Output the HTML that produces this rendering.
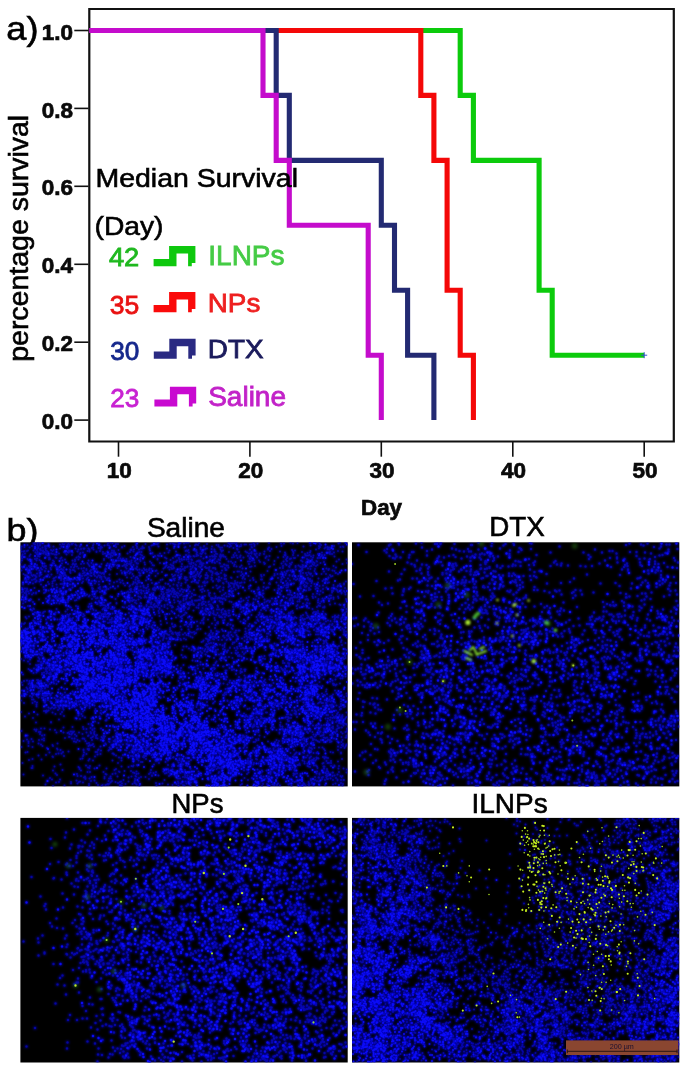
<!DOCTYPE html>
<html><head><meta charset="utf-8"><title>fig</title>
<style>
html,body{margin:0;padding:0;background:#fff;}
body{width:685px;height:1069px;overflow:hidden;}
svg{display:block;will-change:transform;}
text{font-family:"Liberation Sans",sans-serif;}
.b{font-weight:bold;font-size:22.5px;fill:#0a0a0a;stroke:#0a0a0a;stroke-width:.7px;}
.r{font-size:26.5px;stroke-width:.8px;}
.k{stroke:#000;stroke-width:.6px;}
</style></head><body>
<svg width="685" height="1069" viewBox="0 0 685 1069">
<rect width="685" height="1069" fill="#fff"/>

<g fill="none" stroke="#111" stroke-width="2.2" stroke-linecap="square">
<path d="M89.3 9V441.5H673.8V9Z"/>
</g>
<g stroke="#111" stroke-width="1.6">
<path d="M74.3 420.1H88.5"/>
<path d="M74.3 342.2H88.5"/>
<path d="M74.3 264.3H88.5"/>
<path d="M74.3 186.3H88.5"/>
<path d="M74.3 108.4H88.5"/>
<path d="M74.3 30.5H88.5"/>
<path d="M118.5 442V456.7"/>
<path d="M249.9 442V456.7"/>
<path d="M381.3 442V456.7"/>
<path d="M512.8 442V456.7"/>
<path d="M644.2 442V456.7"/>
</g>
<text class="b" x="73" y="429.2" text-anchor="end">0.0</text>
<text class="b" x="73" y="351.3" text-anchor="end">0.2</text>
<text class="b" x="73" y="273.4" text-anchor="end">0.4</text>
<text class="b" x="73" y="195.4" text-anchor="end">0.6</text>
<text class="b" x="73" y="117.5" text-anchor="end">0.8</text>
<text class="b" x="73" y="39.6" text-anchor="end">1.0</text>
<text class="b" x="119.2" y="478.2" text-anchor="middle">10</text>
<text class="b" x="250.7" y="478.2" text-anchor="middle">20</text>
<text class="b" x="382.1" y="478.2" text-anchor="middle">30</text>
<text class="b" x="513.6" y="478.2" text-anchor="middle">40</text>
<text class="b" x="645.0" y="478.2" text-anchor="middle">50</text>
<text class="b" x="361" y="515" textLength="41" lengthAdjust="spacingAndGlyphs">Day</text>
<text class="r k" fill="#000" transform="translate(27.6 361.8) rotate(-90)" textLength="247" lengthAdjust="spacingAndGlyphs" style="font-size:27px">percentage survival</text>
<text class="k" x="6.3" y="39.7" style="font-size:33px" fill="#000" textLength="32.2" lengthAdjust="spacingAndGlyphs">a)</text>
<text class="k" x="6.6" y="541" style="font-size:32px" fill="#000" textLength="31.9" lengthAdjust="spacingAndGlyphs">b)</text>
<g fill="none" stroke-width="5.1" stroke-linejoin="miter" stroke-linecap="butt">
<path stroke="#0ccb0c" d="M89.3 30.5H460.2V95.4H473.4V160.4H539.1V290.2H552.2V355.2H644.2"/>
<path stroke="#3355cc" stroke-width="1" d="M641.2 355.2h6m-3 -3v6"/>
<path stroke="#f40808" d="M89.3 30.5H420.8V95.4H433.9V160.4H447.1V290.2H460.2V355.2H473.4V420.1"/>
<path stroke="#232a72" d="M89.3 30.5H276.2V95.4H289.3V160.4H381.3V225.3H394.5V290.2H407.6V355.2H433.9V420.1"/>
<path stroke="#c40ccc" d="M89.3 30.5H263.0V95.4H276.2V160.4H289.3V225.3H368.2V355.2H381.3V420.1"/>
</g>
<text class="r k" x="95.5" y="187.2" fill="#000" textLength="202.5" lengthAdjust="spacingAndGlyphs">Median Survival</text>
<text class="r k" x="94.5" y="234.9" fill="#000" textLength="69" lengthAdjust="spacingAndGlyphs">(Day)</text>
<text class="r" x="108.9" y="265.7" fill="#1fb81f" stroke="#1fb81f" textLength="30.4" lengthAdjust="spacingAndGlyphs">42</text>
<path fill="#0ec80e" d="M153.6 266.2V259.0H169.1V246.1H195.4V263.0H191.8V266.2H188.1V253.6H176.5V266.2Z"/>
<text class="r" x="208.3" y="265.3" fill="#45cb45" stroke="#45cb45" style="font-size:28.3px" textLength="76.2" lengthAdjust="spacingAndGlyphs">ILNPs</text>
<text class="r" x="109.8" y="313.6" fill="#e91212" stroke="#e91212" textLength="29.5" lengthAdjust="spacingAndGlyphs">35</text>
<path fill="#fa0a0a" d="M153.6 312.2V305.0H169.1V292.1H195.4V309.0H191.8V312.2H188.1V299.6H176.5V312.2Z"/>
<text class="r" x="207.8" y="312.2" fill="#ee2020" stroke="#ee2020" style="font-size:26.5px" textLength="52.5" lengthAdjust="spacingAndGlyphs">NPs</text>
<text class="r" x="110.2" y="360.2" fill="#16288c" stroke="#16288c" textLength="29.1" lengthAdjust="spacingAndGlyphs">30</text>
<path fill="#2a2a82" d="M153.8 358.7V351.5H169.3V338.8H195.6V355.5H192.0V358.7H188.3V346.3H176.7V358.7Z"/>
<text class="r" x="207.8" y="358.2" fill="#1b1b5c" stroke="#1b1b5c" style="font-size:26.5px" textLength="55.7" lengthAdjust="spacingAndGlyphs">DTX</text>
<text class="r" x="110.2" y="406.8" fill="#c822d2" stroke="#c822d2" textLength="29.1" lengthAdjust="spacingAndGlyphs">23</text>
<path fill="#c80ad0" d="M154.4 406.6V399.4H169.9V386.7H196.2V403.4H192.6V406.6H188.9V394.2H177.3V406.6Z"/>
<text class="r" x="208.2" y="405.9" fill="#c222c8" stroke="#c222c8" style="font-size:26.8px" textLength="77.8" lengthAdjust="spacingAndGlyphs">Saline</text>
<text x="185.9" y="537.0" class="k" text-anchor="middle" fill="#000" style="font-size:27px" textLength="78" lengthAdjust="spacingAndGlyphs">Saline</text>
<text x="517.0" y="536.4" class="k" text-anchor="middle" fill="#000" style="font-size:27px" textLength="55.5" lengthAdjust="spacingAndGlyphs">DTX</text>
<text x="197.5" y="812.6" class="k" text-anchor="middle" fill="#000" style="font-size:27px" textLength="52" lengthAdjust="spacingAndGlyphs">NPs</text>
<text x="509.6" y="812.7" class="k" text-anchor="middle" fill="#000" style="font-size:27px" textLength="76" lengthAdjust="spacingAndGlyphs">ILNPs</text>
<defs>
<filter id="bl" x="0" y="0" width="100%" height="100%" filterUnits="userSpaceOnUse" color-interpolation-filters="sRGB"><feGaussianBlur stdDeviation="0.9"/></filter><filter id="bl2" x="0" y="0" width="100%" height="100%" filterUnits="userSpaceOnUse" color-interpolation-filters="sRGB"><feGaussianBlur stdDeviation="1.8"/></filter>
<clipPath id="c_saline"><rect x="20.4" y="542.3" width="327.3" height="244.1"/></clipPath>
<clipPath id="c_dtx"><rect x="352" y="542.3" width="327.3" height="244.1"/></clipPath>
<clipPath id="c_nps"><rect x="20.4" y="817.9" width="327.3" height="244.6"/></clipPath>
<clipPath id="c_ilnps"><rect x="352" y="817.9" width="327.3" height="244.6"/></clipPath>
</defs>
<rect x="20.4" y="542.3" width="327.3" height="244.1" fill="#000"/>
<g clip-path="url(#c_saline)">
<defs><path id="pa_saline" d="M85 1086h0m109 1h0m80 0h0m34 0h0m50-2h0m262 0h0m8 1h0m3 1h0m60-2h0m-642 5h0m21 4h0m27-3h0m30 3h0m7-1h0m28-4h0m12 2h0m24-1h0m30 2h0m121 1h0m8 1h0m117-2h0m177-3h0m13 3h0m30-3h0m-624 8h0m43 2h0m17 3h0m2 0h0m12 0h0m75-6h0m170 2h0m17 2h0m103 0h0m154-4h0m3 2h0m-586 10h0m17-1h0m16-3h0m56 7h0m1-1h0m46-5h0m16 4h0m7-1h0m32 3h0m1-2h0m2-2h0m27 0h0m53 3h0m69-6h0m215 7h0m1-3h0m15-2h0m-606 8h0m12 5h0m10-7h0m20 4h0m78-2h0m45-2h0m56 4h0m6 2h0m11-1h0m21-3h0m16-2h0m45 2h0m8 0h0m37 0h0m93 3h0m99-2h0m41 1h0m1-1h0m4 1h0m-590 6h0m2 5h0m22 0h0m34-5h0m13 3h0m33-2h0m20-2h0m38-1h0m9 1h0m12 1h0m4-1h0m3 2h0m77 4h0m5-2h0m81 0h0m11-4h0m57 0h0m133 3h0m6-2h0m-573 11h0m0 1h0m15-6h0m6 5h0m1-5h0m33 3h0m8 0h0m8 3h0m2-3h0m63 3h0m3-1h0m5-4h0m7 4h0m14-2h0m6 1h0m7-3h0m12 3h0m26 2h0m348-2h0m38-3h0m-598 10h0m7 2h0m4-3h0m13-2h0m21 7h0m17-4h0m19 0h0m55-2h0m2 6h0m21 0h0m7-7h0m43 2h0m1 0h0m4 1h0m39 3h0m50-3h0m37-1h0m12 1h0m88-2h0m60 3h0m34 3h0m13-1h0m47-4h0m37 3h0m8-1h0m-634 6h0m24-1h0m41-1h0m2 2h0m1 1h0m34 3h0m16-3h0m19-2h0m56 1h0m37 0h0m0-1h0m11 6h0m33 0h0m51-7h0m0 4h0m110-1h0m73 2h0m68-1h0m47-3h0m-629 11h0m5-2h0m25 5h0m13-6h0m24 2h0m12 1h0m7-1h0m2 3h0m3 0h0m7-2h0m6-1h0m3 1h0m1 3h0m138-1h0m62-3h0m184 3h0m2-1h0m45-5h0m12 1h0m5 3h0m3 2h0m42 0h0m-606 7h0m6-1h0m8 1h0m26-5h0m43 7h0m6 0h0m11 0h0m10 0h0m22-7h0m4 7h0m7-6h0m17 2h0m13-2h0m36 5h0m29 0h0m28 1h0m29-7h0m2 1h0m47-1h0m176 6h0m36 0h0m1-2h0m47 2h0m20-4h0m-578 9h0m35 4h0m8-3h0m15 0h0m61 1h0m15 0h0m89 1h0m171 1h0m15-4h0m61 3h0m20-5h0m52 0h0m47 3h0m1 1h0m-637 6h0m17 1h0m16 2h0m14-2h0m11-1h0m2 2h0m3-3h0m5 3h0m9 1h0m19-2h0m15 2h0m7-3h0m22 4h0m20-1h0m68-4h0m52 0h0m48 4h0m86 0h0m49 1h0m66-2h0m22-4h0m0 2h0m12 1h0m27 2h0m21-4h0m12-1h0m12 5h0m14 0h0m-595 9h0m5-7h0m6 1h0m4-1h0m10 3h0m2 1h0m6-4h0m13 7h0m5-1h0m13-4h0m6 1h0m20 1h0m20-3h0m28 3h0m8-1h0m4-1h0m8 5h0m13 0h0m3-7h0m21 2h0m6 4h0m6 0h0m32 1h0m36 0h0m103-4h0m42-2h0m1 4h0m35-3h0m34 0h0m12 2h0m-558 11h0m2-5h0m6 1h0m0 3h0m46-5h0m14-1h0m14 7h0m1-3h0m11-3h0m0 4h0m1-3h0m4 4h0m17-4h0m6-2h0m37 4h0m2 3h0m20-5h0m25-1h0m6 1h0m3 1h0m42 0h0m5 2h0m7-1h0m26 3h0m67-4h0m62-3h0m84 5h0m6-3h0m10-1h0m37 2h0m1-3h0m48 2h0m-595 7h0m1 0h0m27 5h0m9-3h0m1-2h0m11 0h0m1 5h0m8-5h0m6 1h0m3-2h0m1 4h0m1-4h0m4 5h0m60 0h0m11 1h0m8-6h0m35 2h0m5 2h0m7-3h0m39 2h0m23 2h0m21 0h0m90-1h0m43 3h0m5-4h0m38 0h0m47-2h0m1-1h0m7 5h0m5 2h0m10 0h0m61-6h0m11 1h0m36 1h0m-650 11h0m16-2h0m9-4h0m34 0h0m29 3h0m5 1h0m46 0h0m33-2h0m9 4h0m40-1h0m14-1h0m89 0h0m8-4h0m98 2h0m2 0h0m11 5h0m6-5h0m13 1h0m3 3h0m4-1h0m11-5h0m4 7h0m7-4h0m14-3h0m5 0h0m16 7h0m7-4h0m27 3h0m10-2h0m74-2h0m-639 6h0m12 3h0m38 3h0m4 1h0m41-3h0m11 3h0m1-6h0m21 6h0m33-2h0m3 0h0m17 1h0m2 0h0m5 1h0m21-5h0m4 1h0m9-1h0m2 1h0m9 2h0m2 0h0m3 1h0m2-4h0m5 2h0m2-2h0m66 0h0m0 5h0m53-5h0m8-1h0m43 6h0m27 0h0m1-6h0m4 5h0m7-2h0m5-4h0m1 3h0m1-3h0m31 3h0m4 3h0m6-4h0m18 1h0m115 1h0m-620 8h0m9-4h0m2 1h0m1 5h0m1 1h0m23-3h0m1-4h0m5 4h0m9-4h0m1 1h0m29 3h0m2 0h0m7-3h0m4 0h0m1 5h0m13-6h0m11 4h0m5 2h0m1-1h0m2-1h0m3-2h0m20 1h0m4 1h0m11-2h0m10 0h0m0 5h0m3-4h0m7 2h0m16-5h0m3 2h0m0 5h0m15-4h0m1 1h0m4 0h0m5-4h0m3 2h0m2 5h0m8-6h0m18-1h0m8 4h0m15-1h0m53-3h0m4 5h0m13 1h0m48-1h0m22-2h0m2 2h0m1-4h0m61-1h0m6 4h0m4-4h0m15 7h0m53-2h0m13-1h0m42 2h0m-616 6h0m5-3h0m1 5h0m11-6h0m9 3h0m5-2h0m8 6h0m16-2h0m1-4h0m1 3h0m4-4h0m7 7h0m15-6h0m4 3h0m1-4h0m11 6h0m22-4h0m9 3h0m7-4h0m25 5h0m3-4h0m5 2h0m1 2h0m7-1h0m14-5h0m3 5h0m2 1h0m2-4h0m1 0h0m3-2h0m10 3h0m5 2h0m44 1h0m11-1h0m36-4h0m99 0h0m19 2h0m26-2h0m5 2h0m23-3h0m9 3h0m8-1h0m3 0h0m7-1h0m4 6h0m1-4h0m40-2h0m3 0h0m11-1h0m1 7h0m1-6h0m5 2h0m3 0h0m4 2h0m40 2h0m1-4h0m-632 12h0m3-1h0m7 0h0m3 1h0m8-4h0m12 4h0m9-7h0m21 5h0m1 1h0m1-5h0m8 5h0m2-2h0m2-2h0m3-1h0m3 5h0m4-1h0m3 2h0m0-1h0m7-6h0m9 3h0m4-3h0m1 6h0m0 1h0m5-7h0m9 3h0m1-1h0m4 3h0m1-1h0m1-2h0m5 3h0m2 1h0m8-3h0m22 0h0m2 0h0m0 3h0m1 0h0m3-4h0m17 4h0m6-3h0m9 1h0m0-3h0m13 5h0m0 1h0m1-4h0m4 3h0m1-1h0m0-1h0m1-3h0m5 3h0m5 0h0m1 3h0m2-5h0m1-1h0m62 1h0m9 2h0m10 1h0m6 0h0m59 1h0m15-6h0m25 6h0m37 0h0m12-6h0m7 4h0m6 1h0m12-1h0m2 0h0m18-3h0m3 4h0m17-5h0m16 6h0m10-6h0m47 3h0m9 0h0m-642 7h0m1 3h0m18-3h0m0 4h0m5-1h0m12-5h0m4 6h0m5 0h0m11-3h0m3 2h0m4 0h0m13-3h0m0 5h0m2-7h0m10 3h0m1 1h0m0 2h0m6-5h0m5 5h0m4 0h0m3-2h0m2-3h0m2 0h0m10 5h0m3 0h0m3-2h0m0-1h0m1 1h0m1 0h0m2-1h0m2 2h0m2 2h0m8-4h0m4 2h0m1 1h0m10-2h0m6 1h0m1-3h0m2 1h0m1 2h0m15-1h0m5 1h0m5 1h0m1-1h0m3-3h0m2 2h0m1-3h0m3 2h0m2 1h0m1 2h0m3-5h0m16 6h0m3-1h0m0-6h0m5 7h0m10-5h0m26 1h0m194 0h0m0 2h0m16 0h0m8-4h0m6 4h0m5 1h0m2-3h0m17-2h0m1 6h0m5-4h0m1-3h0m2 2h0m2-2h0m5 5h0m3 2h0m5-2h0m0-2h0m1 0h0m7-1h0m14 2h0m4-4h0m9 1h0m3-1h0m2 1h0m0 4h0m8-5h0m12 4h0m9 3h0m2 0h0m3-2h0m2 1h0m16 0h0m1-5h0m14-1h0m2 7h0m-643 6h0m2 0h0m15 2h0m1-6h0m2 5h0m9 1h0m9-7h0m8 7h0m4-7h0m3 1h0m4 5h0m10-4h0m5 0h0m1 0h0m1-1h0m1 4h0m0-1h0m4-3h0m3 5h0m5-3h0m1 2h0m3-3h0m5 0h0m1-2h0m1 5h0m4 1h0m3-5h0m7 4h0m2 1h0m4-6h0m6 6h0m2-1h0m1 2h0m8-7h0m1 7h0m5-4h0m0 2h0m8-1h0m1 2h0m0-3h0m6-3h0m7 1h0m1 0h0m6 0h0m0 5h0m3-6h0m1 6h0m0-1h0m5 1h0m2-3h0m3 1h0m9 0h0m7 0h0m13-2h0m0-2h0m6 6h0m6-3h0m1 1h0m1-3h0m11 2h0m1 4h0m19 0h0m2-4h0m4 2h0m18 2h0m121-1h0m63-2h0m4 1h0m10-1h0m8-2h0m4 5h0m16-6h0m1 5h0m7-5h0m14 2h0m3 4h0m12-1h0m2-3h0m4 3h0m6-5h0m2 2h0m0 3h0m29-4h0m7 4h0m1-3h0m13-1h0m12 1h0m1-3h0m8 0h0m-636 15h0m2-6h0m1 5h0m5-6h0m1 2h0m1 0h0m0 3h0m1-5h0m1 1h0m1 2h0m1-3h0m1 1h0m0 1h0m3-1h0m6 0h0m1 4h0m2-5h0m0 4h0m6-4h0m4 5h0m1-3h0m5 3h0m4-5h0m16 6h0m1-6h0m3 4h0m24-3h0m8 5h0m9-1h0m1-5h0m0 6h0m2 0h0m9-6h0m3 7h0m4-7h0m8 7h0m0-6h0m3 0h0m5 6h0m3-2h0m1 2h0m4-3h0m0 2h0m7-2h0m4-1h0m0-1h0m2 0h0m12-2h0m2 4h0m5 1h0m6-5h0m3 3h0m11 2h0m1-1h0m4 3h0m1-7h0m4 4h0m5-1h0m9-3h0m39 1h0m4 5h0m7-3h0m3 1h0m3-4h0m52 3h0m56 1h0m66-3h0m5 6h0m0-5h0m4 4h0m6-1h0m2-2h0m37-1h0m5 5h0m5-7h0m3 2h0m1 5h0m1-1h0m4 1h0m14 0h0m13-7h0m2 2h0m0 4h0m4 1h0m1-5h0m11 4h0m25-5h0m2 0h0m3 6h0m3-7h0m7 1h0m1 1h0m11 3h0m22 2h0m-647 3h0m1 1h0m2 1h0m6 0h0m1-3h0m0 2h0m1 2h0m1 1h0m2-2h0m3 1h0m1-5h0m8 5h0m15 2h0m1-7h0m0 1h0m19 3h0m4-3h0m6-1h0m8 6h0m5-2h0m0 2h0m9-3h0m3-2h0m4 1h0m1 5h0m1-1h0m0-1h0m2 1h0m1-2h0m8 2h0m1-6h0m1 6h0m9-2h0m5-2h0m4-2h0m2 6h0m1-3h0m2 0h0m0 4h0m3-6h0m3 4h0m12-4h0m6 3h0m1 2h0m13-2h0m2-3h0m3 4h0m1-3h0m3 5h0m1 0h0m9-1h0m2 1h0m1-3h0m9 0h0m0-3h0m2 2h0m6 1h0m3 2h0m16-1h0m4 2h0m2-7h0m18 5h0m5-5h0m10 3h0m23 3h0m6 0h0m9 1h0m66-4h0m16-1h0m24 5h0m15-1h0m36 0h0m8-2h0m3-2h0m40-2h0m14 2h0m3 4h0m5-3h0m1 2h0m4 1h0m16-5h0m3 1h0m32 5h0m13-5h0m3-1h0m0 3h0m23-1h0m-639 6h0m1 2h0m5 4h0m1-6h0m4 0h0m3 2h0m2 3h0m2-2h0m2-4h0m1 1h0m2 2h0m6-2h0m6 3h0m6-3h0m3 0h0m1 0h0m4-1h0m5 4h0m13-2h0m16 0h0m0 5h0m11-7h0m4 7h0m4-4h0m2 2h0m5-5h0m1 2h0m4-2h0m0 2h0m1 2h0m8 0h0m9 0h0m2 0h0m1-3h0m0 2h0m0 4h0m5-4h0m2 2h0m1-2h0m0 2h0m1-2h0m0 2h0m6 2h0m3 0h0m3 0h0m1-7h0m4 4h0m1-4h0m4 5h0m1 0h0m1 1h0m0 1h0m1-5h0m0 2h0m1-4h0m2 1h0m2 5h0m1-1h0m4 2h0m0-5h0m5 0h0m0 1h0m1-2h0m0 6h0m7-6h0m0 1h0m8 5h0m6-5h0m7-1h0m0 1h0m6 1h0m6 2h0m1-2h0m1 0h0m2 2h0m7-3h0m2 1h0m0-3h0m4 2h0m1-1h0m1 4h0m4-3h0m10 2h0m3-2h0m9 2h0m4 0h0m2 2h0m162 1h0m15-2h0m2-1h0m16 0h0m12-1h0m4-1h0m7 0h0m28 3h0m3 0h0m10-3h0m6-1h0m3 5h0m2-2h0m9-3h0m19 3h0m19-4h0m2 5h0m-586 9h0m1-3h0m1 4h0m3-3h0m1 3h0m0-7h0m5 3h0m6 0h0m9 1h0m10 2h0m4-2h0m0 2h0m2 1h0m0-6h0m1 1h0m1-2h0m4 3h0m2 1h0m2 2h0m8-3h0m12 4h0m4-2h0m4-1h0m7-3h0m0 2h0m1 2h0m2-3h0m0 4h0m1-3h0m0-1h0m2 3h0m7 0h0m4-1h0m1-3h0m2-1h0m1 4h0m7-1h0m2 4h0m9-1h0m4-4h0m1-2h0m9 5h0m7-5h0m9 3h0m2 1h0m6-3h0m14 6h0m1-1h0m3-6h0m1 1h0m4 4h0m1 2h0m3-3h0m4-2h0m3 0h0m0 4h0m1-5h0m2 6h0m8-6h0m6 6h0m1-7h0m2 2h0m5-1h0m8-1h0m26 5h0m1 0h0m17 0h0m1-5h0m4 4h0m7-4h0m0 7h0m50-1h0m39 1h0m6-7h0m51 0h0m9 5h0m17 1h0m9-5h0m1 3h0m3-1h0m2-1h0m7 4h0m12-3h0m1 3h0m12-4h0m9 4h0m30-4h0m19 4h0m10-2h0m7 1h0m10-1h0m13-1h0m2 3h0m6-2h0m4-3h0m1 0h0m3 3h0m-628 11h0m4-7h0m1 1h0m5 5h0m1-3h0m8 4h0m0-4h0m5 3h0m8 1h0m5-4h0m4-1h0m12 5h0m0-2h0m2-4h0m0 1h0m1 2h0m5 2h0m1 1h0m1-4h0m9 3h0m7 0h0m24 0h0m0-4h0m5-1h0m2 2h0m0 3h0m2-4h0m1-2h0m13 2h0m7 5h0m7-4h0m14 4h0m2-1h0m2-1h0m0 1h0m1-3h0m19 2h0m2 2h0m7-6h0m8 4h0m6-3h0m2 1h0m1 1h0m5 2h0m1-2h0m4-1h0m21 4h0m0-4h0m5 1h0m0 1h0m3-4h0m0 4h0m1 0h0m6-2h0m8 1h0m2 3h0m5-2h0m0 2h0m1-3h0m7-4h0m9 2h0m1-2h0m64 1h0m12-1h0m20 5h0m4 2h0m67-7h0m3 6h0m8 1h0m1-1h0m4 0h0m2-4h0m33-2h0m4 1h0m12 3h0m1 2h0m0-1h0m10-3h0m0 2h0m5 0h0m1 3h0m0-2h0m2 2h0m12-3h0m7 1h0m3-1h0m6-3h0m8 3h0m11 3h0m6-4h0m10 0h0m2 4h0m6-1h0m1-3h0m4-2h0m2 5h0m1-1h0m1-5h0m6 2h0m2 5h0m21-5h0m-639 7h0m5 1h0m2 5h0m2-1h0m8-6h0m1 7h0m4-2h0m4 0h0m10-3h0m17 3h0m11-3h0m6 5h0m9 0h0m6-5h0m0 1h0m6 4h0m2-7h0m2 2h0m1 1h0m6-3h0m3 6h0m4 1h0m1-1h0m6-5h0m1 4h0m1-5h0m3 5h0m2-1h0m1 3h0m0-2h0m1-3h0m2 1h0m0 2h0m4-4h0m3 1h0m1 4h0m1-1h0m1-2h0m0 3h0m0-6h0m17 4h0m12 1h0m6-4h0m0-1h0m1 7h0m1-7h0m0 2h0m0 2h0m2 3h0m2-1h0m1-4h0m2 4h0m7-3h0m3 2h0m1-1h0m5 3h0m0-7h0m1 3h0m1 4h0m22-7h0m8 0h0m3 0h0m1 4h0m2 1h0m3 1h0m2-1h0m7-3h0m0 3h0m0 2h0m0-6h0m1 0h0m1 0h0m0-1h0m2 7h0m2-6h0m10 2h0m5-2h0m1 6h0m4-6h0m2 2h0m7-1h0m0 5h0m6-7h0m6 5h0m1-4h0m45 6h0m8-6h0m6 6h0m30-2h0m15-1h0m1-4h0m55 2h0m1 0h0m38 3h0m4-1h0m5 3h0m10-5h0m2 4h0m1-6h0m10 0h0m3 1h0m3 2h0m4-2h0m6 0h0m4 2h0m1 0h0m5 2h0m7 1h0m2-5h0m0 4h0m8-1h0m26-2h0m4 2h0m15-4h0m3 3h0m4 3h0m8-4h0m10 2h0m7-1h0m-643 5h0m7 1h0m4 2h0m24 2h0m19 0h0m1-3h0m1 2h0m7-4h0m2 2h0m4 3h0m18 0h0m3-5h0m4 5h0m1 2h0m0-6h0m2 3h0m0 2h0m3-4h0m1 4h0m0-5h0m2 1h0m8 0h0m4 5h0m2-4h0m1 3h0m0-4h0m4 0h0m2 1h0m1 1h0m3 0h0m3 0h0m4 3h0m0-4h0m7 0h0m0 3h0m7-6h0m1 2h0m7 0h0m1 3h0m2 2h0m3-6h0m8 2h0m6 0h0m1 3h0m2-3h0m0 3h0m3-1h0m1 1h0m5 0h0m2 1h0m10-6h0m3 4h0m15-1h0m8-2h0m1-2h0m0 3h0m1 1h0m1-4h0m3 6h0m6-6h0m2 0h0m1 3h0m5-3h0m3 1h0m1 4h0m1 1h0m11-5h0m2 3h0m1 3h0m1-1h0m6 1h0m1-5h0m7 0h0m1 0h0m18 2h0m37-2h0m6-2h0m22 0h0m3 1h0m24 3h0m45 0h0m14 3h0m17-5h0m23 4h0m15-5h0m15 1h0m2-2h0m0 4h0m9 2h0m1-3h0m9-2h0m8-1h0m0 5h0m4-4h0m5 1h0m3 3h0m3-2h0m6-2h0m2 2h0m6-3h0m1 4h0m1-4h0m2 3h0m6 4h0m2-2h0m0-5h0m3 6h0m1-3h0m3 3h0m10-6h0m2 2h0m3 0h0m1 5h0m4-7h0m4 6h0m5-4h0m4 3h0m-594 6h0m7 3h0m2-6h0m10 4h0m4 0h0m9 1h0m3-3h0m4-2h0m4 2h0m2 3h0m1-3h0m3 3h0m0 2h0m5-3h0m3 3h0m4-5h0m0-1h0m2-1h0m1 1h0m0 3h0m9 2h0m0-6h0m1 4h0m6 1h0m1 1h0m0-3h0m8 4h0m8-6h0m1-1h0m1 7h0m1-5h0m1 5h0m2-4h0m4 4h0m1-2h0m4 1h0m1-1h0m1 1h0m1-3h0m1-2h0m0 3h0m3 0h0m2-1h0m6-3h0m0 4h0m3 2h0m2-4h0m2-1h0m6 1h0m1 1h0m2-3h0m3 0h0m0 4h0m2 3h0m6-3h0m1 2h0m4-6h0m5 0h0m4 6h0m1-3h0m0 3h0m1-1h0m1-5h0m12 5h0m1 2h0m5 0h0m5-3h0m1 2h0m8 1h0m13-6h0m13 1h0m0 3h0m10 1h0m0-6h0m0 3h0m2 4h0m0-6h0m1 2h0m7-3h0m2 7h0m3-1h0m2-5h0m51 1h0m19-1h0m38 0h0m16 3h0m6-1h0m3-3h0m7 1h0m18-1h0m8 5h0m9-4h0m2-1h0m19 4h0m2-4h0m37 0h0m10 4h0m1 0h0m4-2h0m20 4h0m1-6h0m4 0h0m7 4h0m2 1h0m4-3h0m1 0h0m2 0h0m0 5h0m3-5h0m3 1h0m19 4h0m1-3h0m13-3h0m7 1h0m1 3h0m1 2h0m1-1h0m0 1h0m-607 7h0m6-3h0m16 0h0m0-3h0m7 2h0m1 5h0m5-4h0m2 0h0m5 3h0m1-3h0m2 4h0m1-1h0m8-4h0m2 0h0m8-2h0m1 0h0m4 5h0m5-3h0m3 5h0m1-3h0m0 1h0m4-5h0m0 3h0m2 1h0m1-1h0m1 0h0m2 3h0m4-6h0m0 7h0m4-7h0m3 1h0m0-1h0m9 0h0m1 2h0m1 4h0m2-5h0m6 2h0m1 1h0m5 2h0m0 1h0m3-2h0m1 2h0m11-6h0m1 3h0m2-3h0m6-1h0m7 1h0m3 5h0m17-2h0m7 2h0m2-2h0m10-1h0m4 4h0m1-1h0m0-1h0m4 2h0m3-6h0m1 0h0m1 5h0m1 1h0m1-6h0m1 5h0m3-6h0m8 3h0m3-2h0m4 5h0m4-1h0m9-4h0m2 4h0m4-5h0m2 0h0m3 3h0m1 2h0m3-4h0m1 3h0m2 2h0m1 0h0m0-2h0m3 3h0m0-6h0m2 4h0m5 1h0m34-1h0m1 2h0m3 0h0m20-6h0m7-1h0m3 3h0m20 0h0m18-1h0m10 3h0m13-2h0m48-1h0m8 3h0m2-4h0m1 5h0m1-1h0m6-1h0m7 2h0m1 0h0m4-2h0m17 0h0m1 1h0m11 2h0m12-5h0m0 5h0m3-2h0m0 2h0m3-3h0m2 1h0m2 1h0m2-5h0m0 3h0m0 2h0m2 1h0m1 0h0m14 0h0m2-4h0m1 1h0m0 2h0m1-5h0m3 5h0m2-2h0m0-2h0m3 0h0m2 2h0m2-1h0m3-3h0m0 3h0m3 1h0m5-2h0m6 3h0m0 2h0m13-6h0m2 2h0m5 0h0m1 3h0m10-1h0m1 2h0m-627 7h0m10-3h0m1 2h0m3-2h0m5-2h0m22 2h0m10 0h0m1-1h0m2 0h0m1 2h0m1 2h0m16-4h0m2 1h0m3 2h0m4-3h0m4 0h0m5 1h0m1-3h0m3 6h0m0-5h0m1 4h0m3 1h0m2 1h0m0-7h0m1 1h0m3 4h0m6-3h0m0 5h0m1-3h0m1-2h0m4 3h0m2-5h0m0 3h0m2-1h0m0-1h0m1 1h0m3 4h0m1-2h0m10-2h0m5 4h0m0-3h0m8-3h0m3 1h0m17 5h0m2-6h0m7 2h0m2-1h0m0 5h0m1-2h0m1-1h0m4 1h0m1-1h0m5-2h0m0 4h0m2-2h0m1 3h0m2-3h0m4 1h0m1 0h0m1 1h0m4 1h0m2-4h0m4 3h0m1-4h0m8 6h0m6-7h0m6 5h0m7 0h0m3-2h0m7 1h0m0-4h0m3 0h0m4 3h0m4-3h0m1 6h0m4-2h0m3 2h0m5 1h0m4-7h0m12 2h0m3 5h0m29-4h0m37-1h0m51 3h0m61-3h0m8 4h0m1-1h0m8-5h0m1 0h0m1 6h0m4 0h0m23 1h0m5-7h0m2 5h0m12 2h0m0-5h0m1 4h0m0-1h0m0-5h0m6 2h0m1 4h0m9-4h0m5 1h0m1 3h0m4-5h0m4 3h0m4 0h0m1 1h0m1-4h0m1 4h0m2-1h0m6 0h0m0 1h0m2-2h0m0-3h0m2 6h0m9-5h0m3-1h0m1 6h0m2-6h0m4 0h0m8 3h0m6-2h0m4 6h0m5-7h0m-648 9h0m45 6h0m24-2h0m0 1h0m1-3h0m1 2h0m5-5h0m15 4h0m5 2h0m10-5h0m10 5h0m1 1h0m4-7h0m5 1h0m1 0h0m3 0h0m1 3h0m1-1h0m9-2h0m1 1h0m2 4h0m2-4h0m7 4h0m13-6h0m5 0h0m1 1h0m1 6h0m1-1h0m2-1h0m6-5h0m3 5h0m1-3h0m5 4h0m2 1h0m1-7h0m1 7h0m3-7h0m1 1h0m2 6h0m2-1h0m8-6h0m8 2h0m8-2h0m1 4h0m5-4h0m10 1h0m6 6h0m1 0h0m1-4h0m9 2h0m3-2h0m2 4h0m16-6h0m13 1h0m2 0h0m2-2h0m5 6h0m9-5h0m13 2h0m23 0h0m9-3h0m11 2h0m5 1h0m2 3h0m4-4h0m0 3h0m2 1h0m11 1h0m9-3h0m7-3h0m1 2h0m63-3h0m13 3h0m22 3h0m20-1h0m0-4h0m27 5h0m3-5h0m1 2h0m8-3h0m5 7h0m9 0h0m11-7h0m0 2h0m1-1h0m0 4h0m2-3h0m13 3h0m10-5h0m1 3h0m15 4h0m2-4h0m0 3h0m2-2h0m4 3h0m7-3h0m-605 7h0m2-2h0m1 1h0m7 3h0m2 1h0m0-4h0m9 5h0m0-7h0m1 4h0m1-1h0m4-1h0m10 3h0m4 1h0m5-6h0m1 5h0m13-1h0m6 3h0m8-1h0m4 1h0m0-5h0m2 1h0m0 2h0m1-5h0m1 2h0m0 4h0m2-1h0m0-4h0m2 0h0m2 5h0m2-3h0m1 3h0m14-1h0m2 1h0m1 1h0m1-7h0m2 2h0m1 1h0m0 2h0m4-4h0m3 5h0m2-3h0m4 4h0m1-1h0m1-1h0m1-5h0m2 7h0m1 0h0m1-6h0m2 3h0m0 3h0m0-6h0m8 4h0m2-4h0m1 1h0m7 0h0m1 1h0m2-2h0m0 2h0m5-2h0m0 3h0m8-1h0m2 4h0m2-3h0m1 2h0m3-4h0m8-1h0m0 5h0m3-6h0m3 5h0m0-1h0m1 0h0m10-4h0m6 0h0m0 1h0m9-1h0m60 2h0m8-1h0m8 3h0m15-1h0m7 1h0m6 3h0m8-7h0m1 5h0m9-1h0m23-3h0m1 5h0m50-5h0m7-1h0m5 2h0m1 2h0m12-1h0m18-2h0m11 0h0m2 6h0m7-4h0m25 0h0m6 1h0m11-1h0m3 3h0m0-1h0m1-2h0m5-2h0m0 4h0m4-3h0m7-1h0m2 0h0m4 1h0m8-2h0m1 4h0m23 2h0m-597 8h0m2-5h0m11 5h0m6 1h0m12-7h0m8 5h0m14-2h0m18-2h0m10 6h0m3-5h0m7 2h0m0-4h0m12 1h0m8 6h0m1-2h0m6-3h0m1 1h0m1 1h0m0 3h0m1-7h0m1 0h0m1 7h0m1-5h0m3 1h0m1 1h0m9-2h0m1 0h0m1 5h0m3-2h0m1 2h0m0-6h0m1 1h0m2 0h0m0 4h0m2 0h0m2 1h0m1-2h0m3 2h0m1-7h0m0 4h0m7 2h0m1-2h0m1-4h0m0 4h0m2 0h0m1 2h0m1-2h0m2 1h0m1-1h0m3 3h0m0-7h0m4 3h0m6 4h0m2-6h0m1 6h0m0-3h0m4-2h0m2 2h0m3-4h0m0 2h0m1 3h0m1-3h0m3-2h0m3 5h0m2-4h0m1 0h0m2 0h0m29 6h0m1-7h0m2 5h0m11 1h0m4-2h0m1-3h0m2 2h0m3 4h0m13-1h0m38-1h0m19-1h0m1-2h0m8 3h0m1-2h0m2 1h0m13 1h0m11-3h0m5 4h0m1-6h0m26 6h0m9 0h0m1-5h0m3-1h0m13 2h0m4 3h0m4 0h0m2-5h0m13 5h0m7-3h0m2 1h0m23-3h0m15 2h0m0-1h0m2 4h0m4 2h0m15-5h0m17-1h0m1 0h0m2 0h0m0 2h0m7-2h0m7 1h0m6 4h0m3-1h0m1-2h0m5-2h0m1 0h0m24 4h0m39-1h0m-629 6h0m0-1h0m0 5h0m14-6h0m1 4h0m3 1h0m1-2h0m3 1h0m5-2h0m31 5h0m20-6h0m2-1h0m8 1h0m8-1h0m7 0h0m2 4h0m2-1h0m0 2h0m4-3h0m2-2h0m1 2h0m1-2h0m2 5h0m1-3h0m1 0h0m2 3h0m0-3h0m2 5h0m6-3h0m4-4h0m7 7h0m0-1h0m2 1h0m0-1h0m2-2h0m4 0h0m4 1h0m1 1h0m0-6h0m1 7h0m1-5h0m1 5h0m0-6h0m3 1h0m5 1h0m2-2h0m0 3h0m10-2h0m0 1h0m1 0h0m1-3h0m2 2h0m4-2h0m2 2h0m8-2h0m11 4h0m1 0h0m8-3h0m0-1h0m2 4h0m8-3h0m4 4h0m4 2h0m5-7h0m1 1h0m4-1h0m3 2h0m4-1h0m1 5h0m16-5h0m5 5h0m23-3h0m10-3h0m2 3h0m7 1h0m2 1h0m7-5h0m2 6h0m3-6h0m2 4h0m6 0h0m0 1h0m2-4h0m4 0h0m3 0h0m1 6h0m6-4h0m2 1h0m10 3h0m5-3h0m3 3h0m2-6h0m26 4h0m2-2h0m4 2h0m7-4h0m0 1h0m1 1h0m10 0h0m3 1h0m0 3h0m9-1h0m7-2h0m9-1h0m13-1h0m10 0h0m15-2h0m2 5h0m2 0h0m4 1h0m2-6h0m7 1h0m1 5h0m11-1h0m18 2h0m3-7h0m7 7h0m11-1h0m1-3h0m5 3h0m3 0h0m58 1h0m-641 7h0m13-1h0m1-1h0m5 0h0m30 3h0m7-6h0m30 1h0m28 5h0m1-3h0m3 0h0m0 2h0m3-6h0m2 0h0m2 2h0m1 2h0m4 3h0m1-7h0m4 1h0m8-1h0m6 7h0m0-7h0m0 1h0m4 1h0m5-2h0m13 7h0m1-3h0m1-4h0m4 0h0m1 4h0m2-1h0m0 2h0m6 1h0m9-6h0m2 1h0m0-1h0m1 7h0m5-1h0m5-3h0m1 3h0m12-3h0m3-2h0m14 6h0m1-1h0m1-1h0m1 2h0m6-4h0m0 4h0m2-7h0m3 1h0m1 2h0m6-1h0m1-2h0m3 2h0m9 0h0m1 3h0m6 2h0m7-2h0m4-1h0m10-4h0m3 4h0m15 2h0m7-6h0m0 3h0m27 0h0m1 2h0m1-5h0m0 5h0m1-4h0m1 0h0m5 3h0m3-4h0m0 2h0m6 5h0m4-4h0m3-2h0m3 5h0m3-2h0m2-2h0m1 4h0m7 1h0m1-1h0m16-5h0m2 4h0m1-5h0m10 5h0m1-4h0m7 3h0m13 2h0m5 0h0m1-4h0m2 5h0m1-3h0m26-2h0m4 2h0m2 1h0m1-4h0m3 1h0m3 5h0m2-3h0m4 0h0m3-3h0m0 6h0m16-2h0m1-4h0m5 3h0m1-4h0m0 5h0m2-1h0m2 2h0m3 0h0m3-5h0m5 1h0m4 4h0m5 1h0m1-3h0m4 2h0m9-6h0m1 6h0m4-3h0m6-2h0m3 3h0m1-2h0m2 4h0m0-4h0m2 3h0m0 2h0m3-7h0m1 1h0m0 6h0m2-4h0m8-3h0m34 6h0m11-4h0m-638 10h0m14-1h0m9 2h0m4 0h0m9-2h0m4-2h0m0 2h0m4 0h0m4 0h0m15 4h0m3-6h0m5 2h0m15 4h0m5-4h0m8 2h0m2-5h0m5 0h0m4 7h0m2-2h0m1-4h0m7 2h0m0-1h0m13 2h0m1 3h0m0-1h0m2 0h0m2-2h0m0 1h0m6-1h0m5 3h0m1 0h0m5-4h0m1-1h0m1 4h0m3-3h0m1 4h0m4-3h0m2 2h0m1 1h0m5-5h0m3-2h0m1 6h0m2-3h0m5 0h0m15-2h0m9 3h0m2 2h0m6-6h0m1 4h0m0 1h0m2-4h0m1 1h0m3-1h0m1 2h0m3 4h0m0-5h0m1 5h0m0-3h0m3 1h0m4-5h0m1 3h0m1 3h0m1 1h0m2-3h0m1 0h0m1-3h0m10-1h0m0 3h0m0 2h0m1-4h0m7-1h0m0 6h0m8-5h0m8 1h0m21-2h0m18 6h0m39-5h0m2 5h0m3-1h0m6-1h0m3-4h0m4 6h0m4-2h0m4 3h0m1-5h0m26-2h0m4 6h0m12-6h0m17 7h0m6-6h0m12 0h0m1 0h0m3 6h0m1-4h0m15 2h0m1-3h0m20-2h0m4 5h0m3-2h0m4 2h0m1-1h0m14-3h0m9 3h0m18 2h0m2-5h0m6 0h0m1 5h0m1-5h0m1 4h0m3-2h0m1-3h0m2 1h0m1 2h0m5-3h0m0 4h0m4-2h0m0 4h0m47-1h0m6-5h0m-633 8h0m47 4h0m7 0h0m12-3h0m14 1h0m6 1h0m2 2h0m6 1h0m9-4h0m1 2h0m3 0h0m2-1h0m5-1h0m2 2h0m1 0h0m4-2h0m2 1h0m0 3h0m2 0h0m1-1h0m1 2h0m0-7h0m2 2h0m8-2h0m1 3h0m2-2h0m2 3h0m9 1h0m5-5h0m1 4h0m2-4h0m3 1h0m0 2h0m2 3h0m0-5h0m1 0h0m4 4h0m0-1h0m1 2h0m13-2h0m2-1h0m6-2h0m5 2h0m0 3h0m19 1h0m5-7h0m1 7h0m0-6h0m4 5h0m2-1h0m1-4h0m4 2h0m0-2h0m2 6h0m4-7h0m2 7h0m1-2h0m3-2h0m1-1h0m1 0h0m0 3h0m1 2h0m3-7h0m4 4h0m3 0h0m0-4h0m12 2h0m18 3h0m10-3h0m7 4h0m14 0h0m6-2h0m2-1h0m23 1h0m4 1h0m1-4h0m4 4h0m3-1h0m0-1h0m4 2h0m6-3h0m4-1h0m2 5h0m21-2h0m25-2h0m4 0h0m7 4h0m11-3h0m7 2h0m4-2h0m15 1h0m9 1h0m1-5h0m1 0h0m6 7h0m6-3h0m2-3h0m20 6h0m2-6h0m13 3h0m20-3h0m6 5h0m2-1h0m4-1h0m0 3h0m0-1h0m5 1h0m18-5h0m1-1h0m5 5h0m5-5h0m8 4h0m10-1h0m4 3h0m14-7h0m-595 8h0m17 7h0m11-3h0m6-1h0m2-2h0m9 2h0m7 3h0m5-2h0m17-2h0m5 4h0m7-2h0m2-2h0m4 5h0m5-5h0m6-1h0m2 2h0m3-1h0m4 0h0m10-2h0m3 6h0m11-6h0m0 1h0m2 1h0m3 2h0m3 2h0m1-6h0m1 6h0m4-3h0m1-3h0m0 3h0m8 0h0m7-2h0m1 5h0m8-5h0m2-1h0m1 7h0m0-3h0m3-3h0m4 2h0m2 1h0m0-1h0m2-2h0m2 3h0m5 3h0m0-3h0m1 3h0m2-1h0m8-6h0m1 1h0m1 1h0m2 4h0m1-3h0m0-1h0m7-2h0m1 3h0m0 4h0m2 0h0m1-3h0m1-2h0m2 1h0m1 1h0m22-3h0m4-1h0m9 2h0m11 3h0m1-2h0m3 3h0m9-3h0m4 1h0m2 3h0m4-2h0m12 2h0m2-4h0m4 4h0m40-4h0m7-2h0m15 2h0m5 3h0m1 0h0m5-6h0m6 3h0m4-2h0m16-1h0m6 2h0m3-1h0m6-1h0m4 6h0m0-5h0m20 4h0m1 1h0m4 1h0m8-6h0m1 0h0m1 2h0m1-1h0m9 4h0m1-6h0m9 4h0m9 1h0m6-1h0m5-3h0m19 4h0m3 1h0m7-6h0m30 0h0m14 3h0m20-3h0m4 4h0m-603 9h0m5-3h0m15 0h0m13 1h0m7 0h0m4 1h0m14-1h0m2 0h0m4-3h0m18 7h0m15-6h0m0 1h0m14 3h0m6-1h0m3 2h0m5 1h0m0-3h0m3 0h0m5 0h0m6-4h0m6 6h0m4-4h0m0 4h0m2-1h0m1-3h0m2 5h0m4 0h0m1-5h0m4-2h0m3 1h0m0-1h0m0 5h0m4-3h0m4 4h0m4-5h0m0 1h0m3 2h0m2-3h0m2 2h0m7-3h0m0 4h0m0 2h0m1-4h0m0 4h0m5-4h0m2 4h0m2 1h0m1-2h0m3 1h0m0 1h0m3-1h0m2-6h0m2 3h0m0-1h0m3 1h0m2-3h0m1 2h0m3 0h0m1 2h0m11 0h0m4 3h0m19-2h0m3 2h0m6-7h0m3 4h0m1 1h0m2-3h0m3-2h0m3 2h0m1 2h0m1-3h0m3 1h0m0 3h0m4 1h0m1-3h0m3 4h0m2-4h0m2-3h0m3 3h0m20-2h0m0 6h0m3-5h0m31-2h0m6 7h0m2-2h0m10-3h0m6 5h0m2 0h0m6-4h0m4 4h0m14-4h0m26-2h0m1 2h0m3-1h0m10 3h0m5-1h0m8-1h0m11 1h0m18 3h0m8-1h0m2-4h0m7 5h0m6-3h0m9 2h0m12-5h0m0 4h0m1 0h0m1-3h0m3 3h0m2-1h0m2 2h0m1-6h0m4 6h0m3 1h0m3 0h0m18-4h0m13 2h0m19-3h0m-547 7h0m14 3h0m3 3h0m8-5h0m30 4h0m16 1h0m11-5h0m8 1h0m1 3h0m1-3h0m3-1h0m0-1h0m9 3h0m4-4h0m1 7h0m3 0h0m5-7h0m2 1h0m2 2h0m0 2h0m0-1h0m2-3h0m0-1h0m1 5h0m5 2h0m1-2h0m12 2h0m1-2h0m1-4h0m1 4h0m0-1h0m0-3h0m2 4h0m4-4h0m3 5h0m1 1h0m1 0h0m1-7h0m0 6h0m1-5h0m1 3h0m2-2h0m4 1h0m1 0h0m8 4h0m3-4h0m2 3h0m7-4h0m0 2h0m2 0h0m18-4h0m2 3h0m13 2h0m2-5h0m2 4h0m13 0h0m3-3h0m0 2h0m2-2h0m0 3h0m2 1h0m2 2h0m28-1h0m5-5h0m3 0h0m9 5h0m10 0h0m3-3h0m10-3h0m11 2h0m4 0h0m9 5h0m30-4h0m4-2h0m11 3h0m19-1h0m7 2h0m22-2h0m3 3h0m29-5h0m3 1h0m0 3h0m13-3h0m5 0h0m1 3h0m1 1h0m0-3h0m4 3h0m5-6h0m1 7h0m1 0h0m0-5h0m5-1h0m6 3h0m2-1h0m2-3h0m6 2h0m6 5h0m4-1h0m-600 2h0m89 2h0m34 0h0m16-1h0m8 4h0m7 1h0m2-1h0m1-5h0m4 7h0m1-6h0m2 6h0m4-6h0m0 2h0m7 3h0m1-5h0m2 5h0m3-1h0m0-2h0m3 3h0m1-5h0m4 3h0m3 0h0m1-4h0m3 3h0m3 3h0m2 1h0m3-5h0m0 3h0m1-2h0m1 1h0m1-3h0m0 2h0m8 0h0m3 1h0m0-1h0m3 1h0m2-2h0m3-2h0m1 6h0m1-5h0m2-1h0m3 3h0m2 3h0m3 1h0m5-2h0m5 1h0m6-6h0m2 7h0m3-6h0m0 4h0m0 2h0m18-5h0m6 1h0m10 1h0m2 2h0m2 1h0m1-3h0m3-3h0m8-1h0m1 7h0m7-5h0m5-2h0m11 4h0m4-2h0m32 4h0m10-3h0m0 2h0m4 0h0m23 1h0m33-3h0m8-3h0m3 3h0m5 1h0m18 1h0m5 2h0m1-2h0m29-5h0m23 4h0m6-4h0m4 2h0m2 2h0m2-2h0m9 0h0m12-1h0m11 0h0m0 4h0m4-3h0m2-1h0m9-1h0m4 0h0m-511 13h0m33-2h0m1 2h0m5-3h0m8 3h0m18-1h0m12 2h0m0-6h0m2 5h0m4 2h0m2-2h0m12-2h0m10 0h0m3-3h0m6 6h0m1-3h0m2 2h0m2-3h0m2 2h0m4-4h0m0 2h0m1-2h0m0 4h0m1-4h0m3 5h0m0-1h0m5 1h0m2-5h0m2 3h0m0 3h0m1-5h0m1 0h0m0 4h0m1 1h0m1-1h0m1 0h0m2 0h0m0-1h0m4-1h0m3 1h0m6 0h0m2 1h0m4-5h0m0 6h0m1-2h0m1-1h0m4-1h0m1 4h0m2-4h0m1 2h0m0 3h0m0-1h0m3-4h0m4-2h0m2 5h0m4 0h0m4 0h0m1-5h0m4 3h0m2 4h0m18-2h0m11-4h0m0 5h0m3-2h0m1 3h0m1-2h0m0-5h0m3 2h0m2 0h0m1 0h0m1 3h0m3 2h0m2-6h0m13 4h0m14 2h0m3-4h0m20 2h0m4 0h0m25 2h0m6-7h0m15 7h0m2-7h0m32 7h0m5-3h0m20 1h0m5-1h0m43 1h0m7-5h0m2 5h0m1-4h0m6-1h0m8 0h0m4 3h0m7-2h0m34 2h0m-490 9h0m53-2h0m4 1h0m2-1h0m8 4h0m1-4h0m3 5h0m4-6h0m3 3h0m1-3h0m6 1h0m0 5h0m4-7h0m4 4h0m2-2h0m1 3h0m4-5h0m4 4h0m3-1h0m3 2h0m1-2h0m1 3h0m3 1h0m1-5h0m1-2h0m1 2h0m1 5h0m1-4h0m2 2h0m5-3h0m0 5h0m1-6h0m0 5h0m2 1h0m3-6h0m2 5h0m0 1h0m4-6h0m4 3h0m1 3h0m4-7h0m0 1h0m1 4h0m6 0h0m2 0h0m3 2h0m8-3h0m5 2h0m12-3h0m3 2h0m7-3h0m3-2h0m2 7h0m2-7h0m2 0h0m0 4h0m2-3h0m4 4h0m1-5h0m0 7h0m1-6h0m0-1h0m1 3h0m10-1h0m0 3h0m5-2h0m29-3h0m5 3h0m7 1h0m16-1h0m4 2h0m4-1h0m10-4h0m7 0h0m1 5h0m2-1h0m15 2h0m3-6h0m10 6h0m2-4h0m9 2h0m2-4h0m4 4h0m2-2h0m4 0h0m36 4h0m4-1h0m18-4h0m7-1h0m2 2h0m3 2h0m1 3h0m16 0h0m4-6h0m24 5h0m14-5h0m7 3h0m1-3h0m-502 10h0m28 1h0m7 0h0m9 2h0m8-1h0m9 1h0m3-5h0m2 1h0m1 2h0m1-2h0m4 1h0m2 0h0m0 3h0m2-3h0m1 2h0m7-4h0m1 4h0m3-1h0m8-1h0m1-3h0m1 0h0m1 2h0m1 4h0m4-1h0m1-4h0m0 4h0m1 0h0m1-5h0m2 2h0m2 4h0m1-4h0m20-1h0m2-1h0m1 1h0m1 2h0m1 4h0m0-5h0m1 3h0m0 1h0m2-2h0m5 3h0m1-2h0m4-2h0m2 3h0m5-6h0m1 3h0m1 0h0m0 3h0m2-1h0m3-2h0m0 4h0m14-7h0m1 7h0m3-3h0m2-2h0m2-2h0m2 5h0m1 1h0m2-3h0m4-2h0m4 3h0m0 3h0m3 0h0m8-4h0m1 1h0m1 2h0m4-6h0m4 6h0m1-2h0m2-2h0m4 1h0m2-1h0m2 5h0m27-5h0m2 4h0m6 0h0m10-2h0m14-2h0m0-2h0m14 4h0m3-3h0m8 3h0m0-2h0m14-2h0m8 4h0m1 0h0m23-3h0m31 1h0m3 5h0m8-2h0m5 2h0m3-4h0m0 4h0m4-2h0m17-2h0m36-1h0m6 0h0m-537 12h0m84-2h0m13 0h0m17-2h0m20-2h0m8 3h0m6 0h0m10-2h0m3 2h0m0 2h0m10 2h0m0-7h0m2 4h0m0-1h0m1 3h0m6-2h0m2-3h0m8 3h0m4-2h0m3-2h0m1 5h0m3-2h0m2-3h0m0 5h0m5-4h0m1 4h0m1-5h0m2 0h0m1 6h0m3-3h0m6-2h0m1 2h0m3 3h0m9 1h0m2-3h0m1-2h0m1 3h0m1-5h0m4 2h0m4 5h0m8-3h0m2 3h0m3-7h0m8 2h0m13-2h0m6 0h0m1 6h0m3-6h0m2 5h0m2 2h0m6-5h0m5 1h0m8 2h0m15-2h0m5 3h0m4-2h0m2 3h0m3-2h0m10-5h0m4 1h0m15-1h0m3 7h0m9-1h0m10-2h0m28-1h0m15 0h0m9 4h0m2-4h0m7 4h0m2-2h0m11-4h0m0 5h0m3-3h0m2 0h0m14-1h0m7 0h0m2-1h0m11 0h0m8 0h0m16 0h0m2 5h0m3-3h0m3 3h0m-610 9h0m156-4h0m6-1h0m23 3h0m1 0h0m2 0h0m6-4h0m2 6h0m3-1h0m4-1h0m7 2h0m18-1h0m7-2h0m3 1h0m2-2h0m6-2h0m7 5h0m15 1h0m6-7h0m4 1h0m1-1h0m2 4h0m7 1h0m0 2h0m5 0h0m4 0h0m4-7h0m2 2h0m0 4h0m3 0h0m0 1h0m0-4h0m1 2h0m0 2h0m0-6h0m2 3h0m0 2h0m0-6h0m10 0h0m2 7h0m1-1h0m6-5h0m2 6h0m1-5h0m4 0h0m1 3h0m0-2h0m1 2h0m0 2h0m1 0h0m2-2h0m3 1h0m1-4h0m2-1h0m1 4h0m4-1h0m1-4h0m1 1h0m1 6h0m2-7h0m1 7h0m0-7h0m2 1h0m2 0h0m0 4h0m1-5h0m1 0h0m2 0h0m0 5h0m0 1h0m3 1h0m3-5h0m2-2h0m1 0h0m2 7h0m0-7h0m0 2h0m1-2h0m3 0h0m2 3h0m1 2h0m4-1h0m12 3h0m2-3h0m1-1h0m6 3h0m11-1h0m8 2h0m1 0h0m30-2h0m22-5h0m3 3h0m33 2h0m1-2h0m9-2h0m7 1h0m6 4h0m2-4h0m8-1h0m0 3h0m6-1h0m28-2h0m16-1h0m14 2h0m10 3h0m-457 9h0m16-5h0m1 3h0m20-2h0m9-2h0m2 1h0m2 1h0m2 3h0m1-1h0m0 3h0m16-2h0m0 1h0m5-6h0m4 1h0m5 5h0m0 1h0m10-4h0m2 1h0m2 2h0m1-4h0m1 3h0m0-4h0m1 0h0m2-1h0m2 4h0m1-1h0m2 3h0m1-3h0m2 0h0m1 4h0m1-7h0m0 4h0m3 1h0m0-5h0m1 6h0m3-1h0m0 2h0m4-1h0m5-5h0m1 2h0m1-2h0m1 0h0m4 0h0m2 3h0m1-4h0m1 1h0m12 3h0m10 1h0m0 2h0m2-7h0m2 4h0m1 3h0m1-2h0m0-4h0m6 2h0m1-2h0m2-1h0m0 1h0m2 1h0m2 4h0m2-4h0m1 2h0m0 3h0m1-6h0m6 6h0m13-7h0m6 7h0m12-4h0m5 2h0m3-4h0m10 5h0m2-1h0m6-2h0m1-2h0m3 6h0m8-5h0m3 4h0m15-3h0m2 0h0m4 1h0m65 1h0m11 2h0m12-1h0m4 1h0m9-5h0m11 5h0m50-3h0m10 2h0m2-6h0m-469 9h0m1 0h0m29 2h0m4-2h0m2 1h0m11-2h0m8 2h0m10 1h0m6 0h0m2 2h0m7-5h0m1 2h0m6 3h0m1-3h0m2 5h0m15-6h0m8 6h0m3-5h0m0 4h0m2-6h0m4 6h0m1-1h0m5 0h0m1-4h0m1-1h0m4 2h0m1-1h0m0 4h0m2-1h0m2 3h0m1-5h0m2 1h0m2-1h0m2 5h0m4 0h0m8 0h0m4-5h0m1 5h0m11-4h0m7 2h0m1 2h0m5-1h0m2-6h0m5 1h0m1 5h0m1 1h0m1-2h0m2-4h0m5 5h0m3 0h0m4-3h0m0 2h0m0 2h0m1-2h0m2-1h0m0 1h0m4-2h0m8-1h0m1 2h0m1-1h0m5 4h0m4-5h0m3 0h0m2 1h0m1 2h0m10-3h0m1 1h0m3 2h0m4 2h0m3 0h0m0-4h0m3 2h0m4-5h0m2 1h0m0 1h0m2-2h0m6 4h0m6-4h0m1 7h0m4-6h0m26 5h0m19 1h0m26-3h0m6 0h0m4-3h0m5 1h0m1 4h0m4-2h0m4-1h0m3 0h0m4-3h0m13 3h0m9 4h0m24-7h0m5 4h0m26 1h0m-469 6h0m18-1h0m0 4h0m6-6h0m10 6h0m12 1h0m4-4h0m9 1h0m5-1h0m1-1h0m2-2h0m4 3h0m3 3h0m4-5h0m8 2h0m8-3h0m8 6h0m12-4h0m2 1h0m2 4h0m2-5h0m4 0h0m1 3h0m11 1h0m2-3h0m2 1h0m8-4h0m1 4h0m8-3h0m5-1h0m1 5h0m10 1h0m0 1h0m0-7h0m1 7h0m2-4h0m2-2h0m1 3h0m2-3h0m4 3h0m1-4h0m13 1h0m0 6h0m0-7h0m5 4h0m7-2h0m0 2h0m2 0h0m2 0h0m1 0h0m5 2h0m4-4h0m3 0h0m6 4h0m5 1h0m0-6h0m0 4h0m5 0h0m4-2h0m4 0h0m2 2h0m1-3h0m56 4h0m6-6h0m3 6h0m0-1h0m17-3h0m2-2h0m1 2h0m7 1h0m27 3h0m13-5h0m9 3h0m0-3h0m24 1h0m-532 8h0m61 0h0m80 2h0m4 0h0m13-4h0m17 3h0m8 0h0m4-3h0m2 4h0m0 3h0m10 0h0m7-1h0m1-6h0m3 4h0m13-2h0m2 4h0m2-2h0m4 1h0m4-1h0m2-4h0m2 1h0m0 4h0m10-1h0m2-4h0m3 6h0m3-5h0m11 1h0m15 2h0m3 2h0m3-2h0m2 2h0m1 1h0m0-7h0m3 4h0m7 0h0m5 1h0m8-1h0m3-2h0m1 0h0m0 4h0m3-2h0m0-1h0m4 3h0m5-5h0m1 5h0m2-4h0m4 0h0m2-2h0m0 4h0m2 1h0m3 2h0m9-5h0m4 5h0m5-5h0m9-2h0m1 1h0m0 6h0m2-2h0m8-4h0m2 5h0m9 0h0m2 0h0m1 0h0m19 0h0m5-1h0m1-2h0m11-1h0m1 2h0m3 0h0m8 3h0m15 0h0m1-2h0m4 2h0m0-5h0m4 5h0m7-5h0m3 4h0m34 0h0m8 0h0m-367 7h0m6 2h0m9-7h0m7 6h0m18-3h0m4 0h0m4-1h0m1 1h0m9 3h0m2-2h0m1-3h0m2 5h0m6-3h0m8 2h0m2-5h0m1 2h0m6 4h0m0-4h0m4-1h0m14 6h0m1-3h0m8 2h0m15-5h0m6 2h0m2 2h0m1-5h0m11 6h0m4 0h0m0-6h0m1 3h0m2-1h0m7 0h0m7 4h0m2-3h0m4-1h0m2 0h0m5 1h0m13 2h0m3 2h0m0-7h0m4 7h0m2-3h0m6-1h0m0 3h0m1 0h0m8 0h0m0-6h0m2 7h0m3-4h0m15-3h0m11 4h0m2-2h0m1 0h0m10 0h0m18-2h0m6 0h0m2 1h0m5 0h0m3 6h0m8-4h0m4 4h0m4-4h0m4 3h0m4 0h0m28-2h0m20-3h0m18 2h0m14 0h0m-394 8h0m9 3h0m12-6h0m32 2h0m3 5h0m3 0h0m6-7h0m0 7h0m11-2h0m6-1h0m13 2h0m13 0h0m2-5h0m9 3h0m2 0h0m9-1h0m8 0h0m1 1h0m4-2h0m17 5h0m0-5h0m2 4h0m0-6h0m2 3h0m0 4h0m4-2h0m1-2h0m0-1h0m6 2h0m4 0h0m3-3h0m1 6h0m1-3h0m9-2h0m9 4h0m0-6h0m1 7h0m1-5h0m1 5h0m6-6h0m12 5h0m21-6h0m12 0h0m13 2h0m14-2h0m2 2h0m2 4h0m4-6h0m0 5h0m4-4h0m4 3h0m1 3h0m1-1h0m5 1h0m17-2h0m5 2h0m8-4h0m1 0h0m13-1h0m-340 9h0m33-1h0m68 0h0m5 5h0m22-7h0m2 5h0m6-2h0m1-3h0m1 1h0m1 0h0m0 3h0m5-3h0m2 1h0m4 0h0m5 4h0m1-4h0m6-1h0m1 0h0m6 4h0m3 2h0m2-5h0m0 4h0m2-3h0m0 4h0m0-6h0m1 1h0m0 3h0m3-2h0m6-3h0m2 7h0m2-3h0m0-4h0m3 7h0m1-2h0m1-1h0m4-1h0m5-2h0m1 2h0m5-2h0m4 0h0m0 3h0m1-2h0m1 5h0m1-4h0m2 0h0m5-2h0m0 5h0m10-3h0m1 2h0m0 1h0m11 1h0m11-5h0m3 3h0m6-4h0m2 0h0m2 4h0m2-5h0m3 2h0m7 4h0m14-1h0m10-5h0m5 3h0m1 1h0m6 2h0m1-4h0m5-1h0m5-1h0m22 4h0m8 2h0m1 1h0m-350 3h0m11 4h0m17-1h0m42-3h0m1 2h0m13-3h0m0 4h0m16-5h0m3 6h0m10 0h0m14-4h0m16 1h0m2-3h0m4 3h0m1-1h0m1-1h0m1 2h0m11-2h0m7 4h0m1 1h0m1-1h0m0-1h0m5-1h0m2 3h0m1-2h0m1 0h0m0-2h0m7 0h0m1 2h0m1 2h0m3-6h0m3 7h0m2-6h0m1 1h0m2 1h0m8-3h0m2 7h0m9-1h0m3-1h0m21-1h0m1 0h0m0-4h0m15 0h0m4 0h0m7 7h0m3-5h0m2 0h0m6 5h0m1-5h0m8 1h0m11 0h0m10 0h0m2 2h0m28-5h0m47 7h0m-472 1h0m135 4h0m4-1h0m9 2h0m3 2h0m10-1h0m6-4h0m2 1h0m1 4h0m20 0h0m4 0h0m6-6h0m20 0h0m6 4h0m6 0h0m19 0h0m17-5h0m4 6h0m1-4h0m1 0h0m3 0h0m3 2h0m2 1h0m7-3h0m14 1h0m9-1h0m3 2h0m28 0h0m6-2h0m15 3h0m6 2h0m3-7h0m12 3h0m1-3h0m13 5h0m32-1h0m19 1h0m-496 8h0m100 2h0m63-1h0m32-2h0m6 1h0m0-3h0m2 0h0m2 0h0m1-2h0m17 0h0m2 2h0m2-2h0m3 0h0m6 5h0m6 2h0m8-3h0m4-1h0m9 1h0m3-4h0m2 4h0m28 0h0m1 2h0m0-3h0m1-1h0m0 2h0m1 1h0m3 2h0m7-5h0m4 1h0m5 3h0m4-5h0m0 3h0m2 0h0m1-3h0m5 2h0m5 2h0m27-2h0m7-1h0m2 1h0m1-3h0m17 2h0m13 0h0m2 5h0m6-1h0m6-1h0m2-3h0m39 1h0m5-1h0m4 1h0m16-3h0m16 1h0m14 4h0m-471 5h0m164 1h0m4-3h0m20 5h0m5 2h0m1-4h0m1 3h0m2 0h0m10-6h0m9 6h0m10-1h0m1-1h0m0 2h0m8-5h0m3 5h0m3-6h0m3 5h0m5-2h0m1 1h0m2 2h0m1 1h0m2-6h0m4 2h0m2 1h0m1-4h0m3 2h0m1 4h0m5 0h0m1-3h0m46 3h0m6-6h0m7 3h0m3 2h0m10-5h0m5 6h0m5-3h0m25-1h0m6 2h0m2-4h0m7 7h0m10-5h0m8-2h0m3 3h0m0 4h0m22-1h0m-531 4h0m180-2h0m75 5h0m15-2h0m12 1h0m1 3h0m12-3h0m0-1h0m3 2h0m32-3h0m0 2h0m5 0h0m1-4h0m2 6h0m9-6h0m5 5h0m1-5h0m1 3h0m10-3h0m12 1h0m12 0h0m28 2h0m3 2h0m2-1h0m0 2h0m1 1h0m8-6h0m3-1h0m9 3h0m4-2h0m2 3h0m6 2h0m3-4h0m0-2h0m20 3h0m5-1h0m6 5h0m13-6h0m4-1h0m4 2h0m37-1h0m11 6h0m-372 1h0m39 0h0m75 3h0m19 0h0m5 1h0m6 0h0m5-3h0m0 3h0m5-1h0m1-2h0m1-1h0m6 4h0m4-1h0m1-2h0m0 1h0m2-1h0m0 1h0m10-2h0m36 3h0m12 0h0m1-2h0m4 2h0m2 1h0m23-1h0m2 1h0m58 0h0m8 0h0m23-4h0m10 1h0m40 1h0"/><path id="pb_saline" d="M67 1085h0m0 2h0m2-1h0m6 0h0m2-1h0m9 1h0m44-1h0m7 2h0m8 0h0m1-1h0m33-1h0m19 2h0m18-1h0m5-1h0m4 1h0m48 1h0m43-1h0m1-1h0m24 2h0m5 0h0m14 0h0m1-1h0m7 1h0m4-2h0m2 0h0m3 0h0m21 1h0m59 0h0m3 0h0m4 1h0m4-1h0m5-1h0m34 1h0m8 1h0m23-1h0m24 1h0m6 0h0m13-2h0m5 2h0m9-1h0m43-1h0m39 2h0m3-2h0m-639 10h0m2-2h0m6 1h0m6-4h0m4 5h0m5-3h0m6-3h0m1 6h0m4-5h0m1 4h0m3-3h0m1 0h0m0-3h0m5 7h0m5-2h0m0-1h0m2 0h0m4 0h0m1-4h0m1 2h0m1 4h0m8-1h0m13-4h0m3 4h0m2-5h0m3 1h0m7 1h0m1 5h0m2-2h0m1-3h0m4-2h0m1 1h0m7 0h0m2 2h0m7 2h0m1-2h0m25 0h0m0 4h0m1-7h0m12 1h0m3 4h0m0 2h0m2 0h0m5-4h0m6-1h0m3 1h0m2 3h0m11-4h0m1-2h0m0 6h0m4-6h0m8 7h0m0-1h0m5-2h0m17 2h0m6-4h0m2 3h0m11 2h0m0-2h0m6-5h0m7 6h0m5-3h0m3-1h0m3-1h0m3-1h0m3 1h0m2 4h0m17-4h0m14-1h0m3 1h0m6 3h0m0-3h0m0 4h0m12 2h0m2-1h0m9-2h0m10-1h0m1-2h0m2 0h0m3 1h0m5 5h0m7-3h0m0 1h0m6-5h0m10 5h0m9-3h0m4 3h0m0-3h0m3 5h0m4 0h0m5-4h0m6 1h0m4 2h0m1-5h0m2 3h0m10-3h0m2 2h0m5 2h0m3-1h0m0-3h0m7 0h0m3 0h0m8 0h0m3 5h0m0-5h0m1 6h0m5-6h0m0 3h0m29 3h0m15-1h0m10-2h0m44 1h0m14-2h0m17 1h0m0 1h0m2 1h0m0-6h0m2 2h0m9 5h0m4-1h0m3 1h0m10-3h0m13 2h0m5-1h0m1 1h0m-645 4h0m1 5h0m4 0h0m2-1h0m5 0h0m2-1h0m11 0h0m7-1h0m1-2h0m2-2h0m3 3h0m1-1h0m1 3h0m4 0h0m0 2h0m5-7h0m0 2h0m1-1h0m0 4h0m2 1h0m8-2h0m3 2h0m2-2h0m13-3h0m13-1h0m2 1h0m3 4h0m2 2h0m2-1h0m1 1h0m8-6h0m4 6h0m2-4h0m5-1h0m5-1h0m1 1h0m1-1h0m6 5h0m2-5h0m1 1h0m1 5h0m0-3h0m5-4h0m3 3h0m6 4h0m4-7h0m3 6h0m1-6h0m0 2h0m14 5h0m9-2h0m4 0h0m0 2h0m9-3h0m24 0h0m1-1h0m1 1h0m4 3h0m1-4h0m6-3h0m4 3h0m4-2h0m3 0h0m2-1h0m1 0h0m11 1h0m0 2h0m1 2h0m34-4h0m5 4h0m9-5h0m4 7h0m19-1h0m2-1h0m2 1h0m2-2h0m10 0h0m1-1h0m2 2h0m3 2h0m0-3h0m8-2h0m2 4h0m1-2h0m1 3h0m5-4h0m2-2h0m2 0h0m9 1h0m6 1h0m0 4h0m2 0h0m10-4h0m2 4h0m0-1h0m3-1h0m21-5h0m7 2h0m1 1h0m16 4h0m9-4h0m9 3h0m2 0h0m18 1h0m7-4h0m0-2h0m4 5h0m3-4h0m17 5h0m24-3h0m2 3h0m4-2h0m31 1h0m11-3h0m6-2h0m11 0h0m6 1h0m1 0h0m3 1h0m4-3h0m13 6h0m9 1h0m-640 6h0m5-2h0m11 2h0m10-4h0m3 3h0m1-4h0m2 5h0m2-3h0m4 1h0m4 0h0m2-3h0m2 4h0m1-2h0m1 3h0m3 2h0m0-7h0m2 6h0m0-1h0m5-2h0m3 1h0m4 1h0m3 0h0m5-2h0m10-3h0m2 1h0m0-1h0m3 5h0m2-5h0m2 1h0m7 5h0m1-5h0m15 3h0m1-2h0m5-1h0m3 5h0m0 1h0m24-7h0m13 4h0m0-4h0m4 3h0m5 2h0m3-1h0m2 0h0m1 1h0m2-4h0m1 1h0m0 5h0m1-6h0m2 1h0m1 3h0m2 1h0m0-5h0m0 2h0m9 4h0m16-4h0m5-3h0m15 4h0m1-3h0m3-1h0m2 5h0m2-5h0m1 7h0m20-4h0m1-1h0m11 5h0m4-4h0m9-1h0m8-1h0m16 6h0m1 0h0m3-1h0m3 1h0m12-1h0m6 1h0m0-6h0m15 3h0m1-3h0m0 4h0m2 2h0m5-4h0m2 1h0m1-1h0m2-3h0m5 3h0m18 3h0m3-3h0m2 1h0m7 1h0m2 2h0m3-1h0m12-6h0m9 6h0m3-4h0m3 5h0m5-7h0m3 7h0m13-6h0m4 2h0m4-1h0m1-2h0m0 2h0m0 1h0m6 1h0m1 1h0m1 2h0m2-4h0m6 3h0m1-3h0m8 1h0m41 2h0m1-5h0m1 6h0m0-3h0m15 2h0m1-4h0m9 5h0m8-7h0m6 4h0m1 3h0m2 0h0m2-5h0m1 5h0m3-1h0m1-5h0m7 6h0m9-3h0m8 2h0m0-5h0m5 5h0m4-5h0m3 0h0m2 1h0m2-2h0m0 4h0m4 0h0m4-3h0m-625 9h0m1-2h0m0 5h0m6-3h0m5 4h0m4-6h0m11 6h0m4-1h0m2-5h0m3 1h0m12 2h0m7 4h0m0-3h0m1-1h0m1 3h0m11-3h0m2 1h0m8 1h0m2-2h0m7 4h0m20 0h0m3-4h0m4-2h0m0 6h0m3-4h0m10-3h0m38 6h0m9-3h0m4 0h0m0-3h0m4 0h0m11 4h0m2-3h0m3 4h0m5 0h0m7 1h0m8-4h0m6 1h0m13 4h0m1-4h0m7-1h0m22-2h0m5 7h0m0-1h0m3-6h0m12 3h0m3 2h0m13-1h0m5-3h0m7 3h0m1 3h0m4-1h0m5 1h0m5 0h0m3-6h0m1 5h0m0-4h0m4-1h0m2 6h0m4-7h0m2 1h0m4-1h0m9 1h0m5 4h0m6-2h0m7-2h0m0 6h0m4-7h0m1 1h0m3 0h0m0 6h0m2-6h0m0 4h0m2-4h0m5 6h0m3-6h0m0-1h0m1 4h0m2-3h0m4 0h0m2 0h0m2 1h0m2 4h0m11-3h0m4-1h0m7 2h0m5-2h0m7 1h0m9-3h0m3 4h0m1 2h0m1-6h0m2 3h0m11 0h0m0-1h0m17 2h0m2-3h0m6-1h0m17 3h0m11-1h0m5 5h0m2-3h0m1-2h0m5 4h0m2-1h0m6-1h0m2 0h0m18-1h0m6 3h0m8-5h0m2 6h0m2-4h0m9 1h0m1 0h0m4 0h0m2-3h0m2-1h0m25 1h0m9 6h0m15 0h0m-652 6h0m3-4h0m13-1h0m6 0h0m0 4h0m10-3h0m6-1h0m3 2h0m0 2h0m2 1h0m5 2h0m16-1h0m1-5h0m2 2h0m0 4h0m16 0h0m1-6h0m20 0h0m1 6h0m4-5h0m18 5h0m7-1h0m2-5h0m6 5h0m25-6h0m7 7h0m10-4h0m1 1h0m0 1h0m1-1h0m0-1h0m0-3h0m2 4h0m3-2h0m4-1h0m2 0h0m4 0h0m2-1h0m9 2h0m1 1h0m0 4h0m5-4h0m2 4h0m2-6h0m0 4h0m7-2h0m1-2h0m2 5h0m1 1h0m2 0h0m5-5h0m8 3h0m11-2h0m3 3h0m17 0h0m12 1h0m9-7h0m6 6h0m1-2h0m4-1h0m0 1h0m2-3h0m6 2h0m4-3h0m13 3h0m2 4h0m4-2h0m1-5h0m3 6h0m6-3h0m2-1h0m2-1h0m1 2h0m2-2h0m1 3h0m2 1h0m3 2h0m1 0h0m7-1h0m4-4h0m3 0h0m3 1h0m0 2h0m5 0h0m1 1h0m4-3h0m5 3h0m1 1h0m0-7h0m17 3h0m5 0h0m3 3h0m6-2h0m25-1h0m4 0h0m4-2h0m4-1h0m1 5h0m9-4h0m2 3h0m8 1h0m2 2h0m7-7h0m12 2h0m14 5h0m4-4h0m7-1h0m6 5h0m4-2h0m18-4h0m3 2h0m7 2h0m3-2h0m2-3h0m1 4h0m1 1h0m1-2h0m0 1h0m1-2h0m0 2h0m1 0h0m2-4h0m2 4h0m3 2h0m4-4h0m1 1h0m7 3h0m7-2h0m25-1h0m21 3h0m-652 7h0m3 2h0m0-1h0m5-4h0m8 2h0m2 3h0m0-3h0m3 1h0m5-1h0m2 3h0m4 0h0m0-5h0m11 2h0m3 2h0m2-2h0m0 1h0m2-1h0m9-2h0m3 0h0m10 4h0m14 1h0m8-7h0m6 6h0m3-5h0m3 6h0m1-6h0m1 3h0m2-4h0m2 5h0m8-5h0m15 1h0m2 3h0m8-3h0m1 3h0m0 3h0m6-6h0m7 5h0m2-6h0m16 1h0m2-1h0m2 6h0m4-2h0m2-3h0m5 2h0m2-1h0m0 2h0m2-2h0m7 2h0m3-1h0m1-2h0m2 5h0m1-4h0m2 1h0m4-3h0m3 0h0m1 3h0m5-1h0m7 3h0m0 1h0m16-5h0m15 1h0m3 1h0m22 4h0m1-2h0m2-2h0m3 4h0m2-1h0m3-5h0m1 6h0m2-4h0m2 0h0m1 3h0m16-1h0m1-5h0m6 6h0m4 0h0m1-1h0m6 0h0m1-5h0m3 7h0m1-3h0m5-3h0m1 1h0m6 3h0m2-5h0m1 7h0m2-7h0m0 4h0m2-1h0m5 3h0m1 0h0m8 0h0m23-1h0m3 0h0m3-4h0m1 0h0m4 2h0m3 0h0m1 4h0m11-3h0m1-3h0m4 4h0m7 1h0m3-3h0m15-3h0m2 6h0m3-1h0m7-1h0m19-4h0m9 6h0m2-1h0m8-4h0m18 3h0m5-4h0m2 2h0m5 3h0m1-1h0m0 2h0m2-6h0m1 1h0m9 3h0m0 2h0m6-3h0m3 2h0m1 1h0m3 0h0m1-4h0m1 5h0m1-4h0m3 3h0m4-6h0m6 5h0m2-1h0m1 0h0m2-4h0m3 2h0m4 2h0m3-2h0m32 2h0m5 3h0m13-7h0m-642 13h0m11-5h0m1 6h0m0-3h0m1 4h0m0-1h0m2-3h0m8-1h0m7 1h0m1-3h0m5 5h0m3-4h0m0-1h0m2 3h0m6 4h0m0-1h0m2-5h0m9-1h0m1 3h0m11-3h0m2 7h0m0-7h0m1 2h0m2 3h0m2-2h0m3-1h0m2 2h0m1-1h0m1 3h0m13-3h0m1 2h0m5-1h0m3 1h0m1 2h0m7-6h0m6 0h0m3 5h0m2-6h0m5 2h0m0 2h0m7 2h0m1 1h0m1-3h0m4-2h0m3 3h0m4-3h0m2 5h0m15-3h0m1-3h0m1 1h0m9 1h0m14-3h0m7 5h0m7 2h0m4-6h0m4 5h0m4-3h0m4-2h0m6 0h0m2 1h0m2 2h0m4-1h0m5 2h0m4-4h0m2 3h0m3-1h0m1 4h0m4-3h0m1-3h0m4 1h0m8 4h0m2-1h0m14-4h0m12 2h0m5-1h0m2-1h0m1 0h0m1-1h0m4 7h0m1 0h0m3-5h0m4 1h0m0-1h0m1 0h0m0 4h0m1 0h0m1-2h0m3-2h0m3 3h0m1-5h0m11 3h0m1-1h0m7 5h0m1-7h0m2 4h0m10 3h0m10-7h0m2 0h0m4 0h0m0 4h0m1 1h0m2 2h0m1 0h0m0-1h0m4-6h0m1 0h0m3 0h0m1 2h0m13 3h0m6-5h0m1 2h0m0 2h0m2 0h0m22 3h0m3 0h0m7-6h0m16 6h0m34-1h0m16-2h0m9-4h0m6 0h0m8 6h0m0 1h0m2-2h0m5 0h0m4-1h0m2 3h0m5-4h0m9 2h0m1 1h0m2-4h0m1 2h0m11-3h0m5 1h0m8 4h0m1-4h0m18 5h0m5-6h0m4 3h0m0-1h0m1-1h0m7 3h0m4 1h0m22-1h0m-644 7h0m3 2h0m2 1h0m2 0h0m5-7h0m1 0h0m2 2h0m1 4h0m4 0h0m2 1h0m2 0h0m3-4h0m6 3h0m0-3h0m3 2h0m13 1h0m7-1h0m12-3h0m5 3h0m2 2h0m6-1h0m0-5h0m1 3h0m1-2h0m1 4h0m9-6h0m1 2h0m18 1h0m7 0h0m2-1h0m1-1h0m0 6h0m3-1h0m5-2h0m4 3h0m1-5h0m1 0h0m5 0h0m0 3h0m8-5h0m1 7h0m3-6h0m3 2h0m2-1h0m3 0h0m0 2h0m11 1h0m15-1h0m10-3h0m0 2h0m7 2h0m0 1h0m3-5h0m5 2h0m2-2h0m4 3h0m13-3h0m1 6h0m1-4h0m1 4h0m19-6h0m3 1h0m13 1h0m8-3h0m9 6h0m1 0h0m10-1h0m6 1h0m6 1h0m1-6h0m5 4h0m1-1h0m16-2h0m4 2h0m1-3h0m1 2h0m1-2h0m1-1h0m1 1h0m4 5h0m3-6h0m0 3h0m3 2h0m2-3h0m11 4h0m2-4h0m1 4h0m10 0h0m1-6h0m0 2h0m6 1h0m1 0h0m2-2h0m0 4h0m2-1h0m1 0h0m5-2h0m7 3h0m0 1h0m3 1h0m16-7h0m14 7h0m1-7h0m2 4h0m3 3h0m4-5h0m30 4h0m6 0h0m21-2h0m0 3h0m6-3h0m6 0h0m2-4h0m1 1h0m1 2h0m1 4h0m3-7h0m2 6h0m1-3h0m7 4h0m0-1h0m5-6h0m2 7h0m2-7h0m0 4h0m13-2h0m0 4h0m5-4h0m6 0h0m2 4h0m3-5h0m2 2h0m2 2h0m1-2h0m9-1h0m12 2h0m9 0h0m8 2h0m11-4h0m1 0h0m4 2h0m-626 11h0m0-1h0m3-6h0m4 6h0m2-3h0m6-3h0m3 7h0m2-1h0m2-4h0m0 1h0m1-1h0m6-2h0m9 4h0m3-3h0m3-1h0m5 2h0m8 3h0m2-1h0m3-2h0m7 2h0m0-3h0m1 1h0m2 1h0m0 2h0m1-5h0m4 0h0m0 6h0m3-1h0m3-4h0m1 4h0m3 1h0m1-1h0m8 2h0m4-1h0m8 1h0m2-7h0m0 7h0m1-3h0m3-4h0m2 5h0m7 2h0m1-2h0m2-2h0m7-3h0m7 0h0m4 2h0m0 1h0m6-3h0m0 3h0m3-1h0m0 4h0m6-5h0m2 3h0m4 1h0m3-1h0m21 3h0m15-4h0m9 1h0m4-4h0m4 7h0m1-4h0m2-1h0m2 3h0m18-3h0m17-2h0m14 7h0m21-6h0m1-1h0m0 6h0m3-1h0m8 2h0m2-3h0m1 1h0m1-4h0m7 4h0m1-3h0m1 4h0m2-3h0m8-2h0m0 2h0m0-1h0m5-1h0m2 4h0m1-5h0m2 2h0m6-2h0m3 3h0m2-3h0m9 4h0m1 1h0m3-2h0m0 1h0m1-4h0m7 3h0m0 4h0m1-3h0m9 2h0m4 1h0m1 0h0m0-5h0m5 2h0m6 2h0m1-5h0m2 5h0m10-3h0m1 1h0m12-2h0m10 3h0m1-3h0m1 0h0m3 4h0m7-6h0m9 4h0m16 3h0m1-6h0m1 6h0m17 0h0m1-1h0m2-3h0m12 1h0m7-2h0m1 4h0m2-6h0m2 3h0m8 2h0m9-5h0m3 6h0m3-4h0m4 4h0m2-6h0m3 6h0m0-1h0m2-4h0m2 4h0m1-4h0m1 4h0m0 1h0m10-2h0m1 3h0m3 0h0m0-1h0m5-6h0m12 5h0m11 2h0m7 0h0m2-3h0m0-1h0m5-2h0m3-1h0m-619 14h0m7-6h0m2 4h0m9-4h0m2 7h0m5-3h0m2-3h0m0 2h0m6 0h0m3-2h0m14 3h0m9-1h0m0 4h0m3-6h0m2 0h0m12-1h0m6 3h0m1 3h0m0-5h0m5-1h0m3 0h0m1 0h0m3 2h0m13-2h0m10 6h0m2-3h0m11 2h0m0-1h0m1 2h0m6-4h0m6 5h0m2-4h0m6 0h0m15-3h0m2 0h0m5 2h0m8 3h0m6-2h0m7 2h0m4-4h0m2 6h0m20 0h0m0-3h0m4 1h0m5-3h0m1 3h0m1-4h0m2 4h0m12-4h0m10-1h0m2 6h0m10 1h0m4-2h0m3-5h0m10 7h0m9-7h0m9 1h0m8 4h0m6 2h0m8-2h0m1-5h0m1 1h0m2-1h0m8 4h0m2-1h0m4 0h0m4 2h0m3 0h0m0 1h0m2-5h0m8 4h0m1 0h0m2-2h0m1 3h0m4-1h0m1-1h0m11-1h0m0-1h0m10 0h0m1 1h0m2-2h0m1 0h0m6 5h0m1 1h0m6-4h0m4 3h0m5 0h0m3 1h0m4 0h0m1-5h0m1 4h0m4-1h0m5 1h0m3-1h0m6 0h0m11-4h0m7-1h0m5 4h0m16 2h0m10 1h0m1-1h0m14-1h0m9-1h0m0-4h0m10 2h0m2 5h0m1-1h0m5-5h0m3 6h0m4 0h0m1 0h0m4-7h0m7 1h0m4 0h0m2 1h0m1 4h0m1-3h0m1 0h0m0-3h0m4 5h0m3 2h0m5-6h0m0 1h0m3 4h0m0-3h0m1-2h0m0 2h0m12 2h0m9-3h0m6 0h0m4 4h0m3-1h0m30 2h0m4-4h0m-646 6h0m11-1h0m25 1h0m5 5h0m11-6h0m7 4h0m8-3h0m1 6h0m7-7h0m3 0h0m4 2h0m6-1h0m6 0h0m5 0h0m0 6h0m4-6h0m1 2h0m31-3h0m0 2h0m3 1h0m14-2h0m2 5h0m7 0h0m3-1h0m1 0h0m8-5h0m2 7h0m15-3h0m0 1h0m14-2h0m9 2h0m1-2h0m5-2h0m7 4h0m2 2h0m0-7h0m1 5h0m6 0h0m6-2h0m0 2h0m1 2h0m8-6h0m0 4h0m13 2h0m1-6h0m11 4h0m0 2h0m6-1h0m9-6h0m1 0h0m3 4h0m7-3h0m7 1h0m1 2h0m7-1h0m14 0h0m0 3h0m3 0h0m19-1h0m1 0h0m5 0h0m6-2h0m16 4h0m7-4h0m5 4h0m2-2h0m7 2h0m10-1h0m1-2h0m0-3h0m2 3h0m8-2h0m0 4h0m5-5h0m2 2h0m1 1h0m1 2h0m4-2h0m17 1h0m19 2h0m10-1h0m7 1h0m3 0h0m3-7h0m17 3h0m9 4h0m3-4h0m4-1h0m0 5h0m3-4h0m0 3h0m1-5h0m5-1h0m18 5h0m1-4h0m0 5h0m7-3h0m1-1h0m1 4h0m3-1h0m0-1h0m9 0h0m7-4h0m2 5h0m3-4h0m5 3h0m7-1h0m7 4h0m14-5h0m0 5h0m8-2h0m1-2h0m4-3h0m8 1h0m-644 7h0m1 2h0m1 5h0m4-6h0m2 6h0m1-2h0m1-2h0m0-2h0m2 6h0m5-2h0m8-5h0m19 3h0m4 4h0m5-2h0m5-2h0m17 4h0m1-5h0m6-2h0m5 6h0m2 0h0m5-3h0m1-1h0m2 0h0m20-2h0m4 3h0m2 4h0m17-7h0m1 2h0m1-1h0m0 6h0m1 0h0m3 0h0m4-1h0m3-6h0m3 2h0m4 4h0m0 1h0m5 0h0m1-2h0m1 0h0m2-5h0m0 3h0m4-1h0m13-1h0m13 6h0m13 0h0m4-4h0m2-1h0m0 4h0m7 0h0m0-3h0m1-3h0m0 2h0m1-2h0m3 0h0m4 5h0m4-1h0m1 1h0m4 1h0m5-6h0m1 5h0m0-5h0m4 7h0m1-4h0m8-2h0m0 2h0m2 1h0m1 0h0m0-1h0m1 2h0m2-4h0m5 0h0m5 2h0m1 4h0m6-7h0m5 4h0m3-1h0m0 2h0m2 2h0m2-2h0m3-4h0m2 0h0m0 4h0m2-2h0m0 2h0m1 1h0m1 1h0m6-6h0m4 5h0m3-4h0m1 1h0m4 1h0m5 0h0m2 0h0m2-2h0m3 5h0m8-3h0m13 0h0m3-1h0m2-1h0m3 4h0m7-1h0m19-4h0m5 6h0m6-3h0m12 2h0m1-1h0m4-4h0m1 6h0m2-1h0m5-3h0m6-3h0m13 5h0m8-4h0m5 5h0m12-3h0m3-1h0m8 3h0m6-4h0m17 3h0m7 1h0m0 1h0m1-5h0m2 1h0m4-2h0m0 6h0m16-1h0m2 1h0m17 0h0m0-1h0m1-5h0m3 1h0m4 6h0m6-2h0m6-5h0m0 4h0m3-1h0m10-1h0m3-2h0m2 1h0m5 5h0m5-4h0m10 0h0m8-2h0m0 5h0m0 2h0m2-1h0m6-4h0m2 2h0m1 2h0m7-2h0m6 2h0m2-6h0m-646 9h0m2 5h0m3-4h0m3 0h0m1 3h0m5-2h0m6 2h0m3-3h0m5 1h0m0-2h0m16 1h0m2-1h0m20 1h0m7 4h0m4-5h0m3 2h0m1 3h0m2-3h0m0-3h0m4 4h0m0-1h0m12 2h0m3 2h0m6-7h0m2 3h0m2 3h0m0 1h0m5-5h0m1 1h0m1-3h0m1 0h0m4 7h0m0-7h0m0 4h0m3 3h0m3-2h0m5 2h0m6-2h0m6-4h0m9-1h0m8 4h0m3-1h0m34 2h0m8-4h0m4 4h0m1-4h0m1 5h0m2-6h0m4 0h0m8 1h0m3 2h0m6-2h0m1 2h0m7 0h0m13 0h0m4-1h0m16 2h0m3 3h0m0-7h0m2 4h0m5-3h0m2 4h0m1-5h0m6 4h0m2-4h0m4 4h0m0-3h0m3 3h0m2-2h0m0 4h0m1-5h0m3 2h0m3 4h0m3-2h0m3-5h0m11 3h0m7 0h0m4 3h0m3 0h0m13-6h0m14 2h0m0 2h0m0 2h0m2-4h0m9 1h0m15 4h0m4-2h0m3-3h0m7 2h0m3 2h0m2-6h0m2 3h0m1 4h0m44-4h0m7-1h0m1 3h0m1-5h0m2 5h0m3 2h0m2-4h0m1 0h0m32 1h0m1-2h0m1 3h0m15 0h0m3 0h0m2-4h0m2 5h0m1 1h0m11-3h0m1 2h0m4-3h0m26 1h0m8-1h0m5 2h0m7-4h0m13 6h0m3 0h0m2-6h0m12-1h0m7 3h0m0-2h0m7 0h0m1 4h0m-644 10h0m6-1h0m0-6h0m8 6h0m1 1h0m16 0h0m14-2h0m7-1h0m0 1h0m7-5h0m3 2h0m3 2h0m2 2h0m1-4h0m3 3h0m2 1h0m3-3h0m2-2h0m0-1h0m14 1h0m6 1h0m1 1h0m9 1h0m3 1h0m20-4h0m6 5h0m4-5h0m2 0h0m2 4h0m3-2h0m0 1h0m7-2h0m1-2h0m1 4h0m1 0h0m16-3h0m10 5h0m5-6h0m15 4h0m4 1h0m4-2h0m0 2h0m5-1h0m13 3h0m0-6h0m3 1h0m2 2h0m7-1h0m1-3h0m1 2h0m2 1h0m5 0h0m0 4h0m3 0h0m0-1h0m3-5h0m4 0h0m3 4h0m0-3h0m7 3h0m1-5h0m5 4h0m1-2h0m2 1h0m0 3h0m1-5h0m4 4h0m3-5h0m1 1h0m2 0h0m8 0h0m4 1h0m5-2h0m1 3h0m11 3h0m0-5h0m3-1h0m2 7h0m0-1h0m1-6h0m0 4h0m7 0h0m3-3h0m16 0h0m4 3h0m2-2h0m1 4h0m0-5h0m1 4h0m3-5h0m9 0h0m3 4h0m1 3h0m2-3h0m1 1h0m3 0h0m2-1h0m0-3h0m4 3h0m0 1h0m3-2h0m2 2h0m2-1h0m3 2h0m1-1h0m2 0h0m3 2h0m2-6h0m5 0h0m6-1h0m18 5h0m11-1h0m5-2h0m9 4h0m4 1h0m2-7h0m5 4h0m8-2h0m3 5h0m15-2h0m29-1h0m7 2h0m2-2h0m3 0h0m3-2h0m2-2h0m0 3h0m4 0h0m1-1h0m4 5h0m0-5h0m2 2h0m4-1h0m6 4h0m2-6h0m1 5h0m2 1h0m9-6h0m1 3h0m5-2h0m6 4h0m8-1h0m5 0h0m7 0h0m2 1h0m3-2h0m5 2h0m0-3h0m9-2h0m1 3h0m15 2h0m-646 9h0m1-6h0m4 3h0m9-4h0m6 4h0m28 0h0m3 2h0m1-6h0m6 1h0m3 0h0m6 5h0m2-5h0m4 6h0m2-4h0m3-2h0m0 3h0m4 0h0m1-3h0m6-1h0m1 0h0m0 4h0m1-3h0m13 0h0m3-1h0m30 7h0m11-1h0m4-4h0m1 3h0m5 0h0m1-4h0m3 4h0m4-4h0m7 6h0m2-1h0m12 0h0m0 1h0m17 0h0m5-7h0m4 4h0m3-3h0m3 1h0m1-2h0m2 0h0m2 5h0m2-4h0m1 6h0m8-1h0m1 1h0m13-2h0m1-3h0m2 3h0m1-4h0m3 5h0m1-1h0m8-4h0m2 2h0m1-3h0m2 5h0m0 2h0m1-5h0m1 5h0m2-6h0m0 2h0m3-2h0m8 0h0m2 0h0m6 3h0m9-4h0m1 5h0m7-3h0m3 2h0m0 3h0m2-3h0m0-1h0m6-2h0m6 4h0m1 0h0m3 0h0m3-1h0m4-3h0m0 2h0m0 2h0m6-4h0m2 0h0m2 0h0m3-1h0m3 0h0m3 7h0m2-3h0m2-1h0m4 1h0m6 0h0m1-1h0m9 2h0m3-3h0m9 0h0m2 2h0m3 0h0m1 1h0m6-5h0m8 3h0m4 1h0m8 3h0m2-1h0m7-2h0m3-1h0m4-2h0m7 5h0m1 0h0m1-5h0m10 6h0m1-2h0m10 2h0m12-2h0m4-2h0m3-2h0m3 3h0m1-2h0m7 5h0m3-5h0m3 2h0m0-1h0m0 4h0m1-6h0m7 5h0m1-3h0m9 2h0m0 2h0m4-1h0m4-6h0m1 1h0m3 4h0m2-5h0m1 2h0m9 1h0m4 0h0m7 4h0m8-1h0m2-6h0m3 7h0m17-6h0m0 4h0m4 2h0m3-4h0m5 1h0m22 3h0m23-7h0m-637 12h0m76-3h0m8 5h0m2 1h0m10-3h0m4 1h0m21 1h0m0-1h0m2-5h0m3 6h0m12-6h0m1 0h0m6 3h0m2-1h0m1-2h0m2 2h0m3 1h0m1 0h0m2 2h0m4-5h0m1 6h0m12 1h0m16-1h0m3 1h0m6 0h0m4-3h0m5-2h0m0 1h0m0 4h0m5-2h0m11 1h0m4-2h0m5 3h0m5-5h0m0 2h0m5 2h0m3-1h0m1-5h0m1 6h0m2 1h0m2-5h0m2 3h0m0-5h0m1 6h0m2-2h0m2 1h0m1 1h0m2-4h0m6 2h0m6-2h0m0 4h0m6-5h0m6 2h0m3 4h0m0-3h0m2 2h0m10-1h0m6-3h0m2 3h0m0 2h0m2-3h0m1-4h0m0 6h0m3-6h0m1 7h0m8-4h0m1-3h0m0 2h0m1-1h0m4 0h0m2-1h0m1 2h0m5 5h0m4-4h0m1-3h0m6 2h0m3-2h0m1 0h0m4 3h0m6-2h0m3 4h0m0-4h0m1 1h0m2 5h0m0-3h0m2 3h0m9-4h0m1 3h0m9-6h0m21 6h0m1-5h0m4 2h0m0 2h0m2-2h0m3 3h0m0-5h0m0 2h0m3-3h0m2 3h0m0 2h0m0-3h0m2 5h0m1-1h0m3 1h0m4-6h0m0 4h0m2-3h0m3-2h0m2 4h0m2-3h0m1 0h0m6 0h0m12 3h0m1-2h0m6 1h0m6 1h0m4 3h0m8-6h0m1 1h0m16 1h0m1 0h0m4 0h0m3 0h0m1 3h0m6-3h0m5-3h0m12 4h0m2-2h0m5 5h0m7-2h0m5-3h0m2 5h0m20-1h0m3-3h0m3 1h0m6 3h0m3-2h0m0 2h0m11-6h0m19 0h0m2 1h0m8 4h0m0-5h0m-640 7h0m15 5h0m3-4h0m1 1h0m22 5h0m23-5h0m18 5h0m4-4h0m15 3h0m23 1h0m8-5h0m4-1h0m2 3h0m5 1h0m13-2h0m1-1h0m2-2h0m1 2h0m1-1h0m1 0h0m5-1h0m1 0h0m5 2h0m3-1h0m0 1h0m3-1h0m11 4h0m24-5h0m3 0h0m1 6h0m3-6h0m3 2h0m4 2h0m1 0h0m2-3h0m1 4h0m0-2h0m6-1h0m2 3h0m0 2h0m6-2h0m1 1h0m2-3h0m9 0h0m10 3h0m2-6h0m0 2h0m5 3h0m11-4h0m8 5h0m10-3h0m2-1h0m3-2h0m0 4h0m1 3h0m0-4h0m1 4h0m1-6h0m2 5h0m5-2h0m0-3h0m8 1h0m1 0h0m1-2h0m9 5h0m10-5h0m5 6h0m2-1h0m0 1h0m1 0h0m0-6h0m6 4h0m0 1h0m1-4h0m1 6h0m4-4h0m7-3h0m3 6h0m7-3h0m4 0h0m5 1h0m0 1h0m3-3h0m4 4h0m1 1h0m6-2h0m2 0h0m8-2h0m14-1h0m6 4h0m0-1h0m6-5h0m4 3h0m1 4h0m2 0h0m10-6h0m12 3h0m3-4h0m4 2h0m1-2h0m2 5h0m9 0h0m3 1h0m11-5h0m2 1h0m2 4h0m1 1h0m3-4h0m8-2h0m14 5h0m9-5h0m24-1h0m7 2h0m11 4h0m10 1h0m37-4h0m2 4h0m8 0h0m0-5h0m-625 11h0m2-4h0m4 2h0m0-1h0m4 3h0m2-4h0m1 6h0m5-5h0m1-2h0m12 0h0m11 5h0m1-4h0m13 6h0m1 0h0m10-2h0m3 1h0m2-2h0m12-2h0m5 2h0m6-2h0m4 2h0m2 3h0m9-7h0m8 4h0m2-1h0m2 4h0m4-2h0m6-4h0m3 6h0m0-3h0m3 0h0m2 1h0m2-3h0m2 3h0m6-3h0m7 1h0m9 3h0m4-4h0m1 1h0m2 0h0m0 2h0m17-3h0m4 5h0m5 0h0m7-5h0m10 0h0m3 1h0m1 1h0m1 2h0m3-4h0m2 2h0m0-3h0m3 5h0m1 0h0m2 1h0m10-2h0m8-3h0m12 3h0m9-1h0m6-4h0m12 7h0m10-1h0m2-1h0m2-4h0m2 1h0m27 0h0m1 1h0m5 0h0m3 0h0m3 2h0m5-3h0m2-2h0m1 0h0m1 1h0m0 1h0m5 1h0m1-1h0m1 3h0m4 1h0m3-4h0m3 5h0m5-6h0m3 4h0m2-1h0m0-1h0m2 2h0m2-2h0m1 3h0m5-4h0m2 5h0m12 0h0m7-2h0m4-5h0m12 3h0m8 3h0m14 0h0m2-2h0m0-3h0m6 3h0m18-2h0m8 4h0m5-3h0m7-1h0m5 2h0m4 3h0m5-4h0m1-2h0m0 2h0m3-1h0m0 1h0m1-3h0m4 2h0m20 4h0m6-5h0m1 2h0m2 4h0m11-5h0m2-2h0m4 3h0m0-3h0m4 2h0m3 2h0m2 3h0m3-2h0m7-1h0m1 1h0m18 2h0m7 0h0m10-3h0m1 1h0m1-1h0m0 2h0m1-1h0m0-3h0m-639 8h0m2 3h0m5-4h0m21 3h0m3 3h0m10 0h0m4-5h0m2 2h0m4-3h0m6 3h0m2 2h0m5 1h0m5 0h0m3-3h0m2 1h0m6-2h0m6-2h0m1 4h0m2 0h0m4 1h0m2-2h0m10 0h0m10-3h0m4 5h0m23-3h0m4 1h0m2-4h0m1 2h0m5 4h0m3-4h0m3-1h0m3 1h0m1 4h0m2-4h0m1-2h0m5 7h0m1-3h0m6-1h0m2 4h0m0-7h0m1 0h0m1 0h0m2 6h0m2-4h0m3 3h0m1 1h0m1-5h0m0 4h0m13 0h0m0 2h0m9-7h0m3 5h0m0-1h0m2-2h0m1-2h0m0 7h0m4-1h0m2-5h0m3 1h0m1-2h0m2 6h0m1-3h0m2 2h0m5 2h0m4-2h0m9-1h0m15-4h0m12 2h0m21 1h0m9-1h0m2-1h0m1 4h0m0-5h0m12 3h0m6 4h0m2-4h0m23 4h0m0-2h0m1-2h0m8 4h0m13-3h0m10-2h0m2 0h0m1-1h0m2 2h0m6-1h0m7-2h0m4 7h0m15-2h0m12 2h0m8-1h0m17-4h0m2 5h0m6-5h0m1 0h0m1 5h0m3-7h0m5 2h0m2 4h0m1-5h0m1 3h0m5-3h0m1 6h0m3-5h0m8 3h0m0 2h0m2 0h0m4-1h0m0-3h0m0-1h0m3-1h0m1 0h0m3 2h0m6 2h0m2 2h0m1-1h0m1-2h0m2 0h0m1 2h0m3-5h0m1 2h0m1 1h0m1 0h0m0 3h0m3-1h0m1-2h0m2-2h0m3 2h0m8-1h0m1-3h0m3 5h0m3 2h0m2-1h0m4-2h0m3-2h0m2 3h0m1 1h0m2-1h0m3-1h0m4-3h0m2 5h0m0-5h0m4 2h0m2 4h0m4-3h0m4 0h0m1-4h0m0 2h0m1 5h0m2-6h0m0 2h0m0 2h0m16-3h0m4-1h0m0 6h0m1-3h0m3-2h0m2 0h0m1 1h0m6 3h0m1-2h0m2-1h0m0-1h0m3 5h0m2-5h0m1 3h0m1-2h0m2 1h0m-651 11h0m7-1h0m17-5h0m1 1h0m2 2h0m6 0h0m18 1h0m27 1h0m3 0h0m1-6h0m4 1h0m2 4h0m4-3h0m2-1h0m1 0h0m0 3h0m1-4h0m5 1h0m2 6h0m7-6h0m15 4h0m1-2h0m1 2h0m0 2h0m3-4h0m17 0h0m0 1h0m3 0h0m2-1h0m0-3h0m15 3h0m6 3h0m3-1h0m1-5h0m1 4h0m2 2h0m1-3h0m0 1h0m5 0h0m6-3h0m4 4h0m1-2h0m3-1h0m9 5h0m0-7h0m5 7h0m8-4h0m0 4h0m3-6h0m2-1h0m1 7h0m8-1h0m1-1h0m0-5h0m1 7h0m1 0h0m0-4h0m1 0h0m2 4h0m2-7h0m1 4h0m6-4h0m1 4h0m12 1h0m2 0h0m12-3h0m13 4h0m10 1h0m17-4h0m11 1h0m2 2h0m10-3h0m10 0h0m7 3h0m3-5h0m3 4h0m0 2h0m17 0h0m6-7h0m4 6h0m2-2h0m0 3h0m10-6h0m1 3h0m2-4h0m7 7h0m9-7h0m16 3h0m6 3h0m3 1h0m1-5h0m19 3h0m2 1h0m3-6h0m2 2h0m10 2h0m4-1h0m3-3h0m2 5h0m5 2h0m3-7h0m2 3h0m5 3h0m3-6h0m3 7h0m0-2h0m3-5h0m2 7h0m12-1h0m1-5h0m7 6h0m2-1h0m1 1h0m7-2h0m9 2h0m0-3h0m2 1h0m3 2h0m1-7h0m3 4h0m0 2h0m12-5h0m2 2h0m7-2h0m2 6h0m1-1h0m0-5h0m0 4h0m3-3h0m2 4h0m2 0h0m7 1h0m4-4h0m4-2h0m5 1h0m8 1h0m4 0h0m2 3h0m12 1h0m5-1h0m-644 2h0m16 5h0m6-2h0m10-2h0m1 1h0m9 5h0m13-7h0m3 5h0m17 0h0m3-4h0m0 2h0m1-3h0m0 1h0m3 6h0m5-2h0m2 2h0m2-2h0m1 2h0m1-1h0m2-1h0m2 0h0m3-2h0m4 1h0m6-1h0m2 2h0m6 0h0m0-3h0m2 3h0m0-1h0m3 0h0m17-2h0m9 1h0m4-3h0m2 3h0m26 0h0m7-2h0m4 1h0m2-1h0m5 1h0m1 1h0m4 4h0m1-1h0m2-5h0m1 2h0m3-3h0m2 6h0m0-1h0m1 0h0m1 0h0m2 0h0m2 0h0m5 0h0m1-2h0m0-1h0m3 2h0m6-4h0m1 1h0m9 6h0m1-4h0m4-3h0m1 5h0m5 0h0m0 2h0m1 0h0m2-5h0m9 5h0m7-6h0m22-1h0m2 5h0m2 1h0m2-4h0m1 2h0m10 1h0m8-3h0m3-1h0m4 4h0m3-4h0m1-1h0m3 2h0m0 4h0m12-2h0m23 2h0m13-4h0m23 0h0m1 0h0m6-1h0m5 3h0m0-1h0m31 1h0m2-4h0m8 4h0m21-3h0m0-1h0m10 5h0m9 1h0m1-2h0m5-3h0m2 6h0m4-7h0m3 4h0m4 1h0m9 2h0m3-5h0m2 2h0m2 1h0m1 2h0m0-3h0m0 2h0m0-3h0m1-2h0m1 4h0m2 0h0m1-5h0m2 0h0m3 0h0m5 4h0m10-3h0m4 2h0m1-1h0m2 4h0m1 1h0m4-6h0m3 1h0m0 2h0m3 2h0m2-2h0m10 3h0m4-5h0m1 2h0m1-2h0m0 4h0m2-6h0m3 0h0m2 7h0m7-4h0m1-2h0m5 1h0m1-2h0m3 5h0m7-1h0m6 2h0m9-5h0m-647 14h0m0-1h0m5 0h0m3-5h0m3 1h0m0 1h0m2-2h0m6 0h0m3 2h0m10 2h0m2 0h0m6-2h0m2 4h0m1-1h0m6-6h0m7 1h0m5 4h0m16 0h0m5-2h0m2 0h0m4 0h0m7 1h0m4-4h0m8 1h0m1 4h0m0-3h0m1-2h0m0 4h0m6-3h0m1 5h0m5-6h0m9 0h0m3 7h0m4 0h0m0-6h0m6 4h0m4-5h0m2 7h0m2-5h0m3 2h0m1 3h0m2-3h0m5 2h0m8-6h0m1 0h0m2 1h0m6 4h0m6-2h0m6 3h0m2-5h0m3 5h0m3-5h0m1 2h0m2 1h0m6 3h0m0-5h0m3-1h0m11 5h0m0-5h0m16 4h0m14-3h0m10-2h0m5 7h0m7-3h0m2-2h0m4 5h0m9-1h0m8 1h0m0-7h0m0 3h0m2 3h0m21-3h0m14 0h0m2 4h0m15-4h0m2-1h0m5 0h0m21 3h0m8-5h0m3 6h0m3 1h0m8-4h0m2 3h0m17-6h0m2 2h0m7 3h0m5 0h0m2 0h0m12-4h0m0 6h0m7-3h0m3-2h0m14-1h0m6 5h0m3-2h0m3-2h0m2 5h0m10-6h0m6 0h0m5 5h0m4-4h0m0 2h0m2-2h0m1-2h0m11 3h0m1-1h0m5-1h0m3 1h0m0 2h0m1 1h0m2 0h0m5 2h0m3-4h0m4 3h0m1-4h0m7-2h0m0 3h0m1-2h0m0 6h0m3-1h0m1-6h0m0 5h0m0 2h0m4-1h0m1-2h0m4 1h0m1-5h0m1 6h0m3 1h0m9-3h0m5 3h0m0-7h0m1 2h0m1-1h0m1 6h0m1-3h0m2 1h0m3 1h0m5-2h0m3-4h0m3 7h0m1-4h0m1 0h0m7 0h0m2 3h0m1-2h0m1 3h0m15-3h0m4-3h0m3 3h0m4 3h0m-650 1h0m1 6h0m1-4h0m2-1h0m5 5h0m18-6h0m1 3h0m3-1h0m9 5h0m2-4h0m1 2h0m0-5h0m11 0h0m8 5h0m27 2h0m0-5h0m3-1h0m4 0h0m8 6h0m7-4h0m1 2h0m28 0h0m4-5h0m2 0h0m12 1h0m3 4h0m5 1h0m11 0h0m2 1h0m9-2h0m15-4h0m5 0h0m15 6h0m13-4h0m8 1h0m1-2h0m18 4h0m1-4h0m16 3h0m0 2h0m1-4h0m3-2h0m2 4h0m1-1h0m0-3h0m1 1h0m3 1h0m2 2h0m3 1h0m6-3h0m1-2h0m1 3h0m5-3h0m2 2h0m0 1h0m2 3h0m1-5h0m2 3h0m1 1h0m0-5h0m7 4h0m4-3h0m3 4h0m4 1h0m3-7h0m4 1h0m4-1h0m1 4h0m3-2h0m19 1h0m6 4h0m2-3h0m1 3h0m2-7h0m3 4h0m1-2h0m9 0h0m3-2h0m9 7h0m7 0h0m2-2h0m1-2h0m0-2h0m4-1h0m2 6h0m6-5h0m2 0h0m2 5h0m17-1h0m3-2h0m5 1h0m2 2h0m2-4h0m3 1h0m3-3h0m5 5h0m7 1h0m2-1h0m12-2h0m3 0h0m4 3h0m23-4h0m1-2h0m2 6h0m1-3h0m2 4h0m2-6h0m7 3h0m4-2h0m1 0h0m14 4h0m1-1h0m6-1h0m2-4h0m1 3h0m13 2h0m11 0h0m4 0h0m5 0h0m5 2h0m1-7h0m0 1h0m2 2h0m1 2h0m2-4h0m1 0h0m14 0h0m2 3h0m18 1h0m1-5h0m1 4h0m5 1h0m-652 10h0m3-7h0m1 0h0m5 1h0m0 6h0m0-1h0m1-2h0m3-2h0m23 1h0m5 3h0m6-5h0m3 4h0m4-3h0m7 5h0m22-2h0m5-1h0m0 2h0m3-3h0m4-2h0m10 3h0m1-2h0m3 5h0m3 0h0m32 0h0m14-2h0m0-1h0m1-3h0m2 6h0m5-1h0m5-4h0m14 0h0m1 2h0m4-2h0m1 1h0m10-1h0m1 1h0m21 3h0m0-1h0m0-1h0m7 3h0m9-1h0m6-1h0m6 2h0m8-5h0m2 3h0m2-4h0m4 0h0m3 6h0m12-7h0m3 5h0m0-1h0m1-4h0m0 2h0m5 3h0m6-2h0m2 0h0m1 4h0m0-5h0m2 2h0m4 2h0m1 0h0m7-3h0m5 3h0m7-1h0m4 2h0m9-6h0m4 2h0m27 2h0m2 1h0m4 1h0m2-4h0m0-3h0m4 1h0m1 0h0m1 5h0m1-5h0m1 6h0m2-5h0m0 1h0m1-3h0m2 4h0m13-4h0m3 3h0m5 4h0m3-7h0m2 4h0m7-3h0m7 6h0m2-6h0m1 1h0m8 3h0m5-3h0m4-2h0m1 7h0m1-4h0m3-1h0m2 3h0m1 2h0m1-2h0m3 2h0m5-2h0m1-3h0m2 3h0m0-5h0m7 6h0m4-5h0m4 6h0m1-1h0m1 1h0m4-6h0m0 4h0m5 2h0m17-3h0m5 2h0m11 1h0m0-6h0m5 6h0m1-7h0m0 3h0m3-2h0m1 5h0m3 1h0m1-3h0m7-4h0m12 1h0m4-1h0m29 5h0m13-5h0m43 3h0m-653 5h0m2 4h0m0 1h0m1 0h0m0-3h0m1 3h0m0 2h0m1-3h0m0 2h0m2-4h0m7 1h0m3 1h0m1 2h0m2-3h0m8 4h0m3-4h0m2 2h0m30-2h0m31-1h0m6 1h0m0 2h0m2 2h0m30-2h0m10-3h0m2 3h0m2-3h0m2 0h0m1 0h0m1-1h0m0 5h0m8-6h0m1 2h0m4 4h0m10 1h0m0-3h0m3-1h0m9-2h0m10 5h0m1-3h0m1 3h0m2 0h0m2-5h0m1 3h0m3 0h0m1-2h0m1 2h0m8 3h0m2-4h0m1 0h0m10 2h0m0 1h0m4 1h0m1-1h0m0-5h0m1 2h0m3 3h0m0-5h0m2 1h0m1 4h0m2-6h0m3 2h0m3-2h0m2 0h0m0 6h0m10-1h0m1-3h0m1 0h0m1 4h0m0 1h0m0-7h0m10 6h0m4 0h0m2-4h0m6-2h0m3 7h0m7 0h0m0-3h0m1-1h0m2 2h0m1-1h0m12-4h0m10 0h0m41 4h0m3-1h0m1-2h0m9-1h0m0 3h0m2 4h0m1-7h0m3 6h0m5 0h0m10-6h0m7 0h0m6 7h0m3-7h0m13 5h0m3 0h0m4-3h0m16 0h0m21-2h0m6 5h0m2-3h0m3 1h0m5 0h0m1-3h0m2 2h0m4 0h0m1-2h0m1 3h0m1 0h0m2-2h0m0 1h0m11 5h0m14-5h0m5 0h0m1 0h0m6 2h0m1-3h0m13 0h0m10 1h0m2 2h0m4-1h0m20 2h0m5-4h0m17 0h0m0 6h0m1-1h0m0-3h0m2-1h0m2-2h0m1 1h0m0 4h0m14-1h0m15 0h0m1-3h0m8 5h0m-649 5h0m1-3h0m9 2h0m0 2h0m1-4h0m0 2h0m5 4h0m6-2h0m4 1h0m36 0h0m7-4h0m6 6h0m1 0h0m1-5h0m7 2h0m8 3h0m3-7h0m8 3h0m3-3h0m1 0h0m6 2h0m1-2h0m16 6h0m2-2h0m4-2h0m18 3h0m6-3h0m0-2h0m11 6h0m10-2h0m1 1h0m0-5h0m7 7h0m3 0h0m4-5h0m0-1h0m6 1h0m1 0h0m2 1h0m7-1h0m1-2h0m8 0h0m9 3h0m2 4h0m7-7h0m4 0h0m2 6h0m18-4h0m0 3h0m6 1h0m2 0h0m3-1h0m4-2h0m5 4h0m1-5h0m5-2h0m0 2h0m1 4h0m5-6h0m3 5h0m10-3h0m17 3h0m6 0h0m12 0h0m12 2h0m14-4h0m2-3h0m1 1h0m0 5h0m2 1h0m0-1h0m6 0h0m5-2h0m3-3h0m0 4h0m4-3h0m6-1h0m5 2h0m4-1h0m0 4h0m11 1h0m5-7h0m9 6h0m5-2h0m4-1h0m18 4h0m9-7h0m6 7h0m7-7h0m6 6h0m11-1h0m0-3h0m2 2h0m4 1h0m7-2h0m1-2h0m1 2h0m18 4h0m2-3h0m8-4h0m6 1h0m0-1h0m7 3h0m1 0h0m0-1h0m4-1h0m5 0h0m0 4h0m23-1h0m5 1h0m1 0h0m12 1h0m1-1h0m7-5h0m1 4h0m4 1h0m1-3h0m1 4h0m4-2h0m6 1h0m3 1h0m3-2h0m6-2h0m-639 8h0m3 4h0m7-2h0m8 0h0m0 1h0m5-4h0m16 1h0m5 2h0m0 2h0m0-3h0m10-3h0m1 1h0m1 0h0m4 6h0m1 0h0m4-1h0m4 0h0m10-5h0m8 6h0m2-3h0m5 2h0m14-1h0m12-5h0m27 3h0m12-3h0m15 5h0m15-2h0m2 1h0m2 1h0m6-4h0m3 0h0m3 2h0m4 0h0m7 0h0m4 2h0m7 2h0m1-7h0m17 6h0m2-1h0m1-2h0m4-2h0m1 3h0m6-3h0m12 2h0m3 2h0m2 0h0m4-2h0m1-1h0m4-1h0m3 6h0m1-2h0m1 2h0m8-1h0m22-2h0m13-3h0m5 3h0m5 2h0m0-5h0m3 2h0m5-1h0m1-2h0m1 0h0m3 7h0m4-6h0m4 4h0m0 1h0m2-4h0m4 5h0m1-5h0m3 2h0m0-3h0m1 3h0m5 2h0m1-4h0m4 5h0m2-3h0m4-1h0m10-1h0m4 2h0m0 1h0m3 2h0m3-2h0m4-5h0m9 0h0m3 5h0m3-4h0m7 0h0m4-1h0m2 1h0m7 0h0m4-1h0m4 2h0m26-2h0m2 4h0m16 0h0m2-1h0m4 2h0m6 0h0m1-1h0m11 1h0m1-4h0m9 1h0m3 3h0m0-1h0m3 2h0m3-5h0m2 6h0m2-5h0m6 4h0m1-3h0m0 1h0m1 3h0m3-2h0m4-1h0m21 0h0m2-2h0m1 3h0m0 2h0m1-2h0m0-1h0m0-3h0m8 0h0m13 6h0m6-3h0m1-3h0m0 1h0m2 5h0m5-3h0m5 3h0m1-6h0m15 1h0m3 2h0m-643 11h0m3-5h0m8 4h0m1 0h0m2 1h0m2-6h0m6-1h0m6 4h0m3 2h0m1-5h0m1 4h0m1 2h0m15-7h0m18 0h0m5 6h0m5-4h0m11 1h0m3 1h0m6 3h0m7 0h0m24-5h0m1 4h0m2-5h0m31 6h0m2-5h0m7-1h0m2 2h0m4 4h0m4-7h0m4 5h0m3 0h0m12 1h0m1-5h0m16 4h0m6-5h0m2 3h0m4 4h0m1-6h0m5 6h0m0-7h0m2 5h0m3-3h0m1 3h0m2-2h0m0-1h0m1 5h0m5-2h0m1-3h0m4 4h0m2 1h0m8 0h0m1-5h0m8 1h0m5-3h0m2 0h0m5 3h0m4 1h0m4 0h0m20 2h0m25 0h0m5-2h0m2 1h0m9-3h0m7 3h0m3-5h0m15 1h0m2 4h0m1-5h0m6 5h0m4-2h0m5 1h0m7-4h0m0 1h0m9 1h0m8 0h0m2 2h0m0-1h0m3-2h0m0 6h0m3-1h0m6-6h0m3 4h0m3-3h0m14 4h0m1-3h0m33 4h0m0 1h0m6-5h0m1 3h0m5-2h0m1-2h0m17-1h0m2 6h0m1-5h0m5 4h0m3 0h0m2-5h0m0 6h0m1-5h0m1 1h0m1 5h0m3-4h0m7 1h0m1 3h0m0-5h0m1 4h0m7-6h0m5 2h0m1 3h0m11-4h0m4 5h0m4-2h0m4-3h0m6-1h0m2 6h0m5-6h0m2 1h0m0-1h0m4 0h0m2 4h0m3-3h0m0 1h0m4-1h0m5 4h0m2-5h0m2 6h0m4-2h0m1-2h0m10 1h0m3-1h0m-646 12h0m9-3h0m4 0h0m2-2h0m2 2h0m1 4h0m17-4h0m2 3h0m8-3h0m0 2h0m3 2h0m10 0h0m4-2h0m7-5h0m2 5h0m1 2h0m4-7h0m14 7h0m1-2h0m2-2h0m1-3h0m2 6h0m1-6h0m9 2h0m6 3h0m4-5h0m1 2h0m1 5h0m5-6h0m1-1h0m4 2h0m5 1h0m7-1h0m4 2h0m1 1h0m11 1h0m11-4h0m2-2h0m10 1h0m5 5h0m3-4h0m2 3h0m0-3h0m7-1h0m4 4h0m3 0h0m0 2h0m6-1h0m21-4h0m4 0h0m3-1h0m3 5h0m4 0h0m8-2h0m2 3h0m2-1h0m4-2h0m3-3h0m6 6h0m2-2h0m4-3h0m1 2h0m1-1h0m3 3h0m4 0h0m4 1h0m1-2h0m2 0h0m1 0h0m10-2h0m2-3h0m3 7h0m3-4h0m14 0h0m4-2h0m2 2h0m27 1h0m4-3h0m25 3h0m12 2h0m3-4h0m0 1h0m5 1h0m1 3h0m2-5h0m7 0h0m7 2h0m11-4h0m3 0h0m4 1h0m4 6h0m7-1h0m11-4h0m13 4h0m1-3h0m4-2h0m3 4h0m3-5h0m1 6h0m12 1h0m1-7h0m10 0h0m20 6h0m1-6h0m0 3h0m1 1h0m1-2h0m1 5h0m2-4h0m1-1h0m3 0h0m1 0h0m4 1h0m4 2h0m3-5h0m2 2h0m4 0h0m4 0h0m10 1h0m4 1h0m2-3h0m2 0h0m2 5h0m10-3h0m0 2h0m19 2h0m0-3h0m1-4h0m0 2h0m3 4h0m3-5h0m3 5h0m2-1h0m9-4h0m9 3h0m2-1h0m2 3h0m2-6h0m1 4h0m-643 5h0m8 2h0m20-1h0m2 0h0m4 2h0m4 3h0m3-6h0m3 5h0m0 1h0m3 0h0m0-3h0m5-3h0m9 6h0m1-2h0m5-3h0m5 2h0m1 0h0m8-2h0m10-2h0m16 4h0m0-1h0m3 4h0m0-7h0m3 7h0m0-7h0m17 0h0m10 5h0m6 2h0m6 0h0m5-1h0m2 0h0m12-6h0m2 5h0m5 1h0m1-6h0m7 3h0m5-1h0m0 4h0m6-4h0m2-2h0m3 6h0m3-6h0m3 4h0m0 2h0m6-1h0m12-2h0m2-3h0m3 5h0m1-2h0m6 0h0m1-2h0m7 4h0m7 1h0m3-5h0m4-1h0m1 4h0m6 2h0m2-3h0m3-1h0m0 1h0m1-3h0m1 7h0m1 0h0m0-7h0m0 1h0m2 0h0m4-1h0m2 6h0m0-1h0m4-3h0m0-2h0m1 6h0m1 1h0m5-6h0m43 0h0m6 1h0m10 2h0m30 2h0m2-3h0m9-2h0m26 5h0m3-1h0m2-2h0m35 0h0m4 1h0m8 2h0m3-3h0m29 3h0m14-4h0m0 4h0m3 0h0m7 0h0m3 1h0m6-6h0m4-1h0m6 2h0m2 2h0m2-2h0m6-2h0m1 4h0m2-4h0m5 7h0m1-3h0m0-1h0m6 0h0m1 0h0m1 3h0m1 1h0m1-4h0m3 3h0m3-6h0m10 1h0m0-1h0m2 5h0m3 2h0m2 0h0m2-5h0m1 4h0m4-2h0m6 1h0m5 1h0m0 1h0m12-7h0m3 7h0m1-2h0m2-4h0m1 6h0m-624 1h0m12 2h0m1 1h0m3-1h0m1 0h0m1 4h0m3-5h0m3-1h0m9 7h0m3-4h0m2 3h0m5-5h0m2 3h0m3 2h0m2-3h0m9 1h0m2 2h0m9-1h0m0-5h0m8 4h0m12 3h0m0-1h0m2-4h0m7 3h0m3-3h0m0 2h0m1-3h0m3 5h0m9-1h0m17-3h0m3-2h0m1 4h0m3 0h0m1-3h0m4 5h0m4-4h0m9 1h0m6 3h0m3-3h0m1-2h0m0 5h0m1 0h0m0-5h0m2 0h0m4 6h0m3-4h0m1 2h0m2 0h0m1 2h0m1-1h0m0-4h0m2 5h0m1-3h0m19 1h0m12-1h0m1-4h0m1 2h0m5 2h0m0-1h0m3 4h0m2-3h0m4 0h0m0-4h0m2 5h0m1-3h0m6 0h0m7 2h0m2-4h0m1 3h0m2-2h0m3-1h0m1 7h0m8-1h0m3 1h0m7-5h0m2 0h0m0 4h0m2 1h0m3-2h0m13-2h0m12-1h0m11 5h0m11-1h0m6-3h0m6-2h0m12 3h0m14-2h0m1 5h0m1-5h0m17 3h0m1 0h0m11-4h0m6 6h0m3-7h0m60 0h0m6 0h0m1 5h0m7 2h0m15 0h0m6 0h0m16-2h0m0-3h0m16 4h0m3-3h0m1 2h0m3-5h0m0 3h0m4 2h0m5 2h0m3-7h0m10 4h0m6 3h0m2 0h0m1-7h0m2 4h0m4 3h0m9-6h0m1 1h0m1 0h0m3 3h0m1-5h0m7 3h0m1 2h0m0 1h0m5 0h0m2-1h0m3 2h0m1 0h0m1-2h0m3 0h0m9-5h0m6 7h0m2-2h0m-636 5h0m3 2h0m3 2h0m5-5h0m8 5h0m0-5h0m1-1h0m0 5h0m3-4h0m3-1h0m4 0h0m4 2h0m1 1h0m0-3h0m0 6h0m2 1h0m1-6h0m4 3h0m1-4h0m1 0h0m4 6h0m2-6h0m0 3h0m1 2h0m3-3h0m2 3h0m2 0h0m4 2h0m3-2h0m3 2h0m3-4h0m3 1h0m0 1h0m2-2h0m17-3h0m7 3h0m3 4h0m3-2h0m1-4h0m0 2h0m1 2h0m3 2h0m2-5h0m5-1h0m2 3h0m2 0h0m15-4h0m0 2h0m1 2h0m2 2h0m22-4h0m2 2h0m9 2h0m1-1h0m1-2h0m5-3h0m3 7h0m0-6h0m1 6h0m7-1h0m1-2h0m1 3h0m2-2h0m2-3h0m6-1h0m11 2h0m2 0h0m6 4h0m6-4h0m2 0h0m5 0h0m1 4h0m1-7h0m16 5h0m3-4h0m2 1h0m3 0h0m5-2h0m4 6h0m3 1h0m3-6h0m1 5h0m3-5h0m1 2h0m1-3h0m2 1h0m7 5h0m13-1h0m1-5h0m28 4h0m1 2h0m5-5h0m11 0h0m17-1h0m1 6h0m4-4h0m1-1h0m21 4h0m2 0h0m6-5h0m5 4h0m4-1h0m13 3h0m1-4h0m7 1h0m1 3h0m1-3h0m21 3h0m1-6h0m29 5h0m8-1h0m5-4h0m4 7h0m5-5h0m2 3h0m0-2h0m4-2h0m0 3h0m4 2h0m10-3h0m18 1h0m7 1h0m1 1h0m4-5h0m7-1h0m3 5h0m5-1h0m3 0h0m7 0h0m8-2h0m4 1h0m0 2h0m6-3h0m1 4h0m1-3h0m1 2h0m6-3h0m4 4h0m3-3h0m1 0h0m2 2h0m1-5h0m14 5h0m3-1h0m-648 9h0m21-3h0m6-1h0m11 1h0m0 3h0m4-4h0m5 2h0m1-1h0m4 1h0m2 2h0m1-4h0m1 3h0m8-2h0m2 2h0m4-3h0m8 0h0m7 3h0m9-3h0m1 3h0m23 2h0m7-1h0m2-5h0m0 5h0m2 0h0m14-1h0m11 1h0m4-3h0m3-2h0m10 4h0m4-2h0m3-2h0m6 3h0m2 2h0m0-1h0m7-3h0m1 3h0m4 1h0m7 2h0m4-2h0m1-1h0m0 1h0m2-2h0m0 2h0m0 2h0m11-3h0m1-2h0m5 2h0m5 2h0m4-6h0m3 4h0m2-1h0m4-3h0m2 5h0m8-4h0m5 0h0m5 2h0m1 3h0m2-4h0m5 0h0m11 2h0m0-1h0m0 4h0m3-5h0m1 3h0m1-1h0m7-3h0m14 2h0m3 0h0m1 2h0m3-3h0m2-2h0m1 3h0m9-1h0m9 3h0m16-3h0m1 3h0m14-2h0m14 4h0m0-3h0m4-2h0m4 2h0m33 0h0m9-2h0m2-2h0m1 0h0m5 7h0m10 0h0m11 0h0m1-3h0m3 1h0m4-3h0m7 0h0m44-2h0m2 4h0m6-3h0m13 2h0m4-1h0m3 0h0m0-1h0m6 0h0m2-1h0m0 4h0m9 0h0m8-4h0m1 6h0m5-5h0m2 4h0m10-1h0m4 2h0m5-6h0m1 1h0m1 3h0m2-2h0m8-1h0m7 5h0m10-2h0m-585 11h0m1 0h0m3-4h0m4-2h0m4-1h0m2 5h0m0-4h0m3 1h0m0-2h0m1 3h0m37 3h0m11 0h0m1 0h0m3 1h0m3 0h0m11 0h0m0-3h0m6 1h0m3-5h0m0 4h0m1-1h0m13 1h0m5-2h0m14 3h0m10-5h0m3 6h0m3-2h0m6-3h0m10 3h0m9 1h0m3-2h0m1-1h0m7-1h0m4 3h0m13 3h0m10-4h0m3 0h0m4 4h0m11-5h0m3 3h0m0 2h0m5-6h0m7 1h0m13 1h0m15 1h0m1-3h0m6 6h0m0-6h0m4 2h0m23 3h0m1-2h0m3-3h0m0 6h0m2-2h0m4 2h0m0-6h0m4 3h0m5-1h0m2 2h0m1 1h0m0-3h0m1-1h0m3 0h0m3 2h0m6 2h0m5-6h0m9 2h0m7 2h0m3 3h0m1-6h0m1 1h0m24 0h0m4 5h0m8-1h0m1-3h0m5 0h0m1-2h0m4 1h0m1-1h0m28 6h0m9 0h0m25-3h0m31-1h0m9-2h0m11-1h0m15 4h0m9-2h0m8 4h0m24 1h0m1-6h0m2-1h0m7 5h0m4 0h0m1-4h0m5 0h0m-648 12h0m5-3h0m6-1h0m5 1h0m0 4h0m5-4h0m10-2h0m0 6h0m2-6h0m0 3h0m1 4h0m2-5h0m2 2h0m1 0h0m0-3h0m1 6h0m6-1h0m7-3h0m11 1h0m1 3h0m4-7h0m18 7h0m3-6h0m16 6h0m2-1h0m3 1h0m4-7h0m11 3h0m0-1h0m1 3h0m1-4h0m10 4h0m9 2h0m2-2h0m4 2h0m1-1h0m0-3h0m1 3h0m5 0h0m2-2h0m6-2h0m1 4h0m1-6h0m5 5h0m15 2h0m1-4h0m1-3h0m5 2h0m1 1h0m4-3h0m11 1h0m3 3h0m9-1h0m1-1h0m3 4h0m6 1h0m2 0h0m25-5h0m12 4h0m3 0h0m18 1h0m19-5h0m3 4h0m10 0h0m3 0h0m17-5h0m2 2h0m5 3h0m1-5h0m0 6h0m3-6h0m3 4h0m0 2h0m7-7h0m2 6h0m19-3h0m2 3h0m1-5h0m1 5h0m4 1h0m7 0h0m12-2h0m1-4h0m6 6h0m1-5h0m2 1h0m0 4h0m5-1h0m5-3h0m0-3h0m1 2h0m2-2h0m6 2h0m2 3h0m14-1h0m5-2h0m9 2h0m7 1h0m3-3h0m3 3h0m16 1h0m20-6h0m24 3h0m9-2h0m4 3h0m19-2h0m16 2h0m16 0h0m5-1h0m5-2h0m1 6h0m14 0h0m-635 3h0m8 5h0m4-7h0m3 7h0m1-4h0m1-3h0m4 4h0m1 0h0m2 3h0m1-4h0m0 1h0m1-1h0m1 1h0m1 1h0m2 1h0m0 1h0m3-6h0m12 5h0m4-1h0m2 1h0m0-3h0m4-3h0m13 0h0m40 4h0m4-2h0m3-2h0m0 2h0m11 5h0m2 0h0m1-5h0m3 2h0m2 2h0m2-2h0m7-2h0m15-1h0m3 4h0m16-3h0m7 0h0m6 2h0m11-2h0m3-1h0m2 2h0m8 2h0m1-3h0m9 4h0m7-2h0m8-4h0m3 2h0m2 1h0m4 1h0m3 3h0m3-4h0m7 1h0m1 0h0m1-3h0m0 3h0m8-2h0m1 4h0m1-2h0m9-3h0m0 4h0m6 0h0m4-5h0m17 7h0m12-6h0m1-1h0m8 5h0m1 0h0m5 1h0m0-2h0m3 3h0m2-2h0m2-3h0m4 0h0m1 0h0m2 3h0m4-1h0m1 3h0m1-4h0m3 0h0m0 2h0m0-5h0m5 0h0m0 2h0m3 0h0m2 4h0m3-3h0m7 2h0m1 0h0m0-1h0m6 3h0m0-3h0m3 2h0m4-2h0m17-3h0m18-1h0m9 3h0m3 0h0m1 3h0m4-5h0m2 4h0m1-4h0m7 1h0m1 0h0m0 2h0m7-3h0m1 5h0m15-3h0m2 2h0m1-5h0m7 7h0m0-5h0m6 2h0m1 0h0m2-1h0m13 1h0m2-4h0m1 6h0m9-4h0m0 4h0m31-6h0m3 5h0m5 2h0m5-4h0m4 0h0m4 1h0m2 0h0m5-1h0m1 2h0m2-3h0m3 3h0m1-4h0m2 3h0m2 1h0m2 0h0m5-1h0m21-4h0m1 2h0m1-2h0m2 2h0m1 1h0m2-2h0m-629 12h0m4 0h0m7-3h0m5-2h0m17 0h0m1 7h0m0-7h0m3 6h0m1-3h0m0-3h0m2 1h0m1 5h0m5-5h0m27 2h0m11-1h0m17 5h0m10-6h0m7 1h0m5 3h0m5 0h0m3-5h0m0 3h0m7-3h0m2 4h0m4 0h0m3-3h0m5 3h0m4 3h0m2-5h0m7 3h0m5-5h0m4 1h0m0 2h0m4-3h0m3 3h0m4 0h0m6 3h0m1-5h0m0 2h0m3-3h0m1 1h0m2 1h0m10 3h0m13 1h0m7 1h0m2-3h0m9-2h0m2 0h0m16-1h0m2 4h0m2-1h0m1 1h0m3-2h0m1 3h0m1-4h0m7-2h0m6 6h0m23-6h0m8 1h0m8 6h0m2-5h0m2 4h0m24-6h0m1 0h0m10 5h0m2 1h0m21 0h0m3-1h0m1-2h0m9 4h0m13-5h0m4-1h0m2 4h0m1 0h0m5 2h0m0-6h0m10 0h0m14 2h0m1-3h0m0 4h0m12 1h0m2 2h0m1-4h0m0-1h0m1 1h0m16 1h0m5 3h0m11-1h0m5-2h0m5 0h0m22-2h0m14 4h0m12-5h0m3-1h0m17 4h0m2 2h0m1 1h0m9 0h0m7-3h0m19 3h0m1-4h0m17 2h0m-629 9h0m6-2h0m1 3h0m5-2h0m2-5h0m11 6h0m2-3h0m5 2h0m2 2h0m1-4h0m1-3h0m1 2h0m1 1h0m6 3h0m8-6h0m1 7h0m7-2h0m0 2h0m2-4h0m2-1h0m19 5h0m1-2h0m5-4h0m3 6h0m5 0h0m9-2h0m2-3h0m17 4h0m5-1h0m1-3h0m4-2h0m1 0h0m7 2h0m1 1h0m0 2h0m0-5h0m6 4h0m2-1h0m0-2h0m1 6h0m6-6h0m6-1h0m3 6h0m0-1h0m0 2h0m1-1h0m9-6h0m6 0h0m4 4h0m8-2h0m6 2h0m7 0h0m18 1h0m7-4h0m3 6h0m0-3h0m9 0h0m3-4h0m0 1h0m11 3h0m5 0h0m1-4h0m1 2h0m3 1h0m3 3h0m29 1h0m7-1h0m14 1h0m3-1h0m10-1h0m6 1h0m4 0h0m12-2h0m0 3h0m4 0h0m1-3h0m3 0h0m3-2h0m4 4h0m5 1h0m11 0h0m6-7h0m10 6h0m2 1h0m1-4h0m1-2h0m2 4h0m1-4h0m30 3h0m6-1h0m13 4h0m2-3h0m6 1h0m1-4h0m13 3h0m8-3h0m3 0h0m37 3h0m37 1h0m1 1h0m7 1h0m2 0h0m2-4h0m4-3h0m4 4h0m6 0h0m3 2h0m6-3h0m4 3h0m2 1h0m4-3h0m12 1h0m7-3h0m3 3h0m2 2h0m1-5h0m5 4h0m9-3h0m-649 5h0m16 0h0m4 7h0m0-5h0m3 5h0m7-7h0m3 3h0m7 0h0m0 1h0m3 0h0m1-4h0m3 0h0m0 6h0m18-2h0m3 3h0m9-4h0m3 2h0m5-1h0m8-1h0m3 3h0m12-6h0m1 4h0m1-2h0m1-2h0m4 2h0m9 2h0m0-1h0m1-3h0m1 7h0m2-3h0m6 0h0m1-3h0m7 0h0m6 0h0m3 1h0m0 2h0m1-4h0m2 4h0m4 3h0m0-3h0m3-1h0m1 1h0m3 0h0m3-4h0m6 2h0m6 4h0m13-5h0m10-1h0m3 1h0m2 2h0m15 1h0m3 0h0m1 2h0m0-1h0m17 2h0m0-2h0m1 2h0m9-1h0m0-1h0m1-4h0m2 3h0m0 3h0m7-6h0m2 3h0m3 3h0m8-3h0m0-1h0m7-1h0m82-2h0m0 2h0m2-1h0m8 5h0m51-3h0m4 2h0m0 2h0m6-2h0m2 0h0m10-4h0m5 6h0m0-5h0m5 4h0m13-4h0m3 3h0m1-1h0m9-4h0m4 0h0m6 3h0m16-3h0m7 3h0m4-2h0m5 1h0m0 5h0m10 0h0m13-5h0m10 5h0m3-1h0m3-5h0m2 5h0m1-1h0m0-3h0m2 1h0m0 2h0m8 0h0m1 2h0m1-6h0m10 4h0m19 1h0m5 1h0m1-6h0m3-1h0m1 1h0m15 0h0m3 5h0m6-4h0m6-2h0m-652 9h0m6 5h0m17 0h0m5-3h0m4 2h0m14-3h0m1 3h0m1-2h0m0 2h0m0-3h0m1 0h0m5-2h0m5 3h0m1 3h0m1-2h0m9 1h0m1-3h0m3-2h0m1 3h0m4-1h0m1 3h0m2-4h0m1 2h0m3-1h0m3 3h0m1-3h0m0 2h0m5-2h0m3 3h0m6 2h0m1-1h0m0 1h0m2 0h0m0-2h0m3-4h0m1 3h0m4-1h0m8-1h0m2 5h0m2 0h0m3-7h0m2 1h0m1 4h0m4 2h0m0-7h0m1 5h0m5-4h0m2 0h0m1 4h0m8-5h0m8 3h0m5 0h0m5-1h0m6 4h0m0-4h0m5 3h0m2-3h0m1 4h0m6-1h0m2 2h0m5-5h0m5 4h0m4-6h0m1 1h0m1 5h0m7 1h0m12-2h0m1-3h0m6 0h0m1 2h0m9 2h0m2-5h0m1 3h0m0 2h0m5-2h0m1-4h0m1 2h0m1-2h0m5 4h0m2-2h0m5 1h0m42 2h0m20-1h0m10-3h0m3 0h0m11 5h0m8 0h0m9-2h0m12 3h0m1-1h0m3-3h0m17-1h0m8 0h0m0-1h0m6 5h0m6-4h0m2 1h0m1-2h0m3 5h0m1-4h0m0 5h0m2-7h0m3 1h0m1-1h0m1 7h0m10-6h0m11 0h0m7 3h0m4-3h0m8 6h0m0-7h0m3 2h0m15 4h0m4-2h0m4 2h0m3-6h0m1 7h0m6 0h0m4-1h0m4 1h0m2-4h0m4 4h0m7 0h0m10-4h0m7 3h0m5-5h0m7 4h0m3-5h0m7 3h0m1 4h0m7 0h0m1-3h0m10 3h0m1-1h0m2-1h0m2-2h0m2 3h0m2 0h0m1 0h0m3-6h0m3 6h0m3-3h0m3-2h0m3 2h0m3-2h0m6 4h0m12-2h0m3-3h0m7 3h0m2 0h0m-621 9h0m0-3h0m0 4h0m16-1h0m2-1h0m6 4h0m7 0h0m6-4h0m1 4h0m4-4h0m2 1h0m1 2h0m3-4h0m4 1h0m0 2h0m1-3h0m5 0h0m2 0h0m3 2h0m2 1h0m1-3h0m5 5h0m1-2h0m4 1h0m1-1h0m4-2h0m5-2h0m2 5h0m5-6h0m1 0h0m2 2h0m3 2h0m1-3h0m1 2h0m5 1h0m1 1h0m9-2h0m12 4h0m4-5h0m7 2h0m9-4h0m1 2h0m0 4h0m0-5h0m7-1h0m1 6h0m19 0h0m2-1h0m2-1h0m1-3h0m1 4h0m2-2h0m4 1h0m1-2h0m3-2h0m1 6h0m5 1h0m2-2h0m18-4h0m11 0h0m0 4h0m1-4h0m4 3h0m1-1h0m4 0h0m14 0h0m23-1h0m7 1h0m1 1h0m17 1h0m8-2h0m1-2h0m10 5h0m1-4h0m7 0h0m0-1h0m2 4h0m4 1h0m4-3h0m4 0h0m28-3h0m20 2h0m11 3h0m3-2h0m4-3h0m7 5h0m19-1h0m9-1h0m2-1h0m4 1h0m4 3h0m5-5h0m9 0h0m1 0h0m4 5h0m1-6h0m0 6h0m2 1h0m2-5h0m5 1h0m1-3h0m1 5h0m0-5h0m0 2h0m2-2h0m3 4h0m2 3h0m15-4h0m28 1h0m4-3h0m2 5h0m1-5h0m6 2h0m6-3h0m2 0h0m2 5h0m16-1h0m4 3h0m1-3h0m2-4h0m3 4h0m4-2h0m2 2h0m1-2h0m0 5h0m1-6h0m1 6h0m0-5h0m8 1h0m6 3h0m3-6h0m0 4h0m6-2h0m0 4h0m2-1h0m-602 9h0m3 0h0m2-1h0m1 2h0m3-2h0m4-4h0m7 0h0m8 3h0m3-3h0m7-1h0m1 3h0m36-2h0m3 6h0m3-3h0m10-4h0m11 6h0m1-4h0m11 3h0m11-1h0m9-3h0m8 5h0m4-2h0m39 0h0m5 2h0m4-2h0m10-1h0m4-3h0m17 4h0m20-3h0m12 4h0m6 1h0m10-1h0m1-5h0m7 6h0m1 0h0m7-1h0m7-3h0m2-2h0m11 4h0m4 0h0m1-4h0m28 3h0m48 3h0m17-4h0m4-1h0m14 3h0m1 1h0m4 2h0m1 0h0m1-4h0m6 0h0m4-2h0m27 1h0m14 2h0m13 1h0m6 0h0m2 2h0m5-3h0m4-2h0m5 3h0m3 1h0m2 0h0m1-1h0m4 0h0m3-1h0m2 0h0m5-4h0m6 5h0m3-1h0m2 0h0m14-4h0m2 6h0m7 1h0m1 0h0m1 0h0m10-2h0m8-2h0m1-1h0m1 0h0m-640 6h0m16 3h0m17 2h0m17-4h0m13 0h0m6 3h0m10 0h0m3-4h0m32 1h0m0 2h0m1 1h0m0 3h0m6-3h0m38-2h0m2 2h0m14 1h0m7-3h0m3-1h0m2 0h0m3 1h0m13 2h0m0 2h0m7-6h0m1 0h0m8 4h0m9-4h0m15 3h0m6-1h0m8 5h0m10-7h0m4 0h0m12 3h0m24-3h0m19 0h0m20 7h0m2-1h0m3-4h0m0 2h0m11-1h0m25 4h0m11-6h0m34 0h0m0 4h0m7 1h0m7-3h0m4 3h0m12-2h0m1-3h0m0 2h0m6 0h0m2 0h0m0-3h0m2 3h0m5-1h0m3-2h0m2 3h0m7-2h0m2 0h0m10-1h0m1 5h0m1-2h0m3-1h0m25 3h0m1-5h0m1 4h0m5 1h0m2 1h0m6-3h0m3 2h0m0-3h0m19-2h0m6 5h0m8-1h0m3 2h0m4-4h0m1-2h0m0 4h0m3-1h0m3 3h0m1-5h0m1 4h0m0-2h0m1 4h0m1-6h0m0 1h0m2-2h0m1 2h0m7 4h0m3 0h0m9 0h0m9-2h0m2-3h0m3 5h0m6 0h0m8-5h0m-643 8h0m16 3h0m52 3h0m10-7h0m23 4h0m9 2h0m5-6h0m5 3h0m13 2h0m16-4h0m2 4h0m12 2h0m0-7h0m20 0h0m2 3h0m8 0h0m14-3h0m13 2h0m0 4h0m5-6h0m7 0h0m4 4h0m4-2h0m0 2h0m26 2h0m6-6h0m1 7h0m4-3h0m1-4h0m8 5h0m32 2h0m22-1h0m0-3h0m28-3h0m5 7h0m16-1h0m44-6h0m4 0h0m3 2h0m0-1h0m2-1h0m3 1h0m4 3h0m1-4h0m1 2h0m0 1h0m3 3h0m1-6h0m2 4h0m6-2h0m1 1h0m8-2h0m0 4h0m1-2h0m3 2h0m3 0h0m1 0h0m3 1h0m5-1h0m6-2h0m3-3h0m1 7h0m19-3h0m4-1h0m1-1h0m3 5h0m1-5h0m2 2h0m4 0h0m12-2h0m20 2h0m14 2h0m2-1h0m4-1h0m1-1h0m5 3h0m2-6h0m9 5h0m5 0h0m5-2h0m4 1h0m3-2h0m1 2h0m3-3h0m0-1h0m1 1h0m0 3h0m1-2h0m2 1h0m0 2h0m2-4h0m4 5h0m0-3h0m1-2h0m1 3h0m1-3h0m2 6h0m3-1h0m2-3h0m1-1h0m-621 11h0m30-1h0m0 1h0m88-2h0m7 3h0m14-5h0m2 0h0m18 1h0m4 1h0m3-2h0m11 3h0m0 2h0m1 1h0m2 0h0m5-5h0m2 1h0m13 0h0m13-2h0m0 4h0m12-4h0m14-1h0m11 6h0m27-6h0m22 5h0m13-4h0m5-1h0m8 0h0m2 0h0m1 7h0m4 0h0m12-2h0m15-2h0m18-3h0m2 1h0m27 1h0m11 3h0m3-3h0m1 4h0m2-6h0m2 4h0m13-1h0m0-3h0m2 3h0m2 0h0m5-1h0m1 2h0m2 0h0m8 1h0m1-4h0m1 3h0m2-3h0m7-1h0m2 7h0m6-5h0m12 3h0m15-3h0m2 0h0m10 5h0m1-3h0m6 3h0m15-7h0m0 4h0m5 2h0m10-3h0m29 3h0m1-4h0m2 5h0m3-7h0m5 3h0m7 1h0m2-3h0m2 1h0m2 4h0m1-4h0m0 4h0m1-6h0m1 7h0m2 0h0m0-6h0m6 6h0m-562 8h0m18-1h0m21 0h0m11-6h0m6 0h0m43 3h0m0 2h0m7 1h0m9-5h0m4 4h0m3-5h0m0 6h0m3-3h0m1 4h0m1-3h0m2-4h0m6 6h0m7-6h0m2 6h0m2-3h0m1 4h0m8-3h0m3-3h0m1 5h0m1-5h0m5 4h0m2 1h0m1-2h0m5-1h0m0-1h0m1 3h0m0-4h0m3 2h0m26-2h0m8 4h0m7-1h0m16-4h0m1 5h0m2-5h0m1 0h0m5 0h0m6 2h0m4 2h0m2 2h0m13 0h0m3-2h0m2-1h0m4-2h0m3 3h0m1 2h0m1-4h0m28 1h0m12 0h0m22-2h0m0 6h0m6 0h0m1-2h0m11 2h0m2-1h0m11-6h0m3 5h0m0 2h0m1-1h0m1-2h0m1 1h0m0-4h0m1 3h0m5 1h0m2 1h0m4-6h0m4 1h0m7 4h0m13-2h0m0 2h0m1-1h0m3 3h0m12-5h0m1 3h0m4 0h0m8-5h0m3 6h0m7-1h0m0 1h0m3-2h0m14 3h0m4-2h0m6 2h0m8-7h0m8 3h0m6 0h0m1 4h0m1-5h0m3 5h0m1-6h0m3 6h0m2-4h0m5-1h0m7 5h0m2-3h0m0-3h0m7 6h0m2-2h0m9-2h0m0 1h0m3 3h0m5 0h0m1 0h0m2-7h0m1 3h0m5-3h0m1 1h0m-652 13h0m2 0h0m26-3h0m3 3h0m1-3h0m9-2h0m7 0h0m11 2h0m10 1h0m31 3h0m3 0h0m4 0h0m19-5h0m6 0h0m8-2h0m4 4h0m0-1h0m4 4h0m0-6h0m13 0h0m9 6h0m19-2h0m19-4h0m0-1h0m3 0h0m20 6h0m17-5h0m7 0h0m9 4h0m2-3h0m1 5h0m16-1h0m2-2h0m5 1h0m1-4h0m7 4h0m1 1h0m3-3h0m4 3h0m0-3h0m11 3h0m1-4h0m4 4h0m0-1h0m3-1h0m8-4h0m3 1h0m0 6h0m5 0h0m1-3h0m9-3h0m2 2h0m1-3h0m3 7h0m2-6h0m0 4h0m1-4h0m4 1h0m6 2h0m5-4h0m1 7h0m6 0h0m12-6h0m6-1h0m7 1h0m1 2h0m0-3h0m1 1h0m41 3h0m20 2h0m2-1h0m1 2h0m17-4h0m11-3h0m11 4h0m11-2h0m1-1h0m1 2h0m1 2h0m4 0h0m4 1h0m0-3h0m5-2h0m1 0h0m1 4h0m5 2h0m13-4h0m1 0h0m2 3h0m0-1h0m0 2h0m7-4h0m2 0h0m8 3h0m1-3h0m16 2h0m4 2h0m7-5h0m0-1h0m1 4h0m0-3h0m1 5h0m2-4h0m3 4h0m1-3h0m0-1h0m3-2h0m0-1h0m7 1h0m0-1h0m7 6h0m0-3h0m1 3h0m1-5h0m3-1h0m16 4h0m0-3h0m0 6h0m-643 8h0m4 0h0m23-7h0m2 4h0m1-4h0m3 7h0m5-1h0m24-5h0m14 0h0m8 1h0m2-1h0m2 3h0m4 1h0m1-2h0m2-2h0m4 4h0m8-4h0m7 3h0m8-3h0m4 6h0m4-7h0m1 3h0m0-1h0m6 0h0m1 3h0m5 1h0m23-5h0m1 0h0m14 2h0m1 2h0m1-4h0m0 2h0m7 4h0m1 0h0m4-4h0m20 3h0m3-5h0m3-1h0m5 7h0m3-5h0m21-2h0m2 6h0m13-6h0m3 1h0m0 2h0m6 3h0m0-6h0m1 2h0m3 0h0m2 4h0m1-1h0m0 2h0m1-7h0m13 1h0m12 5h0m5 1h0m0-7h0m3 4h0m2-4h0m7 6h0m7 0h0m2-1h0m11-1h0m1 1h0m3 1h0m0-1h0m2-5h0m1 0h0m5 4h0m5-3h0m0 2h0m8 0h0m7-1h0m2 2h0m4-3h0m6 4h0m9-5h0m6 7h0m0-6h0m13 0h0m13 5h0m5 1h0m2 0h0m6-6h0m18-1h0m6 0h0m2 7h0m19-7h0m21 1h0m0 2h0m10 1h0m4-2h0m5-2h0m1 4h0m6-2h0m0 2h0m1 1h0m5-4h0m3 0h0m1 2h0m1 4h0m1-6h0m0 6h0m3-1h0m1-6h0m2 5h0m2-3h0m1 2h0m0 2h0m8-6h0m2 2h0m9-2h0m2 5h0m5 0h0m0 2h0m3-3h0m1 0h0m2 0h0m2-4h0m4 7h0m3-2h0m0 1h0m0-5h0m6 0h0m7 5h0m2-1h0m1 2h0m3-2h0m1-5h0m2 0h0m2 2h0m11-2h0m3 3h0m6-3h0m2 7h0m-642 1h0m3 7h0m9-1h0m21 1h0m4-2h0m42-1h0m8-2h0m1 0h0m5 3h0m5 0h0m4-5h0m12 5h0m3 0h0m1 1h0m7-6h0m6 4h0m3-2h0m1-1h0m6-1h0m0 4h0m3 1h0m8-3h0m2 2h0m2-4h0m1 4h0m1-3h0m1 0h0m10 5h0m6-4h0m5 5h0m1-7h0m5 5h0m4-2h0m0-1h0m1 1h0m0 2h0m15-2h0m2 1h0m5-2h0m0 1h0m8 0h0m10 4h0m0-5h0m26 0h0m22 1h0m8 3h0m3-2h0m7 0h0m8-2h0m1 4h0m8-6h0m3 6h0m21 0h0m5-3h0m2 2h0m3-2h0m1 0h0m4-2h0m2 0h0m3 3h0m0 3h0m5-1h0m3-4h0m16 0h0m4-1h0m13 6h0m1-2h0m15-3h0m3 2h0m2 0h0m7 0h0m2-1h0m2 3h0m2-2h0m2-2h0m3 0h0m2 4h0m1 0h0m1-6h0m0 5h0m12-2h0m7 4h0m5-1h0m12-4h0m39-1h0m4-1h0m1 7h0m3 0h0m3-1h0m5-3h0m0 4h0m0-7h0m1 6h0m7 1h0m5-7h0m3 2h0m4 5h0m1-7h0m2 5h0m1 0h0m1 0h0m7 0h0m5-2h0m2-1h0m2 3h0m3 2h0m2-6h0m11-1h0m7 3h0m3 1h0m3-1h0m2 4h0m8-5h0m4 3h0m15-3h0m8 1h0m2 0h0m-646 7h0m10 4h0m0-3h0m9 0h0m11 4h0m1-7h0m10 1h0m27 6h0m33-4h0m4 1h0m3-4h0m4 2h0m12 0h0m3 5h0m4-1h0m6-6h0m18 0h0m4 2h0m5 5h0m7-4h0m1 1h0m8-2h0m3-2h0m0 3h0m1 0h0m1 4h0m2-2h0m1-5h0m6 4h0m1-3h0m2-1h0m5 0h0m5 1h0m1 2h0m7-1h0m2-2h0m6 5h0m5-5h0m2 3h0m3 3h0m8-3h0m5-1h0m1 3h0m1-1h0m3-4h0m11 7h0m17-1h0m5-6h0m0 2h0m1 1h0m1-3h0m13 1h0m3-1h0m5 3h0m3 0h0m4 4h0m5-2h0m9-4h0m3 1h0m7 4h0m2 0h0m4-6h0m1 7h0m8-4h0m2-2h0m12 0h0m1 5h0m1 1h0m1-2h0m3 2h0m3-2h0m10-5h0m4 7h0m6-3h0m4-3h0m6 6h0m5-6h0m6 4h0m11-5h0m0 3h0m5 3h0m2-5h0m3 2h0m3-2h0m1 4h0m8-1h0m10 0h0m3 0h0m3-3h0m4-1h0m19 3h0m13 3h0m1-2h0m3-4h0m3 6h0m2-4h0m7 0h0m1 4h0m4-6h0m21 2h0m10 4h0m1 0h0m6 1h0m1-6h0m14 4h0m0 2h0m3-7h0m1 6h0m5-6h0m3 2h0m1 1h0m3 1h0m3-4h0m6 4h0m6-2h0m4-2h0m2 4h0m0-4h0m3 3h0m12 0h0m8 1h0m2-4h0m-642 14h0m14-2h0m8 2h0m17-5h0m3 3h0m20-2h0m1 2h0m71 0h0m2-2h0m2 1h0m3-1h0m2-2h0m2 5h0m13 0h0m11-4h0m7 6h0m4-5h0m2 4h0m2-6h0m1 5h0m2-4h0m2-1h0m1 2h0m5 0h0m2 1h0m6-2h0m7-1h0m2 1h0m1 4h0m3-3h0m4 0h0m4 5h0m5-4h0m1 4h0m9-1h0m3 1h0m4-2h0m5 2h0m1 0h0m1-2h0m1 0h0m0-4h0m1 2h0m6-2h0m10 0h0m0 4h0m2-2h0m7 1h0m0 1h0m3-1h0m7 1h0m1-1h0m2-3h0m4 0h0m15 5h0m8-4h0m2 2h0m1 2h0m23 0h0m11 0h0m7 0h0m3-1h0m3-5h0m6 5h0m1-4h0m4 2h0m8 4h0m2 0h0m1-1h0m6 1h0m3-2h0m8 0h0m9 2h0m4-1h0m24-3h0m0 2h0m0-5h0m2 2h0m3 5h0m21-4h0m2 4h0m10 0h0m2-2h0m1 0h0m18-3h0m2 3h0m1-1h0m0 1h0m4-3h0m2 0h0m4 2h0m16-3h0m5 0h0m0 5h0m1-6h0m0 3h0m3 2h0m3-4h0m2 3h0m13-2h0m4 4h0m4-3h0m3-3h0m4 7h0m6-5h0m13 5h0m7 0h0m31-2h0m6 2h0m1-5h0m3-2h0m0 4h0m5 1h0m1-2h0m1-2h0m-599 7h0m20 1h0m1 2h0m6 1h0m16 3h0m30-4h0m0 2h0m8-3h0m2 2h0m1-2h0m0 2h0m18 0h0m1-1h0m5 2h0m15 0h0m1-1h0m2-3h0m1 1h0m2 0h0m11-2h0m7 5h0m9-1h0m3 1h0m10 0h0m2 2h0m0-5h0m0 3h0m1-1h0m1-3h0m2 3h0m4 1h0m3-2h0m2 4h0m3-5h0m2 5h0m4 0h0m5-6h0m0 2h0m0-3h0m4 7h0m6-4h0m5 0h0m6-3h0m4 0h0m1 0h0m3 3h0m2 0h0m1-1h0m5 0h0m3 5h0m2-5h0m5 3h0m10-4h0m2 0h0m5 3h0m20 3h0m3 0h0m3-4h0m2-1h0m6 3h0m13-4h0m3 4h0m3 1h0m3-1h0m6-3h0m5-1h0m3 5h0m8 1h0m4-1h0m2 0h0m3-5h0m3 3h0m2 0h0m2-3h0m15-1h0m0 6h0m15-6h0m7 0h0m19 6h0m3-6h0m5 4h0m0 2h0m8-6h0m7 0h0m6 1h0m2 2h0m3-2h0m7 3h0m0-3h0m2 5h0m3-1h0m4 1h0m1-2h0m0-3h0m0 4h0m1-2h0m5 2h0m2-4h0m9 4h0m3-3h0m11 2h0m19-2h0m10 1h0m0 3h0m5 0h0m0-6h0m2 2h0m5-2h0m19 2h0m2 3h0m26-1h0m13-4h0m-638 9h0m4-1h0m22 7h0m15-1h0m7-5h0m13 3h0m5-1h0m6 0h0m3-3h0m41 6h0m1-5h0m5 3h0m18-4h0m3 0h0m1 5h0m6-1h0m24-1h0m2 0h0m1 2h0m4 2h0m14-1h0m4-1h0m9-4h0m8 2h0m2-3h0m7 3h0m2 3h0m3-6h0m7 7h0m4 0h0m3-3h0m8 2h0m3-2h0m5-1h0m4 1h0m8 2h0m2-2h0m3-3h0m9-1h0m3 1h0m1 0h0m0 3h0m2-2h0m15 4h0m15-5h0m2 3h0m2 0h0m2-3h0m0 2h0m6 3h0m5-2h0m4-4h0m21 7h0m3 0h0m8-1h0m2-2h0m2-2h0m8 0h0m2 2h0m7-2h0m2 4h0m9 1h0m2 0h0m3-2h0m4-2h0m6 1h0m3 3h0m0-3h0m2-3h0m12 3h0m8 2h0m3-4h0m8-1h0m2 6h0m1-1h0m4 1h0m0-7h0m3 3h0m23-3h0m1 6h0m0-1h0m7 0h0m5-5h0m2 6h0m0-1h0m7-3h0m1-1h0m4 6h0m0-5h0m12 0h0m8 3h0m2-2h0m2-2h0m6 1h0m7-1h0m2 1h0m7 5h0m4-6h0m3-1h0m5 2h0m6 0h0m2-2h0m26 0h0m5 1h0m16 0h0m0 2h0m-617 11h0m18 1h0m22-6h0m1 1h0m22-2h0m33 6h0m4-1h0m1-5h0m13 6h0m11-5h0m48 2h0m5 1h0m19-4h0m3 0h0m1 5h0m0-4h0m5-1h0m2 2h0m1-2h0m0 6h0m3-3h0m1 0h0m8-1h0m1-2h0m0 2h0m1 1h0m3-3h0m1 0h0m0 6h0m13-3h0m3-1h0m7 3h0m1 2h0m3-1h0m4-5h0m10 5h0m4 1h0m4-7h0m0 5h0m5-2h0m1-1h0m0 1h0m12 2h0m13-1h0m15-4h0m2 4h0m13-2h0m7 2h0m11 0h0m4 2h0m10-5h0m6 4h0m6 2h0m4-7h0m1 1h0m3 4h0m7-2h0m4-2h0m13 1h0m2 0h0m16 3h0m5-1h0m11 2h0m2 1h0m12-3h0m9-1h0m3 0h0m2-3h0m2 1h0m2 4h0m6-3h0m2 0h0m2 2h0m2 1h0m1-3h0m0 4h0m1-1h0m3-1h0m3 1h0m0-4h0m1 3h0m5-1h0m4 2h0m1-5h0m0 2h0m1 1h0m1 0h0m1 3h0m1-2h0m3 3h0m1-1h0m2 1h0m1-6h0m1 0h0m1 2h0m3-1h0m1 5h0m15-5h0m0 2h0m5-1h0m7 1h0m1-1h0m2-2h0m5 6h0m1-2h0m5 1h0m0-3h0m3 1h0m1 1h0m9-3h0m3 3h0m1-3h0m3 1h0m3 1h0m28 2h0m-639 8h0m13-6h0m119 1h0m9 0h0m39 0h0m11 5h0m7-5h0m23 1h0m2-2h0m9 1h0m5 3h0m3 0h0m26-3h0m1 1h0m3-1h0m3 5h0m13-2h0m5-3h0m11 6h0m8-6h0m2 4h0m2-5h0m4 3h0m0 4h0m2-6h0m7 4h0m1 2h0m3-2h0m2-2h0m4-3h0m41 0h0m4 3h0m10-2h0m4 1h0m0-1h0m5 3h0m2 1h0m1-1h0m1 0h0m4 2h0m6 0h0m4 1h0m3 0h0m8-4h0m11 0h0m6 3h0m2-2h0m1 3h0m0-4h0m1-2h0m1 4h0m1 0h0m3-4h0m3-1h0m4 6h0m9 1h0m4-4h0m2-3h0m8 0h0m9 0h0m7 4h0m0 2h0m1-4h0m1-2h0m1 5h0m8-2h0m2 2h0m2 1h0m1-2h0m1-4h0m1 0h0m1 1h0m0-1h0m4 1h0m2-1h0m9 5h0m6 0h0m0-5h0m2 2h0m4-1h0m6 6h0m6-6h0m4 2h0m0 4h0m6 0h0m4-6h0m4 0h0m0 3h0m1-2h0m1 4h0m0-6h0m2 1h0m1 4h0m3-4h0m14 6h0m2-1h0m6-4h0m2 4h0m2 0h0m1 0h0m4-4h0m0 4h0m14-3h0m-611 9h0m44 1h0m12-4h0m36 5h0m15-3h0m4 4h0m4-3h0m19-1h0m44 2h0m14 1h0m6-2h0m3 1h0m1-2h0m7-1h0m1 1h0m33-2h0m28 1h0m8 3h0m1-4h0m1 1h0m2 0h0m8 2h0m2-1h0m5 3h0m0-3h0m3-2h0m6 2h0m3 1h0m36 1h0m3 1h0m3-2h0m2 2h0m1-6h0m1 4h0m7 2h0m3-1h0m2-5h0m3 6h0m7 1h0m1-1h0m3-6h0m3 3h0m4-1h0m1 4h0m1 1h0m3-7h0m1 1h0m1 5h0m1-1h0m10-5h0m4 3h0m2 2h0m0-3h0m1 3h0m4-2h0m4 2h0m2-3h0m9-2h0m3 4h0m1-3h0m5 0h0m22-1h0m11 5h0m1-3h0m2 3h0m0-1h0m2 2h0m3-3h0m1-1h0m4 2h0m0 2h0m6 0h0m2-6h0m0 2h0m5-2h0m0 5h0m2 2h0m5-4h0m1 1h0m3 2h0m5-3h0m3 4h0m3-6h0m7 1h0m2 0h0m3 0h0m15 2h0m2 1h0m3 1h0m8-3h0m4 0h0m2 2h0m13 0h0m2 0h0m13-1h0m7-1h0m0 2h0m9-1h0m-615 4h0m2 0h0m41 5h0m19-1h0m34-4h0m0 2h0m3 3h0m17-5h0m10 1h0m24 0h0m16 3h0m3-2h0m6 5h0m11-1h0m13 0h0m11 1h0m29-3h0m25-2h0m0 5h0m4-5h0m5 0h0m2 3h0m7-2h0m8 4h0m6 0h0m1-2h0m2-3h0m8 2h0m11-3h0m16 6h0m16-4h0m3-1h0m6 2h0m2-3h0m4 2h0m5-1h0m3-2h0m3 0h0m4 1h0m1 5h0m2-6h0m10 0h0m1 4h0m2 1h0m2-4h0m3 0h0m0 3h0m24 1h0m6-2h0m2 1h0m19-1h0m4 4h0m5-2h0m1 2h0m8-2h0m8 2h0m3-4h0m1-3h0m1 1h0m6 0h0m6 2h0m8 2h0m1-4h0m4 4h0m11-2h0m7 2h0m0-2h0m1-3h0m1 5h0m43 2h0m1-7h0m10 6h0m3-5h0m5 6h0m1-3h0m0-2h0m2 5h0m21-6h0m10 0h0m7 2h0m-647 10h0m39 2h0m25-4h0m3 3h0m40-2h0m21-4h0m5 0h0m27 0h0m4 4h0m2 1h0m12-1h0m6-1h0m8-3h0m27 1h0m3 1h0m4 2h0m4-1h0m21 1h0m3-3h0m3 6h0m3-5h0m5-2h0m5 7h0m13-4h0m3-1h0m4-2h0m4 6h0m0-3h0m0 2h0m6-5h0m1 0h0m6 2h0m0 2h0m7-2h0m5-2h0m4 4h0m5 3h0m3-5h0m3-2h0m13 6h0m4-2h0m2-2h0m2 5h0m12-2h0m3-4h0m4 1h0m10 5h0m6-5h0m1-2h0m19 0h0m5 1h0m1 0h0m6 6h0m1-4h0m2-2h0m0 6h0m22-3h0m3-3h0m11 6h0m13-6h0m19 0h0m1 3h0m0-3h0m0 2h0m7-2h0m0-1h0m1 1h0m4 3h0m1 0h0m3-1h0m0 4h0m1-7h0m29 3h0m0 4h0m3-3h0m4-1h0m7 1h0m32-1h0m6 0h0m0 2h0m8-4h0m4 1h0m1 5h0m2-3h0m3-2h0m1 4h0m2 0h0m5-5h0m1 0h0m3 6h0m6-2h0m3-5h0m15 1h0m-593 11h0m4 3h0m16 0h0m35-7h0m7 0h0m6 3h0m2-2h0m1 3h0m0 2h0m8-1h0m4-3h0m26 3h0m0-3h0m9 3h0m1 0h0m2-4h0m1 4h0m13-4h0m22 2h0m6-2h0m7 5h0m1-6h0m1 1h0m6 3h0m4-2h0m9 0h0m7 4h0m6-6h0m34 0h0m13 0h0m2 0h0m3 5h0m4 0h0m6-3h0m4 1h0m0-3h0m4 3h0m4 4h0m2 0h0m0-6h0m0 2h0m1 0h0m2-1h0m5 5h0m2-3h0m3-4h0m3 1h0m21 6h0m5-3h0m1-3h0m1 5h0m4-2h0m2-3h0m7 2h0m4 4h0m0-7h0m10 4h0m3 0h0m2 0h0m0 2h0m8-5h0m4-1h0m21 4h0m15 0h0m9-4h0m1 5h0m8-5h0m5 1h0m2 6h0m1-1h0m5-2h0m3-3h0m2 6h0m4-2h0m1-2h0m9 1h0m12-1h0m14 3h0m24 0h0m12-6h0m6 7h0m0-1h0m8-4h0m7 1h0m1 0h0m6 3h0m0-3h0m2-1h0m7-2h0m0 3h0m1 3h0m1-6h0m1 6h0m5-1h0m4-5h0m7 4h0m3 3h0m6-7h0m2 2h0m2-2h0m-590 10h0m17 3h0m6-1h0m24 3h0m0-3h0m11-3h0m2 6h0m3-3h0m2-1h0m6 2h0m16-3h0m7-1h0m4 5h0m24-4h0m4 3h0m2-2h0m1-1h0m7 2h0m5 2h0m4-2h0m2-1h0m2 4h0m3-7h0m10 3h0m12 1h0m0 2h0m1-5h0m1 6h0m6-4h0m35 3h0m13 1h0m4-7h0m21 5h0m6-2h0m1 3h0m5 1h0m2-2h0m1-1h0m6-1h0m2 4h0m7-1h0m0-1h0m2 0h0m7-5h0m0 4h0m3 3h0m1-5h0m36 1h0m3 3h0m1 1h0m4-6h0m23 1h0m36-2h0m21 4h0m6-2h0m15-2h0m18 7h0m24 0h0m5-5h0m4 2h0m3-1h0m2-2h0m2 0h0m4 5h0m7 0h0m10-2h0m1 3h0m4-6h0m2 4h0m0 2h0m2 0h0m3 0h0m1-7h0m4 2h0m4 1h0m12-3h0m16 0h0m5 7h0m4-6h0m7-1h0m0 6h0m5-6h0m1 0h0m-597 9h0m15 3h0m23-1h0m49 0h0m0-3h0m18 2h0m7 2h0m2-2h0m6 0h0m3-1h0m1-1h0m2 1h0m1-1h0m22 2h0m0 2h0m2-1h0m2 1h0m7-4h0m14 0h0m8 1h0m6 3h0m34-1h0m23-2h0m9 1h0m8-2h0m4 3h0m0 1h0m9-2h0m3 1h0m10-3h0m2 3h0m36 0h0m9-2h0m0 2h0m9 1h0m1-1h0m1 0h0m10-2h0m1 0h0m1 1h0m5 2h0m27-2h0m3-2h0m33 1h0m7 3h0m2-4h0m8 0h0m1 2h0m10-1h0m3 1h0m1 0h0m5 0h0m6 1h0m17-2h0m6 3h0m13-3h0m6 3h0m2-1h0m2-2h0m3-1h0m2 3h0m6-2h0m1 2h0m1-2h0m8 2h0m12-1h0m11 0h0m16-1h0m19 3h0m1-4h0"/></defs>
<g filter="url(#bl)"><use href="#pa_saline" transform="scale(.5)" fill="none" stroke-linecap="round" stroke="#0400fc" stroke-width="6.8" stroke-opacity=".6"/><use href="#pb_saline" transform="scale(.5)" fill="none" stroke-linecap="round" stroke="#0400f0" stroke-width="6.8" stroke-opacity=".45"/></g>
<use href="#pb_saline" transform="scale(.5)" fill="none" stroke-linecap="round" stroke="#0a0af0" stroke-width="4.0" stroke-opacity=".5"/>
<use href="#pa_saline" transform="scale(.5)" fill="none" stroke-linecap="round" stroke="#0c0cff" stroke-width="4.0" stroke-opacity=".9"/>

</g>
<rect x="352" y="542.3" width="327.3" height="244.1" fill="#000"/>
<g clip-path="url(#c_dtx)">
<defs><path id="pa_dtx" d="M1323 1087h0m30 0h0m-476 6h0m-91 8h0m184-4h0m5 8h0m6 2h0m32 0h0m322 0h0m-386 8h0m70 0h0m32 4h0m-179 5h0m2-2h0m25 5h0m77-7h0m271 1h0m51 3h0m-400 6h0m30 5h0m5-3h0m8 0h0m274-1h0m83-2h0m19 6h0m28 0h0m-449 3h0m187 5h0m205 0h0m16-1h0m-404 8h0m57-2h0m25-1h0m276-1h0m-410 10h0m48 0h0m12 2h0m38 0h0m41-5h0m4 1h0m10 4h0m1-2h0m36-2h0m288 5h0m10-5h0m-497 10h0m63-2h0m5 4h0m9-2h0m105 1h0m292 2h0m-441 4h0m4-1h0m4 1h0m21 2h0m88-5h0m12 1h0m273 6h0m21-2h0m-424 4h0m55 5h0m2 1h0m7-4h0m2 0h0m11 4h0m41-6h0m-145 7h0m19 6h0m49-3h0m12-1h0m6 2h0m285 0h0m-384 10h0m85-5h0m1 2h0m8-1h0m181-1h0m-297 10h0m24 4h0m64 0h0m1-5h0m13-1h0m64 4h0m32-5h0m12 5h0m20-5h0m-190 11h0m8 4h0m178-2h0m5 1h0m69-2h0m150 0h0m-416 10h0m51-4h0m66 3h0m32-3h0m9 3h0m7 2h0m294-2h0m51-2h0m-599 11h0m82-6h0m12 7h0m62-3h0m101-3h0m14-1h0m72 1h0m43-1h0m182 4h0m-521 11h0m70-4h0m58 2h0m85-1h0m3-3h0m29 2h0m34 3h0m245-5h0m5 6h0m-298 3h0m12 1h0m23-2h0m147 4h0m36 0h0m-420 7h0m61 0h0m27 2h0m101 1h0m10-3h0m55-2h0m39-1h0m62 0h0m157 2h0m11 2h0m-348 9h0m11 1h0m76-4h0m111 3h0m58-4h0m10 3h0m12-1h0m28 2h0m16 1h0m1-7h0m-537 12h0m43 0h0m199-3h0m21 3h0m16 1h0m36 2h0m99-6h0m135 0h0m18 6h0m-464 2h0m9-1h0m36 1h0m41 4h0m27-3h0m32 1h0m7 3h0m5-4h0m2 0h0m41 3h0m58 2h0m-395 2h0m133 2h0m12-1h0m13 2h0m45-2h0m8 4h0m16-3h0m7-2h0m29 1h0m45 1h0m2 1h0m4-4h0m5 6h0m16-3h0m51 2h0m16 1h0m109 0h0m-336 8h0m5-6h0m3 5h0m13 2h0m5-5h0m14 0h0m10 5h0m36-6h0m11 6h0m38-6h0m75 6h0m81-3h0m10-1h0m-465 10h0m82-4h0m6 5h0m39 0h0m69-2h0m150-1h0m35 3h0m21-1h0m11-5h0m47 3h0m63 2h0m-434 6h0m45 4h0m83-3h0m21 1h0m22-5h0m44 6h0m13-6h0m110 1h0m54 4h0m31 2h0m13-2h0m31 0h0m-476 7h0m11-4h0m71 3h0m33 0h0m7-3h0m33 7h0m29-4h0m18 4h0m132-6h0m171 0h0m-589 9h0m26 0h0m1-1h0m89 5h0m66 1h0m35-1h0m45-2h0m46 3h0m17-4h0m38-3h0m37 3h0m135 2h0m35-4h0m3 2h0m-599 12h0m23-3h0m98-3h0m50 0h0m27-1h0m5 0h0m63 1h0m72 4h0m24-1h0m27-4h0m36 1h0m48 6h0m47-1h0m43-6h0m-562 15h0m5-6h0m2 4h0m128 2h0m9-2h0m8-1h0m2-3h0m14-1h0m12 5h0m46 2h0m10-2h0m14-3h0m7 5h0m55-3h0m33-1h0m41-1h0m19 1h0m72-1h0m62 4h0m-510 6h0m138-1h0m48-2h0m68 2h0m47 4h0m24-7h0m8 2h0m26 5h0m19-2h0m20-1h0m31-2h0m31 0h0m0 2h0m6-4h0m91 6h0m-513 6h0m76-2h0m6-1h0m25 2h0m4 3h0m14 0h0m53 1h0m133-2h0m70 1h0m27-4h0m1 3h0m10 2h0m7-7h0m-466 15h0m30-2h0m53 0h0m21-4h0m48 3h0m158 1h0m28-4h0m66 3h0m-437 6h0m7 0h0m99 1h0m10-3h0m95 1h0m28 4h0m22 2h0m1-6h0m192 5h0m35 1h0m3-4h0m6 3h0m83 0h0m-519 4h0m32 2h0m2-4h0m18 5h0m30-1h0m52-2h0m5 4h0m35-5h0m11 1h0m30 5h0m19-4h0m149 0h0m24-1h0m41 4h0m-390 2h0m2 3h0m1 0h0m3 1h0m32-3h0m74-1h0m20 1h0m8 2h0m0 3h0m14-4h0m142 0h0m48 2h0m8 3h0m12 0h0m1-3h0m92-4h0m-513 8h0m41 3h0m52-3h0m26 3h0m42 0h0m61 3h0m11-3h0m38-2h0m14 0h0m135 0h0m77 0h0m-427 12h0m26-3h0m8-2h0m96 3h0m33 0h0m101 3h0m12-3h0m19 0h0m7 1h0m92 0h0m-406 10h0m52-1h0m8-1h0m3 3h0m2-5h0m41 4h0m17-6h0m30 7h0m30-3h0m3-1h0m57 2h0m75-1h0m96 0h0m-455 10h0m0-2h0m60 1h0m1-4h0m6 1h0m54 2h0m1 1h0m21-1h0m26-1h0m23-3h0m83 4h0m5 2h0m49-3h0m52-2h0m68 5h0m6-3h0m34 4h0m-435 3h0m17-1h0m6 5h0m90-1h0m10-1h0m1-1h0m71 0h0m71-1h0m4-1h0m53 2h0m26-3h0m-358 14h0m18 1h0m38-5h0m7 2h0m68-1h0m80 4h0m22-2h0m231 1h0m14-6h0m12 0h0m-568 8h0m63 4h0m38-4h0m16 1h0m25 6h0m11 0h0m1-3h0m8-1h0m74 1h0m18 2h0m173-5h0m19 6h0m38-3h0m31 1h0m48-4h0m-604 12h0m144-1h0m31 2h0m17-1h0m22-3h0m35 4h0m127-5h0m81 3h0m99-3h0m35 1h0m-398 6h0m9 0h0m6 5h0m1 1h0m86 1h0m42-6h0m5 0h0m46 3h0m66-1h0m53 4h0m69-4h0m-457 10h0m6-1h0m8-3h0m42 2h0m19 2h0m1-3h0m78 5h0m3-7h0m8 1h0m22 4h0m55 1h0m76-2h0m7 2h0m31-3h0m120 2h0m-526 5h0m33 2h0m39-3h0m12 1h0m14 4h0m3 1h0m20-3h0m57 2h0m3 0h0m176-4h0m62 0h0m82 5h0m3-4h0m-434 12h0m112-4h0m42 1h0m45 2h0m51-6h0m208 1h0m-543 11h0m36-1h0m93 4h0m61-3h0m6 3h0m81-2h0m70 0h0m14 2h0m41 0h0m55 0h0m44-2h0m24-3h0m-523 13h0m59-7h0m19 6h0m2-4h0m11-2h0m72 0h0m5 5h0m10 1h0m76-6h0m20 4h0m21 0h0m35-3h0m8 4h0m20-1h0m73 3h0m4-1h0m66-4h0m33-1h0m-547 9h0m50-2h0m12 7h0m19-6h0m7 4h0m12-4h0m21 2h0m54-1h0m176 1h0m20-1h0m38-1h0m4 3h0m70-4h0m35 6h0m-429 5h0m22 1h0m164-3h0m148 0h0m28 5h0m113-2h0m-526 5h0m5 6h0m11-1h0m42 1h0m182 0h0m34-7h0m3 2h0m71 4h0m91-2h0m1 2h0m-423 3h0m103 5h0m15-6h0m3 6h0m129-3h0m93 1h0m58-2h0m5 0h0m37 4h0m16-1h0m-435 7h0m30 1h0m24 2h0m14-2h0m6-4h0m89 6h0m102-5h0m14 2h0m9-4h0m113 0h0m-420 11h0m12-1h0m5 0h0m93-2h0m214 3h0m47 0h0m33 1h0m41-1h0m-400 10h0m61-5h0m73 6h0m25 0h0m62-1h0m9 1h0m60-3h0m26 3h0m26 0h0m51-1h0m-470 6h0m35 3h0m17-3h0m82-2h0m2 2h0m7 2h0m107 0h0m188-2h0m84 0h0m-458 7h0m294 2h0"/><path id="pb_dtx" d="M797 1086h0m35 1h0m11-2h0m31 0h0m8 0h0m75 0h0m27 1h0m43 1h0m33-1h0m3 1h0m196 0h0m36 0h0m-578 3h0m61 1h0m3-2h0m17 0h0m46 6h0m26-7h0m4 0h0m7 0h0m28 0h0m33 2h0m2 0h0m39 2h0m24-1h0m4-3h0m17 2h0m91 3h0m133-3h0m30-1h0m5 2h0m21 3h0m14-1h0m11-4h0m6 0h0m-570 12h0m5-3h0m11 1h0m69 3h0m10-3h0m40-2h0m8 2h0m7 3h0m9 1h0m8-5h0m2 5h0m4 0h0m15-4h0m14-2h0m29 0h0m20 4h0m19-5h0m3 2h0m1 2h0m19-2h0m128 1h0m29 3h0m6 0h0m94-5h0m18 2h0m0 4h0m18-5h0m-622 6h0m40 1h0m18 4h0m15-5h0m13 6h0m5-6h0m3 0h0m27 7h0m53-1h0m44-1h0m9 0h0m4-2h0m5 2h0m10 2h0m0-7h0m4 3h0m36 4h0m0-3h0m18-4h0m36 6h0m28-5h0m66 0h0m10 5h0m27-5h0m29 2h0m27-3h0m13 0h0m17 1h0m12 2h0m17 4h0m6-1h0m6-4h0m-552 6h0m7 4h0m4 1h0m3-4h0m8 2h0m17 0h0m57 2h0m3-4h0m10 2h0m10-3h0m13 2h0m12 3h0m11-4h0m7 2h0m4-3h0m14 3h0m3 4h0m18-6h0m6-1h0m2 4h0m8-3h0m62 5h0m120 0h0m3-4h0m39 2h0m14-1h0m0 2h0m15 1h0m24-6h0m6 6h0m10-1h0m10 2h0m1-1h0m10-4h0m38 2h0m-533 9h0m19-4h0m36 6h0m7-3h0m5 0h0m16 3h0m13 0h0m30-5h0m29 3h0m1-3h0m2 2h0m13-2h0m2-2h0m43 2h0m6 1h0m4 1h0m9-4h0m17 6h0m3-3h0m38 2h0m3-3h0m12 5h0m76 0h0m11-6h0m25 4h0m19 2h0m26-2h0m30-2h0m18 3h0m22-5h0m6 4h0m-652 3h0m119 0h0m6 2h0m1 3h0m14-4h0m9 1h0m5 4h0m27-3h0m19 0h0m1 3h0m1-6h0m1 5h0m6-2h0m48-1h0m10-2h0m8 6h0m15-3h0m0 2h0m11-1h0m12 1h0m8-1h0m1-3h0m5 2h0m10 1h0m17-2h0m10 0h0m33 2h0m13-3h0m8 2h0m14 0h0m25 1h0m10 1h0m13-1h0m38 2h0m26 0h0m2-3h0m0-1h0m5 2h0m26-2h0m3 2h0m24 2h0m2-6h0m7 0h0m18 6h0m-557 9h0m31-4h0m24 3h0m7-2h0m1-3h0m15 0h0m36 3h0m9 3h0m1-2h0m4-2h0m2-1h0m10 5h0m4-4h0m1 1h0m10 2h0m8 1h0m1-4h0m11 4h0m8-5h0m1-1h0m8 1h0m4-1h0m5-1h0m8 6h0m4 1h0m10-7h0m59 3h0m19 3h0m2 0h0m163-3h0m12 0h0m0 2h0m40 0h0m8-2h0m9 1h0m3 1h0m6 1h0m32-6h0m-551 12h0m40-1h0m13 1h0m0-4h0m1 6h0m28-1h0m0-3h0m8 1h0m48 2h0m7 1h0m2-5h0m2 5h0m3-6h0m14 1h0m29 5h0m8 1h0m12-4h0m9 0h0m3 3h0m39-6h0m24 4h0m81 1h0m66 1h0m57-3h0m14-2h0m11 5h0m-522 9h0m25-2h0m9 0h0m17 2h0m8-2h0m4-2h0m13 2h0m15 0h0m15-2h0m23-1h0m34 3h0m3-1h0m7-4h0m2 0h0m9 7h0m16-5h0m18-2h0m6 0h0m10 1h0m4 0h0m9-1h0m13 0h0m8 0h0m4 2h0m1 1h0m75 2h0m127 0h0m4-1h0m2-1h0m41 0h0m13-3h0m13 2h0m-595 8h0m43-1h0m42 4h0m6-3h0m12 0h0m15 1h0m21-3h0m2 4h0m5 3h0m9-7h0m15 7h0m1-2h0m1-5h0m3 5h0m3 0h0m1-4h0m7 3h0m7-1h0m0-2h0m6 2h0m27 4h0m6-7h0m6 4h0m12-4h0m2 4h0m20-2h0m4 2h0m2-4h0m1 5h0m8-5h0m5 5h0m17-5h0m32 7h0m28-1h0m18-2h0m61 3h0m30-1h0m33 1h0m21-2h0m6-4h0m5 5h0m23-4h0m6 5h0m5-4h0m2-3h0m9 6h0m11 0h0m-645 2h0m114 7h0m34-4h0m9 1h0m19 2h0m21 0h0m0 1h0m3-4h0m8-2h0m14 2h0m18 4h0m2-7h0m3 7h0m14-1h0m1-2h0m2 3h0m7-1h0m24-1h0m6 0h0m1-1h0m27-1h0m6-1h0m6 4h0m23 0h0m170-2h0m37 3h0m6-5h0m16 1h0m15 3h0m7-4h0m19 1h0m-568 6h0m12-1h0m24 5h0m0 2h0m1-4h0m0-1h0m10 0h0m18 4h0m16 1h0m5-1h0m35-6h0m0 7h0m3-4h0m2-3h0m11 0h0m8 3h0m15-1h0m49 2h0m18-3h0m17 5h0m6-1h0m16-1h0m3-4h0m0 1h0m28 3h0m7 0h0m14 2h0m21-1h0m3 2h0m6-2h0m32-1h0m10 1h0m101-4h0m35-1h0m39 2h0m1 0h0m4 4h0m10-1h0m-566 6h0m20 3h0m51-5h0m14 2h0m8-3h0m19 6h0m1 0h0m23-3h0m32 0h0m1-3h0m1 7h0m30-4h0m2 4h0m32-7h0m8 5h0m6-4h0m19 6h0m47-6h0m24 4h0m21-3h0m3-2h0m4 7h0m13-2h0m23-4h0m54 1h0m11 2h0m32-1h0m7 0h0m12-2h0m36 5h0m15-1h0m-634 4h0m27-1h0m84 6h0m5-2h0m1 0h0m12-3h0m14 4h0m7-3h0m4 0h0m9 0h0m15 1h0m14 3h0m24 1h0m11-6h0m1 6h0m3-1h0m10 0h0m4 1h0m1-4h0m6 4h0m10-6h0m3 3h0m4-3h0m18 4h0m2 1h0m24-1h0m14 0h0m4-3h0m1 1h0m94 1h0m106-1h0m1 0h0m6-2h0m16-1h0m14 7h0m4-6h0m8 5h0m27-5h0m-570 12h0m18 2h0m29-3h0m38 1h0m24-3h0m4-2h0m13 0h0m13 3h0m34 3h0m15-1h0m7-4h0m29-1h0m26 3h0m11 1h0m11-2h0m15 5h0m82-2h0m79-1h0m20 0h0m18-2h0m4 3h0m35-4h0m70 1h0m-589 8h0m49 2h0m12 3h0m13-7h0m9 4h0m13 2h0m3-6h0m0 4h0m7 3h0m9-3h0m2 3h0m14 0h0m29-5h0m12 5h0m2-5h0m7 5h0m17 0h0m8-5h0m0 2h0m9 2h0m9-2h0m11 3h0m29-7h0m23 6h0m18-1h0m13-5h0m7 7h0m5-3h0m60 2h0m54 0h0m6-6h0m6 2h0m1 1h0m6 0h0m2 1h0m3-2h0m16 2h0m9-2h0m0 5h0m8-2h0m14 0h0m10-4h0m15 5h0m45 1h0m7-4h0m-555 5h0m31 7h0m1-3h0m10-1h0m53 0h0m0-3h0m23 2h0m12 0h0m9 1h0m19 0h0m0 4h0m5-4h0m7 1h0m2 2h0m14-4h0m25-2h0m9 2h0m0 4h0m19-5h0m58 5h0m2-6h0m15 7h0m5-1h0m2-5h0m6 4h0m79 2h0m6 0h0m37-2h0m29 0h0m4-5h0m32 6h0m11-3h0m16 4h0m-585 2h0m27 3h0m29-4h0m27 1h0m7 2h0m29 0h0m3 0h0m6 4h0m18-1h0m25-5h0m35-1h0m2 2h0m3 0h0m4-1h0m3 2h0m14-1h0m0 2h0m1 2h0m12-5h0m14 6h0m5-2h0m2-5h0m13 4h0m0 2h0m4-6h0m44 0h0m16 3h0m19 2h0m69-4h0m31 4h0m4 0h0m12 0h0m4-1h0m11 3h0m16 0h0m1-7h0m29 5h0m20-2h0m36 0h0m-645 10h0m5-1h0m19 1h0m47-1h0m4-4h0m8 5h0m14-3h0m7 4h0m19-3h0m12 2h0m76-1h0m31 1h0m14-2h0m14 4h0m17-6h0m5 2h0m0 1h0m11-1h0m9 2h0m9 0h0m38 0h0m14-4h0m3 5h0m19-3h0m55 2h0m23-2h0m4-2h0m9 5h0m3 0h0m3-2h0m0-1h0m6 4h0m2-6h0m17 6h0m3-6h0m10 1h0m6-1h0m18 1h0m3 3h0m11-1h0m19 2h0m20-2h0m4-2h0m5 1h0m4 4h0m1-4h0m4-3h0m2 2h0m10 1h0m-616 6h0m9 3h0m38 2h0m9-5h0m9 4h0m15 0h0m29-1h0m13-3h0m26 3h0m1-2h0m4-2h0m25 1h0m8 2h0m42 0h0m36 1h0m2 0h0m3-2h0m15 1h0m7-1h0m7-1h0m5 6h0m8 0h0m3-1h0m5-2h0m5 3h0m8-6h0m11 0h0m0 3h0m3 3h0m3-4h0m3 2h0m7-4h0m0 1h0m4 4h0m3-1h0m0-4h0m1 0h0m16 1h0m4 4h0m3 1h0m14-2h0m7-5h0m42 0h0m9 2h0m13-1h0m23 1h0m1 0h0m5 4h0m0-3h0m6-1h0m9 3h0m2-3h0m25-1h0m0-1h0m26 1h0m25-1h0m6 2h0m7 3h0m6 1h0m4-5h0m9 1h0m-648 10h0m7-3h0m12 4h0m13 0h0m2-5h0m13 7h0m24-4h0m20-2h0m2-1h0m11 5h0m0 1h0m2-3h0m2-1h0m1 1h0m11-3h0m5 1h0m3 6h0m0-4h0m5-3h0m3 5h0m35-5h0m16 7h0m17-6h0m1-1h0m5 1h0m2 6h0m28 0h0m10-3h0m11-1h0m6 4h0m15-7h0m2 0h0m3 2h0m12 4h0m58-1h0m3-2h0m13 1h0m34-1h0m8-2h0m23 3h0m12-1h0m15-3h0m4 0h0m5 6h0m0-6h0m23 3h0m15 3h0m35-4h0m15 2h0m19-1h0m0 4h0m17-4h0m10 4h0m2 0h0m20-1h0m-598 7h0m5-5h0m58 4h0m11-3h0m5 0h0m19 1h0m21 2h0m9-2h0m1 3h0m8 1h0m60 1h0m5 0h0m17-7h0m4 6h0m51 0h0m4-2h0m5 2h0m2 1h0m17-3h0m5 0h0m3 2h0m1-3h0m4-2h0m24 6h0m14-3h0m6 3h0m5-6h0m24 5h0m9-4h0m1 4h0m30-1h0m19-1h0m4 1h0m27-1h0m15 2h0m3 1h0m2-4h0m2 0h0m66 3h0m26-5h0m7 1h0m-616 8h0m12 4h0m13-3h0m9-3h0m62 0h0m1 0h0m10 0h0m19 6h0m19-2h0m14 1h0m39-4h0m5-1h0m12 3h0m56 0h0m10 0h0m12 1h0m7-4h0m3 5h0m16-1h0m4-3h0m8 4h0m3-4h0m8-1h0m2 1h0m10 2h0m5 1h0m10-1h0m1 4h0m11-7h0m4 1h0m4 4h0m10-2h0m17-2h0m25 4h0m26-3h0m18 2h0m18-3h0m3 6h0m5-3h0m25 2h0m17-5h0m4 4h0m17-4h0m13 5h0m6 1h0m3-3h0m4-1h0m2 1h0m4-4h0m4 5h0m8-3h0m4 5h0m-547 8h0m3-6h0m3-1h0m9 6h0m32-4h0m6 5h0m29-3h0m1-3h0m3 4h0m38-1h0m45-1h0m24 2h0m9-2h0m3 4h0m2-1h0m9-2h0m12 0h0m0-4h0m11 7h0m13-7h0m9 1h0m2 1h0m2 2h0m5-1h0m4-2h0m43 0h0m9 0h0m19 6h0m0-5h0m8 4h0m5 0h0m41-2h0m9-2h0m32 0h0m5 5h0m32-3h0m12-4h0m6 0h0m4 1h0m37 4h0m-614 8h0m15-5h0m13 4h0m11 0h0m8 2h0m9-5h0m26 5h0m28 1h0m5-4h0m39 0h0m13 4h0m42-1h0m1 0h0m6-2h0m6-3h0m6 2h0m5 1h0m1 3h0m0-1h0m4-5h0m8 5h0m1-5h0m11-1h0m8 3h0m12-2h0m1 2h0m1-1h0m11 0h0m17 0h0m16 3h0m4-1h0m0-1h0m5 0h0m8 1h0m7-2h0m12-1h0m11 3h0m0-2h0m42 4h0m14-5h0m8 0h0m9 2h0m11-3h0m14 1h0m15 2h0m10-3h0m6 1h0m11 3h0m32 3h0m6-2h0m22 1h0m19-2h0m3 1h0m8-3h0m7 1h0m10 4h0m13 0h0m-598 3h0m1 0h0m71 0h0m8 3h0m1 0h0m6-2h0m6 1h0m1 1h0m1-1h0m15-4h0m4 0h0m7 5h0m3-2h0m7 0h0m5 2h0m11-2h0m22-2h0m11 6h0m5-2h0m16-5h0m2 4h0m23-3h0m26 6h0m15-1h0m23-5h0m14-1h0m6 7h0m11-5h0m34 1h0m15 1h0m24-3h0m2 3h0m0 2h0m2-3h0m1-1h0m31 5h0m12-5h0m9 5h0m0-3h0m6-2h0m3 0h0m62 0h0m19 3h0m9-5h0m13 7h0m1-5h0m13 1h0m19 3h0m5 1h0m-643 1h0m13 4h0m60-1h0m22-3h0m7 3h0m29 4h0m9-2h0m35-1h0m5-4h0m9 3h0m14 1h0m11 1h0m1 0h0m10-3h0m41 1h0m6 1h0m0 2h0m9 1h0m12-7h0m8 2h0m3 4h0m0-4h0m15 0h0m8 3h0m12 0h0m13-4h0m26 3h0m5 1h0m2-2h0m3 4h0m14-3h0m8 3h0m14-6h0m15 4h0m20-3h0m18 0h0m13 3h0m4-5h0m6 7h0m2-5h0m7 5h0m59-2h0m1-3h0m2 0h0m10 1h0m5 4h0m24-4h0m26 3h0m9-1h0m-644 9h0m12-4h0m34-2h0m50 6h0m9-4h0m3-2h0m5 4h0m3 2h0m15-1h0m3 1h0m6-3h0m20 4h0m7-5h0m6-2h0m6 7h0m0-6h0m1 1h0m1 1h0m15 0h0m1 2h0m4 0h0m12 1h0m4 1h0m4-5h0m1 0h0m55 1h0m0 1h0m9-2h0m2-2h0m23 0h0m26 3h0m2 3h0m34-3h0m14-1h0m7-1h0m6-1h0m16 2h0m2 4h0m3-5h0m0-1h0m11 7h0m16-4h0m63 0h0m21-3h0m1 1h0m10 6h0m2 0h0m3-4h0m19-1h0m26 3h0m2 0h0m5-1h0m0 2h0m5-5h0m5 6h0m5-6h0m10 6h0m11 0h0m-630 3h0m2 3h0m9 2h0m7-3h0m39-2h0m25 4h0m11-4h0m6 1h0m23 0h0m4 2h0m6-3h0m3 3h0m2-1h0m5 0h0m8-3h0m10 1h0m9-2h0m3 0h0m32 2h0m2 4h0m0-5h0m4 6h0m4-7h0m2 4h0m6 3h0m15-5h0m12 3h0m4 0h0m15 2h0m32-2h0m5-1h0m4 3h0m2 0h0m1-1h0m29-6h0m1 7h0m3-7h0m6 1h0m1 2h0m3-3h0m10 4h0m7 3h0m13 0h0m11-3h0m1-4h0m18 5h0m22 0h0m1 1h0m25-6h0m4 1h0m3 6h0m15-2h0m5-3h0m5 3h0m2-3h0m4 3h0m10-5h0m5 2h0m4 5h0m7-3h0m2 1h0m23 0h0m10-1h0m3-1h0m42 3h0m12-4h0m9-2h0m10 0h0m-597 10h0m0-1h0m16 1h0m1-1h0m7 3h0m6 2h0m48 1h0m5-3h0m7-3h0m6 0h0m4 6h0m25 0h0m17-7h0m2 5h0m1-5h0m1 1h0m35 2h0m1 0h0m0 2h0m32 1h0m10 0h0m21-6h0m2 6h0m6-4h0m34 5h0m3 0h0m19-3h0m29-2h0m1 1h0m18-2h0m3 2h0m0 4h0m2-2h0m16-4h0m23 0h0m9 0h0m3 3h0m12-4h0m2 1h0m5 4h0m4 0h0m11-3h0m1 1h0m36 3h0m10 0h0m20-5h0m7 0h0m4-1h0m13 5h0m1-2h0m34 2h0m9-4h0m1-1h0m3 7h0m-623 2h0m12 2h0m18-3h0m2 6h0m7-1h0m5-3h0m6 0h0m1 5h0m5-4h0m5-3h0m10 0h0m0 3h0m11-2h0m24-1h0m5 6h0m1-2h0m15-1h0m17-3h0m22 5h0m4-2h0m23-2h0m30 4h0m16 0h0m10-2h0m14 0h0m7 1h0m2 3h0m5-5h0m4 3h0m51 0h0m4 2h0m25-3h0m15 0h0m15-3h0m4 2h0m8 1h0m5 1h0m22 2h0m13-1h0m5-6h0m16 4h0m4 3h0m5-1h0m15-5h0m10 4h0m12 2h0m3-2h0m13-4h0m5 5h0m7-2h0m54 2h0m-611 3h0m7 2h0m5-2h0m6 0h0m10 3h0m11 2h0m25-4h0m12 4h0m10-4h0m11 5h0m9-4h0m17-3h0m25 3h0m1 0h0m0 3h0m2-2h0m6-1h0m2-3h0m9 6h0m11 0h0m11 0h0m7 0h0m33 1h0m8-4h0m1 1h0m5-1h0m1-3h0m26 6h0m3 0h0m2-2h0m10 0h0m41-2h0m1-1h0m1 3h0m10-1h0m14 1h0m35-1h0m37 3h0m45-1h0m16-2h0m20-2h0m12-1h0m10 0h0m2 4h0m11-3h0m27 5h0m22-3h0m1 0h0m7 2h0m9 1h0m12-1h0m22 0h0m9-3h0m-648 9h0m16-3h0m3 5h0m2 0h0m4-1h0m20 2h0m1-2h0m4-1h0m2 0h0m6 4h0m3-2h0m2-5h0m23 3h0m37 3h0m17 0h0m4 0h0m7-6h0m2 0h0m6 4h0m2 1h0m12-5h0m3 6h0m10-3h0m1 3h0m11-2h0m29-2h0m1 1h0m11-3h0m1 6h0m18-5h0m19 1h0m8 2h0m0-4h0m12 6h0m29 1h0m10-3h0m3 2h0m7-6h0m14 6h0m4-5h0m1 3h0m2 1h0m28-4h0m12 0h0m24 2h0m4 4h0m14-1h0m9-1h0m11-2h0m1 3h0m7 1h0m7-4h0m1-3h0m4 7h0m2 0h0m22-2h0m6-4h0m2 4h0m3 2h0m1-1h0m1-5h0m15 3h0m4 1h0m0-1h0m0-4h0m45 7h0m3-2h0m12 0h0m15 2h0m23 0h0m1-5h0m2 0h0m-623 11h0m14-2h0m24 0h0m26-3h0m3 7h0m11-7h0m2 1h0m11 2h0m1 0h0m41 0h0m18-1h0m14 1h0m8 4h0m16-4h0m11-3h0m7 7h0m12-6h0m6 2h0m4-3h0m13 6h0m3 0h0m41-6h0m3 3h0m10 1h0m11 1h0m3 1h0m6-6h0m4 1h0m19 3h0m6 2h0m23-4h0m21 0h0m15 3h0m28-4h0m10-1h0m4 4h0m2-1h0m8 2h0m29-3h0m4 4h0m0-1h0m2-1h0m21-1h0m19 1h0m53-3h0m7 3h0m18 3h0m1-3h0m-637 11h0m10-6h0m6 3h0m13 3h0m17-1h0m11-3h0m23 1h0m6-2h0m18 4h0m4-1h0m7-1h0m34 2h0m1-5h0m7 1h0m22 5h0m15-1h0m2 0h0m20-4h0m8 0h0m15-2h0m26 1h0m8 1h0m6 3h0m5-5h0m0 2h0m3-2h0m28 6h0m3-3h0m6 0h0m1 2h0m0-3h0m5-2h0m9 0h0m12 2h0m9 5h0m35-4h0m4 0h0m22 0h0m23 2h0m1-3h0m2 1h0m14 0h0m23 2h0m10-1h0m56-4h0m16 2h0m40 1h0m14 1h0m7-1h0m-616 8h0m9-1h0m5 1h0m0 3h0m4 1h0m5-5h0m0 4h0m10-5h0m6 6h0m5-4h0m21 0h0m1-3h0m11 7h0m15-1h0m21-1h0m4-3h0m5 1h0m23-3h0m7 4h0m2 3h0m4-3h0m16-1h0m6 3h0m0-3h0m6 3h0m2-3h0m10 0h0m19-1h0m15 0h0m7 5h0m10-7h0m6 1h0m4 1h0m1 3h0m11-1h0m11 3h0m1-3h0m4-2h0m6 3h0m20 0h0m31 1h0m17-4h0m22 2h0m49-1h0m6 4h0m10-7h0m18 3h0m7-2h0m8 2h0m4 1h0m11-2h0m2 5h0m9-3h0m46-4h0m62 6h0m4 0h0m20-1h0m-570 10h0m0-1h0m12-3h0m33 1h0m31-2h0m9 5h0m4-2h0m4-4h0m6 5h0m1 1h0m1-6h0m1 5h0m14-1h0m13-5h0m4 5h0m3 0h0m13 2h0m1-2h0m9-1h0m2 2h0m27-2h0m5 2h0m8-3h0m5-1h0m5-1h0m6-1h0m6 5h0m1-4h0m26 0h0m9 1h0m6-1h0m5 0h0m37 5h0m17-2h0m9 0h0m0 2h0m31-2h0m2 1h0m11-5h0m25 6h0m3-2h0m11-4h0m3 3h0m2-3h0m28 7h0m81 0h0m19-2h0m11-2h0m5 4h0m-631 3h0m78 1h0m16-1h0m24 3h0m2 0h0m3-3h0m3 0h0m0 4h0m21-4h0m19 3h0m6 1h0m40-5h0m11 0h0m21-1h0m25 3h0m4-2h0m17 6h0m1 0h0m5 0h0m13-7h0m4 1h0m14 2h0m2 3h0m55 0h0m18-1h0m25 1h0m17-1h0m4-2h0m21 3h0m26-6h0m4 6h0m6 0h0m42-1h0m10-3h0m40 3h0m6-2h0m9 0h0m1-3h0m6 4h0m15-4h0m-637 14h0m29-2h0m9 1h0m20 2h0m19-1h0m4-4h0m23 2h0m24-1h0m26 2h0m8-2h0m1 4h0m8 0h0m5-2h0m3-4h0m37 4h0m14 0h0m9-4h0m16 2h0m7 1h0m0 1h0m8-5h0m7 7h0m2-1h0m3-5h0m7 2h0m1-3h0m2 0h0m3 2h0m19 0h0m1 0h0m12 3h0m6 0h0m13-1h0m7-1h0m33 2h0m11-3h0m7-2h0m16 3h0m29 2h0m10-5h0m27 2h0m4-2h0m5 3h0m28-2h0m53 1h0m51 2h0m-617 7h0m3 1h0m11 3h0m9 0h0m93-3h0m49-1h0m6 3h0m4-1h0m48-2h0m12 0h0m24 1h0m20-3h0m43 3h0m13-4h0m4 0h0m3 0h0m1 3h0m2-3h0m11 2h0m7 5h0m9-2h0m7 2h0m42 0h0m8-6h0m4 0h0m5 0h0m6 3h0m8-4h0m40 4h0m13-4h0m46 2h0m16-2h0m11 6h0m8-3h0m2 4h0m35-3h0m-623 10h0m21-5h0m3 6h0m6-5h0m52 0h0m8 3h0m11-1h0m23 3h0m31-3h0m7 3h0m12-7h0m3 2h0m1 0h0m14 4h0m0-3h0m1-1h0m21 3h0m29-5h0m24 5h0m5 0h0m24-5h0m20 2h0m2 0h0m7 0h0m18 2h0m20 1h0m1 1h0m5-5h0m6 2h0m14 0h0m12-2h0m13 3h0m1-2h0m9 2h0m8 2h0m9 1h0m2 0h0m14-4h0m12-3h0m1 6h0m5-4h0m2 2h0m29-2h0m7 1h0m31 0h0m1 2h0m2-3h0m10 2h0m1 3h0m40-6h0m-567 10h0m5 1h0m32 0h0m42-2h0m45 5h0m14-2h0m21 0h0m0 2h0m20-6h0m15 0h0m24 1h0m6-2h0m10 6h0m29-4h0m25-1h0m6 2h0m12 2h0m3-4h0m3 0h0m35 3h0m7 2h0m33-1h0m13 1h0m8 1h0m0-6h0m21 4h0m10 2h0m38 0h0m5-3h0m4-4h0m1 6h0m2-5h0m18 3h0m15 2h0m4-4h0m29 5h0m10-4h0m4 3h0m26 0h0m-639 7h0m10 2h0m1-5h0m17-1h0m10 2h0m37 3h0m12-1h0m11-2h0m3 0h0m7 1h0m2-4h0m11 6h0m2-3h0m10 0h0m18-1h0m11 3h0m12-5h0m24 7h0m6-6h0m27 3h0m38 2h0m1-5h0m3 0h0m2-1h0m12 6h0m39-6h0m46 6h0m2-6h0m3 3h0m20 2h0m3-2h0m7 4h0m58-3h0m16 0h0m26 3h0m10-4h0m5 2h0m73-3h0m19-1h0m26 1h0m-538 7h0m10 4h0m50 1h0m1-5h0m35 2h0m0 2h0m3-2h0m5-2h0m8 2h0m25-3h0m12 7h0m29-2h0m9-3h0m4-2h0m31 6h0m11 1h0m41-6h0m15 5h0m19-3h0m5 0h0m12-2h0m25 2h0m8 3h0m14-4h0m24-1h0m22 3h0m13-2h0m56 5h0m2-1h0m14-1h0m4-4h0m19 4h0m6 2h0m1-6h0m-641 11h0m6 0h0m13 0h0m16 3h0m8 0h0m86-2h0m12-4h0m12 4h0m15-5h0m47 3h0m1 2h0m3 1h0m4-1h0m1-5h0m9 2h0m4 0h0m16 2h0m37-2h0m3 1h0m30-3h0m47 1h0m28 5h0m6-1h0m5-3h0m5-1h0m14-1h0m34 2h0m7-1h0m3 0h0m17 0h0m26 2h0m8-2h0m17 2h0m0 1h0m5 1h0m5 1h0m24-2h0m16 1h0m14-3h0m6-1h0m9 2h0m1-1h0m9 1h0m1 0h0m1 3h0m4-1h0m1-1h0m7 0h0m7-4h0m-593 14h0m50-3h0m23 0h0m11-3h0m4 7h0m7-2h0m6-3h0m26-1h0m15 3h0m3-4h0m15 5h0m3-4h0m0-1h0m19 4h0m22-4h0m8 6h0m2 0h0m2 1h0m3 0h0m3-4h0m4-3h0m5 0h0m36 4h0m21 0h0m31-1h0m14-1h0m9 1h0m6 3h0m4-4h0m9-2h0m24 6h0m56-3h0m28 0h0m9-2h0m24 5h0m37-5h0m3 5h0m6-4h0m8 0h0m0 5h0m6-2h0m7 2h0m9-3h0m6-1h0m10 2h0m-648 6h0m22 2h0m19-5h0m38 1h0m19 0h0m2-1h0m4 4h0m3-1h0m54 2h0m3-1h0m13 2h0m46-5h0m16 1h0m64-1h0m24 6h0m3-6h0m14 3h0m8 1h0m1-2h0m47 3h0m2-2h0m3-3h0m5 2h0m9-1h0m48 4h0m8-6h0m4 2h0m34 5h0m9-6h0m22 0h0m18 3h0m14-3h0m26 6h0m25 0h0m11-5h0m-611 7h0m3 5h0m16-4h0m6 1h0m2-2h0m54 5h0m13-6h0m15 3h0m7 1h0m2 1h0m12-2h0m3 2h0m7 2h0m1-5h0m3 0h0m4 2h0m30-1h0m10 0h0m2 1h0m4-3h0m0 6h0m5-1h0m0 1h0m8-3h0m15 2h0m5 1h0m10-3h0m15 2h0m12-2h0m4 1h0m20-3h0m0 5h0m21-3h0m45-4h0m0 5h0m8 1h0m15-5h0m2 3h0m22 1h0m20 2h0m4-6h0m0 5h0m24 1h0m3 0h0m2-4h0m15 3h0m1-2h0m24 1h0m6-1h0m36 3h0m0-5h0m10 2h0m2-1h0m7 1h0m8-3h0m6 6h0m7-3h0m14-2h0m2 1h0m-579 7h0m11 4h0m15-5h0m8 5h0m30 0h0m2 1h0m28-5h0m13-2h0m5 4h0m37-3h0m6 4h0m3 2h0m5-4h0m5-1h0m4 5h0m9-4h0m5-1h0m33 4h0m15 0h0m7-2h0m13 0h0m5-3h0m12 6h0m9-1h0m3-1h0m5 0h0m22-5h0m22 1h0m4 1h0m50-1h0m10-1h0m3 7h0m6-7h0m6 4h0m11-2h0m15-2h0m27 6h0m4-6h0m3 5h0m15-4h0m8 2h0m27 1h0m9 1h0m0-5h0m10 2h0m4 1h0m6 0h0m33 1h0m-570 4h0m1 5h0m16 1h0m15-4h0m38 1h0m41-3h0m9 0h0m11 3h0m6 3h0m17-2h0m5 3h0m11-7h0m5 3h0m15 3h0m32 1h0m34-4h0m7-1h0m10 4h0m17-6h0m33 2h0m5 0h0m30 2h0m3-4h0m2 5h0m1 1h0m19-2h0m7 0h0m8-1h0m6 3h0m5-2h0m5 0h0m1-1h0m6 4h0m23-6h0m6 1h0m11-1h0m44 5h0m11-1h0m23 1h0m50-6h0m-610 8h0m65 3h0m12-2h0m11 2h0m3-3h0m9 5h0m4-4h0m4 4h0m15-3h0m11 5h0m7 0h0m7-1h0m1-3h0m18-2h0m76 3h0m2 0h0m1-4h0m23 5h0m15 2h0m3-6h0m40 5h0m26-5h0m28 5h0m0-5h0m30 4h0m3-1h0m2 2h0m1 0h0m15-6h0m4 4h0m7-1h0m31-3h0m20 7h0m17-7h0m20 4h0m19-3h0m10 5h0m1 1h0m24-6h0m4 3h0m12-3h0m-612 14h0m19-5h0m5 1h0m23 4h0m4-4h0m4 2h0m17 0h0m10-5h0m4 5h0m4 2h0m10-1h0m2-1h0m17-3h0m25-2h0m21 1h0m14 2h0m3-1h0m12 2h0m1 3h0m15-3h0m2-1h0m7-2h0m22 3h0m15 3h0m9-6h0m9 0h0m38 1h0m13 0h0m4 2h0m14-4h0m7 3h0m0 3h0m23-6h0m2 0h0m3 7h0m3-1h0m26-2h0m4 3h0m3-7h0m9 4h0m7 3h0m34 0h0m11-6h0m3 0h0m2 0h0m15 0h0m19 2h0m5 1h0m2 2h0m0-6h0m29 7h0m1 0h0m32-6h0m5 0h0m-599 14h0m5-6h0m16 5h0m38-6h0m1 1h0m2 2h0m1 2h0m8 2h0m4-6h0m18 1h0m20 3h0m2 2h0m15-3h0m18-3h0m0 3h0m7-1h0m10 0h0m0 4h0m1-3h0m1 1h0m5 0h0m15-4h0m8 5h0m11-6h0m18 3h0m5-1h0m15 0h0m4 4h0m18 1h0m4-4h0m22 1h0m30 0h0m9 1h0m4 0h0m7 0h0m3-1h0m23-1h0m8-1h0m24-2h0m18 6h0m9-4h0m20 2h0m1-4h0m26 4h0m4 2h0m9 1h0m16-3h0m4 3h0m8-7h0m56 6h0m23-3h0m23-3h0m8 2h0m4 5h0m-620 8h0m53-6h0m5 6h0m33-3h0m7 2h0m25-2h0m21 2h0m30-6h0m7 2h0m18-1h0m2 1h0m25-2h0m3 5h0m8-5h0m4 0h0m10 7h0m12-2h0m71-3h0m1 0h0m4-1h0m2 1h0m36 0h0m7 3h0m5-4h0m3 1h0m46-2h0m11 5h0m34 0h0m63 2h0m1-1h0m19-1h0m1-5h0m17 2h0m15-1h0m0 5h0m1-4h0m10 2h0m6-2h0m11-2h0m-610 14h0m6-5h0m18 4h0m11-4h0m9 3h0m11-4h0m5 6h0m6-1h0m5 0h0m10-1h0m1-2h0m4-1h0m38 2h0m19-1h0m2-1h0m2 3h0m9-2h0m38 4h0m2-6h0m35 7h0m7-7h0m25 1h0m2 2h0m19-2h0m34 0h0m3 4h0m13 0h0m14 0h0m6-5h0m23 4h0m15-3h0m33 5h0m21-3h0m1 1h0m18-3h0m7 3h0m5-2h0m3-2h0m9 7h0m2-5h0m2 0h0m2 5h0m8-1h0m10-4h0m2 3h0m27-4h0m3-1h0m3 4h0m13 3h0m3-6h0m7 3h0m8-3h0m18 6h0m8-4h0m-593 11h0m14-5h0m13 6h0m21-7h0m11 1h0m10 0h0m1 4h0m4 0h0m5-2h0m16 3h0m9-1h0m9 2h0m10-4h0m10 1h0m19-2h0m13-2h0m12 4h0m43-4h0m3 6h0m2-6h0m11 3h0m9-2h0m21-1h0m9 5h0m63 0h0m42-2h0m6-1h0m20 1h0m31-3h0m5 6h0m12-4h0m5 4h0m40-3h0m3 0h0m18 2h0m4 0h0m15 2h0m32 0h0m15-5h0m-634 13h0m25 0h0m3-3h0m22-4h0m23 3h0m3 4h0m19-1h0m7-2h0m24 1h0m11-1h0m13 1h0m6-5h0m0 2h0m24-2h0m8 6h0m2-3h0m17-2h0m2-1h0m4 3h0m5 4h0m0-6h0m5 5h0m3-1h0m3 1h0m0-2h0m6-2h0m16 2h0m0-1h0m49 0h0m3-3h0m14 0h0m4 5h0m3-1h0m11-3h0m18 1h0m26-2h0m2 3h0m23-1h0m6 2h0m5 0h0m4 1h0m11-4h0m24 2h0m0 4h0m12-2h0m37 1h0m2-1h0m12-1h0m7-1h0m0 4h0m2-7h0m6 5h0m13-4h0m10 2h0m9-1h0m11-2h0m5 2h0m13 4h0m6-3h0m3 1h0m15-4h0m18 6h0m8 0h0m-616 8h0m39-5h0m52 1h0m2 1h0m2-1h0m12 1h0m18 4h0m14-5h0m3-1h0m0 3h0m2 2h0m2 1h0m23-7h0m2 6h0m4-3h0m17 4h0m6-2h0m18-1h0m25-3h0m0 2h0m15 3h0m13-3h0m3 4h0m14-6h0m2 3h0m7-4h0m10 2h0m11 2h0m19-2h0m2 1h0m11 4h0m7-7h0m6 5h0m4 1h0m24-1h0m4 2h0m29-1h0m16-5h0m2 0h0m6 2h0m1 3h0m4-5h0m0 3h0m5 3h0m12 0h0m8-7h0m4 6h0m13-1h0m22-4h0m23 5h0m3 1h0m14-7h0m5 0h0m34 6h0m16-1h0m2 2h0m3-5h0m-580 13h0m21-4h0m29-3h0m20 2h0m12 3h0m4 2h0m5 0h0m12-4h0m2 1h0m2 2h0m7 0h0m30-4h0m10 0h0m11 2h0m6-1h0m31 3h0m0-6h0m2 6h0m9-3h0m29 0h0m2 1h0m45 1h0m25-3h0m4-2h0m4 2h0m1 3h0m3-1h0m0-2h0m18 1h0m13 2h0m9 2h0m1-5h0m18 5h0m18-5h0m1 0h0m7 1h0m8-3h0m0 5h0m2-5h0m1 3h0m14-2h0m1 3h0m16-2h0m19-2h0m2 4h0m43-3h0m14 6h0m6-6h0m7 4h0m6 0h0m3 1h0m20 0h0m-575 4h0m37 3h0m40-2h0m23 0h0m4-2h0m16 5h0m47-2h0m0 3h0m7-1h0m10-4h0m28-2h0m12 5h0m0 1h0m5-4h0m3 1h0m5 0h0m20 2h0m7-4h0m5-1h0m21 2h0m24-1h0m11-1h0m7 1h0m3 6h0m3-2h0m18-5h0m23 6h0m5 0h0m5-2h0m13-4h0m7 1h0m11 1h0m3 4h0m2-4h0m3 1h0m6-1h0m4 0h0m21 2h0m4 0h0m15 1h0m24 2h0m30-2h0m10 0h0m38-1h0m5-2h0m-586 6h0m91 0h0m6 2h0m10 2h0m30-1h0m46 1h0m4 0h0m31-3h0m4 2h0m7 0h0m20-1h0m1-2h0m30 2h0m5 1h0m15 1h0m19-1h0m49-3h0m22 4h0m7-3h0m6 3h0m18-1h0m3-2h0m4 1h0m14 0h0m30 1h0m16-1h0m19 1h0m11 0h0m37-1h0"/></defs>
<g filter="url(#bl)"><use href="#pa_dtx" transform="scale(.5)" fill="none" stroke-linecap="round" stroke="#0400fc" stroke-width="8.4" stroke-opacity=".6"/><use href="#pb_dtx" transform="scale(.5)" fill="none" stroke-linecap="round" stroke="#0400f0" stroke-width="8.4" stroke-opacity=".45"/></g>
<use href="#pb_dtx" transform="scale(.5)" fill="none" stroke-linecap="round" stroke="#0a0af0" stroke-width="5.0" stroke-opacity=".5"/>
<use href="#pa_dtx" transform="scale(.5)" fill="none" stroke-linecap="round" stroke="#0c0cff" stroke-width="5.0" stroke-opacity=".9"/>
<g filter="url(#bl2)"><path fill="none" stroke-linecap="round" stroke="#2f8a18" stroke-width="6" stroke-opacity="0.4" d="M375.9 626.1h0M438.2 604.6h0M481.3 543.7h0M574.7 546.1h0M399.9 709.9h0M387.9 726.7h0M409.5 662.0h0M548.4 623.7h0M366.4 772.2h0M466.9 595.0h0M447.8 585.4h0"/></g>
<g filter="url(#bl)"><path fill="none" stroke-linecap="round" stroke="#a4e030" stroke-width="5.2" stroke-opacity="1.0" d="M467.9 622.4h0"/><path fill="none" stroke-linecap="round" stroke="#4cbc30" stroke-width="4.2" stroke-opacity="0.9" d="M476.0 615.3h0M474.5 617.5h0M478.0 613.5h0"/><path fill="none" stroke-linecap="round" stroke="#9ce030" stroke-width="4.6" stroke-opacity="1.0" d="M533.8 661.3h0"/><path fill="none" stroke-linecap="round" stroke="#48c030" stroke-width="3.8" stroke-opacity="0.9" d="M547.3 623.2h0M545.8 622.3h0"/><path fill="none" stroke-linecap="round" stroke="#5cc830" stroke-width="3.6" stroke-opacity="1.0" d="M555.5 630.2h0"/><path fill="none" stroke-linecap="round" stroke="#a8e030" stroke-width="3.2" stroke-opacity="1.0" d="M515.3 604.5h0M513.8 605.3h0"/><path fill="none" stroke-linecap="round" stroke="#84d830" stroke-width="2" d="M464.5 651.0L472.0 655.0M466.0 658.0L471.0 660.0M474.0 648.0L477.0 655.0M478.0 654.0L486.0 651.0M480.0 649.0L484.0 647.0M470.0 650.0L473.0 647.0"/><path fill="none" stroke-linecap="round" stroke="#b0e030" stroke-width="2.6" stroke-opacity="1.0" d="M528.6 600.5h0M517.0 615.0h0M512.3 636.0h0M519.3 645.4h0M497.0 623.2h0M443.4 681.0h0M573.0 665.3h0M497.5 600.0h0"/></g>
<path fill="none" stroke-linecap="round" stroke="#a8dc28" stroke-width="2.0" stroke-opacity="0.9" d="M409.5 662.0h0M572.3 720.5h0M573.3 665.4h0M395.1 563.9h0M443.0 681.2h0M399.9 707.5h0M405.6 710.9h0M577.1 745.8h0"/>
</g>
<rect x="20.4" y="817.9" width="327.3" height="244.6" fill="#000"/>
<g clip-path="url(#c_nps)">
<defs><path id="pa_nps" d="M388 1638h0m41 0h0m30 0h0m79 0h0m46 1h0m19-2h0m-432 9h0m30-3h0m21 3h0m5-3h0m18-2h0m33 2h0m22-1h0m5-1h0m20 1h0m17 4h0m7-6h0m10 3h0m10-3h0m1 5h0m3 1h0m29-6h0m32 6h0m6 0h0m7-5h0m59 0h0m15 1h0m20-1h0m64 0h0m31 6h0m-580 6h0m244 1h0m18-2h0m11-1h0m21-1h0m8-1h0m18 0h0m38 2h0m6-3h0m17 3h0m29-2h0m8 2h0m47-1h0m8 2h0m8 2h0m8-2h0m25-3h0m8 0h0m40 0h0m6 5h0m13-2h0m26 0h0m6 3h0m-441 5h0m3-1h0m127 4h0m47-3h0m11-2h0m47 2h0m1-2h0m39-2h0m54 2h0m20 3h0m3 2h0m24-5h0m1 0h0m24 0h0m11 0h0m15-1h0m12 6h0m23-4h0m-451 10h0m20-2h0m34 3h0m23-5h0m4 6h0m5-5h0m1-1h0m14 1h0m7 4h0m22-1h0m65-5h0m26 3h0m13-1h0m11 3h0m13-1h0m14-2h0m2 4h0m37-2h0m8-1h0m27-1h0m3 5h0m7 0h0m25-7h0m8 1h0m11 2h0m-427 12h0m20-5h0m29 5h0m34-2h0m21-3h0m13 1h0m61-3h0m51 4h0m49 3h0m23-6h0m105 4h0m11-2h0m17-2h0m2 3h0m12-2h0m1 1h0m23 3h0m6-3h0m-631 10h0m176-5h0m16 1h0m71 4h0m45-5h0m32 6h0m15-1h0m59-3h0m33 2h0m12 1h0m48-1h0m74 0h0m10 1h0m18-5h0m-417 8h0m41 0h0m3 6h0m0-3h0m4 0h0m21 0h0m35 4h0m34-5h0m36 0h0m8 4h0m55-5h0m15 6h0m37 0h0m30-7h0m15 2h0m3-1h0m8-1h0m37 0h0m42 5h0m-440 8h0m8-1h0m46-1h0m26-3h0m35 5h0m19-5h0m7 0h0m33 6h0m60-2h0m29 1h0m31-2h0m4-1h0m58-1h0m75-1h0m-444 15h0m56-2h0m18-4h0m36 5h0m34-5h0m12 2h0m24-2h0m14 0h0m56 3h0m26 0h0m14 2h0m87 0h0m2-3h0m41 3h0m14-1h0m-312 9h0m8-1h0m10 1h0m16 1h0m56 0h0m45 0h0m10-3h0m35-1h0m34 1h0m9-2h0m6 2h0m1-4h0m21 6h0m8 0h0m18-2h0m28 2h0m37-6h0m-330 8h0m41 5h0m5-2h0m33 3h0m16-4h0m18 3h0m31-3h0m50 4h0m11-1h0m4 1h0m76 0h0m-368 3h0m62 6h0m28-2h0m2 2h0m11-7h0m6 1h0m6 0h0m8 0h0m11 0h0m66 2h0m6 0h0m30-1h0m9 4h0m46-5h0m28 6h0m7-7h0m13 3h0m1-2h0m-519 9h0m139 2h0m1 0h0m73 0h0m15 2h0m6-6h0m5 5h0m36-5h0m40 5h0m24-2h0m29 4h0m6 0h0m18-7h0m6 2h0m5 0h0m6 2h0m10-4h0m5 3h0m1-3h0m21 5h0m5-5h0m8 6h0m1-2h0m57 3h0m4-7h0m66 1h0m-386 13h0m22-4h0m15 5h0m21 0h0m30-4h0m6 0h0m11 1h0m13 1h0m75-4h0m14 1h0m21 5h0m1-2h0m11 1h0m19-3h0m15 0h0m33-2h0m15 1h0m-455 8h0m162 1h0m2 3h0m6-4h0m50 5h0m67 0h0m34-2h0m59-4h0m12 2h0m2 2h0m19 0h0m25-5h0m2 3h0m38-2h0m-391 7h0m3 3h0m37 4h0m2 0h0m1-5h0m21 0h0m35 2h0m4 1h0m46-4h0m1 3h0m78-2h0m52 4h0m0-1h0m7-5h0m4 4h0m28-4h0m18 5h0m-312 9h0m21-2h0m19 3h0m6-5h0m17-2h0m1 0h0m5 2h0m7 4h0m14-5h0m10 2h0m32 4h0m29-7h0m74 2h0m6 0h0m14 3h0m5-2h0m-327 11h0m86-4h0m76-1h0m23 1h0m101 0h0m-303 6h0m86 0h0m9 6h0m24 0h0m16-3h0m33 4h0m17-6h0m45-1h0m13 4h0m0 3h0m38-3h0m12-3h0m11 4h0m11 2h0m32-4h0m6-2h0m-409 14h0m37-6h0m35 2h0m47-2h0m41-1h0m21 3h0m6-3h0m7 0h0m12 4h0m7-1h0m21-2h0m23 5h0m19-1h0m15-1h0m24-2h0m51 5h0m42-4h0m20-3h0m20 1h0m12 4h0m6-2h0m-547 10h0m123 0h0m19-3h0m26 4h0m43-4h0m45 1h0m23 0h0m74-1h0m4-2h0m9 1h0m14 1h0m56 1h0m2-1h0m17 1h0m1-1h0m50-1h0m13 6h0m3-6h0m-389 10h0m46 1h0m4-3h0m69-1h0m6 3h0m10 0h0m16-3h0m46 2h0m3 1h0m18 1h0m14-4h0m29 5h0m5 1h0m13-1h0m54-4h0m5 0h0m6 0h0m29 1h0m4 5h0m34-7h0m-481 11h0m72-3h0m96 4h0m5 0h0m38 2h0m3 1h0m75 0h0m13-5h0m5 3h0m31 0h0m0 1h0m19-1h0m8-1h0m43-3h0m10 5h0m18-6h0m-313 9h0m17 5h0m48-3h0m64 1h0m43 3h0m31-4h0m0-2h0m13 5h0m6-6h0m1 0h0m42 6h0m9 0h0m8-6h0m33 5h0m26-2h0m5-3h0m14 2h0m31-1h0m-464 11h0m65 0h0m2 0h0m20-1h0m42-2h0m18 0h0m5 2h0m2-1h0m13 4h0m11 0h0m23 0h0m6 1h0m15 0h0m3-5h0m6 1h0m23 2h0m16-3h0m7 5h0m17 0h0m7-3h0m45 2h0m26-3h0m36 3h0m23 1h0m4-6h0m3 6h0m3-7h0m-340 9h0m14 4h0m60 2h0m0-2h0m66 2h0m16-7h0m28 0h0m5 1h0m14 3h0m6-2h0m47-1h0m5 3h0m2 3h0m8-2h0m5 0h0m9 0h0m7-3h0m59 3h0m17 2h0m-370 1h0m0 6h0m70-5h0m14 5h0m5-3h0m11-2h0m2 3h0m20-1h0m37 0h0m2-2h0m45 3h0m4 2h0m15-4h0m47 1h0m4 0h0m0 4h0m6-2h0m7 2h0m4-5h0m5-1h0m58 2h0m3-2h0m5 6h0m27-3h0m-488 5h0m30 3h0m73 0h0m86 0h0m4-4h0m1 4h0m14-3h0m15-1h0m5 2h0m5 2h0m22-1h0m16-3h0m7 1h0m22 2h0m36 3h0m51-5h0m21 2h0m19 0h0m50 0h0m39 4h0m-505 6h0m66-5h0m14 7h0m4-3h0m34 3h0m9-6h0m1 0h0m32 0h0m8 4h0m32-4h0m34 5h0m54-3h0m19 0h0m13 0h0m13-2h0m4-1h0m13 5h0m7-1h0m3-2h0m44 1h0m16 2h0m30-2h0m-422 9h0m25-3h0m13 2h0m10 2h0m34-3h0m5 2h0m47 0h0m23 2h0m10-1h0m7-2h0m2-3h0m22 6h0m13 0h0m33-6h0m29 3h0m33-2h0m6 6h0m27-5h0m15 5h0m13-4h0m2 4h0m2-4h0m23 0h0m0-2h0m47 5h0m35-1h0m-427 10h0m15-6h0m12 4h0m12 2h0m4-5h0m18 5h0m2-1h0m4-4h0m18 4h0m2-1h0m14 0h0m53-2h0m15 4h0m24 0h0m4-1h0m2-3h0m9-2h0m37-1h0m20 1h0m3 3h0m12-4h0m33 5h0m17-4h0m3 2h0m4 2h0m48-3h0m34-2h0m-551 13h0m53 0h0m38 2h0m30-7h0m2 4h0m23-4h0m21 4h0m8-3h0m8 2h0m21 4h0m17-6h0m1 0h0m12 5h0m3-5h0m44 2h0m9 4h0m58-2h0m9-4h0m15 6h0m6-7h0m1 4h0m21 3h0m2-6h0m10 0h0m15 0h0m25 1h0m7 1h0m20-2h0m35 5h0m-531 2h0m95 4h0m3 1h0m27-1h0m25-1h0m29 3h0m26-6h0m13 2h0m8 5h0m3-5h0m29 1h0m14-1h0m25 3h0m8-4h0m4 5h0m67-3h0m10-3h0m3 2h0m17 0h0m26-2h0m17 1h0m10 6h0m14-7h0m9 6h0m59-4h0m16 1h0m12 1h0m1-3h0m-501 13h0m107-2h0m11-3h0m49 2h0m19-1h0m0-2h0m12 5h0m48-5h0m13 3h0m7 3h0m1 1h0m19-2h0m15-4h0m40 4h0m68-2h0m6 2h0m0 2h0m52-2h0m3 2h0m21 0h0m-464 3h0m82 1h0m36 3h0m25 1h0m1 0h0m1 0h0m42 0h0m9-7h0m22 7h0m5-1h0m45-1h0m6-1h0m29 0h0m2-1h0m4-1h0m25 2h0m24 3h0m5-5h0m21 1h0m12 4h0m-362 8h0m9-6h0m52 3h0m95-4h0m12 1h0m45 4h0m30-1h0m6 3h0m102-7h0m6 7h0m-473 1h0m80 6h0m56-4h0m56 2h0m3-1h0m25-2h0m4 0h0m3 1h0m36 2h0m15 0h0m36 3h0m9-5h0m8 0h0m14-2h0m3 5h0m2-1h0m57-1h0m8 0h0m69 3h0m-389 2h0m5 0h0m47 3h0m4-1h0m14 4h0m28-3h0m17 4h0m25-5h0m5 3h0m18-3h0m24-2h0m4 2h0m12 5h0m1-4h0m6-2h0m27 0h0m8 3h0m7-1h0m1 0h0m1-1h0m7-1h0m14 2h0m3 2h0m1 2h0m16-2h0m40 0h0m28-2h0m17 1h0m70-1h0m-477 6h0m30 2h0m12-1h0m24 0h0m5-1h0m1 5h0m16-6h0m6 4h0m13-1h0m3 0h0m19 0h0m22 2h0m1 0h0m20-2h0m72-2h0m35 2h0m3-2h0m1 5h0m5-4h0m1 1h0m27 0h0m33 4h0m54-1h0m1-2h0m20-3h0m38 6h0m1-2h0m11 0h0m7-5h0m10 3h0m-496 5h0m51 0h0m9 7h0m4-1h0m12-1h0m15-3h0m20 2h0m12 2h0m31-1h0m4-2h0m14-3h0m33 2h0m23-1h0m11 3h0m4-2h0m3-1h0m7-1h0m15 3h0m8 4h0m29-7h0m24 7h0m0-7h0m43 5h0m55 0h0m47 0h0m17-5h0m-457 12h0m31-4h0m5 5h0m23 2h0m1 0h0m26 0h0m16-6h0m20 1h0m1-2h0m36 6h0m22-5h0m22 5h0m10-3h0m10 1h0m7-3h0m2 6h0m2-7h0m2 7h0m60-1h0m4 1h0m3-3h0m46-4h0m11 2h0m18 4h0m73 0h0m-452 8h0m36-2h0m6-2h0m1 5h0m16-5h0m80 2h0m11-3h0m83 0h0m15 2h0m33-3h0m5 5h0m3 0h0m0-5h0m7 1h0m81-1h0m38 6h0m4-3h0m34 0h0m-419 10h0m6-3h0m6 3h0m21 1h0m3-3h0m8 3h0m47 0h0m10-4h0m2 4h0m15-2h0m19 3h0m28-5h0m41-2h0m4 1h0m51 6h0m4-4h0m24 3h0m139 0h0m-414 5h0m54 1h0m6 3h0m8-5h0m13 5h0m4-2h0m47-3h0m15 2h0m36 3h0m2-2h0m25-3h0m26 2h0m-229 6h0m78 4h0m7-1h0m34-4h0m13-1h0m55 3h0m9-1h0m15 4h0m32-3h0m8-3h0m23 6h0m-382 8h0m91-5h0m50 5h0m6 0h0m28 0h0m8 1h0m67-4h0m27 0h0m10 2h0m34-4h0m29 3h0m8 3h0m25-3h0m1-3h0m44 1h0m6-2h0m23 1h0m7 4h0m31 0h0m17 2h0m3-3h0m5 3h0m-451 3h0m8-2h0m30 1h0m0 4h0m44 2h0m39-4h0m0 3h0m7-1h0m11 1h0m16 0h0m25-1h0m9-2h0m27 3h0m17-2h0m4-2h0m24 1h0m37-2h0m128 4h0m4 0h0m4 0h0m23 2h0m-421 3h0m29 1h0m15-2h0m8-1h0m5 0h0m38 3h0m21 1h0m6 3h0m29-4h0m2 4h0m21-1h0m3-1h0m17-4h0m19 0h0m0 4h0m46-3h0m13 3h0m40 2h0m21-3h0m82-4h0m-459 13h0m88 0h0m42 0h0m1-4h0m30 5h0m16 1h0m49-5h0m72 3h0m22-4h0m3-1h0m5 0h0m19 1h0m6 0h0m4-1h0m-326 9h0m18 6h0m80 0h0m29-4h0m26-2h0m31-1h0m28 1h0m64 5h0m19 1h0m-287 7h0m9-3h0m22-1h0m47-2h0m48 1h0m27-1h0m6 4h0m12-1h0m16-1h0m39 4h0m14-2h0m56 3h0m66-2h0m-319 10h0m23-2h0m26-5h0m9 1h0m34 2h0m31-1h0m4 3h0m62-4h0m3 6h0m47-4h0m6 4h0m5-4h0m10 0h0m41 2h0m24-5h0m-389 15h0m77-7h0m3 7h0m38 0h0m14-2h0m28-1h0m3 2h0m13-5h0m8 1h0m7 0h0m33 3h0m22-2h0m7-3h0m37 6h0m29-2h0m50-2h0m74-1h0m-464 7h0m38 6h0m18-6h0m2 5h0m1-3h0m6 0h0m19 2h0m3-4h0m48 1h0m11 0h0m6 6h0m92-3h0m10-1h0m11 0h0m55 1h0m49 0h0m3 1h0m50 2h0m29-1h0m18 0h0m-505 2h0m11 4h0m69-2h0m9 0h0m6 4h0m18-2h0m5-2h0m56-1h0m74 3h0m36 2h0m23-5h0m104 3h0m2 1h0m25 2h0m-422 3h0m62-1h0m66 1h0m12-2h0m25 0h0m4 1h0m20 4h0m8-2h0m55 3h0m2-2h0m30-2h0m24 1h0m25 2h0m16-1h0m67-2h0m38-2h0m-387 13h0m49-5h0m9 7h0m16-4h0m1 0h0m21-2h0m26 3h0m2 0h0m7 2h0m4-4h0m13-1h0m70 4h0m50 2h0m11-1h0m18-3h0m1 0h0m12 3h0m4-1h0m19-3h0m28-1h0m37 4h0m26 0h0m-438 3h0m20 2h0m25 1h0m21-3h0m0 6h0m2-6h0m66 6h0m12-5h0m28 0h0m9 0h0m47 5h0m3 0h0m2-3h0m12-1h0m28 5h0m3-6h0m7 2h0m4-3h0m64 3h0m30 3h0m23-5h0m-409 14h0m34-3h0m55-2h0m11 1h0m4 2h0m47 0h0m9 1h0m4 1h0m33-6h0m65 2h0m71-1h0m2 5h0m17 0h0m14-2h0m2 0h0m-333 5h0m18 4h0m42 0h0m34-2h0m73-4h0m73 0h0m6 1h0m2 1h0m50 2h0m12-4h0m7 3h0m65 2h0m-373 5h0m3 2h0m42-2h0m111 1h0m39 0h0m12 0h0m9-1h0m34-1h0m84 0h0"/><path id="pb_nps" d="M134 1636h0m67 3h0m13-1h0m18-2h0m71 2h0m36-1h0m45-1h0m10 2h0m2-1h0m40 2h0m21-1h0m5-1h0m17 2h0m1-2h0m1 2h0m2-2h0m22 0h0m15 2h0m55 0h0m35 0h0m1-1h0m9-1h0m3 2h0m15 0h0m7-3h0m20 1h0m-500 9h0m13 0h0m24-1h0m9 0h0m20 2h0m5-7h0m2 1h0m34 4h0m13-5h0m1 6h0m6 0h0m8 0h0m11-5h0m25 6h0m13-7h0m19 7h0m3-7h0m4 1h0m7 0h0m8 1h0m26 1h0m4-1h0m3 4h0m9-2h0m1 3h0m1-5h0m3-2h0m0 6h0m4-6h0m8 0h0m6 2h0m10 3h0m13-2h0m4 2h0m4 0h0m10-4h0m3 5h0m3-3h0m12 2h0m2 1h0m0 1h0m21-7h0m6 0h0m2 5h0m2-4h0m8 4h0m32-2h0m24 1h0m3 3h0m3-7h0m3 5h0m1-1h0m20-4h0m13 1h0m28 3h0m-486 8h0m29 1h0m12 2h0m1-4h0m13-3h0m13 5h0m13-1h0m11-4h0m30 0h0m19 3h0m3 0h0m9 0h0m4 1h0m0 2h0m11-1h0m19 1h0m11-6h0m39 3h0m18-2h0m13 2h0m9 2h0m1-3h0m22-1h0m18 6h0m10-4h0m3 4h0m3-1h0m19-6h0m1 6h0m2-2h0m3 1h0m1-2h0m0 1h0m18-1h0m5 3h0m21 0h0m16 1h0m1-5h0m13-1h0m16-1h0m1 2h0m42 4h0m-541 5h0m32 2h0m37 1h0m26 0h0m3-2h0m9 2h0m25-2h0m4 2h0m10-6h0m25 7h0m12-1h0m6-2h0m21 3h0m1-2h0m2-3h0m25-2h0m13 0h0m16 1h0m6 4h0m18 2h0m2 0h0m5-1h0m20-6h0m1 2h0m32 5h0m4-7h0m7 0h0m5 2h0m2 2h0m6 2h0m19-3h0m24 0h0m8 3h0m20 1h0m3 0h0m8-7h0m3 5h0m3-5h0m3 7h0m11-6h0m8 6h0m4-4h0m4 1h0m4 3h0m5-2h0m7-5h0m17 6h0m6-5h0m5 6h0m8-1h0m-561 3h0m43 4h0m35 2h0m17-7h0m8 2h0m9 2h0m0 3h0m8-3h0m5 2h0m3-2h0m21-4h0m5 4h0m5 3h0m25 0h0m3-6h0m3 1h0m13 5h0m2-6h0m6 6h0m6-2h0m6 2h0m10-4h0m26-2h0m2-1h0m14 6h0m16-3h0m16 4h0m10 0h0m8-4h0m3 2h0m2-2h0m1 2h0m13 2h0m19-6h0m16 0h0m12-1h0m9 7h0m0-5h0m26 5h0m11-4h0m38-3h0m1 6h0m35-3h0m1 3h0m1-5h0m1 5h0m10 0h0m15-3h0m9-3h0m9 6h0m1-5h0m0 3h0m-589 10h0m29-3h0m64 3h0m37 1h0m0-6h0m34 0h0m5 2h0m14-3h0m12 2h0m7 4h0m12 1h0m20-3h0m9 3h0m2-7h0m1 4h0m6-2h0m2-1h0m1 1h0m4 0h0m1-1h0m2 4h0m3 2h0m32-5h0m30 2h0m14-3h0m26-1h0m4 2h0m30 2h0m2 1h0m3-1h0m39-2h0m18 5h0m10-5h0m1 4h0m12-2h0m20-3h0m17 1h0m11-2h0m6 0h0m25 4h0m15-4h0m6 4h0m3-2h0m-527 7h0m7 4h0m14 0h0m20-3h0m22-1h0m16 6h0m7 0h0m4-6h0m8 4h0m1-4h0m28 0h0m10 3h0m19-3h0m7 0h0m5 0h0m9 0h0m1 1h0m6 1h0m10-2h0m22-1h0m1 1h0m5 0h0m7 0h0m14 2h0m1 0h0m34-2h0m52 6h0m6-3h0m9 2h0m2-2h0m3-4h0m2 6h0m5 1h0m19-5h0m4-1h0m31-1h0m25 0h0m11 4h0m1 2h0m3-2h0m1 1h0m2 1h0m38-5h0m3-1h0m1 7h0m4-3h0m1-4h0m5 0h0m14 5h0m-540 4h0m14 6h0m0-3h0m2 0h0m6 1h0m15-1h0m8-3h0m49 4h0m2-5h0m16 7h0m16-7h0m4 3h0m6 2h0m11-4h0m1 0h0m2 5h0m1-4h0m21 2h0m4-3h0m28 0h0m1 2h0m10 1h0m21 3h0m16-2h0m10-4h0m4 3h0m3 2h0m21-2h0m14 2h0m2-6h0m13 0h0m3 1h0m29 3h0m21 0h0m2 1h0m6-4h0m9 3h0m1-1h0m7-2h0m8 4h0m4-5h0m7 0h0m11 2h0m13 1h0m33-1h0m2-1h0m0 3h0m16 3h0m4-1h0m13-1h0m27-5h0m7 0h0m0 1h0m-584 7h0m37 1h0m22 6h0m13-2h0m4 1h0m9-6h0m31 1h0m1 2h0m18-2h0m2 0h0m10 2h0m25-3h0m2 4h0m3 0h0m18-1h0m6-1h0m28 1h0m20 0h0m15 1h0m8-3h0m35 4h0m18-5h0m10 5h0m1 2h0m13-6h0m4 2h0m4 4h0m5-2h0m7-1h0m12-3h0m1 6h0m5-4h0m13 3h0m7 1h0m2-2h0m2 0h0m5-1h0m0 3h0m1-5h0m1 0h0m17-2h0m2 7h0m11 0h0m10 0h0m75-5h0m33 4h0m7-6h0m12 6h0m-532 4h0m18 5h0m9-1h0m16 0h0m13-4h0m4 4h0m2-4h0m14-1h0m2 0h0m3 4h0m3-5h0m34 2h0m7 0h0m2 4h0m3 1h0m1-2h0m6 2h0m11 0h0m4-1h0m1 0h0m3 0h0m26-5h0m20 6h0m10-4h0m6-2h0m3 6h0m26-2h0m4-1h0m7 1h0m5-3h0m8 4h0m3-5h0m17 5h0m16-4h0m6-1h0m0 3h0m10-1h0m3 2h0m18-3h0m9-1h0m1 6h0m41-7h0m5 4h0m5-2h0m0 4h0m13-4h0m5 3h0m7-5h0m1 2h0m9 3h0m15-1h0m6 2h0m9-2h0m1 3h0m27-1h0m10-4h0m17 3h0m6 0h0m3-2h0m5-3h0m-542 8h0m0 4h0m26-1h0m5 3h0m23-6h0m3 0h0m12 2h0m18 2h0m22-1h0m13 2h0m15 2h0m17-2h0m8 0h0m3-5h0m21 1h0m3 4h0m8 1h0m3-1h0m14-3h0m2 2h0m5-3h0m1 1h0m0-1h0m34 4h0m22 1h0m25 0h0m9-6h0m9 5h0m6-5h0m15 4h0m2 1h0m9 1h0m1-2h0m1 3h0m4-6h0m20 6h0m22-3h0m18 0h0m3 0h0m6-1h0m8-2h0m20 4h0m7-5h0m5 4h0m2 3h0m2-2h0m14-1h0m7-1h0m1-3h0m12 1h0m13-1h0m16 2h0m-571 10h0m17 3h0m7-7h0m12 5h0m55-4h0m4-1h0m21 6h0m8-6h0m5 2h0m3 2h0m11-4h0m8 1h0m10-1h0m38 4h0m7 0h0m2-4h0m17 7h0m4-5h0m6-2h0m4 4h0m5-3h0m6-1h0m8 5h0m5 2h0m1-1h0m19 1h0m6-1h0m17 1h0m8-6h0m22 5h0m10-3h0m0 4h0m30 0h0m21-3h0m10 0h0m9-4h0m19 7h0m10-3h0m3-3h0m3 1h0m1-1h0m3 3h0m29 2h0m43-2h0m3 2h0m34 1h0m3-6h0m-584 7h0m32 1h0m7 3h0m7 0h0m28-1h0m4 2h0m7-4h0m5 1h0m1-1h0m35 1h0m24 4h0m17-2h0m21 3h0m27-4h0m10 4h0m7-7h0m12 0h0m7 4h0m32 3h0m12-2h0m15 2h0m7-1h0m10-6h0m2 0h0m8 2h0m6 3h0m13-4h0m2-1h0m7 7h0m48-4h0m15 2h0m10 1h0m16-6h0m5 3h0m20-1h0m1 1h0m26 3h0m2-5h0m19 1h0m40 5h0m4-2h0m18-2h0m-515 8h0m3 3h0m7 1h0m1-2h0m46 2h0m1-4h0m44 4h0m32-5h0m5 2h0m23 3h0m40-4h0m26 3h0m37-2h0m3 2h0m11-5h0m19 6h0m6 0h0m2-7h0m3 6h0m5-2h0m1 0h0m28-4h0m6 2h0m1 4h0m0-4h0m6-1h0m21 2h0m8 4h0m2-3h0m9 0h0m18-4h0m19 4h0m70-3h0m-544 11h0m0-3h0m1 5h0m22-5h0m27 5h0m3-5h0m36 4h0m3-2h0m3 1h0m14 3h0m44 0h0m14-3h0m6-3h0m11 3h0m44 2h0m10-3h0m12 3h0m0-4h0m22-2h0m5 1h0m4 3h0m12 1h0m7 2h0m7-6h0m5 2h0m2-3h0m3 7h0m1-4h0m2 3h0m4-4h0m12 5h0m1-6h0m6 4h0m9-1h0m12-3h0m4 3h0m15-4h0m22 5h0m9-5h0m12 5h0m1-2h0m11 4h0m0-2h0m2-2h0m10-2h0m18 2h0m25 2h0m15 0h0m45 1h0m6-6h0m-629 10h0m44 3h0m1-1h0m15 3h0m30-1h0m9-3h0m11 3h0m3-2h0m8-4h0m10 0h0m3 7h0m23-7h0m11 7h0m19 0h0m4-1h0m18 0h0m20-4h0m13 4h0m7-3h0m1-3h0m16 7h0m9-7h0m2 7h0m5-3h0m12 1h0m32-3h0m11 0h0m13-1h0m28 5h0m4 1h0m28-4h0m2 4h0m2-3h0m1-3h0m22 0h0m10-1h0m8 4h0m26 2h0m3 0h0m13 0h0m7-3h0m20 1h0m6 1h0m0-4h0m8-1h0m10 3h0m7-2h0m2-1h0m21 2h0m53-1h0m-551 14h0m9-6h0m5 1h0m11-2h0m11 2h0m1 0h0m0 4h0m9-6h0m3 6h0m0-6h0m31 3h0m7 3h0m3-4h0m9 4h0m67-1h0m6 0h0m4-4h0m21 0h0m2 5h0m1 1h0m8-3h0m8 0h0m1-4h0m2 4h0m7 0h0m12-3h0m19 5h0m34-2h0m7 0h0m8-3h0m4 0h0m6 6h0m11-3h0m2 2h0m7-2h0m7-3h0m16-1h0m21 0h0m10 6h0m2-1h0m18-5h0m2 6h0m4-2h0m3 0h0m1 2h0m11 1h0m32 0h0m2-5h0m6 1h0m17 0h0m19-1h0m1 5h0m15-4h0m1 0h0m-518 10h0m7 1h0m19-1h0m11-2h0m6 2h0m16 1h0m1-1h0m1-3h0m9 4h0m27-5h0m21 3h0m6-4h0m33 0h0m5 1h0m2 3h0m14 1h0m5-4h0m10 6h0m1-1h0m4 0h0m10-2h0m3 3h0m7-3h0m9 0h0m3-2h0m10-2h0m12 5h0m9-4h0m29 4h0m15-2h0m4 2h0m4 0h0m4-5h0m14 6h0m7-3h0m1 1h0m3-2h0m4 2h0m34 3h0m9-4h0m10 0h0m5-1h0m0-2h0m31 4h0m1 1h0m7-5h0m7 4h0m1 1h0m13 2h0m3 0h0m1-2h0m9-1h0m16-3h0m1 1h0m3-2h0m38 0h0m-513 14h0m13-1h0m3-5h0m12 7h0m3-5h0m4 0h0m3 3h0m9 1h0m1-1h0m5-2h0m8 4h0m21-1h0m11-6h0m4 7h0m7-6h0m2 4h0m5-1h0m3 1h0m5 2h0m9-4h0m6 4h0m14-6h0m6-1h0m2 7h0m8-5h0m8 4h0m23-3h0m14-1h0m6 1h0m5-2h0m17 1h0m14 4h0m6-5h0m17 6h0m17-7h0m14 5h0m6-2h0m2-1h0m1 1h0m7 2h0m4 2h0m1-2h0m30 0h0m18-3h0m15 5h0m3-1h0m15-3h0m4-1h0m4 1h0m4-1h0m7 1h0m9-2h0m-481 10h0m23 2h0m24-2h0m0 3h0m1-2h0m0-4h0m11 4h0m12-1h0m28-1h0m47 4h0m10-6h0m11 6h0m1-1h0m17-4h0m11-1h0m6 3h0m10-2h0m4 6h0m4-6h0m11 5h0m6-3h0m1 1h0m8 3h0m4-3h0m2-4h0m4 6h0m4-1h0m16-3h0m2 1h0m11-1h0m2 4h0m15 1h0m11-6h0m6 1h0m2 1h0m19 3h0m7-2h0m11-3h0m0 5h0m7 0h0m12 0h0m7-4h0m14 1h0m18 1h0m9-2h0m11 3h0m29-1h0m15-1h0m1-1h0m12 2h0m4 0h0m26 2h0m19-4h0m12 3h0m-602 4h0m86 0h0m7 4h0m9-4h0m6 0h0m18 3h0m6-2h0m3-1h0m6 5h0m11 0h0m21-4h0m2 3h0m3-3h0m8-2h0m11 4h0m5-3h0m9 4h0m4-3h0m1 0h0m1 5h0m6-6h0m1 1h0m4-2h0m18 3h0m12 4h0m4 0h0m0-4h0m5-2h0m15 2h0m4-2h0m2 2h0m40-1h0m27 3h0m6 2h0m12-6h0m12 2h0m2 4h0m5-5h0m14 3h0m5-2h0m47 2h0m6 2h0m1-2h0m49-1h0m11 2h0m17-4h0m14 2h0m0 2h0m44-3h0m-515 7h0m13 2h0m14-3h0m1 2h0m13 0h0m12 4h0m2 0h0m0-5h0m1 1h0m31 4h0m29-2h0m10-4h0m6 1h0m11 3h0m6-5h0m8 6h0m7-6h0m11 4h0m4 3h0m40-5h0m20 4h0m23 1h0m0-6h0m5 2h0m28 2h0m23-1h0m1 0h0m8-3h0m6 4h0m9 0h0m18-3h0m2 4h0m19-5h0m2 4h0m31-1h0m14 2h0m2-2h0m51 3h0m12-6h0m4 2h0m13-1h0m-587 10h0m2-4h0m35 7h0m29-2h0m10 2h0m28 0h0m21 0h0m15 0h0m1 0h0m12-3h0m36-4h0m2 0h0m8 1h0m13 6h0m17-5h0m11-2h0m2 6h0m3-2h0m1-4h0m11 2h0m17 3h0m10-1h0m3-3h0m13 6h0m35-5h0m11 1h0m1 4h0m4-5h0m1 5h0m20 0h0m2-1h0m13 0h0m4 0h0m1 0h0m16-4h0m3 5h0m25-7h0m4 7h0m1-6h0m10 5h0m1 1h0m2 0h0m3 0h0m10-3h0m5-1h0m19 2h0m1-5h0m2 7h0m6-5h0m2 1h0m0 4h0m7-5h0m4-1h0m7 5h0m0-5h0m48 5h0m-565 5h0m88-1h0m25-2h0m19 5h0m18-4h0m8 4h0m18-3h0m31-1h0m3 3h0m37 2h0m26-3h0m41-3h0m0 7h0m11 0h0m2-1h0m14-6h0m2 5h0m3 0h0m1-1h0m11-2h0m0 2h0m8 1h0m4-5h0m5 2h0m26-1h0m16 0h0m22 1h0m8 5h0m37 0h0m0-6h0m13 4h0m1-2h0m0 2h0m11 1h0m1-6h0m9 3h0m7-3h0m4 7h0m23-4h0m9 2h0m28 0h0m3-1h0m-527 8h0m3 1h0m18-2h0m2 1h0m20 3h0m7 0h0m11-7h0m4 0h0m17 5h0m2-3h0m8 3h0m12-1h0m8 3h0m4-6h0m4-1h0m3 7h0m12 0h0m46-4h0m22 0h0m8 4h0m12-4h0m9-1h0m20-2h0m2 7h0m5-6h0m23 0h0m6 3h0m3-2h0m6 0h0m8 4h0m1-1h0m6 1h0m4-2h0m25 1h0m9 1h0m0-3h0m1 0h0m4 0h0m16-2h0m18-1h0m17 5h0m4-3h0m0 2h0m10-4h0m3 5h0m1-3h0m7 4h0m3-2h0m5-4h0m10 2h0m2 0h0m15 3h0m1-3h0m1-1h0m0 4h0m1 0h0m6 0h0m2-4h0m10 1h0m13 0h0m27-2h0m-572 13h0m50 2h0m23-1h0m13 0h0m1-3h0m30 4h0m5 0h0m4-1h0m17-6h0m2 7h0m4-1h0m18-3h0m7 3h0m2-1h0m5 2h0m5 0h0m13-7h0m8 4h0m9 0h0m13 0h0m3 0h0m3 1h0m11-4h0m2 2h0m2 4h0m5 0h0m2 0h0m10-6h0m1 3h0m45 0h0m0 3h0m6-6h0m2 0h0m2-1h0m17 7h0m2-5h0m7 2h0m9-2h0m36-2h0m2 1h0m7 0h0m15 1h0m8 1h0m4 2h0m11 2h0m0-7h0m16 3h0m6 3h0m20-5h0m12 3h0m2 2h0m1-4h0m7 2h0m3-1h0m0 4h0m1-7h0m13 5h0m23 1h0m-558 8h0m45 0h0m5-6h0m17 3h0m46 0h0m13 4h0m27-6h0m16 6h0m14-1h0m6-4h0m9 0h0m24-1h0m16 3h0m12 1h0m2-1h0m15 0h0m1-4h0m16 3h0m5-1h0m2 1h0m5 1h0m28-1h0m1-3h0m10 3h0m7 0h0m19-3h0m16 7h0m25-6h0m3 2h0m1-3h0m7 0h0m3 6h0m3 0h0m3 1h0m6-7h0m17 5h0m2-4h0m14 3h0m28-1h0m10-1h0m0 1h0m2 2h0m2-2h0m2 0h0m8 0h0m5-2h0m3 2h0m55 4h0m15-2h0m-587 8h0m49 0h0m10-5h0m2 0h0m51 0h0m14 3h0m10 4h0m26-6h0m10 4h0m15 0h0m12-1h0m6 2h0m6 0h0m9-6h0m4 2h0m3 3h0m4 2h0m6 0h0m18-2h0m3 1h0m5-5h0m1 0h0m40 4h0m20 2h0m7-1h0m2 0h0m10-5h0m0 5h0m3-5h0m4 5h0m8-6h0m10 7h0m9-5h0m12 2h0m15 2h0m9-1h0m8-1h0m2-2h0m1-1h0m11 2h0m8 1h0m14-4h0m5 7h0m1-3h0m0 1h0m4-1h0m11 3h0m4-6h0m13-1h0m24 6h0m4-4h0m22 5h0m-535 1h0m12 1h0m33 0h0m4 6h0m24-3h0m6 1h0m33-3h0m11-1h0m10 3h0m41 2h0m10 0h0m32 1h0m15-3h0m10-1h0m7-1h0m2 1h0m12 0h0m16 4h0m7-2h0m2-5h0m12 2h0m18-2h0m16 1h0m1-1h0m3 7h0m2-1h0m5-4h0m1 0h0m2-2h0m4 6h0m1 0h0m2-5h0m23 2h0m14 2h0m3-1h0m35-2h0m6 1h0m13 3h0m27-3h0m13-1h0m22 2h0m41-1h0m4 3h0m12-5h0m2 2h0m2-1h0m3 1h0m-603 12h0m48 0h0m22-3h0m6-4h0m2 4h0m9-4h0m2 5h0m2-2h0m11-2h0m28 6h0m1-5h0m18 5h0m5-5h0m1-2h0m6 5h0m13 2h0m3-1h0m25 0h0m26 0h0m15 1h0m12-6h0m11-1h0m1 1h0m0 6h0m1-1h0m20-5h0m9 1h0m16 4h0m0-3h0m14-2h0m14 2h0m2 3h0m2-5h0m9-1h0m4 5h0m5-3h0m12-2h0m2 3h0m22 3h0m81-6h0m17 4h0m14 1h0m8-2h0m2-1h0m24-1h0m7 2h0m9-3h0m13 2h0m2 1h0m27-1h0m-612 11h0m54 0h0m34 1h0m5-4h0m4 3h0m4-4h0m5 3h0m0 3h0m74-2h0m3 0h0m10 0h0m7-4h0m11 2h0m9 3h0m10-1h0m12-1h0m14-3h0m7 1h0m1 0h0m10 2h0m12-2h0m18 1h0m2 4h0m4-1h0m13-1h0m16-4h0m2 3h0m5 1h0m9 0h0m20-2h0m1 2h0m1 1h0m2-1h0m2 0h0m3-4h0m8 5h0m8-2h0m16 2h0m25-3h0m1-1h0m13 5h0m18-7h0m21 6h0m2-4h0m15 5h0m6-1h0m6 0h0m3 1h0m1-5h0m0 3h0m6-4h0m10 2h0m1 2h0m12 0h0m1-5h0m6 5h0m8-4h0m5 2h0m12-2h0m4 2h0m10 0h0m4 0h0m8 2h0m2-4h0m-645 10h0m30 2h0m102 2h0m14-5h0m0 4h0m1 0h0m7-5h0m25 2h0m1 0h0m1 1h0m7-4h0m3 0h0m4 7h0m17-1h0m24-4h0m2-2h0m3 4h0m5 1h0m15-3h0m6 5h0m8-5h0m6 2h0m2 3h0m22-4h0m4 4h0m22 0h0m21-1h0m11 1h0m6-5h0m13 2h0m4 3h0m16-2h0m7-2h0m10 1h0m9 2h0m3 1h0m6-4h0m2 0h0m13-2h0m5 1h0m4 4h0m0-6h0m6 5h0m11-2h0m14-1h0m2 3h0m11 0h0m3-3h0m0 3h0m1-4h0m23-1h0m1 2h0m19 1h0m10-2h0m1-1h0m9 2h0m4-1h0m13 2h0m1-2h0m11 1h0m1 5h0m8-4h0m15-3h0m0 2h0m6-2h0m2 6h0m-547 8h0m2-5h0m29 0h0m13 4h0m7-4h0m11-1h0m29 6h0m10 1h0m7-5h0m0 1h0m4-1h0m2-1h0m2 3h0m10-4h0m3 1h0m14 1h0m7 5h0m5-3h0m23 3h0m4-1h0m3 0h0m7-4h0m8 5h0m4-3h0m3-1h0m23 2h0m42-4h0m12 6h0m1-7h0m9 5h0m2 0h0m2-3h0m2 5h0m7-5h0m6 1h0m15 0h0m0 1h0m8 1h0m3 1h0m5-6h0m4 3h0m17 4h0m2-6h0m4 0h0m1 3h0m5-3h0m10 4h0m1-5h0m27 2h0m10 4h0m7-6h0m4 5h0m3-3h0m23-1h0m8 1h0m2-1h0m25 1h0m10-2h0m2 2h0m43 4h0m9-3h0m0 4h0m0-1h0m-539 3h0m1-1h0m4 5h0m3-1h0m8-2h0m4 2h0m1-4h0m1 4h0m10 2h0m4-3h0m2-1h0m6 3h0m8-4h0m7 3h0m4 3h0m2-7h0m24 0h0m3 3h0m1-2h0m14 5h0m14-5h0m37 3h0m24-3h0m5 5h0m12-1h0m25-5h0m11 6h0m7-1h0m24-4h0m6-1h0m9 7h0m5-6h0m24 4h0m6-5h0m10 5h0m25 1h0m9 0h0m7-4h0m0 4h0m10-6h0m20 2h0m4 4h0m7-1h0m14-3h0m5 3h0m6 0h0m17-2h0m3-2h0m10 1h0m48 3h0m10 1h0m5-3h0m-604 12h0m12-6h0m0 2h0m44 1h0m1 1h0m10-3h0m4 3h0m2-1h0m4-2h0m19 2h0m8-4h0m16 1h0m16 6h0m14 0h0m9-6h0m2 0h0m9 3h0m7-3h0m2 5h0m16-6h0m19 2h0m16-1h0m2 6h0m17-1h0m17-1h0m11-4h0m2 3h0m16 0h0m1 3h0m8-1h0m1-4h0m4 2h0m6-3h0m9 5h0m23 1h0m9-5h0m6 4h0m23-1h0m18-2h0m8 0h0m1 0h0m7 1h0m1 2h0m4-6h0m1 3h0m5 1h0m8-4h0m1 1h0m2 0h0m0-1h0m4 4h0m14-2h0m10-1h0m16 5h0m9-4h0m4-2h0m8 2h0m48-1h0m16 0h0m6 6h0m5-2h0m2 1h0m7-3h0m1-3h0m6 6h0m13-2h0m4 2h0m-550 5h0m22-1h0m4-1h0m2 0h0m8 4h0m6-2h0m2-2h0m2 5h0m17-1h0m23 0h0m17 2h0m6-1h0m5-3h0m28 2h0m12 1h0m3 1h0m2-1h0m0-4h0m11-1h0m10 2h0m1 0h0m5 3h0m8-2h0m11-4h0m0 7h0m40-3h0m25-2h0m25 3h0m1 0h0m3 0h0m1 1h0m42-3h0m13-3h0m13 0h0m9 7h0m4-4h0m20 4h0m1-3h0m7 0h0m0-1h0m5 2h0m2-5h0m1 3h0m0 2h0m1-4h0m7 5h0m5-6h0m8 0h0m3 5h0m2 0h0m3-3h0m1 5h0m1-7h0m5 3h0m3 4h0m2 0h0m34-7h0m7 5h0m4-4h0m10 4h0m7-4h0m0 5h0m15-5h0m14 2h0m-529 11h0m5-2h0m1-4h0m1 5h0m5-2h0m2 2h0m19-2h0m4 3h0m2-6h0m1 2h0m4-2h0m2 7h0m8 0h0m3 0h0m3-6h0m2 0h0m6 4h0m18 0h0m10-5h0m17 3h0m8 2h0m27-3h0m7 1h0m8 3h0m1-4h0m13 5h0m14-7h0m11 3h0m34-2h0m2 3h0m14-2h0m2 5h0m2 0h0m8-7h0m2 7h0m2-4h0m17 4h0m14-7h0m5 2h0m16 2h0m13-3h0m2 0h0m3 6h0m14-2h0m13-3h0m1 0h0m8 1h0m10 0h0m22 2h0m1 2h0m17-2h0m5 1h0m68-4h0m1 5h0m3-6h0m4 2h0m-559 5h0m68 0h0m1 2h0m15-2h0m8 2h0m8-1h0m19 1h0m78 0h0m0 1h0m22-3h0m4 4h0m22 2h0m16 0h0m44-1h0m0-3h0m22 3h0m5-4h0m5 4h0m2-5h0m5 4h0m11-1h0m2-1h0m7 3h0m5 0h0m8 2h0m1-1h0m13-3h0m3-2h0m2 4h0m16-4h0m9 0h0m6-1h0m2 6h0m0-1h0m3 0h0m15-1h0m0-1h0m38-2h0m2 6h0m0-5h0m18 3h0m40-1h0m5 2h0m17-4h0m16-2h0m4 0h0m-548 12h0m12-4h0m8 7h0m6 0h0m0-3h0m7-1h0m31 1h0m20 0h0m12 2h0m13-4h0m9 0h0m30 0h0m2-1h0m34 6h0m0-1h0m1-6h0m5 1h0m1-1h0m5 6h0m6-2h0m2 0h0m39 3h0m1-1h0m6 0h0m10-1h0m5 2h0m20-6h0m23 5h0m6-5h0m6 5h0m4-2h0m11-4h0m1 3h0m1 2h0m52-3h0m10 1h0m4-2h0m22-1h0m8 0h0m3 0h0m5 4h0m7 3h0m2-1h0m2-2h0m8 2h0m21-3h0m3 3h0m1 0h0m4 1h0m7-1h0m4-6h0m3 1h0m1 3h0m4 3h0m1-6h0m13 5h0m7-6h0m2 6h0m7-6h0m-559 15h0m55-6h0m26 0h0m7 4h0m13 2h0m13-4h0m1-1h0m2-2h0m9 6h0m0-3h0m4 4h0m27-4h0m38 1h0m1-4h0m11 2h0m13 4h0m8 0h0m14 0h0m7-1h0m17 2h0m17-6h0m17-1h0m3 6h0m16-4h0m11 5h0m1-2h0m2-1h0m7 0h0m8-4h0m3 3h0m13-1h0m16 4h0m1-6h0m0 6h0m20-6h0m1 5h0m7-3h0m4 4h0m0-6h0m9 3h0m0-1h0m4 2h0m1 0h0m6-3h0m1 6h0m1-5h0m11 3h0m4-4h0m19-1h0m31 3h0m1-2h0m7 5h0m3-2h0m25-1h0m10 3h0m4 0h0m5-6h0m-560 12h0m36 1h0m27-2h0m19 2h0m35 2h0m3-2h0m3-4h0m2 5h0m10-2h0m13-3h0m17 2h0m1 0h0m25-1h0m2 2h0m8-3h0m3 5h0m1-4h0m29 4h0m11 1h0m2-2h0m23 2h0m17-5h0m2 4h0m2 0h0m5 1h0m10-2h0m13-2h0m5-2h0m18 2h0m10-3h0m7 3h0m11-2h0m11 3h0m14-2h0m6-2h0m3 5h0m12-3h0m2 2h0m12 2h0m5-5h0m5 5h0m13-5h0m1 2h0m4 3h0m7-5h0m2 5h0m21 0h0m17-1h0m7-3h0m11 3h0m9-5h0m4 4h0m26-3h0m0 2h0m0 1h0m10-1h0m-539 10h0m3 0h0m37-1h0m53-4h0m0 2h0m3 4h0m1-5h0m18 2h0m45 0h0m7 2h0m10-3h0m1-1h0m15 0h0m3 3h0m8-4h0m18 0h0m38 1h0m15 4h0m25-3h0m1 0h0m21 0h0m21 1h0m6-3h0m5 7h0m3 0h0m7-2h0m4-5h0m23 5h0m30 1h0m4-1h0m17 0h0m8 2h0m19-6h0m8 4h0m2-4h0m13-1h0m3 3h0m4-2h0m4 6h0m5 0h0m0-7h0m7 5h0m16 0h0m-569 4h0m14 2h0m20-3h0m67 0h0m7 3h0m31-1h0m9-2h0m3 3h0m3-2h0m5 2h0m3 2h0m2 2h0m4 0h0m18-4h0m5 2h0m4-2h0m14 1h0m6 3h0m4-2h0m0-5h0m4 2h0m2 0h0m5 2h0m8 1h0m12-4h0m4 4h0m11 1h0m7-1h0m2 1h0m32 0h0m1 1h0m5-1h0m26-2h0m9-3h0m45 1h0m2 4h0m11 1h0m36-1h0m7-3h0m6 4h0m8-5h0m0 5h0m25-2h0m2 1h0m17-5h0m2 4h0m10-1h0m8-4h0m17 6h0m11-5h0m21 5h0m-487 4h0m15-2h0m3 1h0m11 5h0m1-5h0m2-1h0m4 3h0m13-2h0m3 2h0m3 4h0m4-1h0m11 1h0m0-3h0m1-4h0m24 5h0m9-3h0m40-1h0m13 6h0m7 0h0m1-7h0m1 2h0m14 0h0m8-2h0m2 5h0m2 0h0m13-4h0m2 5h0m8-3h0m1-1h0m5 5h0m9 0h0m1-2h0m9-4h0m17 0h0m9 1h0m0-1h0m47 5h0m8-4h0m17 5h0m1-1h0m15-3h0m10-2h0m5 3h0m4 3h0m21-5h0m5 3h0m14 2h0m2 0h0m3 0h0m4-2h0m4-5h0m12 7h0m1-1h0m13-5h0m2 3h0m26-1h0m10 4h0m-561 6h0m26-4h0m59 3h0m18 2h0m3 0h0m13-5h0m12 2h0m9 3h0m19-1h0m8-4h0m7 2h0m7 2h0m30-4h0m5-1h0m12 6h0m11-6h0m14 3h0m13-3h0m10 2h0m13-1h0m18 3h0m4 3h0m2-3h0m22-2h0m4 1h0m52-2h0m10 0h0m40 2h0m4-1h0m2 1h0m7 3h0m14 1h0m22-5h0m18 0h0m20-1h0m7 2h0m1-3h0m1 4h0m14-4h0m7 7h0m-510 4h0m21 3h0m2 0h0m22-2h0m7 0h0m13-4h0m17 1h0m2 2h0m1-1h0m6-2h0m3 7h0m10-6h0m2-1h0m6 4h0m4-3h0m2 1h0m22-1h0m11 1h0m7 5h0m10-5h0m6 5h0m37 0h0m8-3h0m1 1h0m16 0h0m17-2h0m8 0h0m5 2h0m6 0h0m7-3h0m4-2h0m8 3h0m2-3h0m25 6h0m23-6h0m41 1h0m4-1h0m2 7h0m15-4h0m4 2h0m2-2h0m12-1h0m5 2h0m25-4h0m4 4h0m11 2h0m11-5h0m23 0h0m1 0h0m4 1h0m3 0h0m-577 13h0m116-7h0m3 2h0m0 2h0m2 1h0m14-4h0m20 0h0m16 1h0m20 1h0m5 1h0m22 2h0m7-1h0m0-2h0m1-3h0m5 7h0m7-5h0m33 0h0m17 2h0m4-4h0m8 1h0m9 0h0m1 4h0m2-3h0m0-1h0m6 1h0m9 1h0m6-2h0m4 2h0m4 2h0m1 1h0m14-2h0m3-1h0m0-3h0m14 4h0m10 2h0m3-6h0m6 0h0m10 4h0m14-2h0m3-2h0m6 6h0m14-1h0m16-2h0m6 2h0m15-5h0m2 6h0m2-6h0m12 6h0m1-5h0m4 1h0m10 0h0m6 3h0m4 0h0m4 2h0m8-5h0m2 1h0m26-1h0m6 3h0m1 2h0m19 0h0m-529 5h0m13-4h0m7 1h0m106 5h0m31-4h0m2 4h0m8-4h0m11-1h0m7 2h0m5 4h0m7-1h0m28-5h0m4 6h0m22-5h0m5 1h0m3-3h0m6 7h0m7-7h0m2 1h0m10 5h0m16-4h0m11 5h0m1-1h0m16-3h0m5 2h0m12 2h0m25-4h0m6 4h0m2 0h0m57-5h0m2 1h0m1 4h0m4-2h0m7-2h0m4 4h0m4-7h0m6 0h0m4 2h0m11-2h0m1 1h0m1 6h0m3-5h0m18 4h0m14-3h0m2 3h0m0-3h0m2 3h0m0 1h0m5-2h0m-517 9h0m31-4h0m2-1h0m84 4h0m51 1h0m1-1h0m16-1h0m14-4h0m5 3h0m8-1h0m2 1h0m2-2h0m15-1h0m8 2h0m11 1h0m15 1h0m15 0h0m30 1h0m10-1h0m5-4h0m0 3h0m11-2h0m22-1h0m41 3h0m9-1h0m17-1h0m10 0h0m1 3h0m2-1h0m4-1h0m4-1h0m0-1h0m4 1h0m12 4h0m16 2h0m2-7h0m1 5h0m2 0h0m12-4h0m-527 13h0m65-1h0m1 1h0m31-6h0m3 1h0m12 6h0m56-1h0m10 1h0m10-6h0m7 3h0m1 3h0m1-5h0m0 2h0m10 0h0m1 0h0m9 1h0m10 1h0m9 1h0m45-1h0m1-3h0m5-2h0m2 2h0m11 1h0m10-3h0m18 4h0m1-4h0m10 6h0m24-4h0m4-2h0m11 0h0m10 5h0m2-5h0m5 3h0m19 2h0m11-5h0m7 3h0m3-4h0m44 3h0m0 4h0m2-3h0m24 1h0m5-4h0m14 0h0m1 3h0m3-4h0m20 2h0m4 3h0m-527 8h0m9 0h0m19-5h0m28 5h0m3 2h0m3-3h0m30 3h0m7-4h0m13 2h0m8-4h0m4 1h0m1 5h0m9 0h0m0-7h0m18 6h0m12-2h0m2-2h0m18 4h0m1-5h0m13 3h0m14-4h0m2 4h0m6 3h0m1-4h0m12-3h0m2 7h0m1-2h0m2 2h0m12-3h0m20-4h0m3 6h0m30-1h0m2-1h0m17 3h0m5-7h0m22 0h0m17 4h0m6-3h0m3 0h0m18 4h0m4 1h0m1-5h0m9 5h0m10 1h0m11-4h0m20-3h0m2 7h0m14-6h0m3 4h0m8-1h0m6-2h0m5 3h0m8-3h0m29 3h0m-552 3h0m18 0h0m37 6h0m10-5h0m24 1h0m10-2h0m25 5h0m4-3h0m4 4h0m1-5h0m20 6h0m44-4h0m6 0h0m10-3h0m1 1h0m8-1h0m1 6h0m1-3h0m2 2h0m7 0h0m22 2h0m1-7h0m10 2h0m2 1h0m16 4h0m13-3h0m28 3h0m5-3h0m11 0h0m2 3h0m2-6h0m1 6h0m18-4h0m4-3h0m5 0h0m1 6h0m40-5h0m2 1h0m3 3h0m13 1h0m3-3h0m20-2h0m9 4h0m0-3h0m11 2h0m6 0h0m2-4h0m2 1h0m3 6h0m0-7h0m3 7h0m5-5h0m1 5h0m5-1h0m2-3h0m4-3h0m3 2h0m3 2h0m1-4h0m19 1h0m9 1h0m14 2h0m-511 11h0m23-3h0m7-3h0m7 3h0m4 1h0m7-3h0m10 2h0m4-3h0m2 5h0m14-4h0m3 3h0m3 2h0m6-7h0m26 3h0m6 3h0m54 0h0m10-4h0m7 1h0m13 3h0m23-2h0m5-3h0m6 3h0m11-3h0m10 4h0m36-5h0m15 2h0m1 5h0m1-4h0m11-2h0m1 1h0m7 1h0m13 4h0m1-6h0m8 2h0m2 4h0m8-4h0m3-2h0m10 3h0m4-2h0m17 5h0m58-4h0m2 0h0m26 0h0m6-1h0m10 2h0m8 2h0m4-4h0m-625 6h0m125 3h0m50-3h0m4 2h0m1 3h0m16 0h0m3-1h0m4 3h0m4 0h0m61-6h0m9 1h0m10-2h0m67 5h0m2-1h0m14 0h0m20-2h0m5 1h0m3-1h0m15 0h0m10 4h0m18-5h0m3 2h0m3 1h0m4 2h0m0-3h0m4 1h0m22-3h0m11 4h0m13-5h0m19 5h0m3-5h0m16 5h0m1-1h0m22 3h0m11-3h0m10-4h0m10 1h0m16 4h0m-451 4h0m14 6h0m17-1h0m2-4h0m6 4h0m0-1h0m9-4h0m1 6h0m2-2h0m11-4h0m82 5h0m2-4h0m4 2h0m2-2h0m2 4h0m8 0h0m6 1h0m2-4h0m22-2h0m43 2h0m14-1h0m21 4h0m13-4h0m7-2h0m44 1h0m4 5h0m7 0h0m24 0h0m13 0h0m6-5h0m19 0h0m32 2h0m11-2h0m-434 10h0m6 1h0m17-1h0m10 1h0m0 3h0m1-6h0m6 4h0m6-4h0m19 4h0m1 0h0m11-2h0m31-3h0m36 1h0m3 2h0m2 1h0m5-1h0m0-2h0m4 1h0m29 4h0m22-1h0m29-2h0m10-1h0m36 0h0m1-1h0m18-1h0m1 5h0m5-2h0m8 0h0m8 4h0m6-3h0m6-3h0m1 4h0m7 1h0m3-4h0m5 0h0m12 1h0m1 2h0m6-5h0m14 6h0m8-5h0m2 2h0m3-3h0m2 0h0m1 6h0m13-2h0m12-4h0m-536 13h0m40-2h0m15 4h0m15-7h0m18 1h0m28 6h0m4-1h0m6-3h0m7-1h0m18 1h0m5 4h0m1 0h0m2-5h0m16 4h0m0-1h0m17 2h0m17-5h0m2-1h0m20 0h0m5 5h0m16-6h0m16 6h0m15-6h0m30 6h0m0-4h0m5-1h0m5-1h0m22 3h0m12 0h0m2-2h0m44 6h0m6-6h0m0 4h0m15-1h0m12 2h0m32 0h0m0-5h0m10 5h0m1 1h0m2 0h0m10-4h0m5-2h0m11 4h0m3-5h0m0 3h0m3 1h0m43 1h0m-638 8h0m173 2h0m18-4h0m3 1h0m4-2h0m9 3h0m4-3h0m4 1h0m3-3h0m28 1h0m37 3h0m23-4h0m4 0h0m13 0h0m7 5h0m8-4h0m1 3h0m9-2h0m2-1h0m6 3h0m2-2h0m11 3h0m0 1h0m13 0h0m15-5h0m20 5h0m12-5h0m4 0h0m0 2h0m4-2h0m8 2h0m15 1h0m12 3h0m6 0h0m24-7h0m1 5h0m13 2h0m1-1h0m9-6h0m20 5h0m3 1h0m32-3h0m5-1h0m1-2h0m2 6h0m7-3h0m5-3h0m15 5h0m10-5h0m4 1h0m4 6h0m-553 2h0m63 0h0m33 5h0m5-5h0m7 1h0m5 5h0m10-6h0m21 5h0m16-5h0m39 5h0m0-1h0m62-2h0m0-2h0m12 5h0m13-4h0m12 0h0m15 5h0m5-2h0m3-3h0m2 4h0m5-2h0m11-2h0m19-2h0m3 2h0m1 3h0m2 2h0m14-2h0m10 1h0m28-2h0m1-4h0m10 6h0m6-4h0m2 2h0m5-3h0m10 1h0m1 1h0m0 4h0m29-3h0m11-3h0m31 5h0m1-1h0m1-4h0m5-1h0m3 0h0m2 2h0m2-1h0m8 5h0m2 0h0m-484 7h0m8 1h0m16-2h0m5 1h0m15-3h0m15 1h0m25 3h0m1-5h0m44 4h0m23-4h0m16-1h0m23 6h0m12-4h0m8 3h0m11-4h0m10 3h0m6-2h0m75 1h0m13 1h0m13 1h0m19 1h0m4-5h0m14-1h0m8 2h0m28 5h0m41-5h0m13 1h0m2 2h0m2-5h0m-449 11h0m29-2h0m3 3h0m1-1h0m7 0h0m45-2h0m16 3h0m11-1h0m1-1h0m6 1h0m5 2h0m4-1h0m30-3h0m5-1h0m3 6h0m5-2h0m10-4h0m13 0h0m2 3h0m4-2h0m5-1h0m1 4h0m0 2h0m5-2h0m10 0h0m3 1h0m1-1h0m3-1h0m2 4h0m2-5h0m2 0h0m16-2h0m30 3h0m8 4h0m1-6h0m7 5h0m4-5h0m7 2h0m2 3h0m3-3h0m2-3h0m11 7h0m5-6h0m2 0h0m1-1h0m10 2h0m3-2h0m0 5h0m17-3h0m30 1h0m5-3h0m33 3h0m3-1h0m21-2h0m13 0h0m2 1h0m-492 10h0m115-2h0m12-1h0m5 3h0m37 0h0m21-2h0m18 2h0m13-3h0m6 0h0m84 0h0m15 0h0m9 0h0m3 3h0m1-2h0m6 1h0m44-1h0m28 0h0m0 1h0"/></defs>
<g filter="url(#bl)"><use href="#pa_nps" transform="scale(.5)" fill="none" stroke-linecap="round" stroke="#0400fc" stroke-width="8.4" stroke-opacity=".6"/><use href="#pb_nps" transform="scale(.5)" fill="none" stroke-linecap="round" stroke="#0400f0" stroke-width="8.4" stroke-opacity=".45"/></g>
<use href="#pb_nps" transform="scale(.5)" fill="none" stroke-linecap="round" stroke="#0a0af0" stroke-width="5.0" stroke-opacity=".5"/>
<use href="#pa_nps" transform="scale(.5)" fill="none" stroke-linecap="round" stroke="#0c0cff" stroke-width="5.0" stroke-opacity=".9"/>
<g filter="url(#bl2)"><path fill="none" stroke-linecap="round" stroke="#2a8a1a" stroke-width="5" stroke-opacity="0.45" d="M87.4 896.9h0M121.0 901.7h0M144.0 905.5h0M161.7 907.9h0M135.3 929.0h0M106.6 940.0h0M75.5 985.5h0M99.4 989.4h0M113.8 971.2h0M54.9 844.2h0M68.3 865.8h0M89.8 865.8h0M183.2 985.5h0"/></g>
<path fill="none" stroke-linecap="round" stroke="#c0e628" stroke-width="2.4" stroke-opacity="1.0" d="M248.4 836.1h0M203.8 873.0h0M245.5 865.8h0M242.1 893.1h0M262.3 899.3h0M295.8 932.8h0M229.7 936.2h0M173.7 1041.6h0M243.1 929.0h0M135.3 929.0h0M75.5 985.5h0M230.2 839.5h0"/><path fill="none" stroke-linecap="round" stroke="#98dc28" stroke-width="2.1" stroke-opacity="1.0" d="M228.7 847.6h0M223.9 873.9h0M135.8 878.7h0M238.3 904.1h0M195.2 921.8h0M288.6 936.2h0M313.5 1022.4h0M212.0 953.4h0M223.0 908.9h0M106.6 940.0h0M121.0 901.7h0"/>
</g>
<rect x="352" y="817.9" width="327.3" height="244.6" fill="#000"/>
<g clip-path="url(#c_ilnps)">
<defs><path id="pa_ilnps" d="M1254 1638h0m52 0h0m14-2h0m24 3h0m8-3h0m-639 9h0m4-2h0m25 4h0m28-2h0m39-3h0m33 5h0m-120 2h0m18-1h0m3 3h0m39-3h0m9 1h0m1 2h0m-48 10h0m11 1h0m1-5h0m1 0h0m31 3h0m419 1h0m105 2h0m25-3h0m-626 7h0m4 1h0m26 1h0m516-3h0m69-2h0m16 4h0m-632 4h0m0 3h0m24 0h0m12 4h0m11 0h0m54-1h0m17-6h0m10 6h0m455-2h0m28 1h0m11-1h0m-628 10h0m1 0h0m80-1h0m25-4h0m9 2h0m15 1h0m5-4h0m1 6h0m422-1h0m29 1h0m-566 9h0m24-1h0m20-6h0m14 3h0m474-3h0m7 6h0m38 0h0m2-2h0m16 2h0m-607 3h0m25-1h0m4 0h0m10 5h0m2-3h0m15 5h0m9-1h0m10 0h0m34-3h0m8 2h0m220-1h0m185 2h0m53-6h0m2 4h0m9 0h0m0-4h0m13 2h0m-589 13h0m31-3h0m31-3h0m6 5h0m25 1h0m8-5h0m13 5h0m360-7h0m50 0h0m73 1h0m1 0h0m-592 7h0m17 5h0m5 2h0m2-4h0m4-1h0m28-2h0m13 7h0m8-3h0m5 3h0m6-1h0m424-1h0m-515 10h0m11-1h0m20 0h0m19-4h0m1 4h0m8-5h0m10 6h0m2-5h0m52 4h0m342-3h0m3 3h0m134-4h0m4-1h0m13 6h0m-633 3h0m11 0h0m28 4h0m3 0h0m7-5h0m6 4h0m3-2h0m8 3h0m2 0h0m1-3h0m19 0h0m261 1h0m238-2h0m49-1h0m-626 12h0m24-5h0m55 2h0m68 3h0m418 2h0m6-6h0m10-1h0m4 2h0m21 2h0m2 2h0m9-1h0m-588 10h0m1-5h0m9 1h0m8 0h0m22 0h0m27-2h0m2 2h0m6-2h0m40 1h0m434 0h0m25 1h0m-602 11h0m27-5h0m1 3h0m0 3h0m6-7h0m5 1h0m17 5h0m10 0h0m16-4h0m8 0h0m2-2h0m9 5h0m4 2h0m339-1h0m12-2h0m137 2h0m9-6h0m3 3h0m-624 11h0m31-6h0m2 0h0m9 5h0m9 1h0m16-5h0m41 2h0m2 2h0m15-2h0m5 1h0m0 3h0m3 0h0m77 0h0m79-7h0m114 1h0m210 5h0m14-6h0m4 7h0m-598 7h0m44 0h0m19-2h0m17-4h0m24 3h0m342 3h0m46 0h0m83-4h0m16 3h0m7-3h0m1 3h0m2-3h0m5 1h0m4-3h0m8 4h0m-597 9h0m13 1h0m7-6h0m3 2h0m18 2h0m10-4h0m15 3h0m56 3h0m345 1h0m87 0h0m16-2h0m8 2h0m7 0h0m9-1h0m4-4h0m-643 10h0m2 3h0m7-3h0m1 2h0m11-1h0m31-2h0m0 2h0m3 1h0m2 1h0m2 0h0m1-6h0m1 6h0m2-7h0m0 5h0m12-4h0m32 5h0m5-5h0m8-1h0m3 7h0m3-4h0m0 4h0m8-3h0m53 1h0m181-3h0m55 1h0m26 4h0m32-5h0m109 1h0m11 4h0m5-3h0m1-2h0m10 5h0m7-6h0m5 6h0m8-4h0m-644 6h0m48 6h0m27-1h0m14-3h0m3 0h0m2 4h0m1 0h0m2-5h0m1 4h0m10-2h0m4-1h0m340 3h0m129-2h0m20 0h0m0 1h0m12 1h0m8-1h0m-617 10h0m13-6h0m34 1h0m6 2h0m43-3h0m1 5h0m2-1h0m4 1h0m282-3h0m92-3h0m51 5h0m9 2h0m55-1h0m4-3h0m11 2h0m14 2h0m2-2h0m1 2h0m3-6h0m13 3h0m4 3h0m-637 7h0m12-3h0m1-1h0m1-2h0m11 5h0m15-3h0m15 1h0m12-2h0m3 0h0m24 5h0m3-5h0m23 1h0m313 3h0m137-2h0m44 3h0m7-5h0m3 0h0m2 0h0m-628 12h0m2 1h0m10-5h0m7 5h0m5 1h0m2-5h0m10 1h0m0-2h0m30 1h0m4 2h0m1 1h0m2-5h0m0 3h0m14 0h0m1 1h0m8-1h0m7 2h0m15 2h0m15-7h0m15 6h0m235 0h0m164-3h0m24 3h0m17-3h0m24-1h0m5 0h0m5-1h0m3 4h0m1-4h0m2 6h0m-629 6h0m6 1h0m5-1h0m10 1h0m2 1h0m0-5h0m30 3h0m9-1h0m5 0h0m3 3h0m4-3h0m9 0h0m1-3h0m1 6h0m3-4h0m3-1h0m4 2h0m2 0h0m6-2h0m8 4h0m2-6h0m1 2h0m26 5h0m78 0h0m202-7h0m170 0h0m14 6h0m3 0h0m5-2h0m6 2h0m3 0h0m2 1h0m-631 5h0m2 2h0m24-6h0m5 6h0m2-1h0m20 0h0m8-3h0m6 5h0m4-6h0m6 5h0m1-4h0m4-1h0m7 0h0m3 3h0m22-3h0m9-1h0m15 4h0m11-4h0m339 0h0m48 5h0m71-4h0m2 6h0m8-4h0m4 4h0m9-2h0m-612 3h0m3 0h0m12 4h0m2-4h0m9 1h0m30 2h0m0 2h0m5-1h0m2-3h0m2 5h0m2 0h0m17 1h0m7-1h0m24-3h0m53 0h0m398 0h0m39-3h0m22 6h0m-619 8h0m5-6h0m4 3h0m4 2h0m2 0h0m1-2h0m4 2h0m21 1h0m18-4h0m0-1h0m1 0h0m2 2h0m263 0h0m26 1h0m113-1h0m41 2h0m-519 10h0m5-6h0m2 5h0m2 1h0m15-7h0m2 2h0m3 4h0m2-1h0m7-3h0m5 2h0m5-4h0m7 1h0m1 1h0m0 4h0m1-1h0m3-5h0m4 4h0m3-2h0m3 4h0m14 1h0m8-2h0m0 2h0m21-3h0m16-1h0m15 4h0m163-7h0m9 7h0m124-2h0m142 1h0m46-5h0m-640 12h0m13-2h0m5 1h0m2-4h0m10 7h0m7-7h0m1 2h0m2-1h0m16 3h0m2 2h0m6-3h0m14-2h0m5 1h0m0 2h0m10 0h0m1 2h0m2-3h0m4 2h0m10-1h0m16 3h0m6-3h0m144-3h0m46 1h0m118-1h0m175 1h0m-609 9h0m8-1h0m1-1h0m12 3h0m4 1h0m8-4h0m4 2h0m16 4h0m5-6h0m59 0h0m16 6h0m2-3h0m15 3h0m2-4h0m2-3h0m4 7h0m4 0h0m1 0h0m3-2h0m298-4h0m93 4h0m33-1h0m17 0h0m29 0h0m-641 8h0m10-3h0m3 1h0m21 3h0m79-4h0m46-1h0m51 5h0m20-4h0m170 4h0m25-3h0m60 4h0m2-3h0m27-3h0m3 0h0m94 4h0m20-4h0m3 0h0m4 7h0m-629 4h0m4 1h0m3 3h0m13-7h0m3 1h0m13 3h0m0-3h0m30 5h0m7-4h0m76 3h0m0 2h0m6-7h0m17 7h0m219-1h0m105-4h0m115 1h0m16 0h0m9-1h0m1 0h0m-642 11h0m2-2h0m2 1h0m2-4h0m1 6h0m10-5h0m1 5h0m7-5h0m0 2h0m2 0h0m1-3h0m5 4h0m0 1h0m7-4h0m16 6h0m19-3h0m15-2h0m8 4h0m61-3h0m87 1h0m176-4h0m186 1h0m14 0h0m4 3h0m-632 4h0m4 3h0m6-1h0m1 5h0m4-4h0m11 3h0m6-1h0m1-2h0m10 3h0m10-3h0m0-1h0m5-1h0m9 5h0m1 0h0m9-3h0m4 0h0m0-3h0m6 5h0m12-4h0m80 6h0m29-6h0m308 4h0m107-2h0m2 2h0m11 2h0m5-5h0m0 2h0m6-4h0m-645 13h0m1 2h0m4-7h0m1 4h0m10-4h0m7 6h0m2-6h0m2 7h0m0-4h0m5 3h0m4-4h0m2-2h0m5 0h0m6 4h0m2 0h0m0 3h0m14-4h0m5 0h0m1-3h0m3 1h0m1 0h0m0-1h0m12 4h0m42-1h0m1 4h0m8-1h0m8-1h0m35 1h0m215-3h0m94 0h0m1 0h0m8 1h0m121 2h0m8-1h0m8-5h0m10 5h0m-639 6h0m19 3h0m6-2h0m1-4h0m4 3h0m1 3h0m2-5h0m5 0h0m0 2h0m3 1h0m1 0h0m1-1h0m8-1h0m6-1h0m3 6h0m1-2h0m45-3h0m6 1h0m4-2h0m6 6h0m3-5h0m2 0h0m0 4h0m2-5h0m4 3h0m3-1h0m7-3h0m5 3h0m19-2h0m7 3h0m0-4h0m15 5h0m231-4h0m34 4h0m3-4h0m142 0h0m13 3h0m16-4h0m9 2h0m4 1h0m-651 7h0m2 5h0m3-5h0m1 3h0m0 2h0m3-4h0m2 2h0m38-1h0m1-2h0m1-2h0m2 6h0m1-1h0m5-5h0m8 0h0m2 5h0m4 0h0m1 2h0m0-5h0m1 1h0m11-1h0m18 2h0m6 1h0m2 1h0m7 1h0m2-4h0m7 2h0m1 2h0m18-1h0m4-1h0m5-3h0m166 4h0m11-4h0m80 0h0m1 1h0m4 0h0m11 3h0m19-5h0m87-1h0m35 6h0m51-1h0m6 0h0m12 0h0m-637 5h0m4 3h0m6-4h0m3 4h0m6-1h0m6-3h0m1 0h0m5 5h0m9-5h0m1 4h0m14-3h0m10 2h0m2 1h0m12-2h0m1-1h0m13 4h0m1-2h0m2-2h0m7 0h0m2 0h0m2 2h0m1-2h0m2 2h0m4 0h0m5-4h0m7 3h0m9 0h0m10 0h0m12 2h0m2 0h0m46 2h0m131-1h0m249 0h0m16-5h0m12-1h0m24 6h0m5-6h0m4 1h0m-647 14h0m5-6h0m2 6h0m6-1h0m7-3h0m3 3h0m1-5h0m5 0h0m1 4h0m3-2h0m12 0h0m2-2h0m2-1h0m1 2h0m5 4h0m1-4h0m4 2h0m1-4h0m14 5h0m10-3h0m3-2h0m1 6h0m6-4h0m2 4h0m2-6h0m2 5h0m6-3h0m1-1h0m3 4h0m3-3h0m1-2h0m2 7h0m0-6h0m39 1h0m10 4h0m22-2h0m2-4h0m8 2h0m2 1h0m8 3h0m241-6h0m158 4h0m4 2h0m0-1h0m7 1h0m1-2h0m4-2h0m7 3h0m5-2h0m-635 11h0m2-3h0m1 0h0m1-1h0m0 3h0m4-5h0m2 3h0m1-2h0m1 0h0m0 2h0m5-2h0m3 4h0m1-4h0m0 1h0m14 2h0m3 1h0m9-1h0m2 2h0m11 1h0m0-5h0m20 0h0m11 1h0m15-3h0m2 2h0m48 5h0m15-7h0m27 2h0m37 3h0m46-2h0m59 0h0m19-1h0m274-2h0m15 7h0m1-4h0m-649 11h0m1-3h0m0-1h0m2 4h0m1-4h0m1 1h0m4-3h0m1 7h0m1-3h0m6 3h0m1-7h0m1 7h0m2-5h0m0-1h0m6-1h0m4 1h0m8-1h0m1 7h0m15-5h0m1 5h0m18-4h0m1-1h0m0 4h0m5 0h0m11-5h0m2 2h0m4-2h0m61 5h0m6-3h0m2 0h0m41-2h0m2-1h0m155 2h0m22 1h0m179-2h0m34-1h0m8 1h0m2 6h0m7 0h0m2-5h0m1-1h0m4 3h0m18 0h0m10 1h0m-649 8h0m1-4h0m8 2h0m1 3h0m2 0h0m4-3h0m2-2h0m1-1h0m7 0h0m1 4h0m3 2h0m2-2h0m7-2h0m1-2h0m2 4h0m4-2h0m6 2h0m5-3h0m25 3h0m6 1h0m1-1h0m37-2h0m12-2h0m7 1h0m1-1h0m2 0h0m3 6h0m6-3h0m14-3h0m3 5h0m36 1h0m1-2h0m3 3h0m19 0h0m1-1h0m6 0h0m16-1h0m87 0h0m5-4h0m5 6h0m19-6h0m1 6h0m92-7h0m23 4h0m29-1h0m88 1h0m13-1h0m10-2h0m5 3h0m0 2h0m4 1h0m6-7h0m7 7h0m-652 8h0m5 0h0m5-3h0m0-4h0m3 2h0m3 0h0m25 5h0m0-6h0m2-1h0m1 2h0m6 1h0m4-2h0m0 2h0m10 3h0m18-4h0m7 5h0m5 0h0m1-7h0m6 3h0m8 3h0m12-4h0m1 3h0m3-3h0m14 4h0m6-4h0m1-2h0m3 4h0m22 0h0m0 1h0m5-3h0m7 5h0m1-2h0m8-1h0m42-3h0m109-1h0m11 7h0m22 0h0m13 0h0m83 0h0m121-2h0m3-5h0m1 1h0m7 5h0m9 0h0m6-2h0m10 2h0m0-1h0m5 2h0m11-7h0m1 3h0m0 2h0m6-5h0m-652 13h0m1-3h0m0 2h0m3 1h0m4-5h0m2 7h0m6-7h0m4 3h0m23-3h0m9 7h0m3-4h0m1 2h0m3 1h0m8-4h0m5 3h0m8 0h0m9 2h0m6-1h0m8-1h0m3 0h0m3 2h0m3-1h0m9 0h0m0-5h0m7 2h0m1 1h0m3 1h0m2-2h0m7 0h0m1 1h0m1 0h0m0 2h0m1-2h0m8-1h0m13 4h0m2-2h0m2-2h0m9-2h0m2 1h0m1 5h0m6-6h0m11 0h0m3 3h0m57-4h0m23 7h0m39-1h0m17-6h0m32 4h0m26 1h0m45-5h0m118 5h0m38 0h0m11 1h0m16-3h0m4 1h0m16-2h0m0 4h0m4-4h0m-647 13h0m9-3h0m2-2h0m1-2h0m13 4h0m11 2h0m4-1h0m2-1h0m10 0h0m9 0h0m6 2h0m6 1h0m0-6h0m2 2h0m10-1h0m4 0h0m1-1h0m19 0h0m16 5h0m5-5h0m3 2h0m1-2h0m4 3h0m4-2h0m1-2h0m3 6h0m1 0h0m19 0h0m7-5h0m2 5h0m25-2h0m1-2h0m10 2h0m45-4h0m42 5h0m19-4h0m3 6h0m18-4h0m16 1h0m71-1h0m91 2h0m13-5h0m29 0h0m37 3h0m4 2h0m10 1h0m4 1h0m3-7h0m12 5h0m1 1h0m6-5h0m2 2h0m4 0h0m-641 5h0m3 5h0m2-1h0m4 2h0m2-3h0m4 4h0m1-1h0m6-6h0m1 7h0m2-4h0m1 4h0m8-4h0m3 2h0m3-3h0m2 1h0m2 2h0m0 2h0m3-3h0m1-4h0m1 2h0m1 2h0m1-2h0m1 5h0m1-5h0m1 4h0m3-1h0m7-5h0m4 0h0m6 5h0m8-3h0m8 3h0m3-1h0m1-2h0m4 5h0m11-7h0m10 5h0m3-4h0m0 4h0m7-4h0m1 5h0m4-6h0m5 0h0m3 4h0m1-4h0m6 5h0m4 1h0m1-1h0m15 1h0m6 0h0m14-6h0m1 7h0m6-5h0m58 5h0m26-7h0m38 6h0m2-3h0m14 0h0m45 1h0m2-1h0m23-2h0m6 4h0m147-1h0m3-1h0m38 0h0m7-3h0m6 0h0m10 2h0m10 3h0m3-1h0m4-4h0m7 5h0m0-1h0m7 0h0m-647 11h0m1-2h0m2 0h0m4-5h0m0 4h0m3-3h0m4 2h0m2 0h0m2 1h0m2 3h0m2-7h0m10 1h0m0 5h0m8-2h0m3 1h0m1-1h0m13 2h0m8 1h0m7 0h0m3-7h0m1 3h0m1-2h0m16 0h0m2 3h0m2-4h0m6 4h0m1 2h0m9-6h0m3 7h0m1-3h0m1-1h0m3 2h0m3-3h0m8 3h0m1 0h0m2-5h0m4 1h0m1 2h0m4-3h0m3 0h0m5 5h0m3 2h0m0-7h0m12 1h0m4 1h0m4 4h0m2-1h0m45 2h0m21-6h0m58 2h0m27 0h0m5 1h0m7-3h0m5 2h0m11 4h0m6-7h0m6 4h0m5 2h0m21-4h0m27 4h0m11-4h0m19 3h0m99 1h0m3-3h0m4 4h0m22-2h0m9-3h0m0 4h0m15-4h0m1 3h0m31-2h0m3 0h0m-643 6h0m1 6h0m1 0h0m5-5h0m2 0h0m10 2h0m2 0h0m0-4h0m6 3h0m3 4h0m3-6h0m2 2h0m3 4h0m7-4h0m2 1h0m8-2h0m3 0h0m8 4h0m2-5h0m1-1h0m6 4h0m6-1h0m0-3h0m7 3h0m1-3h0m3 3h0m1 2h0m1 2h0m7-1h0m13-3h0m1 2h0m5-4h0m6 5h0m7 1h0m2 0h0m10-5h0m2 2h0m8-4h0m9 0h0m3 2h0m19-1h0m1 1h0m40 2h0m7 1h0m23-2h0m1 2h0m11-1h0m22-3h0m9 3h0m3 0h0m6-3h0m3 0h0m12 2h0m11 4h0m5-6h0m9 5h0m4-4h0m0-1h0m0 2h0m22 3h0m33-3h0m5 0h0m104 2h0m37 2h0m12-2h0m30-1h0m18 0h0m4-2h0m4-1h0m12 0h0m-624 10h0m3-3h0m12 6h0m3-6h0m12 2h0m11 2h0m3 1h0m1-1h0m1 0h0m3-2h0m1-1h0m6-1h0m2 6h0m19 0h0m5 1h0m8-5h0m2-2h0m8 2h0m8 0h0m1 3h0m1-4h0m3-1h0m4 7h0m3-5h0m1 4h0m2 0h0m1-2h0m1-3h0m0 6h0m1-2h0m2-3h0m5 3h0m4-3h0m16-1h0m28 4h0m107-3h0m5-1h0m6 2h0m2 2h0m9 1h0m1-1h0m34-5h0m9 3h0m6-2h0m14 6h0m1-2h0m6 2h0m30-1h0m6 0h0m34-4h0m85 1h0m1 2h0m31-1h0m27-4h0m10 2h0m14-2h0m4 5h0m4-3h0m1-2h0m0 7h0m1-4h0m1 2h0m1-4h0m2 6h0m1-6h0m3 5h0m1 0h0m5 0h0m-647 7h0m9-4h0m2 6h0m2 0h0m14-5h0m8 4h0m2 0h0m3-5h0m1 2h0m4 2h0m11-2h0m3-1h0m5 4h0m3-3h0m0 4h0m5-2h0m3 0h0m7-5h0m0 1h0m1 3h0m35 2h0m11-5h0m4 4h0m2-4h0m2 5h0m1 0h0m3-2h0m2-1h0m0 3h0m3-3h0m3 3h0m2-2h0m3 1h0m3 1h0m1 0h0m46 1h0m6-4h0m28-3h0m2 7h0m8 0h0m23-6h0m14 1h0m26 5h0m42-7h0m2 1h0m8 6h0m2 0h0m10-6h0m7-1h0m13 2h0m27 5h0m1-2h0m61 1h0m47-2h0m9 1h0m3-5h0m4 6h0m11 1h0m23 0h0m2-2h0m10-5h0m5 7h0m0-5h0m7 3h0m5 0h0m15 0h0m13-1h0m7 3h0m2-3h0m-631 8h0m10 3h0m7-2h0m2 0h0m1-2h0m2-2h0m4 5h0m1-1h0m11-5h0m1 6h0m8-6h0m4 3h0m8-2h0m14 3h0m2 2h0m4-5h0m1 2h0m14-3h0m3 6h0m12-6h0m5 3h0m3 2h0m1-2h0m1-2h0m1 3h0m2 1h0m1-4h0m2 2h0m5 4h0m0-6h0m2 6h0m5-4h0m97 2h0m9-5h0m12 2h0m32-1h0m9 3h0m4-3h0m7 0h0m0 4h0m4 2h0m35 0h0m2-3h0m9-1h0m86 2h0m58 0h0m7 0h0m14-5h0m27 5h0m3-4h0m1 5h0m8-3h0m1 0h0m2 1h0m10 3h0m3-3h0m28-1h0m2 4h0m3-7h0m1 1h0m1 1h0m2 2h0m3 1h0m-640 7h0m36 1h0m1-1h0m7-3h0m5 6h0m15-1h0m1 1h0m1-5h0m2 0h0m5-1h0m4-1h0m6 5h0m5 2h0m4-7h0m19 6h0m2-4h0m6 5h0m3-1h0m1 0h0m5-2h0m4 3h0m1 0h0m6-6h0m2 5h0m5-6h0m4 5h0m1-4h0m3 5h0m1-2h0m1 2h0m11-4h0m3 1h0m4-1h0m0 2h0m2 1h0m13-1h0m2 2h0m14 1h0m2-2h0m7 0h0m9-2h0m54-1h0m12 3h0m25 0h0m15-4h0m0 1h0m32 5h0m10-5h0m10 1h0m24-1h0m2 4h0m3-5h0m8-1h0m32 1h0m10 2h0m18-1h0m3 1h0m0-1h0m1 0h0m17-2h0m7 1h0m15-1h0m12 0h0m3 4h0m28 1h0m9-3h0m12-2h0m1 5h0m2 1h0m15-4h0m31 0h0m5 1h0m5-1h0m6 2h0m-648 9h0m1-5h0m1 0h0m1 4h0m1-4h0m3 1h0m6 1h0m3-1h0m1 3h0m18 0h0m7 3h0m4-2h0m0-4h0m3 5h0m3-6h0m2 6h0m1-3h0m0 2h0m5-5h0m1 7h0m1-6h0m2 4h0m1-2h0m0 4h0m0-1h0m3 0h0m5 0h0m10-4h0m13-2h0m0 4h0m3-4h0m18 0h0m0 4h0m4 0h0m4-3h0m12 3h0m6 1h0m10-2h0m7-3h0m2 5h0m1-2h0m11-1h0m1 0h0m1 2h0m3 2h0m1-6h0m2 0h0m12 7h0m13-4h0m8 2h0m1-2h0m2 0h0m10 4h0m56-7h0m6 4h0m7-2h0m20 2h0m3-4h0m4 6h0m1-6h0m14 2h0m10-2h0m7 5h0m2 1h0m0-6h0m8 2h0m0 5h0m9-3h0m3 1h0m4 2h0m8-4h0m18 2h0m3 2h0m92-5h0m30 5h0m6 0h0m14-6h0m4 4h0m10-3h0m6-1h0m7 4h0m4-5h0m17 2h0m4 5h0m9-5h0m7 3h0m0 1h0m8-3h0m1 3h0m6-5h0m2 1h0m5 1h0m-639 8h0m5-2h0m2 4h0m0-1h0m2-2h0m1 0h0m8 2h0m8 2h0m2-1h0m4-4h0m8 0h0m8 0h0m3 5h0m1-5h0m2 3h0m3 3h0m4 0h0m0-1h0m1-1h0m9-4h0m1 6h0m8-7h0m5 7h0m3-7h0m1 7h0m0-7h0m9 4h0m13-2h0m2 0h0m0 1h0m2 3h0m12 1h0m1-6h0m3 4h0m4-1h0m9-4h0m2 7h0m9-2h0m1-3h0m1-2h0m10 1h0m5 5h0m3 0h0m3-3h0m0 4h0m1 0h0m1-1h0m2-5h0m3 3h0m1-2h0m0 3h0m0-1h0m6-1h0m1 2h0m12-5h0m17 4h0m3 0h0m56-4h0m5 1h0m17 3h0m22 3h0m10-2h0m15 1h0m17-2h0m3 2h0m13-5h0m16 3h0m5 0h0m22 3h0m5-1h0m0-3h0m58-1h0m5 3h0m55 2h0m27-4h0m9-1h0m7-2h0m4 0h0m8 6h0m29 1h0m1-5h0m7 2h0m-645 7h0m4 2h0m5 0h0m1-3h0m1-2h0m13 5h0m1-4h0m13 5h0m7-2h0m2-3h0m0 4h0m1 0h0m1 1h0m5-1h0m3-5h0m2 1h0m2 1h0m5-1h0m3 0h0m5 0h0m11 3h0m2-1h0m15 0h0m1 4h0m7-5h0m6 2h0m3-1h0m5 1h0m8-1h0m28 1h0m4 2h0m10-3h0m10 2h0m4-2h0m5 2h0m3-4h0m12 0h0m1 6h0m3-3h0m4 3h0m3-5h0m27 1h0m8 2h0m0-3h0m18 5h0m10-2h0m34 0h0m7 1h0m2 1h0m6-6h0m2 1h0m5 1h0m34-2h0m4 5h0m8-4h0m1 4h0m34 1h0m34-3h0m38-2h0m0 2h0m30 0h0m35 2h0m2-6h0m8 2h0m8 2h0m8-1h0m25 3h0m1-6h0m0 6h0m1-4h0m11 1h0m4 0h0m1-2h0m11 0h0m14 2h0m-650 9h0m2 0h0m9-1h0m2 1h0m8-2h0m0 4h0m3-4h0m3 0h0m1 1h0m2-2h0m1 4h0m0-1h0m0-4h0m2 1h0m6 5h0m13-5h0m1 4h0m1 1h0m1 0h0m5-5h0m8 2h0m10 0h0m1-3h0m2 2h0m4 4h0m3-6h0m5 0h0m7 5h0m4 0h0m20-5h0m6 4h0m4-4h0m3 0h0m0 5h0m1-3h0m4 3h0m18-4h0m6 3h0m8 0h0m6-1h0m0 2h0m5-5h0m7 5h0m8 2h0m5-5h0m9 1h0m0-1h0m19 1h0m38 0h0m33 3h0m18 0h0m7-1h0m10-1h0m25-1h0m15-3h0m2 1h0m2 5h0m1 0h0m10 0h0m44-6h0m17 7h0m5-3h0m0 2h0m14-3h0m14 2h0m43 0h0m30-5h0m6 3h0m6 0h0m22 2h0m7-4h0m12 5h0m1-1h0m35-2h0m-648 12h0m3 0h0m2-7h0m2 5h0m10 0h0m1-3h0m1 1h0m0 4h0m2-7h0m1 6h0m2 0h0m2-1h0m0-5h0m5 6h0m3-4h0m1 5h0m9-3h0m3-3h0m0 5h0m2-3h0m1 2h0m3-1h0m1 0h0m0-4h0m5 2h0m1 5h0m4-4h0m11 1h0m1-3h0m10 3h0m11 3h0m5-7h0m7 4h0m3-4h0m8 5h0m21 0h0m10-5h0m23 2h0m4-1h0m1 4h0m12 2h0m5-5h0m5-1h0m25 1h0m24 5h0m9-2h0m12-5h0m2 6h0m33 0h0m3-6h0m3 5h0m2 1h0m1-1h0m4-3h0m51 5h0m5-3h0m16 1h0m22 1h0m93-4h0m21 2h0m14 2h0m36 0h0m13-6h0m4 7h0m5 0h0m1-4h0m6 0h0m8-1h0m14 4h0m3 0h0m5-3h0m0 2h0m4-3h0m1 4h0m9-6h0m-650 10h0m4-2h0m2 5h0m1-3h0m3-2h0m5 1h0m11 6h0m5-7h0m7 5h0m2-1h0m2-2h0m2 1h0m2-3h0m2 6h0m6-5h0m0 1h0m1 1h0m3 2h0m1 2h0m1 0h0m1-2h0m2-4h0m11 5h0m8-4h0m3 4h0m0 1h0m2-4h0m2-1h0m7 5h0m2-5h0m18 0h0m2-2h0m12 3h0m34 4h0m25-6h0m9 3h0m4-3h0m8 6h0m22 0h0m15-5h0m1 4h0m6 0h0m13-3h0m3 1h0m0-1h0m8-1h0m0 2h0m13-4h0m1 0h0m3 0h0m3 7h0m14-4h0m64-2h0m7 0h0m3 3h0m3-3h0m10 6h0m21-3h0m4 1h0m3 2h0m7-2h0m7-4h0m20 3h0m1 3h0m9-6h0m8 1h0m90 5h0m26-1h0m3-1h0m3-4h0m0 3h0m1 0h0m10-1h0m0-1h0m5-1h0m2 5h0m4 1h0m2-3h0m20-2h0m-647 10h0m7-4h0m6 0h0m4 3h0m5 0h0m4-2h0m15 5h0m0-5h0m0 3h0m4 0h0m5-1h0m2 0h0m5 3h0m13-3h0m6-3h0m6 6h0m4 1h0m17-1h0m10-1h0m6-3h0m5 4h0m1-3h0m1-3h0m1 3h0m6 3h0m21 0h0m4 0h0m17 0h0m9 1h0m9-3h0m10 1h0m8 1h0m1-6h0m10 7h0m4 0h0m15-2h0m13-4h0m5 6h0m15-1h0m2-3h0m4-3h0m9 4h0m8 0h0m7-2h0m23 4h0m5-1h0m27 1h0m20 1h0m2-2h0m7 2h0m9-2h0m4 0h0m1 2h0m9-5h0m4 5h0m3-5h0m22-1h0m3 0h0m3-1h0m19 1h0m30 5h0m6-2h0m13 3h0m2-7h0m1 0h0m14 2h0m18 1h0m4-2h0m14 6h0m41 0h0m4-2h0m1-1h0m21-4h0m8 4h0m-628 8h0m12 1h0m2-5h0m7 3h0m6-3h0m1 1h0m3 5h0m0 1h0m3-6h0m3 6h0m6-6h0m0 3h0m2-3h0m0-1h0m3 3h0m2 4h0m5-1h0m6-1h0m1-3h0m0 3h0m1 1h0m1-6h0m9 4h0m32 2h0m0-2h0m3-2h0m1 0h0m2 0h0m4 2h0m12 1h0m21-2h0m11 1h0m0 3h0m41-6h0m7 5h0m29-2h0m11-2h0m2-1h0m1 4h0m9-4h0m1 3h0m6 3h0m7-4h0m18 2h0m9-1h0m18-1h0m6 0h0m2 2h0m6 2h0m3-4h0m19 4h0m3-6h0m3 1h0m2 2h0m1 2h0m2-5h0m4 1h0m1 4h0m14-6h0m5 2h0m36 1h0m5 1h0m18-2h0m11-1h0m28-1h0m10 0h0m20 6h0m38-6h0m1 0h0m3 7h0m3-1h0m25-6h0m8 6h0m8 1h0m13-1h0m8-2h0m2-2h0m-639 9h0m11-3h0m9 0h0m9 3h0m0 1h0m3 0h0m4-1h0m4-2h0m1 1h0m1 1h0m7-3h0m9 3h0m1-3h0m2 3h0m18-3h0m6 0h0m15 3h0m3-2h0m6 0h0m36 0h0m12 1h0m48-2h0m4 3h0m74 0h0m10-2h0m12 2h0m3-1h0m42 1h0m33-3h0m12 3h0m3 0h0m30-3h0m84 2h0m36-2h0m15 1h0m14 1h0m30-1h0m3 3h0m32-3h0"/><path id="pb_ilnps" d="M718 1639h0m1-1h0m3-2h0m7 2h0m24 0h0m10-1h0m8 1h0m1-2h0m6 2h0m3-2h0m13 1h0m18 1h0m26-2h0m4 2h0m48 1h0m123-3h0m21 1h0m61 1h0m29-2h0m15 3h0m60-2h0m48 1h0m2 1h0m6-1h0m2 1h0m0-1h0m8 0h0m13-2h0m7 2h0m14 1h0m10-3h0m6 1h0m0 1h0m6-1h0m0-1h0m5 0h0m4 3h0m1-2h0m25 0h0m-649 6h0m1 0h0m10-3h0m3 0h0m3 5h0m4-5h0m0 1h0m9 0h0m8 3h0m7-2h0m4-2h0m1 7h0m0-7h0m1 4h0m0-3h0m9 1h0m0 2h0m1 0h0m1 1h0m1 2h0m6-7h0m7 0h0m24 3h0m22-1h0m5 0h0m5-2h0m3 0h0m1 0h0m10 5h0m7-3h0m1-1h0m1 1h0m9 0h0m9 3h0m9-1h0m6-1h0m139-1h0m6 1h0m28 2h0m53-1h0m16-4h0m12 7h0m13-3h0m40-3h0m32 0h0m0 6h0m4 0h0m2-6h0m5 6h0m3-3h0m3-3h0m7 1h0m1 5h0m9-7h0m3 2h0m1 5h0m32-2h0m5-3h0m3-1h0m2 1h0m1 0h0m1 0h0m10 3h0m0-3h0m5-1h0m10 0h0m3 4h0m6-1h0m-646 9h0m0 2h0m23-6h0m7 0h0m24 6h0m8-3h0m0 2h0m0-5h0m3 1h0m1 2h0m6 2h0m6-6h0m2 1h0m3 5h0m0-1h0m3-5h0m15 3h0m11 1h0m12 2h0m9-5h0m1 3h0m19 1h0m1-1h0m7-1h0m35-3h0m128 1h0m7 3h0m16-3h0m20 6h0m82-4h0m3 0h0m54 2h0m3-2h0m17-3h0m3 6h0m1-1h0m5 0h0m2-4h0m11 2h0m0-1h0m2 4h0m3-5h0m4-1h0m7 1h0m40 2h0m5 1h0m6 3h0m16-3h0m10-3h0m6 0h0m-636 10h0m15-3h0m8 7h0m4-7h0m1 2h0m1 1h0m4 3h0m1 1h0m12 0h0m8-7h0m1 0h0m16 2h0m4 2h0m14 1h0m1 2h0m6-4h0m3 2h0m0 2h0m3 0h0m2-7h0m3 0h0m23 5h0m15 1h0m13-6h0m6 5h0m0-1h0m2 3h0m38-6h0m155 2h0m21-3h0m18 3h0m2-1h0m61 4h0m9-3h0m44 2h0m11 0h0m21-4h0m2 5h0m4-6h0m4 1h0m6 2h0m14 4h0m4-1h0m14 1h0m3-4h0m12 3h0m6 1h0m4-1h0m1 0h0m7-5h0m2 1h0m4 5h0m4-5h0m1 3h0m3 1h0m2 1h0m-653 7h0m0 1h0m17-6h0m3-1h0m6 6h0m12-6h0m6 3h0m0 4h0m0-1h0m3-4h0m1-2h0m4 1h0m6 0h0m1 1h0m3 4h0m3-2h0m0-3h0m12 0h0m3 5h0m4-4h0m4 5h0m5-6h0m6 3h0m4 0h0m2-2h0m1 5h0m0-1h0m0-5h0m1 2h0m1-1h0m3-2h0m16 2h0m2 2h0m5 0h0m4-4h0m0 4h0m190-1h0m33 1h0m12 1h0m13 0h0m43 2h0m33-1h0m2 1h0m22-1h0m44-3h0m0-1h0m6 4h0m3-4h0m5-1h0m9 6h0m5-6h0m11 5h0m3-1h0m7 0h0m3 0h0m9-1h0m4-3h0m0 6h0m25-2h0m0-4h0m8 1h0m20 0h0m-629 13h0m10-7h0m1 7h0m2-1h0m6-6h0m2 1h0m1 0h0m3 5h0m8-3h0m14 3h0m7-6h0m0 2h0m19 1h0m2-1h0m1 0h0m0 2h0m8 3h0m2-6h0m6 0h0m0-1h0m4 1h0m1-1h0m1 1h0m0 2h0m0-1h0m2-2h0m3 2h0m0 2h0m1 1h0m3-3h0m9 4h0m5-2h0m4 3h0m3-5h0m23 1h0m44 3h0m129-5h0m14 5h0m34-6h0m13 0h0m10 0h0m50 2h0m4 1h0m11 1h0m27 0h0m7 2h0m8-5h0m9 2h0m4-1h0m16 2h0m1-2h0m6 5h0m9-7h0m6 0h0m9 3h0m2-1h0m2 4h0m25 0h0m2 0h0m7-1h0m0 2h0m1-4h0m4-1h0m5 0h0m8 0h0m2 2h0m2-1h0m12 3h0m-650 3h0m2 5h0m18 1h0m1-5h0m3 3h0m7-1h0m2-3h0m1 4h0m1-4h0m0 4h0m3 2h0m2-5h0m1 1h0m0-3h0m3 0h0m0 2h0m2 1h0m5-3h0m14 4h0m4 3h0m8-7h0m13 0h0m2 6h0m18-1h0m5-4h0m1 6h0m9-1h0m5-3h0m2-2h0m1 2h0m1 1h0m0 2h0m1-4h0m2 2h0m0 3h0m10-3h0m2 2h0m2-2h0m9-3h0m10 6h0m21 0h0m22-4h0m52-2h0m67 5h0m34-6h0m8 6h0m1-4h0m7-2h0m17 5h0m49 2h0m18-7h0m5 6h0m15-3h0m15-1h0m9 1h0m2 3h0m8-1h0m2-5h0m7 6h0m7-6h0m16 7h0m5-2h0m10-2h0m4 4h0m1-2h0m8 0h0m9-2h0m1 2h0m6-1h0m6-2h0m1 3h0m2-2h0m9 3h0m4-3h0m5-1h0m3 0h0m10 3h0m5 0h0m7-1h0m-643 6h0m13 5h0m3-1h0m3-5h0m1 2h0m1 3h0m9-2h0m4 1h0m1-5h0m4 6h0m2-3h0m3-2h0m2 4h0m2-4h0m3 5h0m3 0h0m2-4h0m0 4h0m9-3h0m6 2h0m6-1h0m1-4h0m33 1h0m0 1h0m1-1h0m1 5h0m10-1h0m19 0h0m16 2h0m6-1h0m168-6h0m53 0h0m0 4h0m16 3h0m51 0h0m10 0h0m4-3h0m4 3h0m25-6h0m1 1h0m2-1h0m8 1h0m44 1h0m7 2h0m15-3h0m6-1h0m5-1h0m5 5h0m0-4h0m9 6h0m3-2h0m5-3h0m19-1h0m6 0h0m-630 8h0m10 3h0m0-1h0m6 2h0m3-4h0m2 1h0m5 1h0m1-3h0m1 1h0m1 5h0m0-5h0m5 4h0m9-2h0m7 4h0m1-1h0m0-5h0m5 1h0m7-1h0m2 6h0m1 0h0m1-7h0m4 3h0m0 2h0m1-2h0m1 4h0m2-6h0m2 5h0m0-6h0m6 2h0m21-1h0m12 6h0m2-2h0m4-1h0m5 2h0m18-5h0m7 0h0m42 5h0m133-3h0m48 3h0m3 1h0m64-2h0m5 2h0m1-2h0m6-3h0m3 5h0m9 0h0m5-1h0m0-6h0m14 3h0m9 0h0m8-2h0m5 3h0m4 3h0m2 0h0m7 0h0m28-7h0m2 4h0m3-1h0m12 4h0m12-5h0m1-2h0m3 1h0m0 4h0m2-4h0m1 3h0m1 1h0m7-2h0m2-2h0m9 4h0m15-1h0m0-1h0m24 1h0m2-3h0m-652 10h0m6 4h0m7-1h0m14 0h0m2-1h0m1 0h0m2 2h0m1-6h0m4 4h0m0 2h0m1-7h0m6 3h0m5-1h0m0 4h0m7-3h0m8-1h0m1-1h0m2 3h0m2 2h0m6-1h0m3-1h0m12 2h0m19-2h0m6 2h0m9 1h0m3-1h0m2-3h0m2 2h0m2-1h0m1-2h0m59 1h0m122 1h0m46 2h0m4-1h0m11-5h0m3 3h0m2 0h0m24 3h0m13 1h0m16-1h0m20-4h0m25-2h0m0 1h0m26 0h0m3 5h0m10-3h0m4-3h0m0 4h0m2 0h0m3 0h0m4-2h0m5 0h0m9 3h0m1 2h0m10-4h0m17 2h0m15-4h0m4 6h0m13-3h0m4 3h0m4-1h0m6-2h0m0 3h0m1-2h0m2-4h0m7 4h0m11 1h0m-639 3h0m3-1h0m1 3h0m1-1h0m1 2h0m14-1h0m14 0h0m2 1h0m1-1h0m14-1h0m1 2h0m2-4h0m1 4h0m4 1h0m0-5h0m4 3h0m2 4h0m3-2h0m1 1h0m2-5h0m3 0h0m2 1h0m2-1h0m16 2h0m1 1h0m9-1h0m3-1h0m7-1h0m5 2h0m10-1h0m2 3h0m6 2h0m8-6h0m1 6h0m35-7h0m184 6h0m30-1h0m9-1h0m54 3h0m18-3h0m8 3h0m18 0h0m12-5h0m11 5h0m1-7h0m29 7h0m3-1h0m10-6h0m14 5h0m28-4h0m8 6h0m-613 1h0m1 4h0m1-4h0m0 2h0m4 1h0m3-3h0m1 2h0m38 1h0m17-2h0m1 2h0m11 2h0m0-5h0m1 1h0m6-1h0m0 1h0m10 3h0m1 0h0m7 2h0m6-3h0m2 1h0m3-4h0m1 0h0m5 0h0m1 3h0m7-3h0m2 3h0m1 1h0m1-3h0m21 3h0m29 2h0m2-3h0m30-1h0m132 2h0m12 0h0m9-1h0m8 4h0m6-5h0m27-1h0m19 3h0m0-3h0m3 2h0m15 1h0m13-3h0m14 1h0m1 0h0m1 0h0m3-2h0m8 1h0m31 0h0m6 5h0m3-5h0m10 6h0m4-3h0m5 1h0m1 1h0m9-6h0m5 0h0m6 7h0m30-1h0m12 0h0m11 0h0m9-6h0m5 7h0m5-4h0m1 2h0m7 1h0m-647 5h0m5-3h0m1 4h0m8-1h0m1 4h0m18-5h0m14 4h0m1-4h0m21-2h0m6 6h0m3 1h0m4-5h0m3 3h0m7-4h0m4 1h0m4 2h0m2 0h0m2 0h0m0-3h0m5 6h0m2-6h0m1 0h0m10 0h0m2 4h0m10-1h0m14 3h0m1-4h0m1 0h0m12 3h0m4-3h0m4-2h0m12 4h0m3-4h0m166 5h0m19 0h0m2-3h0m14-1h0m6 1h0m9 3h0m31-5h0m1-1h0m40 2h0m22-1h0m5 1h0m1 4h0m1 1h0m4-5h0m0 4h0m3-2h0m2 3h0m2-3h0m5 0h0m3-4h0m14 0h0m5 6h0m4-1h0m7-5h0m4 2h0m4 2h0m3 1h0m1-3h0m14-1h0m29 6h0m8-3h0m11 2h0m1 1h0m11-3h0m3 1h0m2-4h0m2 2h0m2-3h0m-650 15h0m0-7h0m1 4h0m12-1h0m3 0h0m7 1h0m9-4h0m1 0h0m1 7h0m7-7h0m12 4h0m32 3h0m1-6h0m2 5h0m1-1h0m3-4h0m16-1h0m1 3h0m4 4h0m0-1h0m4-5h0m1 4h0m2 2h0m7-3h0m0-4h0m3 7h0m2-4h0m11-3h0m6 7h0m5-5h0m12 1h0m51-3h0m38 5h0m60-5h0m41 1h0m7 3h0m9 3h0m19-1h0m10 1h0m31 0h0m18-5h0m3 5h0m3-6h0m20 2h0m21-2h0m0 5h0m11-6h0m0 6h0m13-5h0m10 0h0m0 6h0m8-5h0m3 5h0m1-5h0m0 2h0m1-2h0m24 2h0m1-1h0m7 3h0m5-3h0m19 2h0m1-2h0m5 4h0m0-3h0m2 3h0m4-1h0m4 0h0m8-1h0m5 2h0m1 0h0m3-2h0m2-3h0m2 3h0m10 0h0m4-2h0m-649 10h0m2-5h0m3 3h0m3-2h0m3 1h0m25 1h0m4-2h0m0-1h0m1 0h0m4 3h0m4 3h0m8 1h0m3-1h0m3-4h0m1 1h0m1-3h0m1 7h0m1-2h0m1 1h0m6-3h0m12-1h0m5-1h0m1 2h0m4 4h0m1 0h0m12-6h0m9 5h0m4-3h0m0 2h0m4-4h0m3 1h0m3 5h0m3-6h0m1 4h0m8 2h0m21-1h0m1-3h0m4 0h0m4-2h0m3 2h0m3 4h0m27-2h0m18-3h0m117 4h0m32 0h0m6-2h0m38 3h0m37-4h0m4 3h0m4 0h0m5-1h0m38-3h0m2 5h0m42-2h0m2 1h0m1-1h0m3 2h0m1 0h0m1-5h0m3 1h0m0-3h0m4 7h0m3-6h0m6 0h0m16 1h0m26 4h0m1-2h0m0-1h0m3-1h0m2 1h0m0 2h0m4-5h0m-627 13h0m0-4h0m1 0h0m6 2h0m4 0h0m9-1h0m1 2h0m4 0h0m7-2h0m12 2h0m4 2h0m2-2h0m9 1h0m4-5h0m1 3h0m3 3h0m0-5h0m7 5h0m4-3h0m18 1h0m3-1h0m5 4h0m7-6h0m4 4h0m4-1h0m4 1h0m10-3h0m0 3h0m3-1h0m1 3h0m3-5h0m2-1h0m4-1h0m0 1h0m14 0h0m10-1h0m4 0h0m8 3h0m26 2h0m0-4h0m2 2h0m4-1h0m53 3h0m69 2h0m6-6h0m42 6h0m8 0h0m6-5h0m2 1h0m28-1h0m12 2h0m8 0h0m1 0h0m25 2h0m12 1h0m5 0h0m1-3h0m2-4h0m11 6h0m2-1h0m28-1h0m1-1h0m7 1h0m10-1h0m8-3h0m0 1h0m1 6h0m1-5h0m1-1h0m1 4h0m2-1h0m1 1h0m20 0h0m18-1h0m3 0h0m1-2h0m1 4h0m10-1h0m0 1h0m1-1h0m2-4h0m10 6h0m0-7h0m6 3h0m0 2h0m8-5h0m-644 10h0m10 4h0m20-4h0m10 5h0m24-5h0m0-1h0m2 1h0m3-1h0m3 3h0m1-3h0m2 1h0m14-1h0m5 6h0m2-3h0m0-2h0m1 5h0m1-1h0m1-1h0m1-5h0m3 6h0m4-1h0m5 0h0m10 0h0m3-3h0m3 5h0m5-2h0m5 0h0m1-4h0m5 1h0m2-2h0m11 0h0m17 2h0m12 2h0m4 3h0m189 0h0m19-4h0m2-1h0m14 2h0m1 2h0m20-1h0m5 1h0m3-2h0m2 1h0m0-5h0m7 6h0m2 1h0m5-4h0m0-2h0m38 0h0m2 5h0m2 0h0m14-1h0m4-1h0m3 1h0m0-5h0m7 0h0m0 3h0m13 0h0m2 1h0m15-4h0m2 7h0m0-5h0m2 5h0m23-4h0m6 2h0m15 2h0m4-6h0m6 5h0m3 0h0m4-5h0m1 6h0m2-5h0m1-1h0m2 4h0m1-3h0m0 3h0m3-1h0m9 2h0m0-1h0m5-4h0m1 3h0m-652 5h0m3 2h0m10 3h0m18 0h0m3 0h0m5-6h0m10 7h0m6-6h0m13 6h0m1-2h0m4-4h0m13 0h0m12 3h0m5 0h0m18 1h0m2-5h0m3 6h0m8-3h0m2 0h0m7-3h0m1 5h0m6-3h0m2 0h0m17 1h0m8-1h0m24-2h0m68 7h0m42-3h0m24 3h0m35-2h0m0 2h0m3-3h0m6-1h0m8 3h0m12-6h0m3 6h0m10-5h0m5-1h0m0 6h0m5-3h0m3 3h0m2-2h0m9 3h0m11-5h0m16 1h0m3-3h0m4 6h0m10-1h0m31-2h0m1-3h0m7 3h0m1 3h0m52-4h0m18-2h0m1 4h0m1 3h0m6 0h0m1-5h0m1 0h0m13 5h0m5-2h0m6-3h0m18 1h0m0 4h0m4-4h0m2 2h0m2-5h0m1 4h0m-649 9h0m1 1h0m7 1h0m39-6h0m11 5h0m0-5h0m7 2h0m4-2h0m19 5h0m9-6h0m1 6h0m20-3h0m1 1h0m6-4h0m20 3h0m4-2h0m0 6h0m4-7h0m0 4h0m4-2h0m1-2h0m5 2h0m12 3h0m4 0h0m1 1h0m17-1h0m3-4h0m44 0h0m107 3h0m26 0h0m12 2h0m2-4h0m1 0h0m11 5h0m4-2h0m8-2h0m8 1h0m6 2h0m19 1h0m4-1h0m3 1h0m4-6h0m8 6h0m1-7h0m17 2h0m1-2h0m1 5h0m5-3h0m2-1h0m0 4h0m3-5h0m4 1h0m3 6h0m2-7h0m1 4h0m1-3h0m2 3h0m7 0h0m2 3h0m1 0h0m2-4h0m1 4h0m11-6h0m1 0h0m54 4h0m9-4h0m2 6h0m1-4h0m1 1h0m2-4h0m10 5h0m2 2h0m11-4h0m2 3h0m5-6h0m0 1h0m2 1h0m3 0h0m6 2h0m-649 6h0m1 1h0m1-1h0m1 0h0m7 5h0m3-1h0m38 0h0m5-2h0m8 2h0m5-2h0m2 2h0m3-5h0m4 2h0m0 4h0m3 0h0m2-2h0m10-2h0m2 4h0m1-5h0m1 4h0m1-5h0m4 0h0m3 6h0m4-4h0m12 4h0m2 0h0m2-3h0m4 3h0m1-7h0m8 0h0m1 4h0m6 2h0m5-1h0m2 1h0m0-5h0m3 3h0m1-2h0m25-1h0m9 4h0m1-1h0m1-3h0m20 5h0m21 0h0m78-5h0m63 6h0m5-5h0m12 1h0m17 2h0m7 2h0m5-7h0m16 4h0m1 0h0m2 0h0m0 2h0m25-6h0m6 0h0m6 6h0m2-4h0m4 2h0m13-4h0m2 0h0m0 6h0m1-2h0m2-1h0m0 1h0m4-2h0m4 3h0m7 1h0m5-3h0m7 1h0m1 2h0m1-4h0m1 5h0m3-6h0m1 3h0m6-2h0m2 5h0m6-4h0m0-1h0m3-1h0m1 4h0m6-4h0m0 1h0m20 0h0m11 3h0m10-1h0m4 3h0m4-2h0m2-4h0m4 4h0m1 1h0m0-3h0m7-1h0m2 1h0m7-3h0m5 7h0m1-7h0m2 0h0m2 2h0m3 2h0m1-1h0m2 3h0m1 1h0m3-7h0m-648 10h0m1 4h0m5-1h0m9-5h0m17 7h0m19-5h0m6 1h0m1 3h0m2-6h0m12 7h0m6-7h0m12 6h0m1 1h0m4-2h0m9-2h0m1 3h0m8-3h0m2-1h0m1 2h0m1 1h0m0-1h0m3-1h0m0 4h0m5-1h0m1-2h0m3-3h0m14 1h0m0 5h0m8-4h0m0 3h0m4-3h0m4 3h0m26 0h0m5-5h0m28 0h0m14 1h0m100 2h0m27-1h0m7-3h0m11 1h0m11 0h0m19 1h0m2 0h0m4 5h0m1-4h0m3 1h0m2 2h0m3-2h0m4 1h0m0-1h0m4 0h0m0 2h0m8-1h0m2-3h0m29 5h0m11-5h0m5 2h0m0 1h0m3-1h0m0 1h0m1-3h0m2 2h0m5-4h0m4 6h0m1-6h0m1 5h0m0 2h0m6-5h0m14-2h0m3 2h0m6 0h0m9 4h0m0 1h0m0-5h0m0 2h0m9 1h0m7-3h0m1-2h0m10 3h0m1 2h0m2-1h0m18 2h0m2-4h0m6 1h0m2 4h0m1-1h0m0-3h0m1 3h0m9-4h0m8 2h0m3 2h0m1-5h0m1 2h0m1-3h0m0 6h0m1-6h0m5 6h0m10-4h0m3 1h0m1 3h0m4 0h0m-646 9h0m5-3h0m1-4h0m8 3h0m4 0h0m39-3h0m11 1h0m0 1h0m4-1h0m1 3h0m5 0h0m2 0h0m6 1h0m2-3h0m1 1h0m4 0h0m6-2h0m5 1h0m2-1h0m3-1h0m6 0h0m4 0h0m2 5h0m0 2h0m2 0h0m3-5h0m3 2h0m11-3h0m7 4h0m3 1h0m3-5h0m1 2h0m6-3h0m181 7h0m18-6h0m2 5h0m15-5h0m32 6h0m3 0h0m19-6h0m1 4h0m14-2h0m16 0h0m8 2h0m5-5h0m6 5h0m5 0h0m0-4h0m13 0h0m2 5h0m11-3h0m12-3h0m7 3h0m10-3h0m14 1h0m11 1h0m4 4h0m5-4h0m2 0h0m11 1h0m4 1h0m2 2h0m1-3h0m9 3h0m3-6h0m2 3h0m6-3h0m7 6h0m1-6h0m1 7h0m3-5h0m1-1h0m7 2h0m2-1h0m-621 13h0m1-4h0m7-2h0m8 1h0m6 5h0m14-7h0m1 3h0m7 4h0m15-4h0m13 1h0m10 1h0m7 1h0m12-1h0m8-1h0m10 1h0m11-4h0m4 2h0m7 0h0m17 1h0m10-1h0m1 3h0m1-6h0m2 2h0m13 1h0m1 2h0m2-1h0m15 3h0m87-2h0m66 0h0m7 0h0m10-2h0m24 1h0m2 3h0m8-3h0m2-1h0m4 3h0m7-6h0m14 1h0m6 5h0m2-2h0m8-2h0m8-2h0m1 0h0m5 4h0m3 2h0m2-4h0m2 2h0m0 1h0m4-5h0m4 1h0m1 4h0m0 1h0m1-2h0m2 0h0m4 2h0m1-6h0m1 6h0m3-2h0m3 1h0m1 1h0m20-3h0m2-3h0m1 5h0m0 2h0m7-5h0m12-1h0m15-1h0m5 7h0m11-3h0m3 0h0m6 0h0m8 3h0m1-7h0m8 4h0m1 0h0m7-1h0m0 3h0m2-1h0m7-4h0m2 6h0m1-2h0m1-5h0m1 6h0m6-4h0m1-1h0m1 4h0m1-5h0m0 3h0m2-2h0m5 3h0m-643 4h0m0 6h0m3-5h0m3 0h0m3 5h0m3-4h0m2-2h0m0 6h0m4-3h0m4 3h0m2 1h0m3-2h0m1-5h0m1 2h0m2 1h0m1 3h0m9 1h0m20-1h0m10-6h0m1 3h0m1 0h0m5 1h0m5 1h0m5-1h0m2 3h0m1 0h0m2-3h0m1-2h0m3 3h0m3-4h0m1 1h0m2 1h0m2 3h0m2-5h0m4 4h0m5-2h0m3-3h0m9 3h0m3 1h0m0 1h0m2 0h0m2-3h0m2 2h0m0-1h0m24-1h0m3 2h0m6 0h0m1 3h0m8-4h0m0 2h0m10-5h0m8 4h0m1-1h0m18-2h0m9 4h0m125 2h0m18-4h0m10 2h0m15-2h0m4 3h0m3 1h0m3-4h0m3 1h0m8 2h0m17 1h0m18-5h0m2 1h0m2-1h0m19 3h0m3 1h0m3-3h0m3 2h0m5-4h0m5 4h0m15 0h0m5-2h0m1 2h0m4 1h0m2-6h0m2 6h0m15-4h0m9 1h0m44 2h0m4 1h0m3 1h0m1-5h0m3 5h0m3 0h0m3-1h0m31 0h0m2-6h0m0 3h0m8 0h0m-654 12h0m22-7h0m4 3h0m0 2h0m7 1h0m3 1h0m11-6h0m2 4h0m0-5h0m3 1h0m6 2h0m4 3h0m8-5h0m3 6h0m4-1h0m2-4h0m1 4h0m1-4h0m1 0h0m0 2h0m7-1h0m3-1h0m1 1h0m2 2h0m0-1h0m2-3h0m0 2h0m1-3h0m12 6h0m3 1h0m4-3h0m2 2h0m3-3h0m4 4h0m9-4h0m0 4h0m1-6h0m7 5h0m3-1h0m3 0h0m0 1h0m0-5h0m3 4h0m0 1h0m2-3h0m2 0h0m6 3h0m19-4h0m2 0h0m1 1h0m1 4h0m4-1h0m6 0h0m6-3h0m6 4h0m6-7h0m22 4h0m2-2h0m41 3h0m29-1h0m63 1h0m27 0h0m22 1h0m1-4h0m11 1h0m3 2h0m4-2h0m6-2h0m0 3h0m2 1h0m12 1h0m7 0h0m6-1h0m0 1h0m19-4h0m7 1h0m1 1h0m7-4h0m2 2h0m7-1h0m19 1h0m7 3h0m15-2h0m6 0h0m4-2h0m2-1h0m2 3h0m3-2h0m3-1h0m0 4h0m6 2h0m3-4h0m9 1h0m5-1h0m0 2h0m1-2h0m2-1h0m8 1h0m0 4h0m5-1h0m2-5h0m3 2h0m7 1h0m2 4h0m1-2h0m5-3h0m1 4h0m-628 5h0m4 4h0m4-3h0m2 1h0m1 1h0m1 0h0m5-6h0m3 5h0m3-4h0m0 1h0m1 3h0m1-2h0m1-1h0m10 4h0m18-5h0m4 0h0m0 6h0m2-5h0m0 2h0m13-3h0m1 3h0m6 1h0m4-2h0m0 4h0m0-1h0m2-1h0m1-1h0m2-2h0m7 3h0m8 1h0m5-6h0m0 4h0m9 2h0m2-1h0m2-4h0m0 2h0m2 1h0m2 3h0m1-2h0m8 2h0m5 0h0m2-7h0m2 5h0m3-4h0m2 0h0m1 1h0m7 3h0m9 2h0m4-6h0m2-1h0m10 2h0m8 5h0m0-7h0m12 3h0m6 2h0m14 2h0m7 0h0m133-3h0m12-1h0m16 3h0m21-5h0m1 0h0m2 0h0m1 1h0m15 1h0m1 4h0m2-1h0m17 0h0m6 0h0m3-6h0m9 7h0m0-5h0m4 1h0m10 4h0m0-5h0m18-1h0m2 6h0m13-6h0m20 2h0m10 1h0m13 1h0m12 1h0m1-4h0m8-1h0m0-1h0m1 0h0m3 1h0m0 3h0m11-1h0m6-2h0m7 4h0m9 0h0m11-5h0m0 4h0m13-4h0m-645 15h0m11-2h0m4 2h0m0-4h0m9-2h0m1 5h0m6-3h0m1 4h0m5-2h0m0-5h0m3 7h0m0-7h0m4 7h0m1-1h0m1-3h0m10 2h0m4 2h0m7-3h0m2 2h0m0-3h0m5-1h0m3 2h0m2-2h0m8 5h0m3-6h0m7 1h0m0 1h0m4 2h0m4 2h0m3-5h0m3 5h0m37-7h0m4 3h0m16 3h0m4-1h0m1 1h0m0-3h0m1 0h0m2 3h0m8-3h0m26 0h0m0-3h0m3 4h0m25 1h0m12-5h0m12 5h0m30 1h0m1-6h0m40 6h0m77-1h0m0-3h0m8 2h0m9 0h0m5 2h0m4-6h0m3 0h0m24 2h0m5 0h0m2 3h0m4 1h0m5-2h0m6-2h0m6 0h0m4 0h0m8 1h0m2-3h0m20 3h0m3 1h0m7 1h0m5 1h0m10-6h0m16 7h0m4-6h0m8 0h0m6-1h0m9 1h0m5 0h0m3 5h0m2-3h0m1 4h0m0-3h0m3 2h0m2 1h0m0-1h0m3 1h0m3-4h0m1 0h0m3 0h0m33-1h0m-633 11h0m2-5h0m2 7h0m5-5h0m0 4h0m5-2h0m4-4h0m1 7h0m0-4h0m1-1h0m1 5h0m6-4h0m12 1h0m7 0h0m10-3h0m1 4h0m1 2h0m0-7h0m4 5h0m12-3h0m15-2h0m1 6h0m3-1h0m6-2h0m5 0h0m2 0h0m16 2h0m21 0h0m3-5h0m4 6h0m2-5h0m12 6h0m0-7h0m1 2h0m14 2h0m15 0h0m0-1h0m1 0h0m34 1h0m60 0h0m35 3h0m24-3h0m5-2h0m2-2h0m2 3h0m0 2h0m2-5h0m5 7h0m6-4h0m5 2h0m5-2h0m9 0h0m0-3h0m13 7h0m18-7h0m2 2h0m6 5h0m3-1h0m1-5h0m2 4h0m4-5h0m8 0h0m2 2h0m27 3h0m1-2h0m6 3h0m3 0h0m2 0h0m10-4h0m8-2h0m2 2h0m4 2h0m1-4h0m12 7h0m17 0h0m13-3h0m16-2h0m9-2h0m1 7h0m2-6h0m13 5h0m20 0h0m7-5h0m-638 10h0m1-1h0m1 2h0m2-1h0m3 1h0m0-3h0m4 3h0m2-3h0m2 6h0m3-6h0m5 5h0m2-3h0m1 3h0m1-5h0m3 0h0m0 2h0m2-1h0m0 3h0m2 1h0m8-6h0m1 3h0m4 4h0m3 0h0m0-3h0m6-2h0m2 5h0m4-7h0m5 2h0m1-1h0m0 2h0m3 2h0m5-5h0m10 0h0m0 1h0m2 4h0m4 2h0m4-3h0m1-1h0m4-3h0m0 4h0m5-3h0m3 4h0m1 1h0m13-5h0m1 0h0m1 1h0m0 4h0m2 1h0m1-5h0m5 1h0m10 0h0m15-2h0m15 6h0m15-6h0m9 3h0m7 3h0m11-6h0m5 4h0m9 0h0m18 2h0m20-7h0m58 2h0m17 3h0m13 2h0m10-6h0m12 1h0m3-2h0m7 7h0m5-3h0m23 2h0m23 0h0m19-5h0m9 5h0m1-1h0m1-3h0m2 0h0m32 0h0m15-2h0m3 2h0m12 1h0m12 0h0m2-2h0m7 6h0m8-3h0m7 0h0m17 1h0m2-1h0m8 1h0m1-1h0m3-1h0m0-3h0m12 7h0m1-1h0m1-1h0m2 0h0m0 1h0m2-6h0m2 1h0m25 2h0m5 1h0m-643 9h0m4-5h0m2 0h0m5 1h0m9-1h0m3 1h0m1 5h0m14-6h0m2 6h0m0-5h0m5-1h0m6 5h0m3-4h0m4 2h0m2-3h0m2 2h0m11 1h0m3-2h0m0-1h0m2 5h0m0 2h0m2-5h0m1-1h0m4 6h0m2 0h0m10-7h0m2 1h0m40 1h0m4 4h0m3-4h0m6 3h0m1 2h0m8-3h0m11 0h0m7 0h0m16 2h0m6-6h0m9 1h0m8 4h0m5 0h0m4-1h0m4-1h0m5-3h0m41 2h0m34 2h0m4-4h0m15 6h0m12-6h0m2 3h0m11-2h0m10-1h0m1 1h0m4 3h0m42 0h0m1-1h0m2 3h0m7 0h0m18-1h0m6 1h0m5-2h0m12-3h0m4 2h0m12 3h0m10 0h0m3-3h0m0 2h0m1 2h0m5-2h0m3-1h0m4-1h0m3 4h0m1 0h0m4-2h0m7-2h0m2 0h0m2-3h0m0 3h0m6-1h0m46 1h0m2-1h0m5 3h0m5-5h0m2 2h0m5-1h0m1 4h0m1 0h0m1-1h0m32-3h0m11 1h0m-647 10h0m5 2h0m4-6h0m0 2h0m7 0h0m2 0h0m1-1h0m6-1h0m9 6h0m1-3h0m1-2h0m0 2h0m1 3h0m6-5h0m18 2h0m6 1h0m5-1h0m2 3h0m0-5h0m8 4h0m4 2h0m0-3h0m2 2h0m9-4h0m0 2h0m34-3h0m0 1h0m10 2h0m3 1h0m0-3h0m3-2h0m3 3h0m4-3h0m2 5h0m3 0h0m1-3h0m3 5h0m3-7h0m0 3h0m3 4h0m0-6h0m19 3h0m8-1h0m6 3h0m31 0h0m35-4h0m15 3h0m3-3h0m9 1h0m14 1h0m2-4h0m10 0h0m14 2h0m25 1h0m16 0h0m0-1h0m5-1h0m3 4h0m5-5h0m3 3h0m25-1h0m1 1h0m3 3h0m9 1h0m3-7h0m1 7h0m10-4h0m1 0h0m5-1h0m19 4h0m26-2h0m4 3h0m3-6h0m1 0h0m24 2h0m2 2h0m1-2h0m1-1h0m9-1h0m7 0h0m4-1h0m4 5h0m9-1h0m16-1h0m1-3h0m3 5h0m4-4h0m3 5h0m15-3h0m0-3h0m1 0h0m2 5h0m3 0h0m1-5h0m2 1h0m0 6h0m13 0h0m5-3h0m10 0h0m4 2h0m-639 9h0m16-7h0m0 4h0m17 3h0m6-4h0m25-1h0m5 4h0m3-3h0m1-1h0m2 3h0m46-4h0m2 5h0m6-5h0m3 4h0m1-2h0m3 1h0m2 3h0m5-4h0m3 2h0m1 2h0m1-6h0m3 4h0m1-3h0m3 4h0m0-6h0m1 4h0m8-2h0m2 5h0m1-2h0m0-5h0m3 6h0m6-3h0m1 4h0m9-2h0m4-4h0m7-1h0m7 0h0m13 3h0m2 3h0m6 1h0m4-7h0m6 1h0m33 4h0m22 0h0m1-1h0m6-2h0m1 4h0m1-4h0m42 4h0m11 1h0m1-1h0m11-3h0m5 4h0m5-6h0m3 5h0m3-6h0m9 0h0m5 6h0m11 0h0m18-4h0m22 4h0m0-3h0m1-2h0m12 0h0m5-1h0m5 6h0m3-1h0m3 2h0m9 0h0m3-5h0m5-1h0m3 1h0m0 5h0m6-1h0m0-3h0m8-2h0m24 0h0m19 4h0m0 2h0m11-1h0m2-4h0m10-2h0m15 0h0m1 1h0m8 4h0m2-3h0m3 4h0m1-4h0m2 4h0m5-1h0m0 2h0m8-3h0m9-4h0m1 6h0m1 1h0m1-2h0m2-2h0m1-3h0m-633 12h0m17-2h0m10-2h0m14 6h0m21-1h0m11-4h0m5 5h0m25-4h0m9 0h0m5-1h0m3 4h0m10-4h0m6 2h0m9-3h0m3 5h0m1 1h0m2-5h0m0 4h0m1 1h0m17-6h0m1 4h0m13-2h0m7-2h0m13 1h0m6 1h0m9 0h0m3 3h0m8 0h0m13 1h0m5 1h0m6-4h0m10-3h0m2 2h0m30 0h0m1 1h0m0 2h0m1-4h0m8 3h0m37-3h0m10 4h0m1 2h0m14-2h0m13-3h0m3 2h0m2-1h0m9 0h0m1 1h0m2-3h0m9 3h0m4-2h0m6 1h0m12 1h0m1 3h0m7-5h0m14-1h0m4-1h0m0 2h0m13 0h0m3-2h0m3 2h0m4 4h0m5-3h0m4-1h0m1-1h0m4-1h0m5 6h0m5-1h0m30-2h0m3 3h0m19-1h0m3 0h0m35-5h0m7 2h0m3 1h0m6 3h0m5-5h0m3-1h0m2 5h0m2 2h0m0-3h0m1 1h0m1 1h0m0 1h0m7-7h0m0 4h0m5-1h0m3 2h0m2-1h0m-642 10h0m5-3h0m2 2h0m7 0h0m4-3h0m2-1h0m7 5h0m2 0h0m0-5h0m3 2h0m2-3h0m0 6h0m6-5h0m1-1h0m7 7h0m18-5h0m5-2h0m17 0h0m15 2h0m1 5h0m2 0h0m42-3h0m2-1h0m5 0h0m7 2h0m3-2h0m1-2h0m1-1h0m6 0h0m1 0h0m2 0h0m5 2h0m9 0h0m9 3h0m1-1h0m3-3h0m3 1h0m0 4h0m2-6h0m3 7h0m13-4h0m2 1h0m3-2h0m2 4h0m0-6h0m14 2h0m64 5h0m16-5h0m49 0h0m10 1h0m3-3h0m1 6h0m11 1h0m1-7h0m2 6h0m3-5h0m3-1h0m1 0h0m2 1h0m8 6h0m8-6h0m1 1h0m2 0h0m0 4h0m3-6h0m0 3h0m15 1h0m1 2h0m1-3h0m0-3h0m1 2h0m2-2h0m1 3h0m3-3h0m8 6h0m13 0h0m15-5h0m1-1h0m13 2h0m7 2h0m9-4h0m41 1h0m2 4h0m4-1h0m13 0h0m0-1h0m11 2h0m28 0h0m1 1h0m4-3h0m2 4h0m6-3h0m3-1h0m1 2h0m3-4h0m-651 10h0m4-2h0m2 0h0m2 3h0m4-3h0m2 3h0m1-4h0m7 1h0m2 6h0m3-7h0m0 5h0m1-3h0m5-1h0m3 6h0m0-3h0m3 1h0m1 0h0m9-5h0m7 1h0m2 3h0m2-1h0m0 2h0m22 2h0m2 0h0m1 0h0m11-4h0m8 0h0m10-2h0m0 4h0m1 1h0m5 1h0m8-1h0m15-5h0m15 5h0m9-2h0m12 3h0m1-4h0m6 2h0m6 0h0m1-3h0m8-1h0m3 4h0m0 2h0m1-1h0m1 0h0m10-2h0m3-3h0m15 2h0m5 0h0m2-2h0m4 3h0m3 2h0m1 0h0m2-1h0m19 2h0m34-5h0m10 3h0m10-5h0m21 3h0m1 2h0m4-3h0m3 5h0m16-7h0m16 0h0m0 7h0m1-1h0m6-6h0m1 3h0m1-1h0m11 1h0m2-2h0m1 3h0m2 1h0m0-5h0m2 0h0m7 1h0m6 5h0m7-3h0m7 3h0m23 1h0m10-2h0m0 2h0m0-7h0m4 0h0m24 6h0m31 0h0m4-2h0m11 2h0m6-5h0m1-1h0m13 4h0m6 1h0m2 1h0m0-3h0m10-2h0m7 5h0m3 1h0m4-3h0m2-4h0m3 6h0m1-4h0m20 5h0m1-5h0m2 5h0m3-3h0m0-1h0m5-2h0m3 4h0m1-3h0m1 0h0m1 4h0m4-4h0m5 4h0m2-3h0m-651 8h0m16-2h0m1 1h0m12 2h0m1-2h0m1 4h0m3 0h0m17-2h0m0 2h0m1-6h0m5 0h0m2 3h0m6 3h0m5 0h0m7-3h0m3-2h0m32 2h0m4 4h0m4-3h0m12-2h0m1 3h0m2 2h0m5-4h0m5 0h0m4 0h0m16 4h0m5-1h0m2-3h0m1-1h0m4-1h0m5-1h0m5 5h0m2-5h0m1 5h0m6-5h0m2 1h0m2 4h0m6-3h0m12 5h0m4-2h0m2 2h0m2-6h0m26 2h0m14 4h0m3-5h0m8 2h0m43-2h0m22 2h0m1 1h0m12 0h0m13-1h0m19-3h0m3-1h0m13 1h0m2 3h0m13 2h0m2-1h0m3-3h0m14 0h0m1 5h0m13-7h0m14 2h0m3-1h0m5-1h0m13 4h0m3 3h0m35-7h0m4 3h0m3-3h0m6 7h0m0-7h0m13 2h0m1 2h0m16 0h0m12 3h0m11-3h0m7 2h0m1-1h0m7 2h0m2-5h0m2 5h0m1-7h0m2 1h0m6 1h0m1 1h0m5 3h0m6-4h0m3 4h0m11 0h0m4-4h0m1 2h0m-646 6h0m12 1h0m3 2h0m2-5h0m0 4h0m16-2h0m4 5h0m8-5h0m0 3h0m6-5h0m1 1h0m3-1h0m1 4h0m1 0h0m1 1h0m0 2h0m1-1h0m1-2h0m11 2h0m2-1h0m13-1h0m17-1h0m7 4h0m0-7h0m5 6h0m5-1h0m13 2h0m2-5h0m2 0h0m3-1h0m4 1h0m8 1h0m6-3h0m1 3h0m6 4h0m7-5h0m4 4h0m4 0h0m1-2h0m3 2h0m6 1h0m4-7h0m2 2h0m0 3h0m5-1h0m3 1h0m4-2h0m0-3h0m5 0h0m17 6h0m13-2h0m7-3h0m0-1h0m3 5h0m40-4h0m8 2h0m0 1h0m23-3h0m7 2h0m34 3h0m1-5h0m9 0h0m2 4h0m6 0h0m8 2h0m4-1h0m6-2h0m1-2h0m2-2h0m2 5h0m1-2h0m1 4h0m11-6h0m4 1h0m7 4h0m8 0h0m2-3h0m6-2h0m20 4h0m16-2h0m3 2h0m4-5h0m3 2h0m1 0h0m2-1h0m32 4h0m5 1h0m12-3h0m9-3h0m13 0h0m3 6h0m4-4h0m1-1h0m6 0h0m2 5h0m2-2h0m3-1h0m0-1h0m2 2h0m0 2h0m1-3h0m3-1h0m1 4h0m9 1h0m3-4h0m8 2h0m0 1h0m1-4h0m4 5h0m1-7h0m1 5h0m0-3h0m1 4h0m1-4h0m0 2h0m6 3h0m1-2h0m4-1h0m6-2h0m2-2h0m1 0h0m2 7h0m1-4h0m2 2h0m-652 4h0m2 2h0m10-2h0m2 6h0m7 0h0m2-4h0m12 4h0m6-1h0m2-3h0m3 0h0m11-3h0m2 1h0m4 6h0m1 0h0m3-1h0m5-5h0m29 5h0m8-2h0m2 3h0m2 0h0m5-1h0m0-4h0m1-1h0m8 6h0m4-2h0m15 1h0m8-1h0m28-3h0m8 0h0m1 1h0m1 1h0m1-2h0m2 2h0m0 2h0m7-3h0m4 4h0m19-2h0m10 0h0m6 0h0m22-4h0m2 4h0m15-5h0m4 6h0m9-3h0m7-3h0m6 2h0m11-1h0m7-1h0m4 6h0m4-3h0m8 2h0m4 0h0m5-3h0m21-1h0m3 1h0m5 4h0m4-3h0m10-1h0m3-2h0m1 2h0m1 1h0m3-3h0m3 1h0m1 5h0m1-6h0m15 2h0m2-1h0m0 6h0m5-1h0m4-1h0m31-5h0m11 1h0m9 6h0m22-7h0m4 5h0m37-1h0m4-4h0m5 5h0m12 2h0m2-3h0m5-2h0m6 3h0m15-4h0m2 2h0m1 1h0m4 0h0m1 0h0m3-1h0m1 3h0m1-4h0m10 1h0m1-2h0m4 4h0m0 2h0m12-2h0m6 1h0m0-3h0m8 4h0m2-3h0m0 3h0m-650 3h0m6 4h0m1-5h0m6 4h0m3-5h0m7 1h0m8 6h0m11-3h0m1-3h0m0 2h0m5 4h0m0-1h0m1-2h0m2-3h0m5 6h0m0-3h0m3-1h0m3 0h0m0 2h0m1 0h0m0-3h0m3 4h0m24-3h0m7 1h0m8-3h0m4 3h0m4 1h0m2 2h0m1-4h0m1 0h0m8-2h0m8 0h0m3 3h0m9-1h0m13 3h0m7 1h0m2-3h0m3 2h0m2-1h0m0 1h0m1 1h0m4 0h0m9-7h0m0 7h0m1-7h0m8 2h0m14 3h0m15 0h0m22-2h0m6 4h0m7-4h0m3 3h0m10 1h0m5-4h0m3 1h0m13-3h0m12 5h0m5-4h0m5-2h0m19 7h0m6-5h0m1-2h0m8 0h0m7 1h0m0 6h0m7-4h0m3 4h0m3-6h0m9 6h0m31 0h0m9-7h0m19 1h0m16 4h0m9 1h0m8 1h0m2-7h0m16 7h0m5-3h0m8 0h0m9-1h0m20 2h0m16-2h0m10-3h0m12 5h0m3 0h0m1 0h0m4-1h0m9 2h0m5-3h0m1 2h0m1-4h0m6 6h0m4-1h0m0-4h0m3 0h0m5-1h0m4 4h0m0-5h0m2 5h0m5 2h0m4-2h0m9 2h0m13-7h0m-646 12h0m6-1h0m0 4h0m1 0h0m1-2h0m2-2h0m7 4h0m4-4h0m4 1h0m3-3h0m2 0h0m0 6h0m5-2h0m0-3h0m1 4h0m1-3h0m4 0h0m2 1h0m2 1h0m2-2h0m1 0h0m1-3h0m2 2h0m3-2h0m0 2h0m3 4h0m1-3h0m8-3h0m13 5h0m2-3h0m13 2h0m6 1h0m3 1h0m0-1h0m2 0h0m3-2h0m3 1h0m0-3h0m12 1h0m2-2h0m10 7h0m26-7h0m1 2h0m1 1h0m3-2h0m0 1h0m2-1h0m12 5h0m3 1h0m10-4h0m2-3h0m0 2h0m4 0h0m1 4h0m5-5h0m19 6h0m1 0h0m9-2h0m5 2h0m1 0h0m3-6h0m8 4h0m6 1h0m9 0h0m1 1h0m7-1h0m2-6h0m5 7h0m21-4h0m6-3h0m2 0h0m4 5h0m13 2h0m16-1h0m5-6h0m3 2h0m1 3h0m1-4h0m1 5h0m0-1h0m5 1h0m4 1h0m7-5h0m2 0h0m4 2h0m1 1h0m17-3h0m18 4h0m40-3h0m3 0h0m6 3h0m8 0h0m6-3h0m5-3h0m1 1h0m4 2h0m10 3h0m5-5h0m63 1h0m3 4h0m3-2h0m0-1h0m4-3h0m2 3h0m4 3h0m4 0h0m4-6h0m2 4h0m25-4h0m8 3h0m0-3h0m6 3h0m2 2h0m19 2h0m-647 4h0m6 0h0m1-1h0m1 1h0m1 3h0m2-2h0m0-3h0m4 3h0m1 2h0m6-1h0m0-1h0m4 3h0m2-3h0m1-4h0m3 4h0m1-2h0m5-2h0m9 6h0m2-3h0m1 1h0m13 0h0m15-2h0m19-1h0m3 3h0m3 0h0m1 2h0m5-5h0m1 1h0m19 2h0m5 2h0m6-1h0m4-1h0m0 2h0m1-3h0m3 0h0m1 0h0m4-2h0m2 6h0m3-2h0m0-1h0m4 0h0m19 0h0m29 1h0m6 1h0m5 0h0m1-5h0m4 3h0m2 2h0m5-5h0m22 5h0m1-3h0m2 1h0m4 2h0m18-6h0m5 1h0m5 6h0m5-6h0m4 6h0m0-6h0m5 0h0m1 1h0m2 5h0m4-1h0m13-4h0m3-2h0m39 3h0m4-1h0m21-2h0m28 7h0m20-6h0m3 1h0m12 2h0m0 2h0m3-5h0m8 5h0m2-5h0m10 5h0m7 0h0m0-5h0m3 5h0m10-2h0m8 1h0m1-1h0m19 3h0m13-1h0m20-5h0m0 4h0m9-3h0m2 2h0m2 0h0m7-3h0m4 4h0m7 1h0m1-5h0m5 3h0m8 2h0m22-3h0m23-2h0m-649 11h0m10 3h0m0-3h0m3 3h0m0-5h0m2-2h0m0 2h0m1-1h0m3 5h0m2-2h0m6 1h0m4 1h0m15 1h0m7-5h0m6 1h0m12 3h0m13 0h0m2-1h0m3-4h0m7 2h0m5 0h0m2 0h0m5 2h0m22 2h0m9-6h0m6 3h0m1 3h0m10-6h0m1 4h0m7-1h0m1 3h0m13 0h0m26-2h0m14-5h0m19 1h0m6 5h0m15-4h0m1 1h0m5-2h0m2 3h0m0 1h0m1 1h0m11-3h0m3 4h0m4-1h0m1 0h0m2 1h0m2-6h0m3 4h0m0-3h0m0 4h0m1-6h0m10 6h0m5-5h0m12 5h0m6-3h0m20-3h0m2 2h0m1 3h0m0-4h0m3-1h0m6 5h0m2 0h0m2-2h0m2-2h0m39 4h0m10 0h0m3 0h0m0-5h0m24 6h0m11-2h0m4 2h0m1-2h0m2 1h0m2-2h0m1 3h0m1 0h0m2-2h0m7-4h0m1 0h0m16 3h0m3-2h0m5-1h0m4 3h0m22-1h0m11 5h0m24-6h0m1 0h0m3 0h0m4 1h0m1 5h0m3-6h0m3 4h0m2-3h0m0 5h0m2-4h0m8-1h0m6 5h0m16-5h0m8 1h0m4 4h0m2-3h0m1 0h0m12-4h0m5 4h0m3 2h0m5-5h0m2 5h0m-651 2h0m1 3h0m1 1h0m1 3h0m0-4h0m1-1h0m0-1h0m3 6h0m1-2h0m4-1h0m2 3h0m6-2h0m6 2h0m1-4h0m13-2h0m9-1h0m5 4h0m2-3h0m6 1h0m18 4h0m6-1h0m12-5h0m34 1h0m13 4h0m0 1h0m3-5h0m1 5h0m4-5h0m1 5h0m1 0h0m7 1h0m6-3h0m1 0h0m10 3h0m7-6h0m8 0h0m13-1h0m20 4h0m4-3h0m1-1h0m5 4h0m1 1h0m5-5h0m1 0h0m8 2h0m2 4h0m4-6h0m22 0h0m0 2h0m10 1h0m6-3h0m4 2h0m4-1h0m0 2h0m1 3h0m1-6h0m1 6h0m2-5h0m1 1h0m0 2h0m4-3h0m18 1h0m25 0h0m4 3h0m8 0h0m3-2h0m2 1h0m1 3h0m1-7h0m1 4h0m3 1h0m11-1h0m7 3h0m1 0h0m2-4h0m3 2h0m14 0h0m8-5h0m4 0h0m15 2h0m12 3h0m7-2h0m4-3h0m1 5h0m6-5h0m13 5h0m9-5h0m6 5h0m1 0h0m1-3h0m1-2h0m1 0h0m7 5h0m11-5h0m4 4h0m3 2h0m2-1h0m5-1h0m1 2h0m11-2h0m1 1h0m16-1h0m8 1h0m1 0h0m1 2h0m0-5h0m7 1h0m0 4h0m2-3h0m1-3h0m1 2h0m9 1h0m3 3h0m8-5h0m5 0h0m3 3h0m1-1h0m10-3h0m2 1h0m8 5h0m13-2h0m-650 5h0m1 4h0m2 1h0m4 0h0m4-6h0m5-1h0m1 7h0m6 0h0m14-5h0m20-2h0m5 7h0m1-5h0m4 5h0m10-4h0m5 3h0m3-6h0m2 1h0m17 4h0m7-4h0m7 1h0m2 4h0m2-5h0m7 4h0m1-4h0m4 5h0m1-5h0m5 3h0m5-1h0m13 3h0m6-3h0m7 3h0m13-6h0m5 7h0m0-7h0m13 1h0m18 4h0m21-4h0m1 1h0m2 3h0m2-2h0m24-1h0m11-1h0m1 1h0m2 4h0m1 0h0m0-3h0m5-1h0m1 3h0m14-2h0m4 4h0m3-7h0m6 2h0m3 1h0m6 1h0m15-4h0m2 1h0m3 0h0m6 0h0m0-1h0m6 4h0m6 0h0m9 3h0m2-5h0m8 4h0m0-2h0m6 0h0m1-3h0m4 6h0m12 0h0m2-2h0m2 1h0m1 0h0m3-1h0m0-1h0m5 0h0m7 2h0m8-1h0m14-1h0m1 3h0m5-5h0m27 2h0m15-3h0m2-1h0m7 7h0m2-4h0m3 4h0m1-4h0m2-2h0m13 4h0m1-3h0m2 2h0m7 0h0m5-4h0m1 3h0m5 4h0m1-6h0m1 5h0m1 1h0m2 0h0m1-3h0m2 0h0m5 2h0m3-5h0m1 3h0m7-4h0m9 0h0m0 3h0m1 0h0m3 3h0m11-4h0m12 5h0m5-4h0m4 1h0m0 3h0m4 0h0m0-3h0m1 2h0m4-3h0m6-1h0m3 1h0m3 1h0m8 2h0m2-2h0m4 0h0m-651 8h0m1 1h0m4 0h0m3-4h0m52 3h0m1 3h0m7-7h0m5 7h0m2-4h0m3 4h0m1-4h0m3 0h0m9 0h0m10-2h0m4 5h0m4-3h0m1-1h0m0 2h0m4 3h0m4-4h0m3-3h0m9 1h0m3-1h0m4 0h0m5 6h0m0-1h0m1 0h0m2 2h0m9-2h0m1-3h0m22 2h0m3 0h0m1 1h0m17-3h0m45 3h0m13 2h0m5-1h0m7 1h0m0-5h0m3 0h0m3 3h0m3 0h0m9-5h0m6 1h0m7 4h0m8 0h0m2-4h0m4 4h0m0 1h0m2-5h0m11 4h0m9-3h0m3 4h0m1 0h0m2 1h0m4-5h0m3 3h0m14 1h0m0-3h0m12 0h0m12 3h0m0-3h0m1-2h0m2 0h0m3 5h0m5-1h0m4-4h0m3 5h0m4-1h0m1-2h0m3-1h0m14 3h0m4-3h0m6 4h0m7 0h0m2-2h0m5 1h0m4-3h0m6 3h0m13 2h0m5-7h0m27 6h0m7-2h0m4-3h0m5-1h0m7 7h0m4 0h0m3-4h0m3 3h0m4 1h0m4-7h0m8 2h0m5 1h0m4-3h0m1 4h0m1 0h0m5 0h0m12 1h0m3-4h0m8 3h0m1 2h0m10-4h0m5 1h0m0 4h0m8-6h0m3 0h0m1 2h0m2 2h0m5-1h0m3-1h0m4 2h0m1 2h0m3-3h0m-633 7h0m3-3h0m1 7h0m2-7h0m13 7h0m3-3h0m24 3h0m4-5h0m7-1h0m6 0h0m4 3h0m3 1h0m3 2h0m4-6h0m17 1h0m7 2h0m2 1h0m5 1h0m3-1h0m3 2h0m7-3h0m6-3h0m7 0h0m4 4h0m3 1h0m4-3h0m5-1h0m3 1h0m15 3h0m14-4h0m15 3h0m3 1h0m9-6h0m14 6h0m5-6h0m29 1h0m5 0h0m8 3h0m1 0h0m3 0h0m17 1h0m0-5h0m5 3h0m7-3h0m3 3h0m0 4h0m2-5h0m7 3h0m1 2h0m0-3h0m3 1h0m0 2h0m0-4h0m5 0h0m4-3h0m6 1h0m6 1h0m2-2h0m3 4h0m0-3h0m4 3h0m2 2h0m0-1h0m2 1h0m0-1h0m5-3h0m3-1h0m0 6h0m1-4h0m3 0h0m3-1h0m1-1h0m3 1h0m4 2h0m2-3h0m0 2h0m3 0h0m0-3h0m1 5h0m3 1h0m8-2h0m0 2h0m6-4h0m2 0h0m1-2h0m6 0h0m11 1h0m1 4h0m3-3h0m6 1h0m13 0h0m10 0h0m8 4h0m22-5h0m11-2h0m2 4h0m7-4h0m1 4h0m1 2h0m8 1h0m9-4h0m1 3h0m10-1h0m2 0h0m8 1h0m6 0h0m1-2h0m4 1h0m2-3h0m8 2h0m2 0h0m2-3h0m5 1h0m4-2h0m1 7h0m1-5h0m8 1h0m4-3h0m3 7h0m8-1h0m8-3h0m3 0h0m1 3h0m4-1h0m1 1h0m4-5h0m4 6h0m2-4h0m3-2h0m3 0h0m3 3h0m1-1h0m4-3h0m-648 13h0m0-3h0m1 2h0m1-4h0m5 3h0m7-3h0m2 0h0m1 1h0m0 2h0m0 1h0m3-3h0m18 6h0m0-7h0m2 3h0m1 3h0m0-3h0m1-2h0m5 3h0m8-4h0m7 2h0m1 1h0m3-2h0m0-1h0m4 2h0m1 5h0m4-7h0m5 7h0m2-5h0m11-2h0m11 0h0m7 5h0m7 2h0m11-2h0m5 1h0m4-3h0m0 2h0m5 0h0m2 0h0m0 2h0m6-7h0m3 2h0m11 3h0m1-2h0m1-2h0m0 2h0m5 2h0m3 0h0m8-5h0m3 7h0m6-4h0m1-1h0m0 3h0m2-2h0m2 0h0m1 0h0m10 3h0m42-2h0m33 0h0m22 0h0m5-1h0m3 0h0m0 1h0m1-3h0m5 2h0m2 3h0m2-6h0m1 3h0m3 4h0m4-6h0m1 3h0m6 0h0m21-3h0m5 2h0m3 1h0m1 2h0m2-3h0m2-3h0m5 0h0m2 3h0m2-3h0m11 2h0m1-1h0m2 2h0m5-2h0m2 6h0m0-7h0m4 6h0m2-2h0m15 1h0m2-3h0m8 0h0m8 0h0m12-2h0m11 2h0m10 5h0m1-1h0m2-3h0m6 1h0m15 2h0m7 1h0m1 0h0m3-3h0m1 1h0m3-4h0m3 2h0m2-2h0m2-1h0m9 6h0m10 1h0m1-5h0m27 1h0m0-3h0m1 3h0m3 1h0m10 0h0m6-1h0m20 0h0m6 4h0m6 0h0m0-5h0m1 1h0m3 0h0m5 3h0m1-5h0m0 2h0m8-2h0m1 1h0m2 4h0m4-4h0m1 0h0m3 2h0m-647 7h0m1 3h0m12-2h0m11-1h0m9-2h0m3 3h0m0-3h0m3 1h0m3-1h0m1 2h0m1 2h0m7-4h0m3 4h0m6 0h0m3-5h0m9 4h0m1-2h0m4 2h0m21-4h0m13 3h0m1-1h0m2 1h0m4-2h0m0 4h0m4-4h0m8 4h0m2-1h0m4 2h0m3-3h0m1-3h0m0 4h0m2-3h0m4-1h0m1 1h0m6-1h0m2 4h0m4-2h0m11 3h0m0 2h0m1-2h0m1-2h0m1 1h0m7-4h0m1 4h0m3 3h0m1-4h0m6 2h0m3 1h0m0-4h0m1-2h0m1 6h0m9 0h0m1-6h0m14 0h0m8 3h0m28 2h0m8 1h0m22 1h0m2 0h0m7-6h0m0 2h0m8-2h0m6-1h0m6 4h0m1 2h0m1-5h0m1 1h0m0 1h0m0 4h0m1-5h0m1 5h0m1-2h0m3-1h0m3 2h0m1 1h0m0-7h0m0 2h0m0 2h0m0-1h0m7 0h0m7 1h0m4 2h0m9-2h0m3-3h0m9-1h0m2 3h0m4 4h0m1-2h0m6 2h0m1 0h0m8-6h0m3 1h0m11-1h0m0 4h0m4 0h0m2-3h0m1 5h0m4-7h0m2 1h0m21 1h0m5-1h0m1 4h0m9 0h0m2 0h0m9-3h0m5 1h0m7 0h0m1 0h0m20 2h0m10 1h0m3-5h0m2 4h0m1-3h0m2 1h0m1-2h0m3-1h0m3 2h0m1 4h0m0-4h0m2 5h0m6-5h0m3 3h0m3 2h0m3-4h0m0 3h0m2-4h0m6-1h0m0 3h0m6 1h0m4-2h0m3-1h0m0 4h0m1-3h0m1-2h0m1 3h0m1 2h0m8 0h0m4-1h0m0 2h0m3-1h0m2-6h0m4 5h0m1-4h0m12 2h0m3-3h0m3 5h0m0 1h0m8-5h0m1 3h0m0-3h0m7-1h0m3 6h0m15 0h0m5-6h0m3 2h0m2-1h0m-646 11h0m1 0h0m10-3h0m5 3h0m12 3h0m2-7h0m5 5h0m1-5h0m5 4h0m3-4h0m3 2h0m21-2h0m3 4h0m5 2h0m4-1h0m10-4h0m11 2h0m8-2h0m1 2h0m2 0h0m7-3h0m5 0h0m1 0h0m2 3h0m4 0h0m6-2h0m3 3h0m1 2h0m11 0h0m14-5h0m2 2h0m3 3h0m3 1h0m1-5h0m8 4h0m45-5h0m10 2h0m23 0h0m6 1h0m9 3h0m11-2h0m16-3h0m3 5h0m2-5h0m0 2h0m0 1h0m1 2h0m1 0h0m0-1h0m1-3h0m2-1h0m1 3h0m2-5h0m0 3h0m2 2h0m2-1h0m1 2h0m5-1h0m13-1h0m2-4h0m2 1h0m1 4h0m4-3h0m4-1h0m2 0h0m1 1h0m1 5h0m8 0h0m2 0h0m1 0h0m3-6h0m7-1h0m8 1h0m7 6h0m2-3h0m2 3h0m1-3h0m6-1h0m1-2h0m2 3h0m1-1h0m1 0h0m5-2h0m0 1h0m2 1h0m2 0h0m0 3h0m1-2h0m1-3h0m3 1h0m8 5h0m14 0h0m2-4h0m0-3h0m3 2h0m1 5h0m2-4h0m5 2h0m1-4h0m4-1h0m1 5h0m14-1h0m7 0h0m3 3h0m0-3h0m14 0h0m1-2h0m5 3h0m0 2h0m3-4h0m8 4h0m4-7h0m3 6h0m3 0h0m5-4h0m1-1h0m3 6h0m3-5h0m7-2h0m2 4h0m3-1h0m2-3h0m1 4h0m4 1h0m1-4h0m6 6h0m4-3h0m0 2h0m7-1h0m4 0h0m7-3h0m2-2h0m2 1h0m5 3h0m2 2h0m2-3h0m13 3h0m4-3h0m0-3h0m16 4h0m7 0h0m-645 8h0m12 2h0m9-1h0m3-3h0m1-1h0m16 1h0m7 2h0m1-2h0m2-2h0m0 6h0m2-1h0m1 0h0m0-5h0m4 3h0m2 1h0m2 0h0m5-1h0m3-1h0m5 2h0m5-4h0m8 5h0m4-2h0m2 1h0m2 2h0m2-6h0m3 6h0m3-3h0m2 0h0m2 2h0m4-1h0m0 2h0m1-2h0m5 3h0m6-5h0m0 4h0m1-2h0m3-1h0m7-2h0m0 1h0m1 2h0m8 2h0m22-6h0m4 6h0m9-1h0m1-3h0m37 1h0m3 0h0m36 3h0m10-2h0m4-1h0m7 3h0m1-2h0m24-4h0m1 6h0m5 0h0m15-4h0m7 2h0m5-3h0m1 3h0m10 3h0m0-3h0m1 2h0m2-6h0m0 2h0m4 5h0m3-3h0m1 1h0m9-2h0m18-3h0m1 5h0m1-2h0m2 4h0m3-4h0m7 1h0m0 1h0m4 2h0m5-3h0m2-1h0m2-3h0m0 3h0m3-2h0m2 1h0m8 1h0m1 0h0m2-2h0m4-1h0m1 2h0m1 1h0m2-1h0m1 1h0m1 3h0m2-2h0m3-3h0m11-1h0m14 2h0m4 4h0m11 1h0m1-2h0m6-4h0m2 0h0m1 3h0m5-3h0m0 4h0m9-4h0m2 1h0m1 0h0m4 5h0m8-4h0m6 2h0m1-5h0m10 4h0m0-1h0m1-1h0m2 3h0m2-2h0m1 1h0m1 1h0m3 1h0m1-6h0m0 7h0m2-5h0m2-2h0m1 0h0m1 2h0m2 5h0m2-6h0m1 0h0m8 3h0m0-3h0m0 4h0m1-4h0m9 4h0m6-2h0m4 2h0m1-5h0m14 1h0m1 3h0m10 3h0m22-2h0m12-3h0m3 1h0m-620 6h0m15 4h0m1-2h0m2 4h0m2-7h0m6 3h0m4 0h0m1 3h0m6 0h0m1-4h0m0 5h0m5-2h0m21-3h0m9 4h0m1 0h0m3 1h0m3-5h0m12-2h0m6 5h0m10 1h0m0-3h0m6-1h0m1 5h0m4-1h0m10-4h0m1 2h0m5-3h0m0 3h0m8-2h0m1 3h0m2-3h0m5 2h0m14-1h0m7-1h0m14 2h0m5-1h0m15 3h0m1 0h0m2-3h0m1 0h0m10-2h0m10 5h0m21 1h0m1-1h0m17-4h0m5-2h0m4 4h0m1-4h0m2 2h0m0-1h0m2 3h0m7-2h0m1 5h0m3 0h0m10-1h0m5-2h0m2 1h0m5 1h0m8 1h0m1-2h0m12 2h0m8-2h0m3 1h0m1-1h0m6-3h0m2 1h0m1 3h0m2-1h0m2-4h0m2-1h0m3 4h0m2 0h0m3-3h0m5 2h0m11-2h0m0 1h0m6 3h0m0 2h0m0-7h0m0 1h0m1-1h0m3 3h0m0 4h0m1-3h0m1-3h0m3 6h0m25-3h0m4-4h0m6 1h0m0 1h0m11 2h0m11-2h0m31 4h0m6 1h0m9-1h0m1 1h0m9-3h0m8 1h0m0-2h0m1 3h0m1-1h0m9 1h0m2-5h0m1-1h0m2 6h0m3 0h0m15 1h0m0-7h0m12 5h0m15-4h0m1 3h0m1 2h0m2-6h0m1 7h0m0-3h0m10 0h0m3 1h0m0-5h0m2 7h0m3-2h0m3 2h0m1-6h0m1 2h0m2 1h0m0 2h0m4 1h0m-644 8h0m37-3h0m1-3h0m0-1h0m4 3h0m1 2h0m4-3h0m2 1h0m6 0h0m0 1h0m2-2h0m1 0h0m4 3h0m2-4h0m1 0h0m7 6h0m30-3h0m8 2h0m10 1h0m4-2h0m7 0h0m8 2h0m0-3h0m3-4h0m4 5h0m1-4h0m2 4h0m1-1h0m1 2h0m0-1h0m9 2h0m7-1h0m12 1h0m2-2h0m4 1h0m3-2h0m13-2h0m21 1h0m2-2h0m18 3h0m15-3h0m3 1h0m8 4h0m2-2h0m9 0h0m7 3h0m9-5h0m0-1h0m3 4h0m2-3h0m6-1h0m3 1h0m2 0h0m1 5h0m17-2h0m8-3h0m0-1h0m3 0h0m1 3h0m2 2h0m6 1h0m6-3h0m2-4h0m3 4h0m2 2h0m4-6h0m4 3h0m10-3h0m10 6h0m6-2h0m1-4h0m2 7h0m2-7h0m1 2h0m2 1h0m10-2h0m1 0h0m0 2h0m0 3h0m5-6h0m1 1h0m1 4h0m5 2h0m5-4h0m0 2h0m6-5h0m2 0h0m3 4h0m0-3h0m3 3h0m10 1h0m6-2h0m15 2h0m1 2h0m1-4h0m1-3h0m1 3h0m1 1h0m5 3h0m1-6h0m4 0h0m15 6h0m16-3h0m4 3h0m2-2h0m4 2h0m1-5h0m9 1h0m2-3h0m2 7h0m2-5h0m0 4h0m10-4h0m1 1h0m2 0h0m5 2h0m17-5h0m0 5h0m2 0h0m1 2h0m4 0h0m3-7h0m3 6h0m0-6h0m8 1h0m3 0h0m4-1h0m3 7h0m5-7h0m5 6h0m1-5h0m3 5h0m4-5h0m0 1h0m1 1h0m1 4h0m1 0h0m8-5h0m2 5h0m-647 5h0m7 0h0m1 0h0m3 1h0m0-3h0m2 0h0m2-2h0m13 7h0m11-2h0m1-1h0m2 3h0m9-5h0m1 1h0m11 3h0m3 0h0m3 1h0m8-1h0m10-2h0m11-1h0m1-2h0m1 6h0m11-2h0m8-4h0m4 1h0m3 4h0m9-2h0m0 1h0m7 1h0m1-2h0m5 0h0m7-4h0m3 3h0m0 2h0m1-3h0m2 1h0m2 2h0m4-1h0m2-1h0m1 4h0m2 0h0m1-1h0m2-6h0m3 4h0m2-4h0m7 7h0m14-2h0m6 1h0m2-3h0m2 2h0m10-4h0m30 3h0m4 1h0m1-4h0m17 2h0m5 2h0m9-4h0m4 1h0m2-1h0m2 5h0m3-5h0m3 6h0m3-1h0m1-5h0m4 6h0m3-2h0m0-1h0m2-4h0m1 3h0m0-1h0m2 0h0m3 0h0m5 5h0m0-6h0m1 3h0m5-1h0m3-3h0m10 3h0m2 4h0m0-7h0m4 0h0m2 5h0m0 1h0m8-1h0m2-3h0m1 4h0m2 0h0m1-2h0m3-2h0m0 3h0m1 0h0m1-1h0m0-4h0m10 4h0m2-3h0m4 0h0m4-1h0m3 3h0m1 0h0m4-2h0m1 4h0m2-1h0m1-1h0m7 4h0m3-2h0m4 2h0m1 0h0m5-3h0m39-2h0m6-1h0m3 0h0m2 5h0m5-2h0m1 3h0m1-1h0m4-2h0m1 1h0m21 1h0m4-1h0m1-1h0m6 3h0m1-5h0m6 0h0m14-2h0m6 5h0m0-5h0m12 1h0m2 0h0m6 1h0m3 1h0m1-3h0m2 0h0m3 0h0m5 4h0m1-2h0m2 3h0m3 1h0m0-6h0m2 1h0m4-1h0m4 0h0m20 0h0m8 0h0m4 3h0m5 0h0m3-1h0m5-1h0m3 2h0m2-1h0m-651 9h0m9 1h0m5-1h0m2-1h0m0 2h0m6-4h0m15 0h0m7 6h0m2-4h0m0 2h0m2-1h0m0 2h0m1-5h0m1 0h0m0 1h0m8 3h0m3-2h0m1 5h0m2-1h0m4-2h0m4-2h0m17-1h0m10-1h0m13 1h0m15 1h0m3-1h0m9 1h0m4 4h0m6-4h0m6-1h0m10-1h0m1 4h0m6 0h0m2-4h0m1 5h0m6-3h0m2 2h0m3-2h0m9 0h0m1 4h0m1-3h0m1 1h0m6 3h0m8 0h0m7-6h0m7 6h0m14-5h0m31 0h0m8 5h0m13-5h0m1 3h0m6 0h0m2 1h0m1-1h0m3-4h0m1 6h0m1-1h0m4-2h0m9 1h0m1 2h0m1-5h0m2 4h0m3 0h0m2-3h0m9-1h0m2 1h0m2 0h0m2 1h0m1 1h0m21-2h0m4-3h0m0 4h0m4 3h0m1-2h0m6 1h0m4-4h0m5 3h0m12 1h0m0-1h0m1-1h0m1 3h0m9-6h0m5 5h0m1-5h0m0 1h0m3-1h0m1 5h0m0 1h0m1 0h0m1-5h0m6-1h0m3 5h0m6-1h0m24-5h0m1 0h0m7 3h0m8 4h0m4-2h0m19-2h0m6 1h0m9-2h0m7 0h0m10 5h0m7-2h0m8-4h0m1 6h0m3-7h0m2 5h0m4-3h0m4-2h0m7 7h0m1-6h0m1 5h0m9-3h0m1-3h0m5 3h0m1-2h0m1 3h0m9-3h0m1 6h0m0-6h0m1 6h0m15-6h0m14 5h0m0-5h0m2 4h0m7-1h0m-627 5h0m1 4h0m7-5h0m5 7h0m3-5h0m14-1h0m16 2h0m0 4h0m5-2h0m2 2h0m1-2h0m6-4h0m11 6h0m26-7h0m16 1h0m2 1h0m20-2h0m4 0h0m1 4h0m24-3h0m6 2h0m0 4h0m1-4h0m5 2h0m2 0h0m6-1h0m1-1h0m5 4h0m7-2h0m12-2h0m0 2h0m7-2h0m26-3h0m8 0h0m2 6h0m3-2h0m2-4h0m5 7h0m11-1h0m3-6h0m3 6h0m15-4h0m5 0h0m2 2h0m1-4h0m2 4h0m2-4h0m2 2h0m2-2h0m1 0h0m4 6h0m2-5h0m5 6h0m9-4h0m4 3h0m9-6h0m16 4h0m1 2h0m1-5h0m2 2h0m2-3h0m1 7h0m9-7h0m11 1h0m0 6h0m1-1h0m2-6h0m1 6h0m1-5h0m1 1h0m2 5h0m4-4h0m3 1h0m3 3h0m0-5h0m1 5h0m5-2h0m1-4h0m2 5h0m8-2h0m1 1h0m6 1h0m2 1h0m5-4h0m3 0h0m9-3h0m1 1h0m1 2h0m3-2h0m2 3h0m1-1h0m3 4h0m2-6h0m0 2h0m11-2h0m2 2h0m0 3h0m1-5h0m3-1h0m3 5h0m4-3h0m4 5h0m15-5h0m15 4h0m0-4h0m11 1h0m15-1h0m12-2h0m1 3h0m1-3h0m6 2h0m3 2h0m3 2h0m11-4h0m17 0h0m0 4h0m6-4h0m8 3h0m9-5h0m12 7h0m-646 8h0m3-5h0m7-2h0m2 0h0m1 0h0m1 6h0m0-1h0m4-3h0m6-2h0m11 1h0m1 5h0m26-6h0m2 4h0m9 0h0m8-2h0m0 2h0m0 2h0m6-6h0m11 1h0m7 4h0m5-1h0m6 0h0m26-4h0m0 4h0m7 1h0m6-5h0m1 2h0m11 0h0m16 5h0m4-5h0m2-1h0m3 6h0m4-1h0m0-3h0m0 4h0m3-2h0m3 1h0m0-5h0m2 5h0m5 0h0m8-1h0m4 2h0m5-4h0m5-3h0m13 0h0m4 1h0m7 6h0m0-4h0m5-3h0m23 1h0m16 3h0m12 1h0m0-1h0m2 0h0m1-3h0m13 4h0m0 2h0m5-1h0m1-4h0m4-2h0m2 7h0m17-1h0m1-6h0m13 4h0m6 2h0m5 0h0m1 1h0m1-6h0m3 5h0m4-1h0m1-5h0m0 2h0m5 1h0m3-1h0m1 0h0m9-2h0m7 2h0m3 3h0m7-5h0m7 4h0m2 2h0m1-1h0m8 1h0m2 0h0m5-2h0m1 0h0m0 3h0m2-3h0m6 2h0m3-2h0m3 3h0m4-1h0m0-3h0m1 3h0m6 1h0m7-3h0m24-2h0m0 3h0m6 1h0m10 0h0m7-5h0m42 5h0m9-2h0m0-3h0m17 6h0m2 0h0m7-4h0m4-1h0m3-2h0m3 5h0m3-4h0m8 5h0m7 1h0m1-6h0m3 6h0m0-5h0m1 1h0m2 1h0m2-1h0m-644 11h0m3 0h0m6-4h0m1 0h0m0 3h0m0 2h0m9-7h0m2 7h0m8-3h0m7 2h0m2-4h0m1-1h0m5 5h0m2-3h0m1 2h0m15-1h0m1-2h0m20 5h0m6-7h0m3 0h0m2 7h0m11-5h0m1 1h0m3 2h0m5-4h0m0 2h0m11 0h0m0 4h0m2-6h0m7 3h0m4-3h0m1 0h0m2 3h0m18-4h0m7 2h0m3 0h0m3 5h0m2-5h0m0 2h0m0-3h0m17 5h0m1-2h0m10-4h0m0 2h0m1 1h0m0 2h0m1-2h0m4 2h0m2-3h0m3 0h0m3-2h0m1 5h0m5 0h0m7-2h0m9 3h0m3 1h0m13-1h0m7 1h0m3-1h0m6 1h0m1 0h0m2-7h0m12 7h0m0-1h0m7-3h0m2 0h0m4-2h0m1 0h0m6 6h0m3-2h0m2-5h0m1 5h0m3-3h0m3 2h0m0 2h0m5 0h0m5-3h0m2 1h0m0-3h0m5 1h0m10-1h0m20 5h0m8-1h0m1-5h0m1 6h0m4-3h0m7-1h0m2 0h0m1 3h0m1-5h0m11 7h0m6 0h0m13-3h0m18-3h0m2-1h0m11 6h0m6-1h0m1 0h0m6-1h0m2-4h0m1 4h0m0-1h0m1-2h0m1 3h0m1 0h0m3 0h0m1 0h0m1 1h0m7-4h0m4 3h0m5 1h0m13 0h0m1-4h0m8 4h0m12 1h0m37-5h0m5 2h0m3-2h0m5 6h0m5-4h0m4 0h0m0 2h0m5-3h0m44 3h0m8-3h0m6 0h0m-647 12h0m10 1h0m0-5h0m7 2h0m4 1h0m5-3h0m4 5h0m0-3h0m12 0h0m1 0h0m1 1h0m3 0h0m3-3h0m2-2h0m2 6h0m4-6h0m4 5h0m2 0h0m7-5h0m1 6h0m6-3h0m12-1h0m4-1h0m3 3h0m6 3h0m0-5h0m5 4h0m3-4h0m3-2h0m2 3h0m18 4h0m8-7h0m3 2h0m20 0h0m9 4h0m0-5h0m9 0h0m7 3h0m1 2h0m0 1h0m1-1h0m2 0h0m3-3h0m7 2h0m3-2h0m2 2h0m2-4h0m1-1h0m5 7h0m3-4h0m0 4h0m0-5h0m1-2h0m1 5h0m6 0h0m4-2h0m8 0h0m2 3h0m1-1h0m2 1h0m3-5h0m4-1h0m15 4h0m7-4h0m2 0h0m4 5h0m0 2h0m1-6h0m6 0h0m2 1h0m0 5h0m2-2h0m3-3h0m4 5h0m4-7h0m14 1h0m8 2h0m1 2h0m1 0h0m7-5h0m2 6h0m5-1h0m1-4h0m0 1h0m3 4h0m17-2h0m2-1h0m2-2h0m4 3h0m5 0h0m1-3h0m1 0h0m2 6h0m5-6h0m1 4h0m10-3h0m0 2h0m7 2h0m20-4h0m14 5h0m3-2h0m2-4h0m1 3h0m5 3h0m9 0h0m1 0h0m0-5h0m3 3h0m4-3h0m2-1h0m0 3h0m17-4h0m5 1h0m1 0h0m0 6h0m20-2h0m0-3h0m8 4h0m7-6h0m11 1h0m18 2h0m7 3h0m2 0h0m6-5h0m12 5h0m9-3h0m9-3h0m18 6h0m5-2h0m4-1h0m1-1h0m10 2h0m18-1h0m-653 6h0m7 1h0m5-1h0m4-1h0m6 1h0m1 4h0m7-1h0m2-4h0m0 3h0m7-1h0m3 3h0m1-2h0m1 1h0m3-3h0m5 2h0m6 1h0m8-2h0m0 2h0m17 3h0m1-4h0m9-2h0m14 3h0m12-1h0m3 3h0m10-5h0m28 2h0m6 2h0m7-2h0m1-1h0m9-2h0m4 2h0m5-2h0m2 7h0m15-6h0m7 6h0m2-5h0m6 5h0m5-3h0m14-2h0m7-1h0m1-1h0m6 3h0m1 4h0m1-5h0m8-2h0m19 3h0m10 2h0m17-4h0m14-1h0m3 5h0m3 0h0m2-4h0m3 0h0m1 2h0m2 3h0m10-1h0m4-3h0m0 4h0m17-2h0m1-1h0m8-1h0m5 5h0m2-6h0m9 6h0m1-1h0m1-2h0m2-1h0m0 1h0m8 1h0m0-1h0m1 3h0m6-7h0m15 6h0m4-4h0m2-2h0m0 4h0m1 0h0m5-3h0m5 0h0m4 0h0m10 6h0m0-3h0m1-3h0m10 1h0m1 4h0m7-5h0m7 5h0m0-5h0m1-1h0m3 6h0m1-3h0m5 0h0m3-2h0m2 1h0m2 5h0m4-3h0m2-4h0m2 2h0m3 2h0m8 0h0m1 1h0m3-1h0m13 1h0m5-5h0m0 2h0m9 1h0m4-2h0m13 4h0m8-4h0m1 3h0m7-1h0m4 3h0m9-5h0m0 2h0m4-2h0m1 2h0m3 0h0m5-1h0m4-1h0m2 6h0m1-4h0m0 2h0m13 1h0m1-4h0m2 3h0m3-4h0m10 6h0m2 0h0m0-7h0m-647 8h0m24 4h0m7-3h0m12 3h0m5 1h0m7-1h0m6 1h0m3-3h0m4 2h0m0-1h0m2-3h0m5 3h0m2-3h0m6 0h0m5 6h0m4-2h0m13 2h0m12-5h0m1 5h0m10-1h0m0-5h0m4 6h0m4-4h0m12-1h0m30 1h0m14-1h0m4-1h0m3 5h0m9-5h0m11 6h0m1 0h0m2 0h0m3-4h0m0 2h0m13-3h0m4 6h0m1-7h0m3 7h0m2-4h0m11 4h0m19-1h0m7-5h0m8 6h0m12-4h0m8-2h0m2 5h0m4-1h0m8-3h0m1 4h0m8-2h0m1-4h0m7 7h0m2-6h0m2 3h0m14-2h0m10 2h0m2-2h0m0 3h0m5-1h0m4-1h0m1-1h0m5 1h0m5 4h0m0-5h0m3-2h0m2 0h0m5 1h0m3 5h0m21-1h0m8 2h0m1-3h0m2-1h0m2 3h0m11-3h0m0 4h0m2 0h0m2 0h0m0-1h0m0-5h0m9 5h0m6 0h0m8-3h0m3 2h0m6-4h0m2-1h0m5 6h0m7 0h0m6 1h0m2-3h0m2 2h0m2-2h0m0 1h0m3 2h0m24-7h0m13 4h0m4 0h0m1 0h0m1-3h0m4 3h0m2-4h0m1 6h0m3-5h0m4 3h0m15 3h0m1-6h0m2 1h0m2 5h0m3-6h0m1 1h0m0 2h0m2-2h0m6-1h0m1-1h0m9 0h0m1 6h0m3 1h0m3-4h0m1 3h0m2-5h0m1 0h0m2 3h0m9 3h0m2-7h0m1 5h0m1-5h0m3 5h0m-637 4h0m32 6h0m6 0h0m2-1h0m10 0h0m2 1h0m5-1h0m13-3h0m2 1h0m1 1h0m4-5h0m6 6h0m11-2h0m1 3h0m6-5h0m1 2h0m6-1h0m3 0h0m1-2h0m2-1h0m0 3h0m1 4h0m4-2h0m0-1h0m11-4h0m2 2h0m25-2h0m2 0h0m12 1h0m9 1h0m1 0h0m6 3h0m5-4h0m4-1h0m2 1h0m10 0h0m2-1h0m16 1h0m5 0h0m7 4h0m1-1h0m0 1h0m4 2h0m8-4h0m0-1h0m7 3h0m3 2h0m1-2h0m12-4h0m1 2h0m5 2h0m1-2h0m1 3h0m15-4h0m3 1h0m5-1h0m3 0h0m3 4h0m9-3h0m8 4h0m7 0h0m5-1h0m10-5h0m5 3h0m5-1h0m2 0h0m1-3h0m8 1h0m2 3h0m1 3h0m0-4h0m7 3h0m1 0h0m1 1h0m5-3h0m1 2h0m10 1h0m4-2h0m1 2h0m3-5h0m2 4h0m2 1h0m8-2h0m5-3h0m2 4h0m3-3h0m1 0h0m2-1h0m1 2h0m2-1h0m0-3h0m1 4h0m1 1h0m5-1h0m7-1h0m1 2h0m6-4h0m0 1h0m1-1h0m18 5h0m2 0h0m8-3h0m4 4h0m3-2h0m6-4h0m1-1h0m0 2h0m1 3h0m3 2h0m0-3h0m2 0h0m6-2h0m2-1h0m5 5h0m0-3h0m3-2h0m30 2h0m4-1h0m1-1h0m1 2h0m4-3h0m4 2h0m2 4h0m9-4h0m0 1h0m4-3h0m0 2h0m7 1h0m1-3h0m1 2h0m6-2h0m4 0h0m4 5h0m1-5h0m1 7h0m12-7h0m0 2h0m3 2h0m4 1h0m1 2h0m1-5h0m1-2h0m1 6h0m1 1h0m5-1h0m6-4h0m-643 9h0m11-1h0m23 0h0m10-2h0m15 4h0m12-2h0m4 0h0m44-2h0m10 1h0m55 1h0m1-2h0m20 3h0m3 0h0m8 0h0m20 1h0m27-3h0m32 1h0m12 0h0m18-1h0m30 2h0m1-3h0m7 1h0m5 1h0m2-1h0m8 0h0m5 1h0m7-1h0m1 1h0m3-2h0m9 1h0m1-1h0m2 2h0m9-2h0m0 2h0m11-1h0m4 0h0m1-1h0m6 3h0m3 0h0m13-2h0m3 1h0m12 2h0m16-2h0m29 1h0m1-3h0m7 3h0m3 0h0m10 0h0m1-1h0m20 0h0m7 0h0m15 0h0m1 1h0m7-1h0m3 0h0m7 0h0m7-1h0m1 0h0m0 1h0m9 2h0m3-4h0m3 3h0m9 0h0m6-3h0m1 0h0"/></defs>
<g filter="url(#bl)"><use href="#pa_ilnps" transform="scale(.5)" fill="none" stroke-linecap="round" stroke="#0400fc" stroke-width="6.8" stroke-opacity=".6"/><use href="#pb_ilnps" transform="scale(.5)" fill="none" stroke-linecap="round" stroke="#0400f0" stroke-width="6.8" stroke-opacity=".45"/></g>
<use href="#pb_ilnps" transform="scale(.5)" fill="none" stroke-linecap="round" stroke="#0a0af0" stroke-width="4.0" stroke-opacity=".5"/>
<use href="#pa_ilnps" transform="scale(.5)" fill="none" stroke-linecap="round" stroke="#0c0cff" stroke-width="4.0" stroke-opacity=".9"/>
<path fill="none" stroke-linecap="round" stroke="#c8f020" stroke-width="2.1" stroke-opacity="1.0" d="M542.3 868.3h0M536.4 857.5h0M533.3 846.3h0M535.5 875.2h0M555.5 862.2h0M554.5 848.7h0M551.0 856.0h0M521.6 886.3h0M536.0 846.5h0M543.4 886.7h0M535.9 846.0h0M520.3 843.6h0M522.4 909.9h0M533.5 868.0h0M540.2 902.5h0M529.2 890.3h0M534.3 846.2h0M538.8 871.6h0M523.2 891.6h0M540.0 891.8h0M521.7 836.9h0M528.3 877.4h0M527.2 837.0h0M537.9 872.3h0M544.0 857.1h0M542.9 851.2h0M533.8 863.2h0M533.5 840.1h0M528.0 884.6h0M531.7 872.0h0M544.8 843.7h0M537.9 862.4h0M519.2 878.6h0M546.4 898.1h0M542.3 825.8h0M524.9 827.9h0M543.1 854.0h0M550.2 851.0h0M528.1 867.6h0M534.5 884.6h0M536.4 892.7h0M528.0 854.7h0M530.1 867.5h0M534.1 842.1h0M529.3 862.8h0M538.4 842.2h0M520.4 869.6h0M536.0 843.4h0M529.1 838.6h0M543.8 826.1h0M543.3 874.5h0M535.1 822.9h0M534.6 842.5h0M538.1 848.5h0M526.0 910.9h0M552.5 849.3h0M541.8 901.3h0M549.3 882.4h0M533.4 884.5h0M534.4 857.8h0M549.7 841.2h0M544.1 830.5h0M531.3 911.0h0M526.2 910.0h0M551.9 915.9h0M549.3 872.0h0M543.3 898.0h0M541.7 904.3h0M549.2 924.7h0M536.5 881.9h0M556.3 907.2h0M545.5 888.2h0M551.3 908.2h0M539.2 910.0h0M566.2 893.7h0M537.9 899.9h0M541.3 907.6h0M605.9 855.3h0M603.5 886.1h0M601.4 897.8h0M627.9 961.6h0M611.7 897.3h0M619.6 952.5h0M617.1 992.0h0M576.1 930.7h0M583.7 919.4h0M610.7 961.4h0M586.0 939.1h0M590.3 946.2h0M598.6 884.8h0M557.1 921.8h0M565.4 863.0h0M619.4 953.6h0M581.6 938.4h0M588.7 866.4h0M581.1 902.7h0M579.5 914.1h0M574.1 937.5h0M566.1 991.7h0M630.4 953.3h0M619.8 931.0h0M602.9 966.2h0M588.4 884.3h0M654.7 925.1h0M602.9 880.7h0M591.2 908.6h0M584.6 912.0h0M616.5 827.2h0M595.8 938.9h0M609.5 881.2h0M584.8 912.7h0M597.2 880.0h0M595.5 991.2h0M647.5 894.6h0M578.8 922.3h0M636.5 895.5h0M600.8 884.7h0M605.1 895.7h0M572.9 945.7h0M609.3 882.8h0M627.7 973.7h0M558.2 947.0h0M592.6 909.8h0M586.1 922.3h0M606.1 944.9h0M583.0 892.3h0M608.7 857.6h0M596.5 904.0h0M645.5 914.8h0M559.7 917.5h0M608.9 959.2h0M627.3 901.2h0M566.1 862.8h0M582.8 938.9h0M555.6 892.2h0M590.5 919.5h0M581.6 862.2h0M611.0 888.2h0M555.7 999.1h0M577.3 919.5h0M589.4 895.6h0M612.0 862.6h0M629.8 850.1h0M612.1 889.9h0M595.6 912.7h0M550.2 873.4h0M627.5 855.5h0M599.2 902.5h0M617.4 861.3h0M618.9 894.5h0M638.0 995.4h0M618.9 944.6h0M582.6 878.8h0M614.2 927.8h0M605.7 956.1h0M568.0 878.8h0M637.8 977.8h0M576.7 842.1h0M615.9 885.9h0M577.5 934.1h0M595.2 915.4h0M607.4 876.8h0M595.9 889.7h0M608.4 911.7h0M572.5 921.6h0M573.0 879.2h0M600.2 1010.5h0M582.9 883.6h0M604.8 926.7h0M655.9 858.4h0M571.4 848.5h0M595.5 892.4h0M600.3 943.7h0M571.0 901.4h0M644.2 959.3h0M598.6 926.4h0M560.8 944.6h0M546.0 907.3h0M571.1 928.0h0M620.0 924.7h0M610.5 921.3h0M594.6 869.7h0M623.9 896.3h0M609.0 955.9h0M605.6 912.5h0M639.6 986.0h0M561.4 870.3h0M562.1 888.3h0M605.1 876.3h0M581.7 930.4h0M628.6 850.1h0M628.1 877.4h0M653.2 875.1h0M641.8 867.0h0M629.0 882.6h0M635.2 849.8h0M630.1 878.3h0M645.8 853.5h0M633.7 864.1h0M636.4 866.9h0M643.2 867.5h0M638.9 893.0h0M622.8 875.0h0M631.0 865.0h0M636.5 841.3h0M629.7 841.9h0M643.7 832.9h0M657.1 878.4h0M636.6 871.0h0M635.2 889.9h0M453.0 827.4h0M458.5 908.9h0M426.9 887.6h0M471.1 877.5h0M443.3 866.0h0M446.1 907.4h0M489.2 869.5h0M517.4 1017.2h0M476.6 1005.5h0M550.2 959.3h0M498.1 1001.5h0M493.5 973.5h0M462.8 1010.6h0M601.8 989.0h0M620.2 989.1h0M600.7 1001.1h0M599.5 987.8h0M603.9 974.0h0M589.0 1000.0h0M616.6 992.1h0M596.3 995.7h0"/>
<path fill="none" stroke-linecap="round" stroke="#a8dc20" stroke-width="1.6" stroke-opacity="1.0" d="M529.8 856.0h0M559.4 850.1h0M547.3 847.3h0M544.4 835.2h0M546.4 863.3h0M529.8 865.1h0M546.0 890.1h0M548.6 846.0h0M545.3 843.3h0M518.1 866.0h0M541.3 853.9h0M536.3 840.4h0M551.8 884.6h0M531.7 843.7h0M539.9 859.7h0M540.7 857.2h0M540.3 903.9h0M530.2 866.9h0M532.9 871.5h0M544.9 874.7h0M526.6 837.4h0M536.5 857.8h0M522.5 880.1h0M539.1 836.9h0M538.8 858.7h0M536.7 841.5h0M546.0 848.1h0M542.6 891.4h0M549.3 835.3h0M527.9 834.5h0M529.7 870.9h0M552.3 886.2h0M537.6 865.7h0M546.2 856.4h0M543.3 863.4h0M523.3 840.1h0M529.8 851.6h0M528.4 904.4h0M546.2 860.5h0M538.2 871.0h0M527.5 830.8h0M534.3 860.0h0M522.3 830.8h0M528.4 844.6h0M544.2 883.5h0M525.6 834.1h0M554.6 854.9h0M537.4 839.7h0M530.0 899.9h0M534.4 849.2h0M559.0 893.3h0M526.3 842.5h0M522.7 870.3h0M531.7 843.3h0M533.2 844.1h0M540.0 835.4h0M539.6 865.0h0M527.7 841.1h0M524.6 845.2h0M539.1 849.2h0M558.5 861.6h0M540.3 830.5h0M543.8 883.1h0M543.9 911.0h0M524.2 852.8h0M553.1 904.9h0M529.6 897.6h0M560.4 891.2h0M537.0 886.3h0M528.7 907.7h0M538.5 890.1h0M541.9 891.3h0M544.8 883.0h0M559.1 891.9h0M540.2 904.4h0M544.7 893.1h0M554.5 932.0h0M590.6 848.3h0M609.4 903.6h0M638.6 838.6h0M616.0 925.3h0M575.8 947.7h0M598.5 958.4h0M602.0 827.7h0M567.7 943.1h0M608.3 878.3h0M587.7 899.9h0M624.5 885.8h0M601.6 982.2h0M570.0 884.1h0M640.4 846.0h0M594.7 871.4h0M583.0 901.2h0M643.6 870.2h0M611.6 931.1h0M654.7 998.5h0M591.7 932.2h0M626.5 966.4h0M579.5 857.5h0M601.6 954.3h0M576.8 902.5h0M640.8 911.2h0M624.9 890.2h0M606.7 945.2h0M605.8 934.3h0M602.4 841.5h0M576.0 938.1h0M589.5 936.0h0M618.4 855.4h0M547.6 938.7h0M620.0 959.0h0M588.1 962.4h0M641.3 891.0h0M600.9 916.1h0M618.9 1012.7h0M611.3 965.0h0M600.7 871.1h0M631.4 907.3h0M596.3 878.5h0M560.2 865.8h0M590.1 927.5h0M596.2 935.3h0M559.4 928.2h0M623.7 924.7h0M587.7 831.4h0M540.3 928.4h0M597.6 907.7h0M621.1 914.0h0M628.0 963.7h0M608.5 931.9h0M619.4 898.3h0M607.7 886.5h0M634.4 940.9h0M575.2 875.8h0M611.7 1010.0h0M607.7 945.8h0M619.5 857.2h0M599.3 929.2h0M565.3 862.4h0M589.6 904.1h0M587.9 987.6h0M589.2 942.5h0M580.4 974.6h0M567.1 900.6h0M612.1 907.9h0M583.4 854.3h0M606.3 916.7h0M574.0 908.9h0M629.5 878.2h0M637.2 973.8h0M558.2 854.7h0M570.1 932.1h0M599.8 843.8h0M638.6 943.7h0M594.1 914.3h0M597.3 951.5h0M588.2 907.6h0M621.7 850.1h0M593.5 954.3h0M576.5 907.2h0M567.0 897.6h0M612.4 929.9h0M602.6 877.1h0M630.3 903.6h0M588.5 969.5h0M590.4 895.2h0M593.6 965.3h0M595.7 975.5h0M584.6 903.6h0M545.8 898.8h0M543.7 922.3h0M617.5 950.7h0M561.1 922.4h0M633.1 903.5h0M617.0 856.7h0M619.6 906.7h0M558.0 874.0h0M617.2 946.8h0M603.3 929.9h0M641.3 862.1h0M568.5 919.1h0M612.8 904.6h0M634.6 930.6h0M652.3 912.4h0M608.6 836.1h0M637.5 916.9h0M603.9 894.2h0M559.9 854.4h0M567.8 873.7h0M621.2 941.8h0M653.5 862.3h0M622.5 890.2h0M601.4 866.2h0M662.2 846.5h0M635.3 883.2h0M623.3 858.0h0M639.2 825.6h0M621.7 902.1h0M641.2 838.6h0M628.7 868.4h0M613.0 855.1h0M642.9 870.9h0M661.7 863.1h0M642.2 853.8h0M632.1 861.7h0M653.8 863.3h0M633.1 855.3h0M633.8 873.6h0M633.9 861.8h0M458.6 872.9h0M439.7 853.2h0M469.3 865.9h0M467.0 875.8h0M446.8 865.9h0M469.3 881.7h0M489.0 894.5h0M487.2 986.4h0M519.5 1017.1h0M516.5 999.6h0M510.5 995.3h0M491.6 1003.4h0M516.2 1012.7h0M601.4 998.4h0M606.1 982.2h0M592.2 1000.2h0M624.6 1000.5h0M600.1 987.6h0M591.9 991.0h0M610.7 980.3h0M604.1 998.7h0"/>
<rect x="566" y="1040.4" width="112.3" height="14.6" fill="#8a4630"/>
<path d="M567 1051.3H677.3M567.3 1049.5V1053.2M677 1049.5V1053.2" stroke="#2a1414" stroke-width="1" fill="none"/>
<text x="621.8" y="1049" text-anchor="middle" fill="#1c1030" style="font-size:7.2px">200 µm</text>
</g>
</svg></body></html>
